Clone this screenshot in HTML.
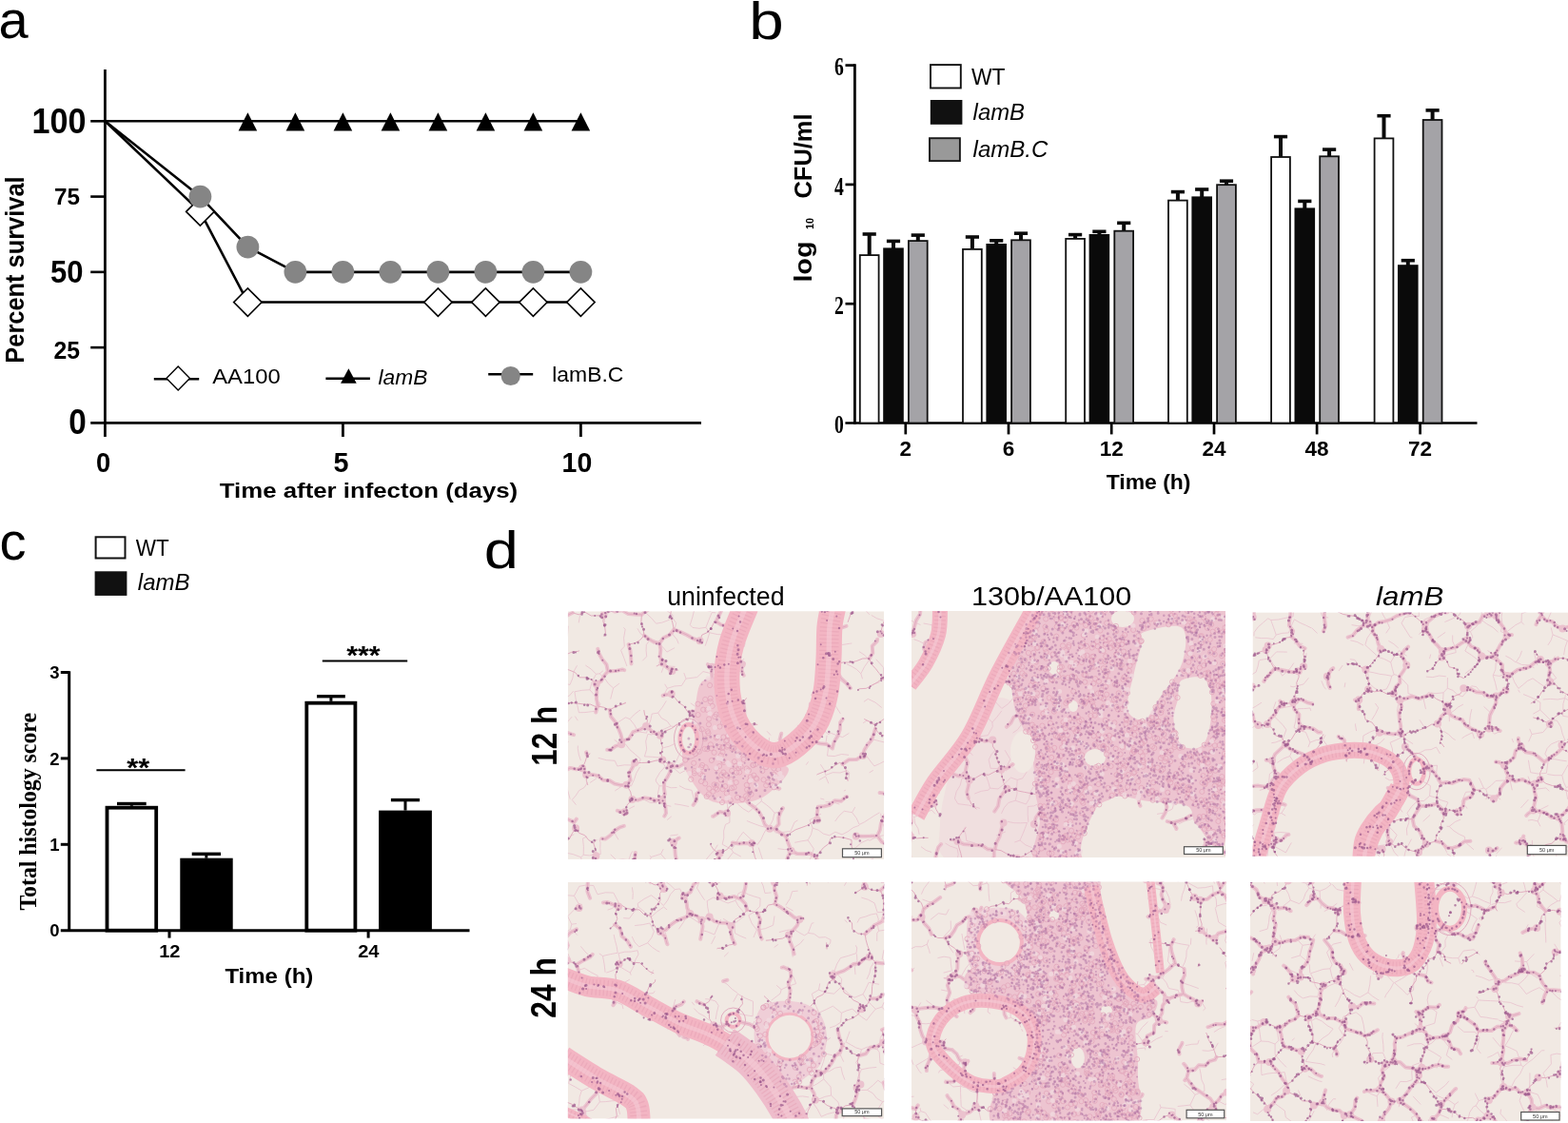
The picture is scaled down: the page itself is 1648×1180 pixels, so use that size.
<!DOCTYPE html>
<html><head><meta charset="utf-8"><title>Figure</title>
<style>html,body{margin:0;padding:0;background:#fff;}svg{display:block;}</style></head>
<body><svg width="1648" height="1180" viewBox="0 0 1648 1180">
<defs><filter id="soft" x="0" y="0" width="1" height="1"><feGaussianBlur stdDeviation="0.45"/></filter></defs>
<rect width="1648" height="1180" fill="#fff"/>
<text x="-1.5" y="40" font-family="'Liberation Sans', Arial, sans-serif" font-size="56" font-weight="normal" font-style="normal" text-anchor="start" fill="#000" >a</text>
<line x1="110.4" y1="73" x2="110.4" y2="459" stroke="#000" stroke-width="2.8" stroke-linecap="butt"/>
<line x1="95.2" y1="444.4" x2="737" y2="444.4" stroke="#000" stroke-width="2.6" stroke-linecap="butt"/>
<line x1="95.2" y1="206.575" x2="110.4" y2="206.575" stroke="#000" stroke-width="2.6" stroke-linecap="butt"/>
<line x1="95.2" y1="285.85" x2="110.4" y2="285.85" stroke="#000" stroke-width="2.6" stroke-linecap="butt"/>
<line x1="95.2" y1="365.125" x2="110.4" y2="365.125" stroke="#000" stroke-width="2.6" stroke-linecap="butt"/>
<line x1="95.2" y1="127.30000000000001" x2="110.4" y2="127.30000000000001" stroke="#000" stroke-width="2.6" stroke-linecap="butt"/>
<line x1="360.4" y1="444.4" x2="360.4" y2="459" stroke="#000" stroke-width="2.8" stroke-linecap="butt"/>
<line x1="610.4" y1="444.4" x2="610.4" y2="459" stroke="#000" stroke-width="2.8" stroke-linecap="butt"/>
<text x="90.5" y="140.3" font-family="'Liberation Sans', Arial, sans-serif" font-size="36.5" font-weight="bold" font-style="normal" text-anchor="end" fill="#000" textLength="57" lengthAdjust="spacingAndGlyphs" >100</text>
<text x="84" y="214.8" font-family="'Liberation Sans', Arial, sans-serif" font-size="24" font-weight="bold" font-style="normal" text-anchor="end" fill="#000" textLength="27" lengthAdjust="spacingAndGlyphs" >75</text>
<text x="87.5" y="297.3" font-family="'Liberation Sans', Arial, sans-serif" font-size="34" font-weight="bold" font-style="normal" text-anchor="end" fill="#000" textLength="34.5" lengthAdjust="spacingAndGlyphs" >50</text>
<text x="84" y="377.4" font-family="'Liberation Sans', Arial, sans-serif" font-size="25" font-weight="bold" font-style="normal" text-anchor="end" fill="#000" textLength="27.5" lengthAdjust="spacingAndGlyphs" >25</text>
<text x="90.8" y="456.3" font-family="'Liberation Sans', Arial, sans-serif" font-size="37.5" font-weight="bold" font-style="normal" text-anchor="end" fill="#000" textLength="18.5" lengthAdjust="spacingAndGlyphs" >0</text>
<text x="108.6" y="496.2" font-family="'Liberation Sans', Arial, sans-serif" font-size="30" font-weight="bold" font-style="normal" text-anchor="middle" fill="#000" textLength="15.2" lengthAdjust="spacingAndGlyphs" >0</text>
<text x="358.6" y="496.2" font-family="'Liberation Sans', Arial, sans-serif" font-size="30" font-weight="bold" font-style="normal" text-anchor="middle" fill="#000" textLength="16" lengthAdjust="spacingAndGlyphs" >5</text>
<text x="606.4" y="496.2" font-family="'Liberation Sans', Arial, sans-serif" font-size="30" font-weight="bold" font-style="normal" text-anchor="middle" fill="#000" textLength="31.7" lengthAdjust="spacingAndGlyphs" >10</text>
<text x="230.8" y="523" font-family="'Liberation Sans', Arial, sans-serif" font-size="22.5" font-weight="bold" font-style="normal" text-anchor="start" fill="#000" textLength="313.4" lengthAdjust="spacingAndGlyphs" >Time after infecton (days)</text>
<text transform="translate(25.4,381.7) rotate(-90)" font-family="'Liberation Sans', Arial, sans-serif" font-size="28" font-weight="bold" textLength="196.3" lengthAdjust="spacingAndGlyphs">Percent survival</text>
<line x1="110.4" y1="127.30000000000001" x2="610.4" y2="127.30000000000001" stroke="#000" stroke-width="2.6" stroke-linecap="butt"/>
<polygon points="250.60,137.60 270.20,137.60 260.40,118.20" fill="#000"/>
<polygon points="300.60,137.60 320.20,137.60 310.40,118.20" fill="#000"/>
<polygon points="350.60,137.60 370.20,137.60 360.40,118.20" fill="#000"/>
<polygon points="400.60,137.60 420.20,137.60 410.40,118.20" fill="#000"/>
<polygon points="450.60,137.60 470.20,137.60 460.40,118.20" fill="#000"/>
<polygon points="500.60,137.60 520.20,137.60 510.40,118.20" fill="#000"/>
<polygon points="550.60,137.60 570.20,137.60 560.40,118.20" fill="#000"/>
<polygon points="600.60,137.60 620.20,137.60 610.40,118.20" fill="#000"/>
<polyline points="110.40,127.30 210.40,206.57 260.40,259.53 310.40,285.85 360.40,285.85 410.40,285.85 460.40,285.85 510.40,285.85 560.40,285.85 610.40,285.85" fill="none" stroke="#000" stroke-width="2.6" stroke-linejoin="round"/>
<polyline points="110.40,127.30 210.40,222.43 260.40,317.56 610.40,317.56" fill="none" stroke="#000" stroke-width="2.6" stroke-linejoin="round"/>
<polygon points="195.65,222.43 210.40,207.68 225.15,222.43 210.40,237.18" fill="#fff" stroke="#000" stroke-width="1.6"/>
<polygon points="245.65,317.56 260.40,302.81 275.15,317.56 260.40,332.31" fill="#fff" stroke="#000" stroke-width="1.6"/>
<polygon points="445.65,317.56 460.40,302.81 475.15,317.56 460.40,332.31" fill="#fff" stroke="#000" stroke-width="1.6"/>
<polygon points="495.65,317.56 510.40,302.81 525.15,317.56 510.40,332.31" fill="#fff" stroke="#000" stroke-width="1.6"/>
<polygon points="545.65,317.56 560.40,302.81 575.15,317.56 560.40,332.31" fill="#fff" stroke="#000" stroke-width="1.6"/>
<polygon points="595.65,317.56 610.40,302.81 625.15,317.56 610.40,332.31" fill="#fff" stroke="#000" stroke-width="1.6"/>
<circle cx="210.40" cy="206.57" r="11.9" fill="#858585"/>
<circle cx="260.40" cy="259.53" r="11.9" fill="#858585"/>
<circle cx="310.40" cy="285.85" r="11.9" fill="#858585"/>
<circle cx="360.40" cy="285.85" r="11.9" fill="#858585"/>
<circle cx="410.40" cy="285.85" r="11.9" fill="#858585"/>
<circle cx="460.40" cy="285.85" r="11.9" fill="#858585"/>
<circle cx="510.40" cy="285.85" r="11.9" fill="#858585"/>
<circle cx="560.40" cy="285.85" r="11.9" fill="#858585"/>
<circle cx="610.40" cy="285.85" r="11.9" fill="#858585"/>
<line x1="161.8" y1="398.2" x2="209.2" y2="398.2" stroke="#000" stroke-width="2.6" stroke-linecap="butt"/>
<polygon points="174.90,397.50 187.20,384.95 199.50,397.50 187.20,410.05" fill="#fff" stroke="#000" stroke-width="1.4"/>
<text x="223.2" y="402.8" font-family="'Liberation Sans', Arial, sans-serif" font-size="21.6" font-weight="normal" font-style="normal" text-anchor="start" fill="#000" textLength="71.5" lengthAdjust="spacingAndGlyphs" >AA100</text>
<line x1="342.4" y1="397.7" x2="388.9" y2="397.7" stroke="#000" stroke-width="2.6" stroke-linecap="butt"/>
<polygon points="358.05,402.80 374.75,402.80 366.40,387.30" fill="#000"/>
<text x="397.5" y="404.2" font-family="'Liberation Sans', Arial, sans-serif" font-size="22.4" font-weight="normal" font-style="italic" text-anchor="start" fill="#000" textLength="51.8" lengthAdjust="spacingAndGlyphs" >lamB</text>
<line x1="513.2" y1="393.3" x2="560.2" y2="393.3" stroke="#000" stroke-width="2.6" stroke-linecap="butt"/>
<circle cx="536.7" cy="395" r="10.1" fill="#858585"/>
<text x="580.2" y="401.3" font-family="'Liberation Sans', Arial, sans-serif" font-size="22" font-weight="normal" font-style="normal" text-anchor="start" fill="#000" textLength="75.2" lengthAdjust="spacingAndGlyphs" >lamB.C</text>
<text transform="translate(787.2,40.5) scale(1.17,1)" font-family="'Liberation Sans', Arial, sans-serif" font-size="56">b</text>
<line x1="898.4" y1="67.3" x2="898.4" y2="445.8" stroke="#000" stroke-width="2.8" stroke-linecap="butt"/>
<line x1="888.4" y1="444.5" x2="1552.5" y2="444.5" stroke="#000" stroke-width="2.7" stroke-linecap="butt"/>
<line x1="888.5" y1="68.60000000000002" x2="898.4" y2="68.60000000000002" stroke="#000" stroke-width="2.7" stroke-linecap="butt"/>
<line x1="888.5" y1="193.9" x2="898.4" y2="193.9" stroke="#000" stroke-width="2.7" stroke-linecap="butt"/>
<line x1="888.5" y1="319.2" x2="898.4" y2="319.2" stroke="#000" stroke-width="2.7" stroke-linecap="butt"/>
<text x="886.8" y="79" font-family="'Liberation Serif', 'Times New Roman', serif" font-size="28" font-weight="bold" font-style="normal" text-anchor="end" fill="#000" textLength="9.8" lengthAdjust="spacingAndGlyphs" >6</text>
<text x="886.8" y="204.6" font-family="'Liberation Serif', 'Times New Roman', serif" font-size="28" font-weight="bold" font-style="normal" text-anchor="end" fill="#000" textLength="9.8" lengthAdjust="spacingAndGlyphs" >4</text>
<text x="886.8" y="330" font-family="'Liberation Serif', 'Times New Roman', serif" font-size="28" font-weight="bold" font-style="normal" text-anchor="end" fill="#000" textLength="9.8" lengthAdjust="spacingAndGlyphs" >2</text>
<text x="886.8" y="454.7" font-family="'Liberation Serif', 'Times New Roman', serif" font-size="28" font-weight="bold" font-style="normal" text-anchor="end" fill="#000" textLength="9.8" lengthAdjust="spacingAndGlyphs" >0</text>
<line x1="951.8" y1="444.5" x2="951.8" y2="456.4" stroke="#000" stroke-width="2.7" stroke-linecap="butt"/>
<text x="951.8" y="478.8" font-family="'Liberation Sans', Arial, sans-serif" font-size="22.5" font-weight="bold" font-style="normal" text-anchor="middle" fill="#000" >2</text>
<line x1="1060.0" y1="444.5" x2="1060.0" y2="456.4" stroke="#000" stroke-width="2.7" stroke-linecap="butt"/>
<text x="1060.0" y="478.8" font-family="'Liberation Sans', Arial, sans-serif" font-size="22.5" font-weight="bold" font-style="normal" text-anchor="middle" fill="#000" >6</text>
<line x1="1168.2" y1="444.5" x2="1168.2" y2="456.4" stroke="#000" stroke-width="2.7" stroke-linecap="butt"/>
<text x="1168.2" y="478.8" font-family="'Liberation Sans', Arial, sans-serif" font-size="22.5" font-weight="bold" font-style="normal" text-anchor="middle" fill="#000" >12</text>
<line x1="1276.0" y1="444.5" x2="1276.0" y2="456.4" stroke="#000" stroke-width="2.7" stroke-linecap="butt"/>
<text x="1276.0" y="478.8" font-family="'Liberation Sans', Arial, sans-serif" font-size="22.5" font-weight="bold" font-style="normal" text-anchor="middle" fill="#000" >24</text>
<line x1="1384.1" y1="444.5" x2="1384.1" y2="456.4" stroke="#000" stroke-width="2.7" stroke-linecap="butt"/>
<text x="1384.1" y="478.8" font-family="'Liberation Sans', Arial, sans-serif" font-size="22.5" font-weight="bold" font-style="normal" text-anchor="middle" fill="#000" >48</text>
<line x1="1492.6" y1="444.5" x2="1492.6" y2="456.4" stroke="#000" stroke-width="2.7" stroke-linecap="butt"/>
<text x="1492.6" y="478.8" font-family="'Liberation Sans', Arial, sans-serif" font-size="22.5" font-weight="bold" font-style="normal" text-anchor="middle" fill="#000" >72</text>
<text x="1162.7" y="513.6" font-family="'Liberation Sans', Arial, sans-serif" font-size="22.5" font-weight="bold" font-style="normal" text-anchor="start" fill="#000" textLength="88.8" lengthAdjust="spacingAndGlyphs" >Time (h)</text>
<text transform="translate(853.4,296.6) rotate(-90)" font-family="'Liberation Sans', Arial, sans-serif" font-weight="bold" font-size="25"><tspan textLength="43" lengthAdjust="spacingAndGlyphs">log</tspan></text>
<text transform="translate(855.4,240.9) rotate(-90)" font-family="'Liberation Sans', Arial, sans-serif" font-weight="bold" font-size="11.5"><tspan textLength="12" lengthAdjust="spacingAndGlyphs">10</tspan></text>
<text transform="translate(853.4,208.5) rotate(-90)" font-family="'Liberation Sans', Arial, sans-serif" font-weight="bold" font-size="25"><tspan textLength="89" lengthAdjust="spacingAndGlyphs">CFU/ml</tspan></text>
<line x1="913.6999999999998" y1="268.7" x2="913.6999999999998" y2="245.4" stroke="#0a0a0a" stroke-width="4.0" stroke-linecap="butt"/>
<line x1="906.5999999999998" y1="246.0" x2="920.7999999999998" y2="246.0" stroke="#0a0a0a" stroke-width="3.6" stroke-linecap="butt"/>
<rect x="903.80" y="268.10" width="19.8" height="176.40" fill="#fff" stroke="#111" stroke-width="1.8"/>
<line x1="938.9999999999999" y1="261.9" x2="938.9999999999999" y2="252.8" stroke="#0a0a0a" stroke-width="4.0" stroke-linecap="butt"/>
<line x1="931.8999999999999" y1="253.4" x2="946.0999999999999" y2="253.4" stroke="#0a0a0a" stroke-width="3.6" stroke-linecap="butt"/>
<rect x="928.20" y="260.40" width="21.6" height="184.10" fill="#0a0a0a"/>
<line x1="964.8" y1="253.7" x2="964.8" y2="246.5" stroke="#0a0a0a" stroke-width="4.0" stroke-linecap="butt"/>
<line x1="957.6999999999999" y1="247.1" x2="971.9" y2="247.1" stroke="#0a0a0a" stroke-width="3.6" stroke-linecap="butt"/>
<rect x="954.90" y="253.10" width="19.8" height="191.40" fill="#a4a3a7" stroke="#111" stroke-width="1.8"/>
<line x1="1021.9" y1="262.5" x2="1021.9" y2="248.4" stroke="#0a0a0a" stroke-width="4.0" stroke-linecap="butt"/>
<line x1="1014.8" y1="249.0" x2="1029.0" y2="249.0" stroke="#0a0a0a" stroke-width="3.6" stroke-linecap="butt"/>
<rect x="1012.00" y="261.90" width="19.8" height="182.60" fill="#fff" stroke="#111" stroke-width="1.8"/>
<line x1="1047.2" y1="257.5" x2="1047.2" y2="252.2" stroke="#0a0a0a" stroke-width="4.0" stroke-linecap="butt"/>
<line x1="1040.1000000000001" y1="252.79999999999998" x2="1054.3" y2="252.79999999999998" stroke="#0a0a0a" stroke-width="3.6" stroke-linecap="butt"/>
<rect x="1036.40" y="256.00" width="21.6" height="188.50" fill="#0a0a0a"/>
<line x1="1073.0" y1="252.9" x2="1073.0" y2="244.6" stroke="#0a0a0a" stroke-width="4.0" stroke-linecap="butt"/>
<line x1="1065.9" y1="245.2" x2="1080.1" y2="245.2" stroke="#0a0a0a" stroke-width="3.6" stroke-linecap="butt"/>
<rect x="1063.10" y="252.30" width="19.8" height="192.20" fill="#a4a3a7" stroke="#111" stroke-width="1.8"/>
<line x1="1130.1000000000001" y1="251.5" x2="1130.1000000000001" y2="246.0" stroke="#0a0a0a" stroke-width="4.0" stroke-linecap="butt"/>
<line x1="1123.0000000000002" y1="246.6" x2="1137.2" y2="246.6" stroke="#0a0a0a" stroke-width="3.6" stroke-linecap="butt"/>
<rect x="1120.20" y="250.90" width="19.8" height="193.60" fill="#fff" stroke="#111" stroke-width="1.8"/>
<line x1="1155.4" y1="247.5" x2="1155.4" y2="242.7" stroke="#0a0a0a" stroke-width="4.0" stroke-linecap="butt"/>
<line x1="1148.3000000000002" y1="243.29999999999998" x2="1162.5" y2="243.29999999999998" stroke="#0a0a0a" stroke-width="3.6" stroke-linecap="butt"/>
<rect x="1144.60" y="246.00" width="21.6" height="198.50" fill="#0a0a0a"/>
<line x1="1181.2" y1="243.3" x2="1181.2" y2="233.7" stroke="#0a0a0a" stroke-width="4.0" stroke-linecap="butt"/>
<line x1="1174.1000000000001" y1="234.29999999999998" x2="1188.3" y2="234.29999999999998" stroke="#0a0a0a" stroke-width="3.6" stroke-linecap="butt"/>
<rect x="1171.30" y="242.70" width="19.8" height="201.80" fill="#a4a3a7" stroke="#111" stroke-width="1.8"/>
<line x1="1237.9" y1="211.2" x2="1237.9" y2="201.0" stroke="#0a0a0a" stroke-width="4.0" stroke-linecap="butt"/>
<line x1="1230.8000000000002" y1="201.6" x2="1245.0" y2="201.6" stroke="#0a0a0a" stroke-width="3.6" stroke-linecap="butt"/>
<rect x="1228.00" y="210.60" width="19.8" height="233.90" fill="#fff" stroke="#111" stroke-width="1.8"/>
<line x1="1263.2" y1="207.9" x2="1263.2" y2="198.4" stroke="#0a0a0a" stroke-width="4.0" stroke-linecap="butt"/>
<line x1="1256.1000000000001" y1="199.0" x2="1270.3" y2="199.0" stroke="#0a0a0a" stroke-width="3.6" stroke-linecap="butt"/>
<rect x="1252.40" y="206.40" width="21.6" height="238.10" fill="#0a0a0a"/>
<line x1="1289.0" y1="194.8" x2="1289.0" y2="189.6" stroke="#0a0a0a" stroke-width="4.0" stroke-linecap="butt"/>
<line x1="1281.9" y1="190.2" x2="1296.1" y2="190.2" stroke="#0a0a0a" stroke-width="3.6" stroke-linecap="butt"/>
<rect x="1279.10" y="194.20" width="19.8" height="250.30" fill="#a4a3a7" stroke="#111" stroke-width="1.8"/>
<line x1="1346.0" y1="165.6" x2="1346.0" y2="143.0" stroke="#0a0a0a" stroke-width="4.0" stroke-linecap="butt"/>
<line x1="1338.9" y1="143.6" x2="1353.1" y2="143.6" stroke="#0a0a0a" stroke-width="3.6" stroke-linecap="butt"/>
<rect x="1336.10" y="165.00" width="19.8" height="279.50" fill="#fff" stroke="#111" stroke-width="1.8"/>
<line x1="1371.3" y1="219.9" x2="1371.3" y2="210.8" stroke="#0a0a0a" stroke-width="4.0" stroke-linecap="butt"/>
<line x1="1364.2" y1="211.4" x2="1378.3999999999999" y2="211.4" stroke="#0a0a0a" stroke-width="3.6" stroke-linecap="butt"/>
<rect x="1360.50" y="218.40" width="21.6" height="226.10" fill="#0a0a0a"/>
<line x1="1397.1" y1="164.9" x2="1397.1" y2="156.5" stroke="#0a0a0a" stroke-width="4.0" stroke-linecap="butt"/>
<line x1="1390.0" y1="157.1" x2="1404.1999999999998" y2="157.1" stroke="#0a0a0a" stroke-width="3.6" stroke-linecap="butt"/>
<rect x="1387.20" y="164.30" width="19.8" height="280.20" fill="#a4a3a7" stroke="#111" stroke-width="1.8"/>
<line x1="1454.5" y1="146.0" x2="1454.5" y2="121.1" stroke="#0a0a0a" stroke-width="4.0" stroke-linecap="butt"/>
<line x1="1447.4" y1="121.69999999999999" x2="1461.6" y2="121.69999999999999" stroke="#0a0a0a" stroke-width="3.6" stroke-linecap="butt"/>
<rect x="1444.60" y="145.40" width="19.8" height="299.10" fill="#fff" stroke="#111" stroke-width="1.8"/>
<line x1="1479.8" y1="279.7" x2="1479.8" y2="273.1" stroke="#0a0a0a" stroke-width="4.0" stroke-linecap="butt"/>
<line x1="1472.7" y1="273.70000000000005" x2="1486.8999999999999" y2="273.70000000000005" stroke="#0a0a0a" stroke-width="3.6" stroke-linecap="butt"/>
<rect x="1469.00" y="278.20" width="21.6" height="166.30" fill="#0a0a0a"/>
<line x1="1505.6" y1="126.6" x2="1505.6" y2="115.3" stroke="#0a0a0a" stroke-width="4.0" stroke-linecap="butt"/>
<line x1="1498.5" y1="115.89999999999999" x2="1512.6999999999998" y2="115.89999999999999" stroke="#0a0a0a" stroke-width="3.6" stroke-linecap="butt"/>
<rect x="1495.70" y="126.00" width="19.8" height="318.50" fill="#a4a3a7" stroke="#111" stroke-width="1.8"/>
<rect x="978" y="68.1" width="31.8" height="24.4" fill="#fff" stroke="#111" stroke-width="1.9"/>
<rect x="977.8" y="105" width="33.6" height="25.8" fill="#111"/>
<rect x="977" y="145.2" width="31.9" height="23.9" fill="#999" stroke="#1a1a1a" stroke-width="1.9"/>
<text x="1021" y="88.6" font-family="'Liberation Sans', Arial, sans-serif" font-size="24" font-weight="normal" font-style="normal" text-anchor="start" fill="#000" textLength="35.6" lengthAdjust="spacingAndGlyphs" >WT</text>
<text x="1022.6" y="125.7" font-family="'Liberation Sans', Arial, sans-serif" font-size="23.5" font-weight="normal" font-style="italic" text-anchor="start" fill="#000" textLength="54.4" lengthAdjust="spacingAndGlyphs" >lamB</text>
<text x="1022.6" y="164.9" font-family="'Liberation Sans', Arial, sans-serif" font-size="23.5" font-weight="normal" font-style="italic" text-anchor="start" fill="#000" textLength="78.8" lengthAdjust="spacingAndGlyphs" >lamB.C</text>
<text x="-0.5" y="588.1" font-family="'Liberation Sans', Arial, sans-serif" font-size="56" font-weight="normal" font-style="normal" text-anchor="start" fill="#000" >c</text>
<line x1="72.7" y1="705.3" x2="72.7" y2="979" stroke="#000" stroke-width="3.0" stroke-linecap="butt"/>
<line x1="63.8" y1="977.7" x2="493.5" y2="977.7" stroke="#000" stroke-width="2.9" stroke-linecap="butt"/>
<line x1="63.8" y1="706.5" x2="72.7" y2="706.5" stroke="#000" stroke-width="3.0" stroke-linecap="butt"/>
<line x1="63.8" y1="796.9" x2="72.7" y2="796.9" stroke="#000" stroke-width="3.0" stroke-linecap="butt"/>
<line x1="63.8" y1="887.3000000000001" x2="72.7" y2="887.3000000000001" stroke="#000" stroke-width="3.0" stroke-linecap="butt"/>
<line x1="178.0" y1="977.7" x2="178.0" y2="985.6" stroke="#000" stroke-width="3.0" stroke-linecap="butt"/>
<line x1="387.1" y1="977.7" x2="387.1" y2="985.6" stroke="#000" stroke-width="3.0" stroke-linecap="butt"/>
<text x="62.5" y="713.3" font-family="'Liberation Sans', Arial, sans-serif" font-size="18.5" font-weight="bold" font-style="normal" text-anchor="end" fill="#000" >3</text>
<text x="62.5" y="803.6" font-family="'Liberation Sans', Arial, sans-serif" font-size="18.5" font-weight="bold" font-style="normal" text-anchor="end" fill="#000" >2</text>
<text x="62.5" y="894" font-family="'Liberation Sans', Arial, sans-serif" font-size="18.5" font-weight="bold" font-style="normal" text-anchor="end" fill="#000" >1</text>
<text x="62.5" y="984.3" font-family="'Liberation Sans', Arial, sans-serif" font-size="18.5" font-weight="bold" font-style="normal" text-anchor="end" fill="#000" >0</text>
<text x="178.3" y="1005.5" font-family="'Liberation Sans', Arial, sans-serif" font-size="18.5" font-weight="bold" font-style="normal" text-anchor="middle" fill="#000" textLength="22.3" lengthAdjust="spacingAndGlyphs" >12</text>
<text x="387.3" y="1005.5" font-family="'Liberation Sans', Arial, sans-serif" font-size="18.5" font-weight="bold" font-style="normal" text-anchor="middle" fill="#000" textLength="22.3" lengthAdjust="spacingAndGlyphs" >24</text>
<text x="236.4" y="1033.1" font-family="'Liberation Sans', Arial, sans-serif" font-size="22.8" font-weight="bold" font-style="normal" text-anchor="start" fill="#000" textLength="92.9" lengthAdjust="spacingAndGlyphs" >Time (h)</text>
<text transform="translate(38.3,956.6) rotate(-90)" font-family="'Liberation Serif', 'Times New Roman', serif" font-weight="bold" font-size="25" textLength="207.6" lengthAdjust="spacingAndGlyphs">Total histology score</text>
<line x1="138.35" y1="846.8" x2="138.35" y2="844.5" stroke="#000" stroke-width="3.0" stroke-linecap="butt"/>
<line x1="123" y1="844.5" x2="153.7" y2="844.5" stroke="#000" stroke-width="3.4" stroke-linecap="butt"/>
<rect x="112.50" y="848.70" width="51.70" height="129.00" fill="#fff" stroke="#000" stroke-width="3.8"/>
<line x1="216.85" y1="901.7" x2="216.85" y2="897.3" stroke="#000" stroke-width="3.0" stroke-linecap="butt"/>
<line x1="201.7" y1="897.3" x2="232" y2="897.3" stroke="#000" stroke-width="3.4" stroke-linecap="butt"/>
<rect x="189.3" y="901.7" width="55.40" height="76.00" fill="#000"/>
<line x1="347.9" y1="736.8" x2="347.9" y2="731.7" stroke="#000" stroke-width="3.0" stroke-linecap="butt"/>
<line x1="333" y1="731.7" x2="362.8" y2="731.7" stroke="#000" stroke-width="3.4" stroke-linecap="butt"/>
<rect x="322.30" y="738.70" width="51.10" height="239.00" fill="#fff" stroke="#000" stroke-width="3.8"/>
<line x1="426.0" y1="851.6" x2="426.0" y2="840.6" stroke="#000" stroke-width="3.0" stroke-linecap="butt"/>
<line x1="410.9" y1="840.6" x2="441.1" y2="840.6" stroke="#000" stroke-width="3.4" stroke-linecap="butt"/>
<rect x="398.1" y="851.6" width="55.80" height="126.10" fill="#000"/>
<line x1="101.4" y1="809.2" x2="194.6" y2="809.2" stroke="#000" stroke-width="2.0" stroke-linecap="butt"/>
<text x="145.3" y="815.5" font-family="'Liberation Sans', Arial, sans-serif" font-size="27" font-weight="bold" font-style="normal" text-anchor="middle" fill="#000" textLength="24" lengthAdjust="spacingAndGlyphs" >**</text>
<line x1="338.8" y1="694.4" x2="428.2" y2="694.4" stroke="#000" stroke-width="2.0" stroke-linecap="butt"/>
<text x="381.9" y="697.5" font-family="'Liberation Sans', Arial, sans-serif" font-size="27" font-weight="bold" font-style="normal" text-anchor="middle" fill="#000" textLength="35.5" lengthAdjust="spacingAndGlyphs" >***</text>
<rect x="100.6" y="564.3" width="30.9" height="22.2" fill="#fff" stroke="#111" stroke-width="2"/>
<rect x="99.6" y="600.3" width="33.8" height="25.6" fill="#111"/>
<text x="142.7" y="583.7" font-family="'Liberation Sans', Arial, sans-serif" font-size="23.6" font-weight="normal" font-style="normal" text-anchor="start" fill="#000" textLength="35" lengthAdjust="spacingAndGlyphs" >WT</text>
<text x="144.8" y="620.1" font-family="'Liberation Sans', Arial, sans-serif" font-size="23.6" font-weight="normal" font-style="italic" text-anchor="start" fill="#000" textLength="54.7" lengthAdjust="spacingAndGlyphs" >lamB</text>
<text transform="translate(508.8,597) scale(1.16,1)" font-family="'Liberation Sans', Arial, sans-serif" font-size="56">d</text>
<text x="701.2" y="635.5" font-family="'Liberation Sans', Arial, sans-serif" font-size="27.5" font-weight="normal" font-style="normal" text-anchor="start" fill="#000" textLength="123.3" lengthAdjust="spacingAndGlyphs" >uninfected</text>
<text x="1021" y="635.7" font-family="'Liberation Sans', Arial, sans-serif" font-size="27.5" font-weight="normal" font-style="normal" text-anchor="start" fill="#000" textLength="168.3" lengthAdjust="spacingAndGlyphs" >130b/AA100</text>
<text x="1446.1" y="635.7" font-family="'Liberation Sans', Arial, sans-serif" font-size="27.5" font-weight="normal" font-style="italic" text-anchor="start" fill="#000" textLength="71.1" lengthAdjust="spacingAndGlyphs" >lamB</text>
<text transform="translate(584.5,804.7) rotate(-90) scale(0.86,1)" font-family="'Liberation Sans', Arial, sans-serif" font-weight="bold" font-size="36.5">12 h</text>
<text transform="translate(584.2,1069.7) rotate(-90) scale(0.87,1)" font-family="'Liberation Sans', Arial, sans-serif" font-weight="bold" font-size="36.5">24 h</text>
<g transform="translate(596.9,642.3)" clip-path="url(#hc0)"><g filter="url(#soft)">
<clipPath id="hc0"><rect width="332.2" height="260.6"/></clipPath>
<rect width="332.2" height="260.6" fill="#f1e9e3"/>
<path d="M140 75C145 68.7 157 67.8 162 72C167 76.2 166.5 90.3 170 100C173.5 109.7 176.3 120.7 183 130C189.7 139.3 201.8 150 210 156C218.2 162 231.2 160.7 232 166C232.8 171.3 221.7 182.3 215 188C208.3 193.7 202.5 198 192 200C181.5 202 162.3 203.7 152 200C141.7 196.3 135.3 186.3 130 178C124.7 169.7 119.7 161.3 120 150C120.3 138.7 128.7 122.5 132 110C135.3 97.5 135 81.3 140 75Z" fill="#eec0cc" opacity="0.85"/>
<path d="M195 -5C207.7 -12.5 251 -15.8 262 -5C273 5.8 262.3 42.5 261 60C259.7 77.5 258.2 89.3 254 100C249.8 110.7 242.3 119.3 236 124C229.7 128.7 222.5 129.3 216 128C209.5 126.7 202 123.7 197 116C192 108.3 187.8 94.7 186 82C184.2 69.3 184.5 54.5 186 40C187.5 25.5 182.3 2.5 195 -5Z" fill="#f1e9e3"/>
<path d="M334.2 262.8L336.2 259.3M317 3.5L312.8 -1L311.2 -4M336.2 3.9L335.4 7.9M318.9 4.1L324.9 7.6L331.5 9.6M272.1 -4L265.8 0.1M185.2 49.7L183.9 51.1L180.3 58M181.2 62.4L180.3 58M219.6 186.4L222.1 188.8M63.9 261.3L57.4 260.6L50.9 261.4M63.9 261.3L66.3 254.6L68.1 252M50.9 261.4L44.8 255.5M15.2 -0.1L12.4 5.7L11.3 12.1M31 -4L34.4 -0.7L38.5 4.5M38.5 4.5L38.4 14.5M11.9 -4L15.2 -0.1M328.8 212.4L329.7 219.7L332.4 226.7L332.5 234.1M336.2 233L332.5 234.1M213.2 130.3L209.2 126M334.6 138.2L327.4 136.4L320.3 134.5M322.1 117.8L314.1 114.9M311 95.1L315.4 92.1M315.4 92.1L323.1 95.8L329.8 101.2M336.2 101.9L334.3 100.2M295.4 78.5L295.4 82.1M295.4 78.5L286.3 72.9M286.3 72.9L277 75.4M176.9 98.6L176.9 91.5L179.2 84.8M179.2 84.8L173.9 81.3L168.3 78.5L164.9 76.8M181.2 62.4L175.6 67.6L169.4 72.1L164.1 74.9M333 157.3L336.2 159.7M313.7 138.6L320.3 134.5M313.7 138.6L310.2 147.7M333 157.3L327.6 160.2L322 162.6M310.2 147.7L314.3 152.6L318 157.7L322 162.6M212.2 149.5L217.3 154L222.5 158.4M222.5 158.4L222.5 161M211.6 132.8L210.9 141.2L212.2 149.5M200.4 248.3L202.4 254.4L204.4 260.5L205.4 264.6M-3.4 253.6L5.4 255.3L13.8 258.5M13.8 258.5L14.6 264.6M50.9 261.4L49.7 264.6M63.9 261.3L64.7 264.6M85.3 264.6L85.5 263.9L87.5 258.2M85.9 256.7L87.5 258.2M120.4 262.2L113.5 264.6M104.9 264.6L102.2 260.3L97.7 255M97.7 255L100.3 249.8M121.4 264.6L120.4 262.2M87.5 258.2L97.7 255M130.1 188L123.2 186.6L117 183.3M117.6 170.3L123.5 167.2L123.8 167.1M133.4 203.2L132.3 196.6L130.1 188M38.5 4.5L44.1 0.9L49.4 -3.1L51 -4M60.3 19L58.5 17.1M89.9 -4L89.2 -3.4L82.3 2.1M144.3 36.4L146.7 29.6L148.9 22.5M131 17.1L138 18L145 17M148.9 22.5L145 17M73.6 126.5L82.7 127.9M60.1 139L64.8 145.2L70.6 150.2L76.4 155.3M80.5 152.6L82.8 144.9L81.8 136.7L84 129.1M73.1 18.1L76.2 23.4L81.3 27L84.7 32.1M84.7 32.1L82.4 35.2M60.3 19L58.7 27.9L59.4 36.9M100.6 58.1L98.3 64.5M82.8 47.5L78.4 52M57 97.8L60.5 95.5M76.2 103.8L74.7 104.6L69.6 108.6L65.1 113.3M65.1 113.3L60.6 111.5M31.2 104.9L34 97.1M48 119L53.8 116L60.6 111.5M54.2 75.9L53.7 76.1L47.7 80.7M44.8 92.2L47.7 80.7M103.4 94.2L99.4 100.7L94.7 106.8M94.7 106.8L88.3 107.8M73.6 126.5L70 119.5L65.1 113.3M82.7 127.9L84.2 121.1L86.9 114.6L88.3 107.8M101.8 76.5L104.5 81M104.5 81L101.4 86.9M49.3 157L40.4 156.4L31.8 154M48.8 134.9L54.3 139.6M60.1 139L54.3 139.6M10.5 141.2L10.4 144.4L11.5 150.7L13.5 156.9M0.7 137.1L-3.1 139.5M11.5 106.4L10 99.1L8.2 91.8L7 84.5M-4 91.4L-3.8 91.3L1.7 88.5L5.7 83.9M31.2 104.9L24.7 105.4L18.1 106.3L11.5 106.4M10.4 114.9L7.4 110.3M-3.9 121.5L-0.2 115.9L4.3 110.8M34 97.1L29.9 92.5L27 87.1L23 82.5M23 82.5L14.9 83L7 84.5M2.1 77.2L-4 75.7M270.8 173.4L274 181M270.8 173.4L264.6 176.9L263.9 177.4M265.4 196.7L269.4 197.8M185.7 133.5L185 124.1M177.8 121.1L182.2 121.1M199.3 119L197.5 119.4L191.1 121.2L185 124.1M193.5 139.2L186.6 134.6M185.6 103.5L182.8 112.1L182.2 121.1M314.1 114.9L310.3 117.4M280.2 97.7L286.5 107.7M260.8 89.7L267.8 89.4L274.6 90.8M279.1 97.3L272.7 101.6L266.8 106.6L261.3 112.2M260.8 89.7L258.2 84.8M250.3 161.4L252.7 158.1M222.5 158.4L228.7 153.6L233.3 147.2M271 172.1L268.9 166.1L265.5 160.9M271 172.1L278.3 169.4L286.2 169.7L293.5 167.3M272.6 151.8L280.2 152.3L287.6 150.2L295.1 151M320.9 167.1L316.7 169.6M293.5 167.3L295.8 169.8M295.5 128L294.8 128.5L288.7 132.3M288.7 132.3L282.6 130.4L276.6 128.1M172.1 250.3L162.3 244.9M172.1 250.3L173.6 253.3M173.6 253.3L169.4 258.8L165.1 264.2L164.8 264.6M157.4 245.4L154.2 250.9L149.7 255.5L145.7 260.3M145.7 260.3L150.4 264.1L151.8 264.6M182 257.9L173.6 253.3M127.2 205.1L126.2 205L119.1 203.5L112 202.4M94.8 200.5L101.4 203.4L108.4 205M94.8 200.5L94.5 191.9L96.1 183.5M114.6 185.2L108.3 185.5L102.3 183.5L96.1 183.5M165.6 224L163.7 230.8L163.9 238L162.3 244.9M165.6 224L170 222M170 222L170 214.5L167.7 207.2L167.7 202.2M184.2 232L189.1 236.6L194 241.1L199.2 245.3M199.2 245.3L203.1 239.6L205.9 233.4L209.4 227.4M209.4 227.4L202.1 225.6L195 223L188 220.2M172.1 250.3L176.1 244.2L179.8 237.9L184.2 232M211.6 226.6L209.4 227.4M211.6 226.6L218.8 232.8M76.4 155.3L74.6 160.1M49.3 157L51.9 162.7M74.6 160.1L67.1 161.7L59.4 161.5L51.9 162.7M93.3 201.4L86.6 201.1L80.4 198.2L73.8 197.9M70.1 204.6L64.4 207.5M59.4 36.9L55.7 40.9M82.4 35.2L82.2 41.4L82.8 47.5M55.7 40.9L59 49.3L62 57.7M163 43.8L164.6 48.9M164.6 48.9L161.2 54.6L157.9 60.5L155.9 67M155.9 67L149.1 65L142.1 63.3M180.3 58L175 55.1L170.4 51L164.6 48.9M158 70.1L155.9 67M135.8 69.3L124.1 70.8M124.1 70.8L119.5 78.1M142.1 63.3L135.8 69.3M134 100.1L128.9 96.5M104.5 81L111.9 78.7L119.5 78.1M92.7 12.9L87.8 7.2L82.3 2.1M128.4 14.3L130.8 6.6L132.8 -1.4M132.8 -1.4L130.9 -4M113.8 12.3L110 7.1M110 7.1L110 3.8M150.2 0.1L141.6 -1.7L132.8 -1.4M131 17.1L128.4 14.3M151.3 1.3L148.1 9.1L145 17M150.2 0.1L149.2 -4M100 -4L104.9 -0L110 3.8M92.7 12.9L98.8 11.9L104.5 9.8L110 7.1M110.2 24.4L112.3 18.4L113.8 12.3M148.9 22.5L157.2 24.3L165.6 24.6M167.6 36.1L165.6 24.6M84 129.1L87.8 129.7M94.7 106.8L98.3 112.2L104.2 115.4L108.1 120.7M108.1 120.7L101.3 123.7L94.7 126.9L87.8 129.7M13.8 258.5L16.3 255.9M34.4 255.2L28.3 255.6L22.4 256.6L16.3 255.9M15.6 238.7L20.1 236.7M15.6 238.7L16.5 247.3L16.3 255.9M34.4 255.2L33.9 249.1L34.1 242.9L33.1 239.5M53.1 240L50 234.8L48.6 228.8M46.3 230L48.6 228.8M6.7 219L0.1 219.3L-4 219.4M6.4 234.4L0.8 237.2L-4 239.5M2.3 197.4L0.5 190.8L-1.3 184.3L-4 178.6M4.4 198.1L8.4 193.5L11.7 188.3L17.3 185.1L20.5 179.9M30.4 175.3L23.2 180.2M4.4 198.1L8.5 203.4M6.7 219L8.6 216.8M9.6 57L6.1 63.4L4.9 70.5L2.1 77.2M0.3 15.4L-0.4 24L-3 32.2M254.7 260.4L249.3 263.2M334.2 262.8L328.9 264.5M331.9 235.4L324.2 237.1L317.2 240.9M296 264.6L297.1 261.2M297.1 261.2L305 264.6M321.2 259.7L314.4 263.1L310 264.6M221.8 211L217.1 211.9M211.6 226.6L215.3 219.6L217.1 211.9M218.8 232.8L226.3 232L233.9 231.4M233.9 231.4L238.2 221.6M238.2 221.6L241.6 219.6M254.7 260.4L258.4 249.6M235 249.9L227.8 250.3L220.6 249.4M258.4 249.6L252.2 240.5M238.4 243L245.3 241.6L252.2 240.5M179 -1.8L173.9 -4M182.9 -4L179 -1.8M186.2 18.4L184.7 18L177.7 13.7M185.2 37.6L186.3 33.2M151.3 1.3L155.3 1.5M334.3 100.2L336.2 96.6M318.9 77.5L327.7 74.4M331.7 59.1L323.8 50.4M336.2 69.3L331.8 69.3M331.7 59.1L331.8 69.3M261.1 114.5L264.3 120.1L268.9 124.4L273.1 129.1M241 119.7L244.6 122M276.6 128.1L273.1 129.1M272.6 151.8L273.5 144.7L271.2 137.6L272.2 130.5M233.1 142.6L240.2 138L246.5 132.5M266.9 12.6L268.9 15M277 75.4L273.6 72.1M261.9 52.7L263.6 52.8L271.9 51.8M273.6 72.1L273.7 65.4L273.6 58.7L272.4 52.1M268.6 28.5L265.6 29.4M271.9 51.8L272.8 44.9L272.8 38.1L271.9 31.2M271.9 31.2L283.6 30.3M115.7 234.4L115.1 234.8L108.3 235.6L107.5 236M108.8 215.6L104.3 219.3M190 211L183.9 207.3L178.6 202.7L177.8 201.8M190 211L196.6 205.2L203.4 199.5M203.3 196.3L203.4 199.5M217.1 211.9L213.2 207.1L208.4 203.2L203.4 199.5M66.6 183.5L69.6 176.9L71.9 170L75.6 163.7M92.5 176.6L92.5 178.7M96.1 183.5L92.5 178.7M49.4 188.7L58.8 182.4M66.6 183.5L58.8 182.4M18.5 56.8L24.5 60.8L29.6 66M36.9 62.6L33.2 65.5M33.2 65.5L29.6 66M23 82.5L25.4 73.9L29.6 66M47.7 80.7L42.5 76L38.4 70.2L33.2 65.5M101.7 57.4L109.4 58L112.6 58.1M104 42.8L110.5 39.3L112.2 38.4M124.1 70.8L121.9 64.7M89.9 29.9L95.3 33.4L99.9 37.8L104 42.8M110.2 24.4L114.5 29.6L116.3 34.1M127.6 123L121.9 121.3L115.7 117.8M108.1 120.7L110.9 121.1M115.7 117.8L110.9 121.1M254.1 219.2L257.2 227.8M254.1 219.2L260.2 216.3L266 212.9M257.2 227.8L263.3 229.9L268.5 233.8L274.8 235.5M281 231.9L274.8 235.5M252.2 240.5L255.6 234.5L257.2 227.8M298.7 211.4L301.8 205.8L301.9 205.8M298.7 211.4L290.3 210M290 188.8L292 187.9M270.7 200.4L278.3 200.6L285.5 202.8M280.7 220.8L285 214.9L290.3 210M306.3 224.1L303.2 217.3L298.7 211.4M306.3 224.1L311.8 221.4L317 218L322.2 214.6L327.6 211.5M295.8 169.8L294.6 177.9M288.1 234.6L294.2 231.5L299.7 227.4L306.2 225M295.3 251.7L302.4 248.5L308.2 243.3L315.3 240.1M281 231.9L288.1 234.6M317.2 240.9L315.3 240.1M309.6 71L307.9 65.5M307.9 65.5L311.8 58.1L316.6 51.3M119.9 145.1L116.7 151.3L113.8 157.7L109.7 163.4M112.2 139.2L106.5 141.9L100.4 143.4M96.1 153.7L102.2 163.1M117.6 170.3L109.7 163.4M80.5 152.6L88.3 153L96.1 153.7M92.5 176.6L96.7 169.4L102.2 163.1M288.3 35.2L296.6 33.9L298.4 33.7M272.4 52.1L279.2 52.1L285.9 51.2M283.6 30.3L288.3 35.2M307.9 65.5L303.5 61.1L298.4 58L292.8 55.4M316.6 51.3L311.9 46.1L306.2 42.4" fill="none" stroke="#e8c2ce" stroke-width="0.8"/>
<path d="M336.2 208.9L335.6 210.5L332 216.5L329.1 222.7L328 229.7L325.3 236M336.2 245.1L329.9 242.4L325.3 236M-4 218.2L0.3 218.7L6.5 221.8M-4 6.6L-1.9 4.9L4.9 1.5M270.6 -1L264.3 -1.7M288.5 160.6L295.1 156L303.4 155.7L310.1 151.7M327.7 190.7L333.5 191.4M333.5 191.4L336.2 186.8M323.1 123.6L321.2 129.5L319.1 135.4L315 140.3L311.6 145.6L310.1 151.7M302.8 236.3L310.3 236.4L317.8 236.3L325.3 236M336.2 26.4L335.5 25.5L328.9 23.8M59.8 211L53.1 210L52 209.5M9 218.3L6.5 221.8M58.9 225.6L54.4 227.1L49.1 230.7L44.4 235.5L39.2 239.3L35.5 238.9M23 264.6L26.1 262.6L29.5 257M70.3 259.4L70.9 253.7M278 144.1L272 139.7L264.9 138.9L258.1 137.2M258.1 137.2L253.2 142.7L245.7 144.6L239.6 148.4L234.4 153.5M116.8 238.3L115.8 238.6L111 242.7M111 242.7L112.4 249.3L112.9 256.2L114.5 262.8M151.3 264.6L151.9 263.5L158.1 260.5M158.1 260.5L159.5 254.4M161.4 264.6L158.1 260.5M335.9 71.7L330.9 70.4M325.2 29.4L324.8 31.5L319.8 36.6L320.4 43.9L316.8 49.5M286.7 17.5L292.6 15.5M278 144.1L279.7 137.2L283.6 131.1L285.9 124.4L286.2 116.9L288.8 113.4M226 206.9L223.5 211L221.4 216.8L221.7 223.7L217.4 228.6M263 205.5L261.8 212.3L262 219.3M217.4 228.6L223 232.7L228.9 236.3M293.2 194.8L292.2 194.9L287.1 199.5L280.4 199L275.3 203.4L269.3 205L263 205.5M263 264.6L263.1 264.2L260.7 258.2M229.2 264.6L231.2 258.1L234.6 251.6M234.6 251.6L240.8 254.8L247.6 254.9L254.7 254.4L260.7 258.2M234.6 251.6L231.7 244L228.9 236.3M193.1 244L186.4 243.6L179.7 244.1L173 243.1M212 228.5L206.8 223.9L204.4 217.1L201.1 211L196.2 206.2L190.3 202.1L188.7 200.6M152.2 215.5L152.7 215.5L159.7 210.7L167.2 212.2M217.5 185.8L222.2 186.2L222.3 186.3M101.4 215.3L103.1 212.1L102.5 205.8L100.8 199.6M19.2 171.6L15.1 165M-3.3 167.5L2.6 164.6L9 166.1L15.1 165M43.1 -2.9L49.6 0.3L57 -1L63.4 2.8L70.4 3.2L77.5 3.5M77.5 3.5L84.2 -2L86.6 -4M282.8 55.4L279.1 49L274.6 43.2M282.8 55.4L283.5 63.9M283.5 63.9L278.6 68.4L273.2 72.4L268.8 77.5L265.9 83.9L258.6 86L257.6 87.9M274.6 43.2L265.8 43.3L263.4 43.1M297 80.9L296.8 80.6L292.2 75.1L286.9 70.3L283.5 63.9M254.8 101.4L255 97.2M234.4 153.5L225.4 148.1M224.3 128.5L222.7 134.8L226.1 141.2L225.4 148.1M99 197.6L92.7 198.7L86.4 197L80.1 196L73.8 198.4L67.5 197.8M19.2 171.6L25.7 171.6L31.8 173L37.1 177.4L43.5 177.7L49 181.2L55.1 182.6L61.6 182.4M99 197.6L101.9 192.1L101 185.6L101.3 179.5L104.7 174.1L107.5 168.5L107.8 162.4M61.6 182.4L65.8 177.4L64.2 170.2L67.5 164.8L70.3 159.2M186.8 118.9L185.5 111.2L185.4 103.3L184.5 95.5M184.9 54.9L182.8 55.6M184.8 67.4L182.7 62.6L182.8 55.6M108.8 86.7L101.3 88L99.8 88.6M97.1 130.4L88.9 126.8L82.2 120.8M80.1 25.4L85 29.1L90.2 32.2L96.3 33.7M63.7 34.8L65.6 41.4L66.2 48.1L66.6 54.8L66.6 55.3M99.6 54.3L96.7 47.7L97.5 40.5L96.3 33.7M111.4 19.1L107.1 24.7L100.4 27.9L96.3 33.7M107.8 162.4L116 163.4L121.3 160.4M168.5 94.6L170.3 94.7L177.4 95.2L184.5 95.5M208.4 153.6L204.4 151.7M131.7 203.5L135.1 198.7L135.1 191.9L138 189.5M180.7 54.2L173.3 55L165.7 54.3L158.7 57.4L151.4 58.4M177.6 21.7L173.1 17L167 15.5L160.7 14.1L155.6 10.6M147 55.9L151.4 58.4M151.4 69.5L151.1 65L151.4 58.4M182.8 55.6L180.7 54.2M162.4 -4L161.2 -0.6L158.5 5.1L155.6 10.6M111.4 19.1L118.4 21.8L125.1 24.9L131.6 28.7L138.7 31M109.5 62.6L104.1 59L99.6 54.3M31.4 39.6L32.3 43.7L35.8 50.1L40.5 55.9L42 63.2M59.3 61.8L57.2 61.2L49.6 62.8L42 63.2M82.2 120.8L75.8 124.4L68.6 126.8L64.3 133.7L57.3 136.5M43.8 103.6L45.2 110.7L49.9 116.5L53 122.9L55.6 129.5L57.3 136.5M56.3 139.9L50.2 141.6L44.9 145.7L41.3 145.5M-4 125.9L-2.5 126.9L3.5 129.1L6.2 129.8M20.2 151.5L19.2 148.1M29.8 76.5L30.4 84.3L30 92.1L31.6 99.8M42 63.2L38 67.7L35.1 73.2L29.8 76.5M29.4 106.2L30.2 100.7" fill="none" stroke="#ebc2ce" stroke-width="4" stroke-linejoin="round" stroke-linecap="round"/>
<path d="M323.1 123.6L327.6 129.3L335 131.3L336.2 133.4M323.1 123.6L322.5 119.7M322.5 119.7L328 116.1L333.5 112.4L336.2 109.8M-4 242L1.4 239.5L4.4 233.5L8.2 227.9M4.9 1.5L5.1 -4M270.6 -1L271.3 -4M288.5 160.6L292.3 166.8L292.4 174.2L294.3 178.4M336.2 199.7L335.4 197.9L333.5 191.4M335.5 -4L333.5 -0.9L334.5 5.8L331.8 11.6L329.9 17.6L328.9 23.8M8.2 227.9L11.8 233.1L17.8 235.4L21.7 240.3L26.9 243.6M30.2 240L26.9 243.6M26.9 243.6L28.9 250.2L29.5 257M52.3 264.6L52.4 264.5L58.8 263.9L64.8 262.3L70.3 259.4M72.3 264.6L70.3 259.4M285.6 159.1L279.9 162.4L274.6 166.5L268.4 168.9L262.3 171.3L261.5 171.8M149.5 245L153.5 250.9L159.5 254.4M114.5 262.8L121.9 263.8L124.5 264.6M106.5 240.1L111 242.7M113 264.6L114.5 262.8M4.9 1.5L11.3 3.5L18.1 1L24.4 4.7L31 4.6L37.6 4.3M37.6 4.3L43.1 -2.9M302.6 -4L301.4 -1.3L297 3.5L294.9 9.4L294.2 11.5M330.9 70.4L327.2 65.3L323.4 60.3L319 55.6L316.8 49.5M322.5 119.7L317.1 116.1L311.3 113.2L311.3 113.2M330.9 70.4L325.4 74.5L319.6 77.9L313.5 81L306.1 81.5L305.1 82.4M285.6 159.1L288.5 160.6M250 108.2L249.9 112.9L254.4 118.3L253.9 125.1L254.8 131.4L258.1 137.2M252.2 104L254.8 101.4M262 219.3L256.4 221.9L251.1 225.2L245.2 227.4L239.3 229.5L234.1 232.8L228.9 236.3M260.7 258.2L264.5 253.2L268.6 248.3L273.9 244.4L276.4 238.3M300.1 264.6L300.2 260.3L300.2 253.6L298.2 247L298.1 240.3M298.1 240.3L291 238.2L283.8 237.1L276.4 238.3M174.5 202L169.4 205.7L167.2 212.2M199.2 264.6L199.2 264.6L196.4 258L194.9 251L193.1 244M159.5 254.4L167.5 250.2L173 243.1M217.4 228.6L212 228.5M20.9 182.7L19.5 178.2L19.2 171.6M108.9 -3.1L102.8 -4M99.5 -4L96.3 -4L96.3 -4M316.8 49.5L309.8 49.7L303.3 52.3L296.6 53.8L289.5 53.6L282.8 55.4M208.4 153.6L216.3 149L225.4 148.1M59.8 211L62.2 203.6L67.5 197.8M100.8 199.6L99 197.6M67.5 197.8L65.8 189.7L61.6 182.4M70.3 159.2L77.7 159.2L85 158.9L92.1 156.9L99.4 156.1M99.4 156.1L107.8 162.4M199.3 119.1L194 118.6L186.8 118.9M184.5 95.5L187.7 91.1M131 107.3L125.2 104.7L121.8 99.4L116.6 96.2L112.8 91.3L108.8 86.7M131 107.6L126.4 112.9L120.3 116.1L114.3 119.4L108.7 123.2L102.3 125.9L97.1 130.4M82.2 120.8L83.6 114.6L80.7 108.6L79.9 103.8M80.1 25.4L75.7 30.4L70.2 33.5L63.7 34.8M92.9 57.6L93.3 57.6L99.6 54.3M77.5 3.5L77 10.9L79.1 18.1L80.1 25.4M111.4 19.1L109.9 11.8L107.6 4.6L108.9 -3.1M37.6 4.3L37 10.6L38.8 16.6L39.5 22.7M97.1 130.4L97.8 136.8L99.5 143.1L98.1 149.7L99.4 156.1M131 107.3L133 105.5M186.8 118.9L181.1 124.6L180.6 126.4M180.7 54.2L180.3 47.7L178.5 41.3L178.2 34.8L178.3 28.2L177.6 21.7M138.7 31L140.9 24.8L147.4 21.9L151.1 16.7L153.9 11M109.5 62.6L116.2 61.7M-4 30.5L-2.1 33.4L-3.3 39.7L-2.4 45.7M39.5 22.7L37.8 26.5M12 41.4L10.9 42L4 42.9L-2.4 45.7M-2.4 45.7L-4 48.6M61.1 96.2L57.4 97.7L50.4 100.1L43.8 103.6M15.1 165L18 158.4L20.2 151.5M23.4 149.5L20.2 151.5M56.3 139.9L57.3 136.5M29.8 76.5L25 72L19.1 69.6L12.1 69.5L7.6 64.3L1.7 61.9L-4 59.9M-4 98.4L-3.9 98.4L3.2 96L10 96.8L16.8 97.7L23.7 97.8L30.2 100.7M43.8 103.6L37.9 101L31.6 99.8M336.2 208.9L335.6 210.5L332 216.5L329.1 222.7L328 229.7L325.3 236M336.2 245.1L329.9 242.4L325.3 236M-4 218.2L0.3 218.7L6.5 221.8M-4 6.6L-1.9 4.9L4.9 1.5M270.6 -1L264.3 -1.7M288.5 160.6L295.1 156L303.4 155.7L310.1 151.7M327.7 190.7L333.5 191.4M333.5 191.4L336.2 186.8M323.1 123.6L321.2 129.5L319.1 135.4L315 140.3L311.6 145.6L310.1 151.7M302.8 236.3L310.3 236.4L317.8 236.3L325.3 236M336.2 26.4L335.5 25.5L328.9 23.8M59.8 211L53.1 210L52 209.5M9 218.3L6.5 221.8M58.9 225.6L54.4 227.1L49.1 230.7L44.4 235.5L39.2 239.3L35.5 238.9M23 264.6L26.1 262.6L29.5 257M70.3 259.4L70.9 253.7M278 144.1L272 139.7L264.9 138.9L258.1 137.2M258.1 137.2L253.2 142.7L245.7 144.6L239.6 148.4L234.4 153.5M116.8 238.3L115.8 238.6L111 242.7M111 242.7L112.4 249.3L112.9 256.2L114.5 262.8M151.3 264.6L151.9 263.5L158.1 260.5M158.1 260.5L159.5 254.4M161.4 264.6L158.1 260.5M335.9 71.7L330.9 70.4M325.2 29.4L324.8 31.5L319.8 36.6L320.4 43.9L316.8 49.5M286.7 17.5L292.6 15.5M278 144.1L279.7 137.2L283.6 131.1L285.9 124.4L286.2 116.9L288.8 113.4M226 206.9L223.5 211L221.4 216.8L221.7 223.7L217.4 228.6M263 205.5L261.8 212.3L262 219.3M217.4 228.6L223 232.7L228.9 236.3M293.2 194.8L292.2 194.9L287.1 199.5L280.4 199L275.3 203.4L269.3 205L263 205.5M263 264.6L263.1 264.2L260.7 258.2M229.2 264.6L231.2 258.1L234.6 251.6M234.6 251.6L240.8 254.8L247.6 254.9L254.7 254.4L260.7 258.2M234.6 251.6L231.7 244L228.9 236.3M193.1 244L186.4 243.6L179.7 244.1L173 243.1M212 228.5L206.8 223.9L204.4 217.1L201.1 211L196.2 206.2L190.3 202.1L188.7 200.6M152.2 215.5L152.7 215.5L159.7 210.7L167.2 212.2M217.5 185.8L222.2 186.2L222.3 186.3M101.4 215.3L103.1 212.1L102.5 205.8L100.8 199.6M19.2 171.6L15.1 165M-3.3 167.5L2.6 164.6L9 166.1L15.1 165M43.1 -2.9L49.6 0.3L57 -1L63.4 2.8L70.4 3.2L77.5 3.5M77.5 3.5L84.2 -2L86.6 -4M282.8 55.4L279.1 49L274.6 43.2M282.8 55.4L283.5 63.9M283.5 63.9L278.6 68.4L273.2 72.4L268.8 77.5L265.9 83.9L258.6 86L257.6 87.9M274.6 43.2L265.8 43.3L263.4 43.1M297 80.9L296.8 80.6L292.2 75.1L286.9 70.3L283.5 63.9M254.8 101.4L255 97.2M234.4 153.5L225.4 148.1M224.3 128.5L222.7 134.8L226.1 141.2L225.4 148.1M99 197.6L92.7 198.7L86.4 197L80.1 196L73.8 198.4L67.5 197.8M19.2 171.6L25.7 171.6L31.8 173L37.1 177.4L43.5 177.7L49 181.2L55.1 182.6L61.6 182.4M99 197.6L101.9 192.1L101 185.6L101.3 179.5L104.7 174.1L107.5 168.5L107.8 162.4M61.6 182.4L65.8 177.4L64.2 170.2L67.5 164.8L70.3 159.2M186.8 118.9L185.5 111.2L185.4 103.3L184.5 95.5M184.9 54.9L182.8 55.6M184.8 67.4L182.7 62.6L182.8 55.6M108.8 86.7L101.3 88L99.8 88.6M97.1 130.4L88.9 126.8L82.2 120.8M80.1 25.4L85 29.1L90.2 32.2L96.3 33.7M63.7 34.8L65.6 41.4L66.2 48.1L66.6 54.8L66.6 55.3M99.6 54.3L96.7 47.7L97.5 40.5L96.3 33.7M111.4 19.1L107.1 24.7L100.4 27.9L96.3 33.7M107.8 162.4L116 163.4L121.3 160.4M168.5 94.6L170.3 94.7L177.4 95.2L184.5 95.5M208.4 153.6L204.4 151.7M131.7 203.5L135.1 198.7L135.1 191.9L138 189.5M180.7 54.2L173.3 55L165.7 54.3L158.7 57.4L151.4 58.4M177.6 21.7L173.1 17L167 15.5L160.7 14.1L155.6 10.6M147 55.9L151.4 58.4M151.4 69.5L151.1 65L151.4 58.4M182.8 55.6L180.7 54.2M162.4 -4L161.2 -0.6L158.5 5.1L155.6 10.6M111.4 19.1L118.4 21.8L125.1 24.9L131.6 28.7L138.7 31M109.5 62.6L104.1 59L99.6 54.3M31.4 39.6L32.3 43.7L35.8 50.1L40.5 55.9L42 63.2M59.3 61.8L57.2 61.2L49.6 62.8L42 63.2M82.2 120.8L75.8 124.4L68.6 126.8L64.3 133.7L57.3 136.5M43.8 103.6L45.2 110.7L49.9 116.5L53 122.9L55.6 129.5L57.3 136.5M56.3 139.9L50.2 141.6L44.9 145.7L41.3 145.5M-4 125.9L-2.5 126.9L3.5 129.1L6.2 129.8M20.2 151.5L19.2 148.1M29.8 76.5L30.4 84.3L30 92.1L31.6 99.8M42 63.2L38 67.7L35.1 73.2L29.8 76.5M29.4 106.2L30.2 100.7" fill="none" stroke="#e2adc0" stroke-width="1" stroke-linejoin="round"/>
<path d="M270.6 -1h0M302.8 236.3h0M8.2 227.9h0M59.8 211h0M37.6 4.3h0M310.1 151.7h0M328.9 23.8h0M29.5 257h0M234.6 251.6h0M111 242.7h0M159.5 254.4h0M19.2 171.6h0M43.1 -2.9h0M262 219.3h0M193.1 244h0M212 228.5h0M167.2 212.2h0M15.1 165h0M131 107.3h0M109.5 62.6h0M108.8 86.7h0M274.6 43.2h0M208.4 153.6h0M225.4 148.1h0M99 197.6h0M67.5 197.8h0M61.6 182.4h0M70.3 159.2h0M131 107.6h0M97.1 130.4h0M99.4 156.1h0M107.8 162.4h0M182.8 55.6h0M82.2 120.8h0M99.6 54.3h0M180.7 54.2h0M138.7 31h0M151.4 58.4h0M56.3 139.9h0M29.8 76.5h0" stroke="#ebc2ce" stroke-width="8" stroke-linecap="round"/>
<path d="M153.5 133.1a2.6 2.6 0 1 0 5.2 0a2.6 2.6 0 1 0-5.2 0M120.8 156.3a2.6 2.6 0 1 0 5.2 0a2.6 2.6 0 1 0-5.2 0M141.7 181.1a2.6 2.6 0 1 0 5.2 0a2.6 2.6 0 1 0-5.2 0M199.5 159.4a2.6 2.6 0 1 0 5.2 0a2.6 2.6 0 1 0-5.2 0M153.3 182.6a2.6 2.6 0 1 0 5.2 0a2.6 2.6 0 1 0-5.2 0M187.5 167.1a2.6 2.6 0 1 0 5.2 0a2.6 2.6 0 1 0-5.2 0M165.5 131a2.6 2.6 0 1 0 5.2 0a2.6 2.6 0 1 0-5.2 0M153.4 165.1a2.6 2.6 0 1 0 5.2 0a2.6 2.6 0 1 0-5.2 0M129.7 159.5a2.6 2.6 0 1 0 5.2 0a2.6 2.6 0 1 0-5.2 0M162.7 183.9a2.6 2.6 0 1 0 5.2 0a2.6 2.6 0 1 0-5.2 0M188.3 189.7a2.6 2.6 0 1 0 5.2 0a2.6 2.6 0 1 0-5.2 0M185.2 165.2a2.6 2.6 0 1 0 5.2 0a2.6 2.6 0 1 0-5.2 0M161.8 99.3a2.6 2.6 0 1 0 5.2 0a2.6 2.6 0 1 0-5.2 0M168.9 176.8a2.6 2.6 0 1 0 5.2 0a2.6 2.6 0 1 0-5.2 0M156.8 142.6a2.6 2.6 0 1 0 5.2 0a2.6 2.6 0 1 0-5.2 0M160.5 116.9a2.6 2.6 0 1 0 5.2 0a2.6 2.6 0 1 0-5.2 0M192.9 172.4a2.6 2.6 0 1 0 5.2 0a2.6 2.6 0 1 0-5.2 0M185.3 182.6a2.6 2.6 0 1 0 5.2 0a2.6 2.6 0 1 0-5.2 0M139.7 103.4a2.6 2.6 0 1 0 5.2 0a2.6 2.6 0 1 0-5.2 0M160 148a2.6 2.6 0 1 0 5.2 0a2.6 2.6 0 1 0-5.2 0M186.3 151.5a2.6 2.6 0 1 0 5.2 0a2.6 2.6 0 1 0-5.2 0M161.9 77.2a2.6 2.6 0 1 0 5.2 0a2.6 2.6 0 1 0-5.2 0M212.5 182.7a2.6 2.6 0 1 0 5.2 0a2.6 2.6 0 1 0-5.2 0M169.6 185.8a2.6 2.6 0 1 0 5.2 0a2.6 2.6 0 1 0-5.2 0M176.8 164.8a2.6 2.6 0 1 0 5.2 0a2.6 2.6 0 1 0-5.2 0M154.5 131.9a2.6 2.6 0 1 0 5.2 0a2.6 2.6 0 1 0-5.2 0M147.1 91.5a2.6 2.6 0 1 0 5.2 0a2.6 2.6 0 1 0-5.2 0M207.7 179.5a2.6 2.6 0 1 0 5.2 0a2.6 2.6 0 1 0-5.2 0M144.2 126.1a2.6 2.6 0 1 0 5.2 0a2.6 2.6 0 1 0-5.2 0M171.2 144.2a2.6 2.6 0 1 0 5.2 0a2.6 2.6 0 1 0-5.2 0M203.1 177a2.6 2.6 0 1 0 5.2 0a2.6 2.6 0 1 0-5.2 0M130.3 170.1a2.6 2.6 0 1 0 5.2 0a2.6 2.6 0 1 0-5.2 0M168.2 198.5a2.6 2.6 0 1 0 5.2 0a2.6 2.6 0 1 0-5.2 0M134.1 108.8a2.6 2.6 0 1 0 5.2 0a2.6 2.6 0 1 0-5.2 0M151.1 148.4a2.6 2.6 0 1 0 5.2 0a2.6 2.6 0 1 0-5.2 0M143.2 194.6a2.6 2.6 0 1 0 5.2 0a2.6 2.6 0 1 0-5.2 0M154.2 187.2a2.6 2.6 0 1 0 5.2 0a2.6 2.6 0 1 0-5.2 0M147.4 140a2.6 2.6 0 1 0 5.2 0a2.6 2.6 0 1 0-5.2 0M150 189.3a2.6 2.6 0 1 0 5.2 0a2.6 2.6 0 1 0-5.2 0M213.8 162.1a2.6 2.6 0 1 0 5.2 0a2.6 2.6 0 1 0-5.2 0M161.3 158.7a2.6 2.6 0 1 0 5.2 0a2.6 2.6 0 1 0-5.2 0M152.6 185.7a2.6 2.6 0 1 0 5.2 0a2.6 2.6 0 1 0-5.2 0M119.9 141.3a2.6 2.6 0 1 0 5.2 0a2.6 2.6 0 1 0-5.2 0M136.6 170.9a2.6 2.6 0 1 0 5.2 0a2.6 2.6 0 1 0-5.2 0M153.4 108.3a2.6 2.6 0 1 0 5.2 0a2.6 2.6 0 1 0-5.2 0M159.7 143.6a2.6 2.6 0 1 0 5.2 0a2.6 2.6 0 1 0-5.2 0M158.3 151.4a2.6 2.6 0 1 0 5.2 0a2.6 2.6 0 1 0-5.2 0M160.9 132.2a2.6 2.6 0 1 0 5.2 0a2.6 2.6 0 1 0-5.2 0M158.8 171.9a2.6 2.6 0 1 0 5.2 0a2.6 2.6 0 1 0-5.2 0M194.4 160.8a2.6 2.6 0 1 0 5.2 0a2.6 2.6 0 1 0-5.2 0M142.2 164a2.6 2.6 0 1 0 5.2 0a2.6 2.6 0 1 0-5.2 0M159.5 200.7a2.6 2.6 0 1 0 5.2 0a2.6 2.6 0 1 0-5.2 0M205.6 163.8a2.6 2.6 0 1 0 5.2 0a2.6 2.6 0 1 0-5.2 0M147.3 95a2.6 2.6 0 1 0 5.2 0a2.6 2.6 0 1 0-5.2 0M205.7 182.9a2.6 2.6 0 1 0 5.2 0a2.6 2.6 0 1 0-5.2 0M195.5 154.4a2.6 2.6 0 1 0 5.2 0a2.6 2.6 0 1 0-5.2 0M154.2 79.5a2.6 2.6 0 1 0 5.2 0a2.6 2.6 0 1 0-5.2 0M189.4 174a2.6 2.6 0 1 0 5.2 0a2.6 2.6 0 1 0-5.2 0M161 105.2a2.6 2.6 0 1 0 5.2 0a2.6 2.6 0 1 0-5.2 0M172.4 157.9a2.6 2.6 0 1 0 5.2 0a2.6 2.6 0 1 0-5.2 0M129.1 147.9a2.6 2.6 0 1 0 5.2 0a2.6 2.6 0 1 0-5.2 0M122.4 136.9a2.6 2.6 0 1 0 5.2 0a2.6 2.6 0 1 0-5.2 0M191.9 161.5a2.6 2.6 0 1 0 5.2 0a2.6 2.6 0 1 0-5.2 0M157 108.4a2.6 2.6 0 1 0 5.2 0a2.6 2.6 0 1 0-5.2 0M158.9 82.6a2.6 2.6 0 1 0 5.2 0a2.6 2.6 0 1 0-5.2 0M159.6 82.5a2.6 2.6 0 1 0 5.2 0a2.6 2.6 0 1 0-5.2 0M137.5 178.7a2.6 2.6 0 1 0 5.2 0a2.6 2.6 0 1 0-5.2 0M160.3 142.5a2.6 2.6 0 1 0 5.2 0a2.6 2.6 0 1 0-5.2 0M194.8 154.9a2.6 2.6 0 1 0 5.2 0a2.6 2.6 0 1 0-5.2 0M203.4 159.5a2.6 2.6 0 1 0 5.2 0a2.6 2.6 0 1 0-5.2 0M146.6 77.8a2.6 2.6 0 1 0 5.2 0a2.6 2.6 0 1 0-5.2 0M173.9 162.6a2.6 2.6 0 1 0 5.2 0a2.6 2.6 0 1 0-5.2 0M169.7 167.5a2.6 2.6 0 1 0 5.2 0a2.6 2.6 0 1 0-5.2 0M192.2 161.8a2.6 2.6 0 1 0 5.2 0a2.6 2.6 0 1 0-5.2 0M149.2 99.6a2.6 2.6 0 1 0 5.2 0a2.6 2.6 0 1 0-5.2 0M164.3 191.3a2.6 2.6 0 1 0 5.2 0a2.6 2.6 0 1 0-5.2 0M134 97.4a2.6 2.6 0 1 0 5.2 0a2.6 2.6 0 1 0-5.2 0M145.3 192.2a2.6 2.6 0 1 0 5.2 0a2.6 2.6 0 1 0-5.2 0M175.5 195.6a2.6 2.6 0 1 0 5.2 0a2.6 2.6 0 1 0-5.2 0M138.2 124a2.6 2.6 0 1 0 5.2 0a2.6 2.6 0 1 0-5.2 0M141.7 92.6a2.6 2.6 0 1 0 5.2 0a2.6 2.6 0 1 0-5.2 0M186.3 196.4a2.6 2.6 0 1 0 5.2 0a2.6 2.6 0 1 0-5.2 0M160 186.9a2.6 2.6 0 1 0 5.2 0a2.6 2.6 0 1 0-5.2 0M126.8 176.5a2.6 2.6 0 1 0 5.2 0a2.6 2.6 0 1 0-5.2 0M137.6 164a2.6 2.6 0 1 0 5.2 0a2.6 2.6 0 1 0-5.2 0M131.5 149.8a2.6 2.6 0 1 0 5.2 0a2.6 2.6 0 1 0-5.2 0M213.9 185a2.6 2.6 0 1 0 5.2 0a2.6 2.6 0 1 0-5.2 0M189.1 145.2a2.6 2.6 0 1 0 5.2 0a2.6 2.6 0 1 0-5.2 0M177.7 169.2a2.6 2.6 0 1 0 5.2 0a2.6 2.6 0 1 0-5.2 0M143.8 144.9a2.6 2.6 0 1 0 5.2 0a2.6 2.6 0 1 0-5.2 0M180.6 197.8a2.6 2.6 0 1 0 5.2 0a2.6 2.6 0 1 0-5.2 0M148.4 156.6a2.6 2.6 0 1 0 5.2 0a2.6 2.6 0 1 0-5.2 0M174.6 169.4a2.6 2.6 0 1 0 5.2 0a2.6 2.6 0 1 0-5.2 0M185.6 187.5a2.6 2.6 0 1 0 5.2 0a2.6 2.6 0 1 0-5.2 0M156.9 121.2a2.6 2.6 0 1 0 5.2 0a2.6 2.6 0 1 0-5.2 0M143.7 103.6a2.6 2.6 0 1 0 5.2 0a2.6 2.6 0 1 0-5.2 0M130.4 167.8a2.6 2.6 0 1 0 5.2 0a2.6 2.6 0 1 0-5.2 0M130.6 134.7a2.6 2.6 0 1 0 5.2 0a2.6 2.6 0 1 0-5.2 0M213.8 171.5a2.6 2.6 0 1 0 5.2 0a2.6 2.6 0 1 0-5.2 0M164.7 173.1a2.6 2.6 0 1 0 5.2 0a2.6 2.6 0 1 0-5.2 0M141.6 134a2.6 2.6 0 1 0 5.2 0a2.6 2.6 0 1 0-5.2 0M169.9 144.7a2.6 2.6 0 1 0 5.2 0a2.6 2.6 0 1 0-5.2 0M139 172.5a2.6 2.6 0 1 0 5.2 0a2.6 2.6 0 1 0-5.2 0M151.2 182.1a2.6 2.6 0 1 0 5.2 0a2.6 2.6 0 1 0-5.2 0M144.9 128a2.6 2.6 0 1 0 5.2 0a2.6 2.6 0 1 0-5.2 0M163.6 171.9a2.6 2.6 0 1 0 5.2 0a2.6 2.6 0 1 0-5.2 0M195.2 175.4a2.6 2.6 0 1 0 5.2 0a2.6 2.6 0 1 0-5.2 0M172 185.1a2.6 2.6 0 1 0 5.2 0a2.6 2.6 0 1 0-5.2 0M135.3 147.5a2.6 2.6 0 1 0 5.2 0a2.6 2.6 0 1 0-5.2 0M184.6 194.1a2.6 2.6 0 1 0 5.2 0a2.6 2.6 0 1 0-5.2 0M163.5 136.3a2.6 2.6 0 1 0 5.2 0a2.6 2.6 0 1 0-5.2 0M218.5 166a2.6 2.6 0 1 0 5.2 0a2.6 2.6 0 1 0-5.2 0M160.3 157a2.6 2.6 0 1 0 5.2 0a2.6 2.6 0 1 0-5.2 0M193.6 152.9a2.6 2.6 0 1 0 5.2 0a2.6 2.6 0 1 0-5.2 0M148 144a2.6 2.6 0 1 0 5.2 0a2.6 2.6 0 1 0-5.2 0M145.4 119a2.6 2.6 0 1 0 5.2 0a2.6 2.6 0 1 0-5.2 0M171.9 143.9a2.6 2.6 0 1 0 5.2 0a2.6 2.6 0 1 0-5.2 0M165.6 140.8a2.6 2.6 0 1 0 5.2 0a2.6 2.6 0 1 0-5.2 0M168.2 103.9a2.6 2.6 0 1 0 5.2 0a2.6 2.6 0 1 0-5.2 0M141.2 144.6a2.6 2.6 0 1 0 5.2 0a2.6 2.6 0 1 0-5.2 0M165.3 118.8a2.6 2.6 0 1 0 5.2 0a2.6 2.6 0 1 0-5.2 0M214 165.1a2.6 2.6 0 1 0 5.2 0a2.6 2.6 0 1 0-5.2 0M163.3 101.2a2.6 2.6 0 1 0 5.2 0a2.6 2.6 0 1 0-5.2 0M145.8 186.3a2.6 2.6 0 1 0 5.2 0a2.6 2.6 0 1 0-5.2 0M138.6 161.7a2.6 2.6 0 1 0 5.2 0a2.6 2.6 0 1 0-5.2 0M177.9 150.3a2.6 2.6 0 1 0 5.2 0a2.6 2.6 0 1 0-5.2 0M165.6 104.9a2.6 2.6 0 1 0 5.2 0a2.6 2.6 0 1 0-5.2 0M190 192.3a2.6 2.6 0 1 0 5.2 0a2.6 2.6 0 1 0-5.2 0M201.8 167.8a2.6 2.6 0 1 0 5.2 0a2.6 2.6 0 1 0-5.2 0M188.3 178.5a2.6 2.6 0 1 0 5.2 0a2.6 2.6 0 1 0-5.2 0M179.1 163.3a2.6 2.6 0 1 0 5.2 0a2.6 2.6 0 1 0-5.2 0M182.1 155.6a2.6 2.6 0 1 0 5.2 0a2.6 2.6 0 1 0-5.2 0M201.2 156.2a2.6 2.6 0 1 0 5.2 0a2.6 2.6 0 1 0-5.2 0M132.5 133a2.6 2.6 0 1 0 5.2 0a2.6 2.6 0 1 0-5.2 0M151.7 110.7a2.6 2.6 0 1 0 5.2 0a2.6 2.6 0 1 0-5.2 0M160.9 169.2a2.6 2.6 0 1 0 5.2 0a2.6 2.6 0 1 0-5.2 0M145.6 113.1a2.6 2.6 0 1 0 5.2 0a2.6 2.6 0 1 0-5.2 0M188.9 151.7a2.6 2.6 0 1 0 5.2 0a2.6 2.6 0 1 0-5.2 0M174.2 179.8a2.6 2.6 0 1 0 5.2 0a2.6 2.6 0 1 0-5.2 0M168 122.8a2.6 2.6 0 1 0 5.2 0a2.6 2.6 0 1 0-5.2 0M195.9 176.2a2.6 2.6 0 1 0 5.2 0a2.6 2.6 0 1 0-5.2 0M156.6 162.7a2.6 2.6 0 1 0 5.2 0a2.6 2.6 0 1 0-5.2 0M158.3 177.1a2.6 2.6 0 1 0 5.2 0a2.6 2.6 0 1 0-5.2 0M164.4 142.3a2.6 2.6 0 1 0 5.2 0a2.6 2.6 0 1 0-5.2 0M164.6 135.7a2.6 2.6 0 1 0 5.2 0a2.6 2.6 0 1 0-5.2 0" fill="none" stroke="#e3a8bc" stroke-width="0.8"/>
<path d="M142.8 174.2h0M223 170.2h0M216.8 184.1h0M148.2 101.9h0M157.8 154.2h0M168.9 195.4h0M217.9 173.7h0M157.8 131.6h0M167.8 159.1h0M188.5 168.5h0M222.3 175.5h0M180.5 160.4h0M127.6 170.3h0M167.2 88.3h0M178.8 152h0M192.2 177.8h0M225 174.3h0M170.3 179.8h0M129.7 139.4h0M147.2 70.4h0M169.2 129.6h0M161.5 155.2h0M166.9 196.5h0M133.7 116.7h0M149.1 107.4h0M158.7 197.4h0M137.1 167h0M154.5 122.1h0M169.4 161.1h0M155.7 164.5h0M197.9 183h0M165.3 109.1h0" stroke="#f1dbe0" stroke-width="5" stroke-linecap="round" opacity="0.8"/>
<path d="M187 -5C184.5 1.5 175.3 21.8 172 34C168.7 46.2 167.2 56.7 167 68C166.8 79.3 168.3 92 171 102C173.7 112 177.3 120.3 183 128C188.7 135.7 198.2 144.3 205 148C211.8 151.7 217 152.3 224 150C231 147.7 240.7 140 247 134C253.3 128 258 122.2 262 114C266 105.8 269 95.5 271 85C273 74.5 273.3 62.3 274 51C274.7 39.7 274.2 26.3 275 17C275.8 7.7 278.3 -1.3 279 -5" fill="none" stroke="#f3b5c3" stroke-width="27" stroke-linejoin="round"/>
<path d="M187 -5C184.5 1.5 175.3 21.8 172 34C168.7 46.2 167.2 56.7 167 68C166.8 79.3 168.3 92 171 102C173.7 112 177.3 120.3 183 128C188.7 135.7 198.2 144.3 205 148C211.8 151.7 217 152.3 224 150C231 147.7 240.7 140 247 134C253.3 128 258 122.2 262 114C266 105.8 269 95.5 271 85C273 74.5 273.3 62.3 274 51C274.7 39.7 274.2 26.3 275 17C275.8 7.7 278.3 -1.3 279 -5" fill="none" stroke="#e6a0b4" stroke-width="20.2" stroke-dasharray="1.2 2.8" opacity="0.5"/>
<path d="M187 -5C184.5 1.5 175.3 21.8 172 34C168.7 46.2 167.2 56.7 167 68C166.8 79.3 168.3 92 171 102C173.7 112 177.3 120.3 183 128C188.7 135.7 198.2 144.3 205 148C211.8 151.7 217 152.3 224 150C231 147.7 240.7 140 247 134C253.3 128 258 122.2 262 114C266 105.8 269 95.5 271 85C273 74.5 273.3 62.3 274 51C274.7 39.7 274.2 26.3 275 17C275.8 7.7 278.3 -1.3 279 -5" fill="none" stroke="#f5ccd5" stroke-width="5.4" opacity="0.6"/>
<ellipse cx="126.8" cy="133.9" rx="9" ry="15" fill="#f1e9e3" stroke="#f3b5c3" stroke-width="4.5"/>
<ellipse cx="126.8" cy="133.9" rx="15.2" ry="21.2" fill="none" stroke="#e2adc0" stroke-width="1"/>
<path d="M323.7 123.2h0M324.7 118h0M330.9 215.7h0M332.4 244.2h0M307.5 154h0M334.7 188.6h0M314.1 140.5h0M303 236.4h0M324.1 235.7h0M329.9 23.2h0M328.6 21.1h0M8.8 230h0M46.2 232.6h0M36.5 239.3h0M28.7 249.4h0M29.1 250.7h0M64.4 261.7h0M270.5 168.3h0M280.8 160.3h0M239.7 148.4h0M150.3 244.5h0M113.5 248.7h0M17.1 0.6h0M28.3 4.8h0M322.9 31.3h0M318.5 46.5h0M305 82.7h0M317.8 79h0M316.9 80.6h0M329.3 73h0M286.2 119.2h0M284.6 129h0M289.1 112.6h0M254.9 126.1h0M222.1 213.6h0M253.1 225h0M233.4 234.4h0M278.2 200.6h0M266.1 206h0M260.4 261h0M300 260h0M300.3 263h0M297.1 245h0M277.7 238.1h0M289.5 237.9h0M233.9 249.5h0M230 240.8h0M191 243.2h0M180.4 244.1h0M198.3 208.1h0M201 211.7h0M173.5 202.7h0M194.3 253h0M194.5 246h0M220.4 185.3h0M102 205.9h0M100.9 202.1h0M19.4 173.9h0M12.6 165.9h0M69.8 2.1h0M45.2 -0.7h0M279.8 66.6h0M296.6 53h0M298.5 53.2h0M316.3 50h0M291 54.4h0M283.4 66.2h0M232.8 154.2h0M225.3 145.8h0M225.2 143.5h0M224.7 147.2h0M224.6 148.3h0M65.5 200h0M99.7 199.3h0M95.5 198.5h0M71.2 198.2h0M32.6 172.2h0M33.3 174.8h0M35.3 176.2h0M26.3 172.5h0M101.3 191.4h0M96.9 155.6h0M101.8 158h0M185.5 96.9h0M184.4 96.1h0M183 63.1h0M101.2 88.3h0M117.1 119.4h0M117 117.7h0M124.4 113.3h0M87.1 126.9h0M82.3 112.9h0M93 34.1h0M70.3 33.8h0M64.7 34.9h0M66.9 52.9h0M95.7 47.4h0M77.9 16.3h0M111.1 21h0M99.1 147.7h0M98.9 138.4h0M98.5 139h0M132.1 105h0M181 123.5h0M172.7 94.5h0M182.8 95.3h0M204.7 151.5h0M154.7 58.6h0M168.9 55.4h0M157.9 57.2h0M179.4 48.5h0M181.4 48.2h0M173.4 18.2h0M147.2 21.3h0M154.3 11.1h0M150.6 63.2h0M8.1 43.2h0M32.7 44.7h0M36.4 51.4h0M53.3 62.1h0M67.8 130.2h0M73.6 125.1h0M46.9 143.3h0M3.1 129.2h0M30.4 82.4h0M24.8 71.6h0M34.7 72.5h0M266.9 0.4h0M235.3 251.8h0M165.9 214.4h0M13.3 166.2h0M128.4 106.9h0M110.1 60.7h0M273.5 44.1h0M225.4 148h0M63.8 184.4h0M127.7 107.8h0M101.1 158.1h0M183.3 59.3h0M148.6 57.9h0M151.3 61.1h0M29.5 72.7h0M168 95h0M227.9 136.1h0M179.7 5.1h0M239.2 136.3h0M280.9 42.4h0M267.3 132h0M253.1 108.2h0M186.7 132.2h0M272.2 9.8h0M262.6 55.9h0M282.4 5.2h0M265.8 35h0M265.8 82.2h0M271.6 91.1h0M156.5 47.7h0" stroke="#9e5a8e" stroke-width="2.0" stroke-linecap="round" opacity="0.72"/>
<path d="M196.9 159h0M211.8 181.8h0M148.4 166.1h0M173.9 144.8h0M180.9 194.7h0M184.2 175.7h0M127.7 143h0M133.7 127.5h0M173.7 163.2h0M198.5 188.2h0M185.8 159.4h0M172.7 147.8h0M156.5 88.8h0M162 182.5h0M203.2 168.7h0M158.8 144.7h0M186.1 173.3h0M189.6 198.2h0M161.4 135.3h0M175.5 136.9h0M197.8 183.3h0M140.7 76.9h0M170.8 143.8h0M180.2 136.9h0M160.2 195.5h0M162.5 172h0" stroke="#a8689e" stroke-width="2.0" stroke-linecap="round" opacity="0.45"/>
<path d="M330.2 130.9h0M328.1 116.7h0M334.4 112.4h0M330.5 220.6h0M332.9 216.5h0M0.5 238.7h0M4.7 220.8h0M-1.2 219.2h0M266.9 -0.6h0M307.2 152.9h0M288.9 159.7h0M318.1 134.5h0M333.3 193.3h0M305.6 236.2h0M331.9 25.2h0M330.9 15h0M330 14.2h0M10.4 230.8h0M25.3 242.4h0M58.8 210.1h0M49.4 229.4h0M48.2 232.2h0M27.8 240.6h0M26.7 261.7h0M70.5 260h0M277.4 163.9h0M274.5 141.8h0M274 141.4h0M257.1 137.8h0M251 143.2h0M253.7 141.6h0M157.4 254h0M113.3 260.5h0M154.3 261h0M155.1 261.8h0M14.7 3.2h0M34 5.3h0M299 0.3h0M299.3 1.6h0M334.6 70.7h0M331.5 69.7h0M329.2 67h0M329.4 70.7h0M319 46h0M283.9 126.1h0M280.5 136.8h0M221.9 212.3h0M224.5 207.4h0M261.8 206.6h0M261.8 213.7h0M290.1 196.9h0M274.8 202.5h0M280.4 236.8h0M233.3 255.2h0M252.9 253.7h0M259 257.4h0M259.3 255.8h0M184.9 243.2h0M190.9 201.5h0M201 211.1h0M162.8 253.4h0M163.2 252.3h0M213.4 228h0M157.5 212.3h0M101.2 204.5h0M20.4 174.7h0M6.8 165.4h0M11.2 166.4h0M72 2.6h0M283.7 55.1h0M268.3 80.9h0M261.6 84.2h0M282.3 63.2h0M258.1 85.5h0M299.5 54h0M296.3 80.8h0M61.4 205.9h0M78.6 196h0M86.8 196.6h0M41.8 177.3h0M100.2 179.9h0M102.2 177.4h0M63.5 169.4h0M64 173.4h0M64.9 169.3h0M64.1 180.4h0M188.4 118.7h0M186.9 118.4h0M184.5 93.9h0M183.2 66.4h0M109.8 90.2h0M117.2 95.4h0M123.3 100.8h0M125.7 113.9h0M99.5 128.5h0M90.5 126.5h0M83.1 111h0M81.2 26.3h0M73.7 32.9h0M66.4 46.7h0M99 51.4h0M106.8 6.4h0M109.2 7.4h0M99.9 28.6h0M39.4 14.2h0M38.6 15.1h0M97.2 149h0M183.8 96.6h0M137.3 190.8h0M134 199.4h0M164.4 56.1h0M178.4 36h0M178.1 20.6h0M163 15h0M155.3 11.7h0M150.3 18.5h0M159.1 6.6h0M118.2 22.2h0M130.6 28.3h0M136.3 30.8h0M104.3 58.3h0M113.8 60.9h0M-2 34.1h0M32.7 42.3h0M50.2 62.6h0M62.2 134.6h0M55.4 97.2h0M51.9 122h0M51.6 117.6h0M45 108h0M15.6 162.4h0M20.7 152.6h0M43.6 145.6h0M20.5 151.6h0M56.3 137.5h0M20 149.1h0M31.1 80.7h0M19.9 69.7h0M11 67.6h0M21.3 70.8h0M3.8 96.2h0M17.3 98.4h0M0.8 96.8h0M35.7 71.7h0M38.7 68.4h0M39.7 103h0M44.6 104.3h0M29.5 102.6h0M270 0.6h0M306.9 241.1h0M59 214h0M61.7 209.3h0M39.4 1.8h0M35.6 3.1h0M312 152h0M29.1 259.6h0M231.4 250.2h0M109.4 246h0M163 251h0M258.3 222.5h0M196.2 243.7h0M210.2 228.4h0M16.2 162.8h0M14 165.1h0M17.4 165.6h0M130.7 109.3h0M130.8 104.6h0M109.1 60.5h0M108.6 63.9h0M109 85.1h0M109.1 84.8h0M110.4 89.8h0M274.2 46.3h0M203.8 157.8h0M205.9 150.5h0M208.8 151.5h0M226.1 149.6h0M227.7 145.2h0M101.8 195.2h0M101.6 202.1h0M96.3 201.5h0M67.7 197.5h0M60.5 183.8h0M63.9 180.6h0M71.5 155.8h0M69.7 156.9h0M132.2 110.8h0M96.6 155.6h0M111.6 157.6h0M80.8 124h0M140.9 32.9h0M139.2 30.3h0M138.7 31.9h0M148.2 58.9h0M54.5 135.3h0M191.2 149.6h0M246.9 132.3h0M262.6 124.2h0M285.2 52.9h0M217.7 155.5h0M285.1 17.6h0M243.9 135.4h0M194.8 127.1h0M200.8 145.8h0M160 59.1h0M240.6 133h0M181.1 11.3h0M260.1 91.6h0M275.3 97.3h0M189.8 155.8h0M283.1 84.3h0M171.9 82.4h0M268.4 48.9h0M178.9 93.3h0M168.8 86.8h0M274.4 126.6h0M118.9 141h0M133.9 124.6h0M131.3 146.9h0M118.2 129.7h0M130.9 120.6h0M119.4 125.5h0M135.8 134.4h0M132.9 144.9h0M118 130.5h0M121.5 146h0M121.9 146.5h0M134.2 142.5h0M118.1 137.5h0M131.5 146.7h0M121.3 145.8h0M122.5 147.1h0M128.4 148.7h0M123.3 120.1h0" stroke="#9e5a8e" stroke-width="2.5" stroke-linecap="round" opacity="0.72"/>
<path d="M144.3 72.6h0M131.2 117.2h0M130.2 163.9h0M212.9 184.5h0M192.4 189.9h0M126.6 142.7h0M164.2 140.8h0M183.5 141.9h0M215.2 176.2h0M176.2 148.1h0M185 149.7h0M202.5 164h0M142.5 133.8h0M216.5 177.1h0M190.1 190.4h0M140.9 96.5h0M213.3 169.9h0M126.6 155.3h0M190.7 185.8h0M153.5 154.9h0M171.3 141.1h0M155.1 182.2h0M152.6 194.1h0M212.1 181h0M196.7 181.4h0M154.2 130.7h0M201.9 194.4h0M186.8 151.2h0M180.8 149.6h0M143.9 173.7h0M174.6 174.1h0M168.9 172.8h0M162 184h0M191.5 192.2h0M138.3 155.9h0M163 178.9h0M164.1 156.2h0M166.3 151h0M153.3 142.5h0M156.6 113.9h0M211.8 175.1h0M215.6 160.2h0" stroke="#a8689e" stroke-width="2.5" stroke-linecap="round" opacity="0.45"/>
<path d="M328.5 128.3h0M329.5 219.9h0M333.9 244h0M7.2 227.2h0M7.7 230.3h0M292.4 175.3h0M293.3 170.8h0M291.6 164.1h0M332.8 191.9h0M321.4 129.5h0M310.3 149.6h0M54.9 211.1h0M68.8 260.7h0M70.7 256h0M281.7 159.8h0M261.2 137.1h0M112 241.4h0M111.9 248.2h0M159.2 259.5h0M105.8 240.7h0M15 0.9h0M42.3 0.1h0M298 2.1h0M319.3 54.4h0M323.4 119.2h0M318.6 117h0M251.3 114.9h0M253.9 133h0M255.7 131.2h0M262.3 220h0M259.1 220.3h0M230.9 235.2h0M219.5 229h0M224.6 234.6h0M293.1 195.2h0M265.3 253.4h0M275.6 243.5h0M262 256.6h0M231.3 259.2h0M250.5 255h0M205.6 217.3h0M168.3 209.4h0M193 245h0M172.2 245.9h0M164.9 212.4h0M17.6 169.5h0M46.8 -1.3h0M51.8 -0h0M81.1 1.2h0M278.8 50.3h0M273.6 44.2h0M269.1 79.3h0M274.6 44.3h0M294 76.1h0M228.6 150h0M213.4 150.1h0M67 198.3h0M90.7 198.9h0M41.8 178.2h0M63 183.5h0M67.1 196.8h0M108.1 167.6h0M108.3 168.1h0M85 158.2h0M96.8 157.4h0M98.1 155.5h0M196 118.2h0M185.5 104.4h0M127.2 105.5h0M102.2 126.8h0M93.2 129.1h0M84.2 29.2h0M65 39.3h0M98.6 55.4h0M96.2 34.1h0M77.5 13.1h0M79.7 18.9h0M107.6 5.1h0M106.6 24.6h0M38.4 14.4h0M108.3 163.3h0M114.8 162.5h0M135 197.3h0M178.2 45h0M179.1 40.4h0M150.3 18.3h0M150.3 58.4h0M158.1 4.8h0M114.3 20.1h0M108.7 62.2h0M39.1 24.8h0M6 43.1h0M31.6 43.2h0M44.7 62.6h0M63.9 134.5h0M50.3 99.8h0M50.5 118.5h0M49.5 118.9h0M45.2 145.7h0M29.6 87.6h0M20.2 71h0M20.8 98.8h0M8.4 95.6h0M272.6 -0.9h0M301.8 234.2h0M6.7 225.3h0M60.6 212.6h0M62.1 211.9h0M35.8 6.5h0M39.8 5.4h0M311.2 152.8h0M312.7 150h0M325.4 21.4h0M26.4 252.2h0M26.4 258.9h0M107.1 239.4h0M156.2 254.9h0M22.1 169.3h0M264.3 219.7h0M195.1 243.4h0M107.6 65.5h0M109.4 84.5h0M271.5 44.4h0M275.2 46.2h0M222.7 146.4h0M95.6 194.1h0M65.5 198.5h0M69.4 157.6h0M128.2 109.4h0M98.6 130.7h0M98.5 125.8h0M103.9 164.8h0M106.1 158.8h0M109.8 162.5h0M86.3 120.8h0M99.3 50.6h0M103.1 52.3h0M178.5 54.5h0M181.8 53h0M147.8 58.2h0M28.2 76.7h0" stroke="#9e5a8e" stroke-width="3.0" stroke-linecap="round" opacity="0.72"/>
<path d="M156.5 140.3h0M207.1 188.2h0M157.1 174.9h0M223.7 179.3h0M177.7 138.3h0M139 117.8h0M156 169.6h0M167.4 96.8h0M170.7 201.4h0M143.6 176.1h0M176.8 190.7h0M147.5 142.1h0M178.3 122.4h0M147.5 143.9h0M173.4 170.1h0M144.7 167.1h0M123.4 165.1h0M200.2 153.9h0M218.6 182.5h0M165.5 120.9h0M149.9 131.9h0M214.7 171.7h0M210.6 174.3h0M128.9 140h0M127 133.8h0M197.7 188.1h0M168.5 188.4h0M154.2 196.8h0M144.9 133.6h0" stroke="#a8689e" stroke-width="3.0" stroke-linecap="round" opacity="0.45"/>
</g>
<rect x="288.6" y="249.5" width="40.9" height="8.9" fill="#fff" stroke="#555" stroke-width="1.2"/>
<text x="309.1" y="256.2" font-family="Liberation Sans, Arial, sans-serif" font-size="5.5" text-anchor="middle" fill="#333">50 μm</text>
</g>
<g transform="translate(958,642.1)" clip-path="url(#hc1)"><g filter="url(#soft)">
<clipPath id="hc1"><rect width="330" height="259"/></clipPath>
<rect width="330" height="259" fill="#f1e9e3"/>
<path d="M55 125C61.7 112.5 71.7 100 80 95C88.3 90 97.5 89.2 105 95C112.5 100.8 120 116.7 125 130C130 143.3 133.3 160 135 175C136.7 190 135.8 205.5 135 220C134.2 234.5 145.8 255 130 262C114.2 269 56.7 268.2 40 262C23.3 255.8 30 240.3 30 225C30 209.7 35.8 186.7 40 170C44.2 153.3 48.3 137.5 55 125Z" fill="#efd2da" opacity="0.45"/>
<path d="M110 -5C147.7 -15.8 294.2 -45 331 -5C367.8 35 336.2 196.7 331 235C325.8 273.3 306.8 230 300 225C293.2 220 298.3 209.2 290 205C281.7 200.8 262.5 201.7 250 200C237.5 198.3 223.3 193.3 215 195C206.7 196.7 203.3 203.3 200 210C196.7 216.7 197.5 225.8 195 235C192.5 244.2 195.8 260 185 265C174.2 270 138.3 272.5 130 265C121.7 257.5 135 232.5 135 220C135 207.5 131.2 200 130 190C128.8 180 129.7 170 128 160C126.3 150 123.3 140 120 130C116.7 120 110.5 111.7 108 100C105.5 88.3 104.7 77.5 105 60C105.3 42.5 72.3 5.8 110 -5Z" fill="#ecc2cf" opacity="0.95"/>
<path d="M244.7 22C251.7 19.4 277.7 12.1 284.3 17.6C290.9 23.1 288.4 42.5 284.3 55C280.2 67.5 266.6 82.6 260 92.5C253.4 102.4 250.2 112.7 244.7 114.5C239.2 116.3 228.8 111.6 227 103.5C225.2 95.4 231.1 77.8 233.7 66C236.3 54.2 240.7 40.3 242.5 33C244.3 25.7 237.7 24.6 244.7 22Z" fill="#f1e9e3"/>
<path d="M284 72.7C289.1 69.4 305.5 66.5 310.7 72.7C315.9 78.9 315.8 98.6 315 110C314.2 121.4 311.2 135.8 306 141C300.8 146.2 289.1 145.4 284 141C278.9 136.6 276.2 122.6 275.5 114.5C274.8 106.4 278.6 99.5 280 92.5C281.4 85.5 278.9 76 284 72.7Z" fill="#f1e9e3"/>
<path d="M191.8 211C197 199.8 206.5 198.3 216 198C225.5 197.7 238 203.2 249 209C260 214.8 274.7 223.7 282 233C289.3 242.3 309.2 259.7 293 265C276.8 270.3 201.9 274 185 265C168.1 256 186.6 222.2 191.8 211Z" fill="#f1e9e3"/>
<path d="M104 148a13 22 0 1 0 26 0a13 22 0 1 0 -26 0Z" fill="#f1e9e3"/>
<path d="M182 154a11 9 0 1 0 22 0a11 9 0 1 0 -22 0Z" fill="#f1e9e3"/>
<path d="M144 60a6 7 0 1 0 12 0a6 7 0 1 0 -12 0Z" fill="#f1e9e3"/>
<path d="M165 100a5 6 0 1 0 10 0a5 6 0 1 0 -10 0Z" fill="#f1e9e3"/>
<path d="M210 8a12 9 0 1 0 24 0a12 9 0 1 0 -24 0Z" fill="#f1e9e3"/>
<path d="M-5 80C-2.2 56.7 6.2 70 12 60C17.8 50 25.3 30.8 30 20C34.7 9.2 24.2 -0.8 40 -5C55.8 -9.2 116.7 -15.8 125 -5C133.3 5.8 100.8 38.3 90 60C79.2 81.7 70.8 105.8 60 125C49.2 144.2 35.8 162.5 25 175C14.2 187.5 0 215.8 -5 200C-10 184.2 -7.8 103.3 -5 80Z" fill="#f1e9e3"/>
<path d="M94.9 102.4L101.9 97.3L106.5 91.8M-0.4 215L2.8 216.4M2.8 216.4L3.6 222.9L6.9 228.5L8.2 234.8M22.8 259.6L18.2 263M21.1 253.4L15.1 251.3L10 247.5M-0.4 263L-0.4 262.7L-0.3 256.7M26.8 263L22.8 259.6M-4 256.6L-0.3 256.7M35.5 243.9L40.4 246.9L48.1 249.5M48.1 249.5L49.2 255.6L48 261.7M94.9 102.4L90.1 97.4L85.6 92.3M85.6 92.3L87.5 85.6L89.1 78.8L91.6 72.3M101.9 74.2L91.6 72.3M-4 68.8L-3 68.2L0.4 62.8L5.2 58.8M-4 28.9L-0.3 30.6M-4 40.4L-3.1 39L-0.3 30.6M70.9 102.9L69.8 106.6M85.6 92.3L78.6 93.4L74.8 94M94.8 104.8L90.1 111L84.9 116.9M84.9 116.9L80.4 112.6L74.3 110.9L69.8 106.6M104 258.9L111.5 258.7L119 258L126.5 259.3M56 263L57.4 262.7L64.3 262.9L71.2 262.5M133.4 229.8L132.6 225.6M122.2 205.4L122.2 213.6L122.8 221.7M122.2 205.4L128.7 204.8L132.6 202.8M84.9 116.9L85.3 121.5M85.3 121.5L80.3 130.6M59 126.7L62.8 128.9L66.7 133.6M66.7 133.6L73.3 131.4L80.3 130.6M98.1 146.1L103.8 155.8M103.8 155.8L101 161.5L99.9 167.8M83.1 165.2L91.7 165.5L99.9 167.8M83.1 165.2L81.2 156.3M88.7 145.6L84.1 150.4L81.2 156.3M88.5 63L89.2 70.4M113 114.6L115.3 119.5M115.3 119.5L111.6 124.5L106.5 128M21.5 179.4L27.4 179.8M31.9 166.7L33.9 172.3M10.4 194.8L11.4 195.2L16.6 198.2L21.2 202.2M27.4 179.8L28.4 185.7L29.3 191.7M2.8 216.4L9 214.3L15 211.3L21.3 209.2M21.3 209.2L24.9 213.2M71.2 245.7L64.6 243.2L57.8 241.3M104 258.9L101.9 255.6M298.9 263L303.9 260.8M334 258.9L331.6 255.3M334 248.1L333.9 248.3L331.6 255.3M296.1 217.9L293.5 218.9L287.1 220.7L281.1 223.7M275.9 201.9L274.1 208M279.5 227.8L277.2 227.8M274.1 208L266.4 211.8L258 213.3M28.2 -4L30.3 -3.4M45.6 148.1L48.3 150M33.9 172.3L45.4 171.5M48.3 150L55.3 150L62.2 149M62.2 149L64.3 151.7M45.4 196.9L47.2 189.6L51.2 183.1L53 175.8M53 175.8L55.5 175.7M116.7 175.8L111.2 177.3M111.2 177.3L110.7 184.6L111 191.9L109.2 199.1M128.1 184.7L124.7 190.4L123.8 197.2L120.3 202.9M120.3 202.9L109.2 199.1M121.2 168.7L121 169.2L116.7 175.8M104.4 175L111.2 177.3M104.4 175L98 181.3L91 186.9M109.2 199.1L101.8 201.4M78.4 173.1L80.7 179.5L82.5 186M91 186.9L82.5 186M101.1 221.2L107.9 222.6L114.7 222.7L121.5 222.4M121.5 222.4L119.2 228.6L116.7 234.8L114 240.9M114 240.9L108.3 242.9M89.2 236L91 234.9L98.9 231.9M94.5 212.7L97.4 206.6L101.8 201.4M126.8 248.6L119.8 245.7L114 240.9M21 14.5L24.5 22.6L26.4 28.5M21 14.5L12.6 12.9M2.3 29.6L8.1 31.6L13.5 34.5L18.5 38.1M29.5 9L21 14.5M-4 7L1.5 11L9.5 14.5M45.4 196.9L48.8 202.5M57.8 241.3L57 234.8L55 228.6M57.2 226.6L55 228.6M71.9 207.3L67.9 206.1L60.8 204.2M80.8 188.1L73.4 189.2L66.3 191.9M82.5 186L80.8 188.1M48.8 202.5L60.7 204.1" fill="none" stroke="#e8c2ce" stroke-width="0.8"/>
<path d="M86.7 251L86.8 257.5L84.8 263M86.7 251L80.1 250.2L74.3 246.3L67.6 246L61 245.5L54.4 244.8L48.4 241.9M239 198L239.1 201.5L240.4 204.7M266.9 201.3L268.5 205.9L266.7 212L263.5 217.4M-2.1 24.6L1.2 24M1.2 24L2.9 16.8L4.9 9.8L9 3.3L9.7 -4M-2.1 24.6L-4 28.3M-3.1 67.2L-0.3 66.4M14.6 33L13.1 39.8L17 46.2L15.3 53L15.4 53.6M106.6 161.1L106.4 161L101 164.9L94.8 165.1M134.4 211.7L130.7 217.1L128.9 223.9M87.2 210.5L91 204.9L92.2 197.7L95.8 191.9L100.4 186.6M60.8 177.7L59.8 184L58.2 190.2L59.9 196.6M96.6 222.5L94.4 229.5L92.7 236.7L89.4 243.3L87.7 250.4M268.7 221L274.6 222.3M278.4 229L278.5 228.2L274.6 222.3M274.6 222.3L281 220.6L287.1 218.6L292.8 215.1L295.5 214.3M28.7 -4L30.1 -3.6L33.1 -1.5M14.6 33L21.2 30L25.6 30.5M-1 236.7L-2 243.6L-3.9 250.2L-4 250.9M31.1 244.9L28.2 248.2L26.1 254.7L24.8 261.6L23.9 263M2.9 203L2.7 208.9L-1.2 214.8L0 221.6L-2.7 227.7L-2.7 234.3M23.2 201.4L16.4 201.5L9.7 202.9L3.7 202.5M-1 236.7L-2.7 234.3M60.8 177.7L56.2 172.4M56.2 172.4L49.2 173.3L42.4 170.7L35.7 168.8L29.3 169.9M85.3 135.5L77.3 136.8L69.6 134.2M69.6 134.2L64.8 141L57.5 145M56.2 172.4L57.2 165.6L58.9 158.8L55.3 151.8L57.5 145M298 253.7L299.4 252.7L306 249.1L311 243.3M331.7 263L332.8 260.4L331.9 253.7M100 121.7L104.5 117.4L107.5 111.6L111.1 109.7M103 74.4L104.2 67L104.9 65.6" fill="none" stroke="#ebc2ce" stroke-width="4" stroke-linejoin="round" stroke-linecap="round"/>
<path d="M48.4 241.9L49.8 248.1L51.7 254.2L53.1 260.4L53.4 263M-2.1 24.6L-4 24M130.3 192.4L124.4 191.3L118.4 190.2L112.4 189L106.7 186.3L100.4 186.6M100.4 186.6L96.8 180.4L95.1 173.6L94.2 166.6M68.2 208.2L63.2 203.1L59.9 196.6M57.3 227.4L54.8 230.5L50.9 235.7L48.1 241.6M23.7 201.8L25.8 208.3L29.4 214.3L29.6 215M48.1 241.6L40.2 240.8M60.8 177.7L67.4 175.3L73.6 171.6L81.2 172.1L87.5 168.7L94.2 166.6M128.9 223.9L131 230L132.7 232.4M-1 236.7L5.6 238.8L12.7 238.2L17.6 238.3M23.2 201.4L24.6 195.2L24.7 188.7L25 182.3L28.9 176.5L28.7 170.7M85.3 135.5L85.4 142L88.8 147.4L89.2 153.8L91.2 159.7L94.8 165.1M311 243.3L314.3 244.1M324.4 250.4L324.7 250.7L331.9 253.7M310.7 239.4L311 243.3M334 252.9L331.9 253.7M111.2 259.9L118.3 257.1L124.6 252.9L128 250.4M111.2 259.9L111.8 263M87.7 250.4L94.1 251.6L99.6 254.7L105.6 257L111.2 259.9M78.9 84.4L83.8 83.6L89.7 79.2L96 75.9L103 74.4M69.6 134.2L64.6 130.1L63.1 123.7L61.9 121.5M57.5 145L50.9 145.8L48.1 144.3M86.7 251L86.8 257.5L84.8 263M86.7 251L80.1 250.2L74.3 246.3L67.6 246L61 245.5L54.4 244.8L48.4 241.9M239 198L239.1 201.5L240.4 204.7M266.9 201.3L268.5 205.9L266.7 212L263.5 217.4M-2.1 24.6L1.2 24M1.2 24L2.9 16.8L4.9 9.8L9 3.3L9.7 -4M-2.1 24.6L-4 28.3M-3.1 67.2L-0.3 66.4M14.6 33L13.1 39.8L17 46.2L15.3 53L15.4 53.6M106.6 161.1L106.4 161L101 164.9L94.8 165.1M134.4 211.7L130.7 217.1L128.9 223.9M87.2 210.5L91 204.9L92.2 197.7L95.8 191.9L100.4 186.6M60.8 177.7L59.8 184L58.2 190.2L59.9 196.6M96.6 222.5L94.4 229.5L92.7 236.7L89.4 243.3L87.7 250.4M268.7 221L274.6 222.3M278.4 229L278.5 228.2L274.6 222.3M274.6 222.3L281 220.6L287.1 218.6L292.8 215.1L295.5 214.3M28.7 -4L30.1 -3.6L33.1 -1.5M14.6 33L21.2 30L25.6 30.5M-1 236.7L-2 243.6L-3.9 250.2L-4 250.9M31.1 244.9L28.2 248.2L26.1 254.7L24.8 261.6L23.9 263M2.9 203L2.7 208.9L-1.2 214.8L0 221.6L-2.7 227.7L-2.7 234.3M23.2 201.4L16.4 201.5L9.7 202.9L3.7 202.5M-1 236.7L-2.7 234.3M60.8 177.7L56.2 172.4M56.2 172.4L49.2 173.3L42.4 170.7L35.7 168.8L29.3 169.9M85.3 135.5L77.3 136.8L69.6 134.2M69.6 134.2L64.8 141L57.5 145M56.2 172.4L57.2 165.6L58.9 158.8L55.3 151.8L57.5 145M298 253.7L299.4 252.7L306 249.1L311 243.3M331.7 263L332.8 260.4L331.9 253.7M100 121.7L104.5 117.4L107.5 111.6L111.1 109.7M103 74.4L104.2 67L104.9 65.6" fill="none" stroke="#e2adc0" stroke-width="1" stroke-linejoin="round"/>
<path d="M311 243.3h0M331.9 253.7h0M1.2 24h0M85.3 135.5h0M48.4 241.9h0M111.2 259.9h0M60.8 177.7h0M96.6 222.5h0M128.9 223.9h0M100.4 186.6h0M94.2 166.6h0M23.7 201.8h0M69.6 134.2h0M103 74.4h0M-1 236.7h0M-2.7 234.3h0M56.2 172.4h0" stroke="#ebc2ce" stroke-width="8" stroke-linecap="round"/>
<path d="M334.1 24.6a2.6 2.6 0 1 0 5.2 0a2.6 2.6 0 1 0-5.2 0M181.3 36.7a2.6 2.6 0 1 0 5.2 0a2.6 2.6 0 1 0-5.2 0M265.3 113.2a2.6 2.6 0 1 0 5.2 0a2.6 2.6 0 1 0-5.2 0M140.9 145a2.6 2.6 0 1 0 5.2 0a2.6 2.6 0 1 0-5.2 0M179.5 -15.4a2.6 2.6 0 1 0 5.2 0a2.6 2.6 0 1 0-5.2 0M229.4 139.5a2.6 2.6 0 1 0 5.2 0a2.6 2.6 0 1 0-5.2 0M134.6 131.2a2.6 2.6 0 1 0 5.2 0a2.6 2.6 0 1 0-5.2 0M161.7 70a2.6 2.6 0 1 0 5.2 0a2.6 2.6 0 1 0-5.2 0M144.3 71.7a2.6 2.6 0 1 0 5.2 0a2.6 2.6 0 1 0-5.2 0M124.3 119.5a2.6 2.6 0 1 0 5.2 0a2.6 2.6 0 1 0-5.2 0M259.4 154.5a2.6 2.6 0 1 0 5.2 0a2.6 2.6 0 1 0-5.2 0M245.8 14.5a2.6 2.6 0 1 0 5.2 0a2.6 2.6 0 1 0-5.2 0M159.3 237.3a2.6 2.6 0 1 0 5.2 0a2.6 2.6 0 1 0-5.2 0M295.5 202.8a2.6 2.6 0 1 0 5.2 0a2.6 2.6 0 1 0-5.2 0M209.4 134.1a2.6 2.6 0 1 0 5.2 0a2.6 2.6 0 1 0-5.2 0M173.3 123.1a2.6 2.6 0 1 0 5.2 0a2.6 2.6 0 1 0-5.2 0M169.7 198.2a2.6 2.6 0 1 0 5.2 0a2.6 2.6 0 1 0-5.2 0M148.4 164.9a2.6 2.6 0 1 0 5.2 0a2.6 2.6 0 1 0-5.2 0M328.1 205.9a2.6 2.6 0 1 0 5.2 0a2.6 2.6 0 1 0-5.2 0M175.2 -9.3a2.6 2.6 0 1 0 5.2 0a2.6 2.6 0 1 0-5.2 0M212.3 15.8a2.6 2.6 0 1 0 5.2 0a2.6 2.6 0 1 0-5.2 0M226.2 124.8a2.6 2.6 0 1 0 5.2 0a2.6 2.6 0 1 0-5.2 0M329.8 66.1a2.6 2.6 0 1 0 5.2 0a2.6 2.6 0 1 0-5.2 0M163.5 3.1a2.6 2.6 0 1 0 5.2 0a2.6 2.6 0 1 0-5.2 0M161.2 130.5a2.6 2.6 0 1 0 5.2 0a2.6 2.6 0 1 0-5.2 0M289.1 64.9a2.6 2.6 0 1 0 5.2 0a2.6 2.6 0 1 0-5.2 0M239.9 10a2.6 2.6 0 1 0 5.2 0a2.6 2.6 0 1 0-5.2 0M310.1 65.9a2.6 2.6 0 1 0 5.2 0a2.6 2.6 0 1 0-5.2 0M136.1 171.2a2.6 2.6 0 1 0 5.2 0a2.6 2.6 0 1 0-5.2 0M168.8 112.9a2.6 2.6 0 1 0 5.2 0a2.6 2.6 0 1 0-5.2 0M231.6 123.3a2.6 2.6 0 1 0 5.2 0a2.6 2.6 0 1 0-5.2 0M289.7 151.8a2.6 2.6 0 1 0 5.2 0a2.6 2.6 0 1 0-5.2 0M172.2 111.5a2.6 2.6 0 1 0 5.2 0a2.6 2.6 0 1 0-5.2 0M144.7 -6a2.6 2.6 0 1 0 5.2 0a2.6 2.6 0 1 0-5.2 0M219.3 27.8a2.6 2.6 0 1 0 5.2 0a2.6 2.6 0 1 0-5.2 0M254.9 194.1a2.6 2.6 0 1 0 5.2 0a2.6 2.6 0 1 0-5.2 0M142.2 254.4a2.6 2.6 0 1 0 5.2 0a2.6 2.6 0 1 0-5.2 0M181.3 91.5a2.6 2.6 0 1 0 5.2 0a2.6 2.6 0 1 0-5.2 0M197.2 83.1a2.6 2.6 0 1 0 5.2 0a2.6 2.6 0 1 0-5.2 0M317.5 68.9a2.6 2.6 0 1 0 5.2 0a2.6 2.6 0 1 0-5.2 0M193.8 171.5a2.6 2.6 0 1 0 5.2 0a2.6 2.6 0 1 0-5.2 0M192.6 31.9a2.6 2.6 0 1 0 5.2 0a2.6 2.6 0 1 0-5.2 0M224.2 -20.2a2.6 2.6 0 1 0 5.2 0a2.6 2.6 0 1 0-5.2 0M235.8 -17.6a2.6 2.6 0 1 0 5.2 0a2.6 2.6 0 1 0-5.2 0M289.4 44.2a2.6 2.6 0 1 0 5.2 0a2.6 2.6 0 1 0-5.2 0M246.7 -17.8a2.6 2.6 0 1 0 5.2 0a2.6 2.6 0 1 0-5.2 0M124.5 108.7a2.6 2.6 0 1 0 5.2 0a2.6 2.6 0 1 0-5.2 0M307.7 225.9a2.6 2.6 0 1 0 5.2 0a2.6 2.6 0 1 0-5.2 0M113.6 58.4a2.6 2.6 0 1 0 5.2 0a2.6 2.6 0 1 0-5.2 0M324.9 108.3a2.6 2.6 0 1 0 5.2 0a2.6 2.6 0 1 0-5.2 0M135.8 33.5a2.6 2.6 0 1 0 5.2 0a2.6 2.6 0 1 0-5.2 0M149 131a2.6 2.6 0 1 0 5.2 0a2.6 2.6 0 1 0-5.2 0M238.8 138.5a2.6 2.6 0 1 0 5.2 0a2.6 2.6 0 1 0-5.2 0M153.5 59a2.6 2.6 0 1 0 5.2 0a2.6 2.6 0 1 0-5.2 0M143.3 117.7a2.6 2.6 0 1 0 5.2 0a2.6 2.6 0 1 0-5.2 0M156.5 238.7a2.6 2.6 0 1 0 5.2 0a2.6 2.6 0 1 0-5.2 0M164.4 180.8a2.6 2.6 0 1 0 5.2 0a2.6 2.6 0 1 0-5.2 0M136.5 214.3a2.6 2.6 0 1 0 5.2 0a2.6 2.6 0 1 0-5.2 0M165.2 240.2a2.6 2.6 0 1 0 5.2 0a2.6 2.6 0 1 0-5.2 0M147.5 143.7a2.6 2.6 0 1 0 5.2 0a2.6 2.6 0 1 0-5.2 0M114.4 84.8a2.6 2.6 0 1 0 5.2 0a2.6 2.6 0 1 0-5.2 0M320.7 180.6a2.6 2.6 0 1 0 5.2 0a2.6 2.6 0 1 0-5.2 0M167 211.5a2.6 2.6 0 1 0 5.2 0a2.6 2.6 0 1 0-5.2 0M221.5 25.1a2.6 2.6 0 1 0 5.2 0a2.6 2.6 0 1 0-5.2 0M158.9 9.2a2.6 2.6 0 1 0 5.2 0a2.6 2.6 0 1 0-5.2 0M257.1 122.4a2.6 2.6 0 1 0 5.2 0a2.6 2.6 0 1 0-5.2 0M317.9 191.7a2.6 2.6 0 1 0 5.2 0a2.6 2.6 0 1 0-5.2 0M184.3 119.6a2.6 2.6 0 1 0 5.2 0a2.6 2.6 0 1 0-5.2 0M312 237a2.6 2.6 0 1 0 5.2 0a2.6 2.6 0 1 0-5.2 0M237.8 -11.2a2.6 2.6 0 1 0 5.2 0a2.6 2.6 0 1 0-5.2 0M178.3 25.5a2.6 2.6 0 1 0 5.2 0a2.6 2.6 0 1 0-5.2 0M170.5 259.6a2.6 2.6 0 1 0 5.2 0a2.6 2.6 0 1 0-5.2 0M177.4 33.6a2.6 2.6 0 1 0 5.2 0a2.6 2.6 0 1 0-5.2 0M303.9 173.1a2.6 2.6 0 1 0 5.2 0a2.6 2.6 0 1 0-5.2 0M270.5 -1.4a2.6 2.6 0 1 0 5.2 0a2.6 2.6 0 1 0-5.2 0M144.9 -2a2.6 2.6 0 1 0 5.2 0a2.6 2.6 0 1 0-5.2 0M229.4 149.5a2.6 2.6 0 1 0 5.2 0a2.6 2.6 0 1 0-5.2 0M176.2 95.1a2.6 2.6 0 1 0 5.2 0a2.6 2.6 0 1 0-5.2 0M107.7 80.4a2.6 2.6 0 1 0 5.2 0a2.6 2.6 0 1 0-5.2 0M218.2 56.8a2.6 2.6 0 1 0 5.2 0a2.6 2.6 0 1 0-5.2 0M109.3 84.4a2.6 2.6 0 1 0 5.2 0a2.6 2.6 0 1 0-5.2 0M249.9 120a2.6 2.6 0 1 0 5.2 0a2.6 2.6 0 1 0-5.2 0M188.9 47.6a2.6 2.6 0 1 0 5.2 0a2.6 2.6 0 1 0-5.2 0M324 124.5a2.6 2.6 0 1 0 5.2 0a2.6 2.6 0 1 0-5.2 0M304.3 6.7a2.6 2.6 0 1 0 5.2 0a2.6 2.6 0 1 0-5.2 0M213.1 45.2a2.6 2.6 0 1 0 5.2 0a2.6 2.6 0 1 0-5.2 0M220.6 165.1a2.6 2.6 0 1 0 5.2 0a2.6 2.6 0 1 0-5.2 0M264.5 199.2a2.6 2.6 0 1 0 5.2 0a2.6 2.6 0 1 0-5.2 0M148 97a2.6 2.6 0 1 0 5.2 0a2.6 2.6 0 1 0-5.2 0M330.6 77.6a2.6 2.6 0 1 0 5.2 0a2.6 2.6 0 1 0-5.2 0M310.8 139.8a2.6 2.6 0 1 0 5.2 0a2.6 2.6 0 1 0-5.2 0M314.4 134.5a2.6 2.6 0 1 0 5.2 0a2.6 2.6 0 1 0-5.2 0M290.1 8.1a2.6 2.6 0 1 0 5.2 0a2.6 2.6 0 1 0-5.2 0M315.7 194.3a2.6 2.6 0 1 0 5.2 0a2.6 2.6 0 1 0-5.2 0M330.7 67a2.6 2.6 0 1 0 5.2 0a2.6 2.6 0 1 0-5.2 0M248.6 118a2.6 2.6 0 1 0 5.2 0a2.6 2.6 0 1 0-5.2 0M187.7 95.6a2.6 2.6 0 1 0 5.2 0a2.6 2.6 0 1 0-5.2 0M283.5 160.4a2.6 2.6 0 1 0 5.2 0a2.6 2.6 0 1 0-5.2 0M212.9 172.1a2.6 2.6 0 1 0 5.2 0a2.6 2.6 0 1 0-5.2 0M140.9 60.3a2.6 2.6 0 1 0 5.2 0a2.6 2.6 0 1 0-5.2 0M314.6 231.9a2.6 2.6 0 1 0 5.2 0a2.6 2.6 0 1 0-5.2 0M264.4 147.8a2.6 2.6 0 1 0 5.2 0a2.6 2.6 0 1 0-5.2 0M326.3 89.4a2.6 2.6 0 1 0 5.2 0a2.6 2.6 0 1 0-5.2 0M199.6 145.3a2.6 2.6 0 1 0 5.2 0a2.6 2.6 0 1 0-5.2 0M144.5 153.9a2.6 2.6 0 1 0 5.2 0a2.6 2.6 0 1 0-5.2 0M248.4 162.9a2.6 2.6 0 1 0 5.2 0a2.6 2.6 0 1 0-5.2 0M164.1 -11.5a2.6 2.6 0 1 0 5.2 0a2.6 2.6 0 1 0-5.2 0M300.8 26.5a2.6 2.6 0 1 0 5.2 0a2.6 2.6 0 1 0-5.2 0M208 193.8a2.6 2.6 0 1 0 5.2 0a2.6 2.6 0 1 0-5.2 0M319.8 220.9a2.6 2.6 0 1 0 5.2 0a2.6 2.6 0 1 0-5.2 0M184.6 185.5a2.6 2.6 0 1 0 5.2 0a2.6 2.6 0 1 0-5.2 0M291.2 153.2a2.6 2.6 0 1 0 5.2 0a2.6 2.6 0 1 0-5.2 0M345.6 80.2a2.6 2.6 0 1 0 5.2 0a2.6 2.6 0 1 0-5.2 0M223.4 114.7a2.6 2.6 0 1 0 5.2 0a2.6 2.6 0 1 0-5.2 0M336.4 65.2a2.6 2.6 0 1 0 5.2 0a2.6 2.6 0 1 0-5.2 0M270.1 146.7a2.6 2.6 0 1 0 5.2 0a2.6 2.6 0 1 0-5.2 0M304.3 215.8a2.6 2.6 0 1 0 5.2 0a2.6 2.6 0 1 0-5.2 0M313.3 85.1a2.6 2.6 0 1 0 5.2 0a2.6 2.6 0 1 0-5.2 0M309.9 228.4a2.6 2.6 0 1 0 5.2 0a2.6 2.6 0 1 0-5.2 0M165.4 230.7a2.6 2.6 0 1 0 5.2 0a2.6 2.6 0 1 0-5.2 0M199 41.8a2.6 2.6 0 1 0 5.2 0a2.6 2.6 0 1 0-5.2 0M108.8 76.8a2.6 2.6 0 1 0 5.2 0a2.6 2.6 0 1 0-5.2 0M243.5 147.5a2.6 2.6 0 1 0 5.2 0a2.6 2.6 0 1 0-5.2 0M239.1 31.4a2.6 2.6 0 1 0 5.2 0a2.6 2.6 0 1 0-5.2 0M201.2 114.8a2.6 2.6 0 1 0 5.2 0a2.6 2.6 0 1 0-5.2 0M330.2 65.4a2.6 2.6 0 1 0 5.2 0a2.6 2.6 0 1 0-5.2 0M127.8 134.4a2.6 2.6 0 1 0 5.2 0a2.6 2.6 0 1 0-5.2 0M269.6 83.4a2.6 2.6 0 1 0 5.2 0a2.6 2.6 0 1 0-5.2 0M337.6 98a2.6 2.6 0 1 0 5.2 0a2.6 2.6 0 1 0-5.2 0M198.5 142.6a2.6 2.6 0 1 0 5.2 0a2.6 2.6 0 1 0-5.2 0M219.4 160.3a2.6 2.6 0 1 0 5.2 0a2.6 2.6 0 1 0-5.2 0M313.7 -6.2a2.6 2.6 0 1 0 5.2 0a2.6 2.6 0 1 0-5.2 0M191.4 164a2.6 2.6 0 1 0 5.2 0a2.6 2.6 0 1 0-5.2 0M219.8 139.8a2.6 2.6 0 1 0 5.2 0a2.6 2.6 0 1 0-5.2 0M269.4 158a2.6 2.6 0 1 0 5.2 0a2.6 2.6 0 1 0-5.2 0M318.5 127.2a2.6 2.6 0 1 0 5.2 0a2.6 2.6 0 1 0-5.2 0M135.8 107.7a2.6 2.6 0 1 0 5.2 0a2.6 2.6 0 1 0-5.2 0M179.5 95.3a2.6 2.6 0 1 0 5.2 0a2.6 2.6 0 1 0-5.2 0M307.3 10.5a2.6 2.6 0 1 0 5.2 0a2.6 2.6 0 1 0-5.2 0M222.8 118.6a2.6 2.6 0 1 0 5.2 0a2.6 2.6 0 1 0-5.2 0M325.8 103.5a2.6 2.6 0 1 0 5.2 0a2.6 2.6 0 1 0-5.2 0M231 147.5a2.6 2.6 0 1 0 5.2 0a2.6 2.6 0 1 0-5.2 0M316.3 141.2a2.6 2.6 0 1 0 5.2 0a2.6 2.6 0 1 0-5.2 0M155.3 19.5a2.6 2.6 0 1 0 5.2 0a2.6 2.6 0 1 0-5.2 0M144.9 -5.7a2.6 2.6 0 1 0 5.2 0a2.6 2.6 0 1 0-5.2 0M201.8 30.7a2.6 2.6 0 1 0 5.2 0a2.6 2.6 0 1 0-5.2 0M154.5 7.4a2.6 2.6 0 1 0 5.2 0a2.6 2.6 0 1 0-5.2 0M247.4 115a2.6 2.6 0 1 0 5.2 0a2.6 2.6 0 1 0-5.2 0M190 14.7a2.6 2.6 0 1 0 5.2 0a2.6 2.6 0 1 0-5.2 0M144.4 163.7a2.6 2.6 0 1 0 5.2 0a2.6 2.6 0 1 0-5.2 0M166.1 68.5a2.6 2.6 0 1 0 5.2 0a2.6 2.6 0 1 0-5.2 0M318.8 19.7a2.6 2.6 0 1 0 5.2 0a2.6 2.6 0 1 0-5.2 0M306.5 65.5a2.6 2.6 0 1 0 5.2 0a2.6 2.6 0 1 0-5.2 0M209.4 133.1a2.6 2.6 0 1 0 5.2 0a2.6 2.6 0 1 0-5.2 0M138.8 104.6a2.6 2.6 0 1 0 5.2 0a2.6 2.6 0 1 0-5.2 0M155.2 58.7a2.6 2.6 0 1 0 5.2 0a2.6 2.6 0 1 0-5.2 0M316.5 -12.8a2.6 2.6 0 1 0 5.2 0a2.6 2.6 0 1 0-5.2 0M254.5 111.9a2.6 2.6 0 1 0 5.2 0a2.6 2.6 0 1 0-5.2 0M117.6 126.5a2.6 2.6 0 1 0 5.2 0a2.6 2.6 0 1 0-5.2 0M275.6 171a2.6 2.6 0 1 0 5.2 0a2.6 2.6 0 1 0-5.2 0M137.6 218.4a2.6 2.6 0 1 0 5.2 0a2.6 2.6 0 1 0-5.2 0M226.9 57.5a2.6 2.6 0 1 0 5.2 0a2.6 2.6 0 1 0-5.2 0M214.9 52.7a2.6 2.6 0 1 0 5.2 0a2.6 2.6 0 1 0-5.2 0M176.2 114.3a2.6 2.6 0 1 0 5.2 0a2.6 2.6 0 1 0-5.2 0M326 78.9a2.6 2.6 0 1 0 5.2 0a2.6 2.6 0 1 0-5.2 0M296.9 148.5a2.6 2.6 0 1 0 5.2 0a2.6 2.6 0 1 0-5.2 0M264.1 86a2.6 2.6 0 1 0 5.2 0a2.6 2.6 0 1 0-5.2 0M147.3 105.5a2.6 2.6 0 1 0 5.2 0a2.6 2.6 0 1 0-5.2 0M287.3 187.8a2.6 2.6 0 1 0 5.2 0a2.6 2.6 0 1 0-5.2 0M196.4 41.5a2.6 2.6 0 1 0 5.2 0a2.6 2.6 0 1 0-5.2 0M203.6 63.7a2.6 2.6 0 1 0 5.2 0a2.6 2.6 0 1 0-5.2 0M216.8 185.2a2.6 2.6 0 1 0 5.2 0a2.6 2.6 0 1 0-5.2 0M186.3 94.8a2.6 2.6 0 1 0 5.2 0a2.6 2.6 0 1 0-5.2 0M129.8 133.9a2.6 2.6 0 1 0 5.2 0a2.6 2.6 0 1 0-5.2 0M319.8 6.5a2.6 2.6 0 1 0 5.2 0a2.6 2.6 0 1 0-5.2 0M282.2 143a2.6 2.6 0 1 0 5.2 0a2.6 2.6 0 1 0-5.2 0M339.8 92.9a2.6 2.6 0 1 0 5.2 0a2.6 2.6 0 1 0-5.2 0M246.9 191.7a2.6 2.6 0 1 0 5.2 0a2.6 2.6 0 1 0-5.2 0M213.3 77.4a2.6 2.6 0 1 0 5.2 0a2.6 2.6 0 1 0-5.2 0M188.8 76.2a2.6 2.6 0 1 0 5.2 0a2.6 2.6 0 1 0-5.2 0M274.3 201a2.6 2.6 0 1 0 5.2 0a2.6 2.6 0 1 0-5.2 0M115.6 104.5a2.6 2.6 0 1 0 5.2 0a2.6 2.6 0 1 0-5.2 0M225.3 156.5a2.6 2.6 0 1 0 5.2 0a2.6 2.6 0 1 0-5.2 0M326.5 114.8a2.6 2.6 0 1 0 5.2 0a2.6 2.6 0 1 0-5.2 0M101.9 42.1a2.6 2.6 0 1 0 5.2 0a2.6 2.6 0 1 0-5.2 0M236.7 -24.5a2.6 2.6 0 1 0 5.2 0a2.6 2.6 0 1 0-5.2 0M259.6 106.7a2.6 2.6 0 1 0 5.2 0a2.6 2.6 0 1 0-5.2 0M185.5 92.9a2.6 2.6 0 1 0 5.2 0a2.6 2.6 0 1 0-5.2 0M152.9 62.7a2.6 2.6 0 1 0 5.2 0a2.6 2.6 0 1 0-5.2 0M187.4 85.5a2.6 2.6 0 1 0 5.2 0a2.6 2.6 0 1 0-5.2 0M193.9 162.6a2.6 2.6 0 1 0 5.2 0a2.6 2.6 0 1 0-5.2 0M156.7 242.1a2.6 2.6 0 1 0 5.2 0a2.6 2.6 0 1 0-5.2 0M321.8 182.3a2.6 2.6 0 1 0 5.2 0a2.6 2.6 0 1 0-5.2 0M164.8 17.8a2.6 2.6 0 1 0 5.2 0a2.6 2.6 0 1 0-5.2 0M250 189.9a2.6 2.6 0 1 0 5.2 0a2.6 2.6 0 1 0-5.2 0M275.3 133.1a2.6 2.6 0 1 0 5.2 0a2.6 2.6 0 1 0-5.2 0M218.9 127.9a2.6 2.6 0 1 0 5.2 0a2.6 2.6 0 1 0-5.2 0M279.1 190a2.6 2.6 0 1 0 5.2 0a2.6 2.6 0 1 0-5.2 0M316.5 105.8a2.6 2.6 0 1 0 5.2 0a2.6 2.6 0 1 0-5.2 0M201.6 67.9a2.6 2.6 0 1 0 5.2 0a2.6 2.6 0 1 0-5.2 0M212.9 100.8a2.6 2.6 0 1 0 5.2 0a2.6 2.6 0 1 0-5.2 0M340.1 119.7a2.6 2.6 0 1 0 5.2 0a2.6 2.6 0 1 0-5.2 0M150.7 260.8a2.6 2.6 0 1 0 5.2 0a2.6 2.6 0 1 0-5.2 0M160.6 171.5a2.6 2.6 0 1 0 5.2 0a2.6 2.6 0 1 0-5.2 0M274.3 140.6a2.6 2.6 0 1 0 5.2 0a2.6 2.6 0 1 0-5.2 0M320.6 215.4a2.6 2.6 0 1 0 5.2 0a2.6 2.6 0 1 0-5.2 0M267.9 148.6a2.6 2.6 0 1 0 5.2 0a2.6 2.6 0 1 0-5.2 0M180.1 67a2.6 2.6 0 1 0 5.2 0a2.6 2.6 0 1 0-5.2 0M308.2 17.7a2.6 2.6 0 1 0 5.2 0a2.6 2.6 0 1 0-5.2 0M315.7 114.4a2.6 2.6 0 1 0 5.2 0a2.6 2.6 0 1 0-5.2 0M267.6 14.1a2.6 2.6 0 1 0 5.2 0a2.6 2.6 0 1 0-5.2 0M136.1 32.1a2.6 2.6 0 1 0 5.2 0a2.6 2.6 0 1 0-5.2 0M156 18.6a2.6 2.6 0 1 0 5.2 0a2.6 2.6 0 1 0-5.2 0M232.2 189.8a2.6 2.6 0 1 0 5.2 0a2.6 2.6 0 1 0-5.2 0M201.3 64.5a2.6 2.6 0 1 0 5.2 0a2.6 2.6 0 1 0-5.2 0M324.7 233a2.6 2.6 0 1 0 5.2 0a2.6 2.6 0 1 0-5.2 0M134.1 181.9a2.6 2.6 0 1 0 5.2 0a2.6 2.6 0 1 0-5.2 0M187.1 38.5a2.6 2.6 0 1 0 5.2 0a2.6 2.6 0 1 0-5.2 0M324.9 179.2a2.6 2.6 0 1 0 5.2 0a2.6 2.6 0 1 0-5.2 0M164.2 221.1a2.6 2.6 0 1 0 5.2 0a2.6 2.6 0 1 0-5.2 0M196.4 52.6a2.6 2.6 0 1 0 5.2 0a2.6 2.6 0 1 0-5.2 0M303 180.3a2.6 2.6 0 1 0 5.2 0a2.6 2.6 0 1 0-5.2 0M179 183.2a2.6 2.6 0 1 0 5.2 0a2.6 2.6 0 1 0-5.2 0M204.1 185.8a2.6 2.6 0 1 0 5.2 0a2.6 2.6 0 1 0-5.2 0M199.1 141.7a2.6 2.6 0 1 0 5.2 0a2.6 2.6 0 1 0-5.2 0M309.4 71.6a2.6 2.6 0 1 0 5.2 0a2.6 2.6 0 1 0-5.2 0M302.1 198.6a2.6 2.6 0 1 0 5.2 0a2.6 2.6 0 1 0-5.2 0M287.8 191.3a2.6 2.6 0 1 0 5.2 0a2.6 2.6 0 1 0-5.2 0M193.1 37.2a2.6 2.6 0 1 0 5.2 0a2.6 2.6 0 1 0-5.2 0M322.4 93.5a2.6 2.6 0 1 0 5.2 0a2.6 2.6 0 1 0-5.2 0M313.2 165.5a2.6 2.6 0 1 0 5.2 0a2.6 2.6 0 1 0-5.2 0M214.4 103.4a2.6 2.6 0 1 0 5.2 0a2.6 2.6 0 1 0-5.2 0M143.6 145.6a2.6 2.6 0 1 0 5.2 0a2.6 2.6 0 1 0-5.2 0M175.4 188.7a2.6 2.6 0 1 0 5.2 0a2.6 2.6 0 1 0-5.2 0M103.4 78.2a2.6 2.6 0 1 0 5.2 0a2.6 2.6 0 1 0-5.2 0M250.5 112.1a2.6 2.6 0 1 0 5.2 0a2.6 2.6 0 1 0-5.2 0M212.7 181.1a2.6 2.6 0 1 0 5.2 0a2.6 2.6 0 1 0-5.2 0M322 64a2.6 2.6 0 1 0 5.2 0a2.6 2.6 0 1 0-5.2 0M150.1 16.4a2.6 2.6 0 1 0 5.2 0a2.6 2.6 0 1 0-5.2 0M293 20.2a2.6 2.6 0 1 0 5.2 0a2.6 2.6 0 1 0-5.2 0M233.7 -2.4a2.6 2.6 0 1 0 5.2 0a2.6 2.6 0 1 0-5.2 0M306.2 180.5a2.6 2.6 0 1 0 5.2 0a2.6 2.6 0 1 0-5.2 0M340.4 51a2.6 2.6 0 1 0 5.2 0a2.6 2.6 0 1 0-5.2 0M165.6 -1.7a2.6 2.6 0 1 0 5.2 0a2.6 2.6 0 1 0-5.2 0M331.6 70.2a2.6 2.6 0 1 0 5.2 0a2.6 2.6 0 1 0-5.2 0M198.9 100.6a2.6 2.6 0 1 0 5.2 0a2.6 2.6 0 1 0-5.2 0M132.2 170.6a2.6 2.6 0 1 0 5.2 0a2.6 2.6 0 1 0-5.2 0M341.1 145.5a2.6 2.6 0 1 0 5.2 0a2.6 2.6 0 1 0-5.2 0M163.6 113.3a2.6 2.6 0 1 0 5.2 0a2.6 2.6 0 1 0-5.2 0M221.8 -6.5a2.6 2.6 0 1 0 5.2 0a2.6 2.6 0 1 0-5.2 0M289.9 -16.5a2.6 2.6 0 1 0 5.2 0a2.6 2.6 0 1 0-5.2 0M160 223.5a2.6 2.6 0 1 0 5.2 0a2.6 2.6 0 1 0-5.2 0M201 165.3a2.6 2.6 0 1 0 5.2 0a2.6 2.6 0 1 0-5.2 0M194 129.8a2.6 2.6 0 1 0 5.2 0a2.6 2.6 0 1 0-5.2 0M180.5 14.8a2.6 2.6 0 1 0 5.2 0a2.6 2.6 0 1 0-5.2 0M293.3 196.6a2.6 2.6 0 1 0 5.2 0a2.6 2.6 0 1 0-5.2 0M136 177.9a2.6 2.6 0 1 0 5.2 0a2.6 2.6 0 1 0-5.2 0M125.5 136a2.6 2.6 0 1 0 5.2 0a2.6 2.6 0 1 0-5.2 0M126.5 70.5a2.6 2.6 0 1 0 5.2 0a2.6 2.6 0 1 0-5.2 0M318 3.3a2.6 2.6 0 1 0 5.2 0a2.6 2.6 0 1 0-5.2 0M309.1 218.5a2.6 2.6 0 1 0 5.2 0a2.6 2.6 0 1 0-5.2 0M301.2 67.8a2.6 2.6 0 1 0 5.2 0a2.6 2.6 0 1 0-5.2 0M305.3 228.8a2.6 2.6 0 1 0 5.2 0a2.6 2.6 0 1 0-5.2 0M240.2 152.3a2.6 2.6 0 1 0 5.2 0a2.6 2.6 0 1 0-5.2 0M112.1 49.5a2.6 2.6 0 1 0 5.2 0a2.6 2.6 0 1 0-5.2 0M208.4 54.3a2.6 2.6 0 1 0 5.2 0a2.6 2.6 0 1 0-5.2 0M276.4 182.4a2.6 2.6 0 1 0 5.2 0a2.6 2.6 0 1 0-5.2 0M127.9 20.6a2.6 2.6 0 1 0 5.2 0a2.6 2.6 0 1 0-5.2 0M108.9 86a2.6 2.6 0 1 0 5.2 0a2.6 2.6 0 1 0-5.2 0M315.5 40.1a2.6 2.6 0 1 0 5.2 0a2.6 2.6 0 1 0-5.2 0M259.8 167.8a2.6 2.6 0 1 0 5.2 0a2.6 2.6 0 1 0-5.2 0M336.4 16.1a2.6 2.6 0 1 0 5.2 0a2.6 2.6 0 1 0-5.2 0M305.1 -1.3a2.6 2.6 0 1 0 5.2 0a2.6 2.6 0 1 0-5.2 0M288.9 191.6a2.6 2.6 0 1 0 5.2 0a2.6 2.6 0 1 0-5.2 0M222.9 96.2a2.6 2.6 0 1 0 5.2 0a2.6 2.6 0 1 0-5.2 0M139.8 139.6a2.6 2.6 0 1 0 5.2 0a2.6 2.6 0 1 0-5.2 0M175.8 11.3a2.6 2.6 0 1 0 5.2 0a2.6 2.6 0 1 0-5.2 0M200.6 53.3a2.6 2.6 0 1 0 5.2 0a2.6 2.6 0 1 0-5.2 0M343.5 86.2a2.6 2.6 0 1 0 5.2 0a2.6 2.6 0 1 0-5.2 0M127.5 142.6a2.6 2.6 0 1 0 5.2 0a2.6 2.6 0 1 0-5.2 0M213.6 -8a2.6 2.6 0 1 0 5.2 0a2.6 2.6 0 1 0-5.2 0M264.4 154.7a2.6 2.6 0 1 0 5.2 0a2.6 2.6 0 1 0-5.2 0M122.5 92.7a2.6 2.6 0 1 0 5.2 0a2.6 2.6 0 1 0-5.2 0M156.8 165.1a2.6 2.6 0 1 0 5.2 0a2.6 2.6 0 1 0-5.2 0M129.9 126.9a2.6 2.6 0 1 0 5.2 0a2.6 2.6 0 1 0-5.2 0M247.8 130.9a2.6 2.6 0 1 0 5.2 0a2.6 2.6 0 1 0-5.2 0M333.8 27.3a2.6 2.6 0 1 0 5.2 0a2.6 2.6 0 1 0-5.2 0M230.2 53.4a2.6 2.6 0 1 0 5.2 0a2.6 2.6 0 1 0-5.2 0M113.7 35.5a2.6 2.6 0 1 0 5.2 0a2.6 2.6 0 1 0-5.2 0M196.2 86a2.6 2.6 0 1 0 5.2 0a2.6 2.6 0 1 0-5.2 0M263.6 158.1a2.6 2.6 0 1 0 5.2 0a2.6 2.6 0 1 0-5.2 0M222.1 162.4a2.6 2.6 0 1 0 5.2 0a2.6 2.6 0 1 0-5.2 0M311.5 43.4a2.6 2.6 0 1 0 5.2 0a2.6 2.6 0 1 0-5.2 0M161.3 94.8a2.6 2.6 0 1 0 5.2 0a2.6 2.6 0 1 0-5.2 0M243.7 -11.8a2.6 2.6 0 1 0 5.2 0a2.6 2.6 0 1 0-5.2 0M104.9 65.7a2.6 2.6 0 1 0 5.2 0a2.6 2.6 0 1 0-5.2 0M323.7 189.7a2.6 2.6 0 1 0 5.2 0a2.6 2.6 0 1 0-5.2 0M188.6 35.2a2.6 2.6 0 1 0 5.2 0a2.6 2.6 0 1 0-5.2 0M136.8 205.3a2.6 2.6 0 1 0 5.2 0a2.6 2.6 0 1 0-5.2 0M326.8 75.5a2.6 2.6 0 1 0 5.2 0a2.6 2.6 0 1 0-5.2 0M309 203.7a2.6 2.6 0 1 0 5.2 0a2.6 2.6 0 1 0-5.2 0M324 124.2a2.6 2.6 0 1 0 5.2 0a2.6 2.6 0 1 0-5.2 0M332 164.5a2.6 2.6 0 1 0 5.2 0a2.6 2.6 0 1 0-5.2 0M280.8 165.2a2.6 2.6 0 1 0 5.2 0a2.6 2.6 0 1 0-5.2 0M162.5 37.8a2.6 2.6 0 1 0 5.2 0a2.6 2.6 0 1 0-5.2 0M213.3 189.8a2.6 2.6 0 1 0 5.2 0a2.6 2.6 0 1 0-5.2 0M180.7 185.6a2.6 2.6 0 1 0 5.2 0a2.6 2.6 0 1 0-5.2 0M190.1 109.6a2.6 2.6 0 1 0 5.2 0a2.6 2.6 0 1 0-5.2 0M231.8 129.8a2.6 2.6 0 1 0 5.2 0a2.6 2.6 0 1 0-5.2 0M188.4 100a2.6 2.6 0 1 0 5.2 0a2.6 2.6 0 1 0-5.2 0M196.5 90.7a2.6 2.6 0 1 0 5.2 0a2.6 2.6 0 1 0-5.2 0M326.6 125.4a2.6 2.6 0 1 0 5.2 0a2.6 2.6 0 1 0-5.2 0M132.8 204.8a2.6 2.6 0 1 0 5.2 0a2.6 2.6 0 1 0-5.2 0M303.6 201.3a2.6 2.6 0 1 0 5.2 0a2.6 2.6 0 1 0-5.2 0M238.2 124.9a2.6 2.6 0 1 0 5.2 0a2.6 2.6 0 1 0-5.2 0M277.2 184.2a2.6 2.6 0 1 0 5.2 0a2.6 2.6 0 1 0-5.2 0M230.5 19.8a2.6 2.6 0 1 0 5.2 0a2.6 2.6 0 1 0-5.2 0M190 140.2a2.6 2.6 0 1 0 5.2 0a2.6 2.6 0 1 0-5.2 0M131.2 261a2.6 2.6 0 1 0 5.2 0a2.6 2.6 0 1 0-5.2 0M190.5 71.1a2.6 2.6 0 1 0 5.2 0a2.6 2.6 0 1 0-5.2 0M287.3 18.6a2.6 2.6 0 1 0 5.2 0a2.6 2.6 0 1 0-5.2 0M306.6 198.8a2.6 2.6 0 1 0 5.2 0a2.6 2.6 0 1 0-5.2 0M107.5 93.6a2.6 2.6 0 1 0 5.2 0a2.6 2.6 0 1 0-5.2 0M142.2 91.1a2.6 2.6 0 1 0 5.2 0a2.6 2.6 0 1 0-5.2 0M219.4 -7.7a2.6 2.6 0 1 0 5.2 0a2.6 2.6 0 1 0-5.2 0M261.5 166.4a2.6 2.6 0 1 0 5.2 0a2.6 2.6 0 1 0-5.2 0M276.7 -7.1a2.6 2.6 0 1 0 5.2 0a2.6 2.6 0 1 0-5.2 0M133.2 151.3a2.6 2.6 0 1 0 5.2 0a2.6 2.6 0 1 0-5.2 0M241.4 17.9a2.6 2.6 0 1 0 5.2 0a2.6 2.6 0 1 0-5.2 0M216.6 161.9a2.6 2.6 0 1 0 5.2 0a2.6 2.6 0 1 0-5.2 0M193.4 86.4a2.6 2.6 0 1 0 5.2 0a2.6 2.6 0 1 0-5.2 0M256 164.5a2.6 2.6 0 1 0 5.2 0a2.6 2.6 0 1 0-5.2 0M206.3 -13.9a2.6 2.6 0 1 0 5.2 0a2.6 2.6 0 1 0-5.2 0M142.2 226a2.6 2.6 0 1 0 5.2 0a2.6 2.6 0 1 0-5.2 0M283.1 -8.6a2.6 2.6 0 1 0 5.2 0a2.6 2.6 0 1 0-5.2 0M190.9 11.7a2.6 2.6 0 1 0 5.2 0a2.6 2.6 0 1 0-5.2 0M130.4 153a2.6 2.6 0 1 0 5.2 0a2.6 2.6 0 1 0-5.2 0M308.2 52.2a2.6 2.6 0 1 0 5.2 0a2.6 2.6 0 1 0-5.2 0M167.9 123.8a2.6 2.6 0 1 0 5.2 0a2.6 2.6 0 1 0-5.2 0M327.8 45a2.6 2.6 0 1 0 5.2 0a2.6 2.6 0 1 0-5.2 0M239 185.8a2.6 2.6 0 1 0 5.2 0a2.6 2.6 0 1 0-5.2 0M137.5 185.3a2.6 2.6 0 1 0 5.2 0a2.6 2.6 0 1 0-5.2 0M137.9 47.8a2.6 2.6 0 1 0 5.2 0a2.6 2.6 0 1 0-5.2 0M178.1 228.9a2.6 2.6 0 1 0 5.2 0a2.6 2.6 0 1 0-5.2 0M138.7 163.4a2.6 2.6 0 1 0 5.2 0a2.6 2.6 0 1 0-5.2 0M171.3 124.9a2.6 2.6 0 1 0 5.2 0a2.6 2.6 0 1 0-5.2 0M253.2 133.5a2.6 2.6 0 1 0 5.2 0a2.6 2.6 0 1 0-5.2 0M312.6 147.9a2.6 2.6 0 1 0 5.2 0a2.6 2.6 0 1 0-5.2 0M133.5 240a2.6 2.6 0 1 0 5.2 0a2.6 2.6 0 1 0-5.2 0M157.6 238a2.6 2.6 0 1 0 5.2 0a2.6 2.6 0 1 0-5.2 0M270.4 10.9a2.6 2.6 0 1 0 5.2 0a2.6 2.6 0 1 0-5.2 0M333.3 158.5a2.6 2.6 0 1 0 5.2 0a2.6 2.6 0 1 0-5.2 0M145.8 3.2a2.6 2.6 0 1 0 5.2 0a2.6 2.6 0 1 0-5.2 0M139 20.2a2.6 2.6 0 1 0 5.2 0a2.6 2.6 0 1 0-5.2 0M300.3 59.5a2.6 2.6 0 1 0 5.2 0a2.6 2.6 0 1 0-5.2 0M138.6 8.3a2.6 2.6 0 1 0 5.2 0a2.6 2.6 0 1 0-5.2 0M177.2 181.1a2.6 2.6 0 1 0 5.2 0a2.6 2.6 0 1 0-5.2 0M112.1 93.2a2.6 2.6 0 1 0 5.2 0a2.6 2.6 0 1 0-5.2 0M178.8 263.2a2.6 2.6 0 1 0 5.2 0a2.6 2.6 0 1 0-5.2 0M313.2 -6.1a2.6 2.6 0 1 0 5.2 0a2.6 2.6 0 1 0-5.2 0M293.7 19.5a2.6 2.6 0 1 0 5.2 0a2.6 2.6 0 1 0-5.2 0M287.4 -0.2a2.6 2.6 0 1 0 5.2 0a2.6 2.6 0 1 0-5.2 0M146.2 93.1a2.6 2.6 0 1 0 5.2 0a2.6 2.6 0 1 0-5.2 0M283 183.3a2.6 2.6 0 1 0 5.2 0a2.6 2.6 0 1 0-5.2 0M202.6 12.7a2.6 2.6 0 1 0 5.2 0a2.6 2.6 0 1 0-5.2 0M277 90.9a2.6 2.6 0 1 0 5.2 0a2.6 2.6 0 1 0-5.2 0M185.5 127.9a2.6 2.6 0 1 0 5.2 0a2.6 2.6 0 1 0-5.2 0M205 121.5a2.6 2.6 0 1 0 5.2 0a2.6 2.6 0 1 0-5.2 0M151.7 68.5a2.6 2.6 0 1 0 5.2 0a2.6 2.6 0 1 0-5.2 0M211.3 77.3a2.6 2.6 0 1 0 5.2 0a2.6 2.6 0 1 0-5.2 0M308 -13a2.6 2.6 0 1 0 5.2 0a2.6 2.6 0 1 0-5.2 0M331.8 195a2.6 2.6 0 1 0 5.2 0a2.6 2.6 0 1 0-5.2 0M254.5 12.4a2.6 2.6 0 1 0 5.2 0a2.6 2.6 0 1 0-5.2 0M138.1 60.8a2.6 2.6 0 1 0 5.2 0a2.6 2.6 0 1 0-5.2 0M309.6 177.3a2.6 2.6 0 1 0 5.2 0a2.6 2.6 0 1 0-5.2 0M230.9 170.1a2.6 2.6 0 1 0 5.2 0a2.6 2.6 0 1 0-5.2 0M279.2 174.3a2.6 2.6 0 1 0 5.2 0a2.6 2.6 0 1 0-5.2 0M154.1 152.2a2.6 2.6 0 1 0 5.2 0a2.6 2.6 0 1 0-5.2 0M240 115.7a2.6 2.6 0 1 0 5.2 0a2.6 2.6 0 1 0-5.2 0M134.8 120.5a2.6 2.6 0 1 0 5.2 0a2.6 2.6 0 1 0-5.2 0M342.6 106.5a2.6 2.6 0 1 0 5.2 0a2.6 2.6 0 1 0-5.2 0M175.4 37.2a2.6 2.6 0 1 0 5.2 0a2.6 2.6 0 1 0-5.2 0M162.8 35.9a2.6 2.6 0 1 0 5.2 0a2.6 2.6 0 1 0-5.2 0M239.2 -4.7a2.6 2.6 0 1 0 5.2 0a2.6 2.6 0 1 0-5.2 0M140.1 144a2.6 2.6 0 1 0 5.2 0a2.6 2.6 0 1 0-5.2 0M271.2 136.5a2.6 2.6 0 1 0 5.2 0a2.6 2.6 0 1 0-5.2 0M151.9 -13.7a2.6 2.6 0 1 0 5.2 0a2.6 2.6 0 1 0-5.2 0M343.1 44.7a2.6 2.6 0 1 0 5.2 0a2.6 2.6 0 1 0-5.2 0M302.2 160.6a2.6 2.6 0 1 0 5.2 0a2.6 2.6 0 1 0-5.2 0M314.8 97.3a2.6 2.6 0 1 0 5.2 0a2.6 2.6 0 1 0-5.2 0M295.5 -13a2.6 2.6 0 1 0 5.2 0a2.6 2.6 0 1 0-5.2 0M133.8 129a2.6 2.6 0 1 0 5.2 0a2.6 2.6 0 1 0-5.2 0M169.2 69.6a2.6 2.6 0 1 0 5.2 0a2.6 2.6 0 1 0-5.2 0M151.9 155.6a2.6 2.6 0 1 0 5.2 0a2.6 2.6 0 1 0-5.2 0M231.8 169.2a2.6 2.6 0 1 0 5.2 0a2.6 2.6 0 1 0-5.2 0M189.7 58.5a2.6 2.6 0 1 0 5.2 0a2.6 2.6 0 1 0-5.2 0M181.9 46.6a2.6 2.6 0 1 0 5.2 0a2.6 2.6 0 1 0-5.2 0M161.5 240.4a2.6 2.6 0 1 0 5.2 0a2.6 2.6 0 1 0-5.2 0M180.3 183.5a2.6 2.6 0 1 0 5.2 0a2.6 2.6 0 1 0-5.2 0M321.4 185.8a2.6 2.6 0 1 0 5.2 0a2.6 2.6 0 1 0-5.2 0M302.3 26.2a2.6 2.6 0 1 0 5.2 0a2.6 2.6 0 1 0-5.2 0M126.2 27.9a2.6 2.6 0 1 0 5.2 0a2.6 2.6 0 1 0-5.2 0M295.9 153.6a2.6 2.6 0 1 0 5.2 0a2.6 2.6 0 1 0-5.2 0M159.5 119.5a2.6 2.6 0 1 0 5.2 0a2.6 2.6 0 1 0-5.2 0M313.3 79.6a2.6 2.6 0 1 0 5.2 0a2.6 2.6 0 1 0-5.2 0M117.3 99.5a2.6 2.6 0 1 0 5.2 0a2.6 2.6 0 1 0-5.2 0M340.3 125.3a2.6 2.6 0 1 0 5.2 0a2.6 2.6 0 1 0-5.2 0M292.7 61.1a2.6 2.6 0 1 0 5.2 0a2.6 2.6 0 1 0-5.2 0M168.3 208.2a2.6 2.6 0 1 0 5.2 0a2.6 2.6 0 1 0-5.2 0M300.2 216.3a2.6 2.6 0 1 0 5.2 0a2.6 2.6 0 1 0-5.2 0M132.9 60a2.6 2.6 0 1 0 5.2 0a2.6 2.6 0 1 0-5.2 0M304.9 149.8a2.6 2.6 0 1 0 5.2 0a2.6 2.6 0 1 0-5.2 0M194.7 203.3a2.6 2.6 0 1 0 5.2 0a2.6 2.6 0 1 0-5.2 0M106.1 48a2.6 2.6 0 1 0 5.2 0a2.6 2.6 0 1 0-5.2 0M242.4 136.8a2.6 2.6 0 1 0 5.2 0a2.6 2.6 0 1 0-5.2 0M214.2 -8.2a2.6 2.6 0 1 0 5.2 0a2.6 2.6 0 1 0-5.2 0M151.8 -6.8a2.6 2.6 0 1 0 5.2 0a2.6 2.6 0 1 0-5.2 0M334.3 120.7a2.6 2.6 0 1 0 5.2 0a2.6 2.6 0 1 0-5.2 0M196.8 2.9a2.6 2.6 0 1 0 5.2 0a2.6 2.6 0 1 0-5.2 0M256.9 115.7a2.6 2.6 0 1 0 5.2 0a2.6 2.6 0 1 0-5.2 0M176.3 53.8a2.6 2.6 0 1 0 5.2 0a2.6 2.6 0 1 0-5.2 0M127.9 76.9a2.6 2.6 0 1 0 5.2 0a2.6 2.6 0 1 0-5.2 0M235.7 179.1a2.6 2.6 0 1 0 5.2 0a2.6 2.6 0 1 0-5.2 0M144 169.1a2.6 2.6 0 1 0 5.2 0a2.6 2.6 0 1 0-5.2 0M169.3 190.4a2.6 2.6 0 1 0 5.2 0a2.6 2.6 0 1 0-5.2 0M138.9 49.7a2.6 2.6 0 1 0 5.2 0a2.6 2.6 0 1 0-5.2 0M151.2 132.2a2.6 2.6 0 1 0 5.2 0a2.6 2.6 0 1 0-5.2 0M343.4 72.2a2.6 2.6 0 1 0 5.2 0a2.6 2.6 0 1 0-5.2 0M315.5 73.5a2.6 2.6 0 1 0 5.2 0a2.6 2.6 0 1 0-5.2 0M123.6 34.5a2.6 2.6 0 1 0 5.2 0a2.6 2.6 0 1 0-5.2 0M316.3 195.2a2.6 2.6 0 1 0 5.2 0a2.6 2.6 0 1 0-5.2 0M136.7 181.7a2.6 2.6 0 1 0 5.2 0a2.6 2.6 0 1 0-5.2 0M327.5 82.3a2.6 2.6 0 1 0 5.2 0a2.6 2.6 0 1 0-5.2 0M154.3 6.9a2.6 2.6 0 1 0 5.2 0a2.6 2.6 0 1 0-5.2 0M149.8 9.1a2.6 2.6 0 1 0 5.2 0a2.6 2.6 0 1 0-5.2 0M125.7 43.7a2.6 2.6 0 1 0 5.2 0a2.6 2.6 0 1 0-5.2 0M296.1 -17.1a2.6 2.6 0 1 0 5.2 0a2.6 2.6 0 1 0-5.2 0M163.7 176.5a2.6 2.6 0 1 0 5.2 0a2.6 2.6 0 1 0-5.2 0M142.9 229a2.6 2.6 0 1 0 5.2 0a2.6 2.6 0 1 0-5.2 0M187.5 208.3a2.6 2.6 0 1 0 5.2 0a2.6 2.6 0 1 0-5.2 0M316.1 54.4a2.6 2.6 0 1 0 5.2 0a2.6 2.6 0 1 0-5.2 0M302.7 189.8a2.6 2.6 0 1 0 5.2 0a2.6 2.6 0 1 0-5.2 0M335.8 50.3a2.6 2.6 0 1 0 5.2 0a2.6 2.6 0 1 0-5.2 0M226.1 62.8a2.6 2.6 0 1 0 5.2 0a2.6 2.6 0 1 0-5.2 0M201.7 131.9a2.6 2.6 0 1 0 5.2 0a2.6 2.6 0 1 0-5.2 0M319.2 72.9a2.6 2.6 0 1 0 5.2 0a2.6 2.6 0 1 0-5.2 0M197.5 28.2a2.6 2.6 0 1 0 5.2 0a2.6 2.6 0 1 0-5.2 0M238 148.1a2.6 2.6 0 1 0 5.2 0a2.6 2.6 0 1 0-5.2 0M309.4 64.5a2.6 2.6 0 1 0 5.2 0a2.6 2.6 0 1 0-5.2 0M312.8 176.5a2.6 2.6 0 1 0 5.2 0a2.6 2.6 0 1 0-5.2 0M128.5 53.4a2.6 2.6 0 1 0 5.2 0a2.6 2.6 0 1 0-5.2 0M324.6 55.3a2.6 2.6 0 1 0 5.2 0a2.6 2.6 0 1 0-5.2 0M329.4 223.5a2.6 2.6 0 1 0 5.2 0a2.6 2.6 0 1 0-5.2 0M197 40.1a2.6 2.6 0 1 0 5.2 0a2.6 2.6 0 1 0-5.2 0M172.9 147.3a2.6 2.6 0 1 0 5.2 0a2.6 2.6 0 1 0-5.2 0M168.4 235.4a2.6 2.6 0 1 0 5.2 0a2.6 2.6 0 1 0-5.2 0M109.2 92.7a2.6 2.6 0 1 0 5.2 0a2.6 2.6 0 1 0-5.2 0M135.5 154.3a2.6 2.6 0 1 0 5.2 0a2.6 2.6 0 1 0-5.2 0M335.2 107.7a2.6 2.6 0 1 0 5.2 0a2.6 2.6 0 1 0-5.2 0M184.4 -10.6a2.6 2.6 0 1 0 5.2 0a2.6 2.6 0 1 0-5.2 0M327 17.3a2.6 2.6 0 1 0 5.2 0a2.6 2.6 0 1 0-5.2 0M266.5 175.3a2.6 2.6 0 1 0 5.2 0a2.6 2.6 0 1 0-5.2 0M144.8 254.6a2.6 2.6 0 1 0 5.2 0a2.6 2.6 0 1 0-5.2 0M218.9 191.8a2.6 2.6 0 1 0 5.2 0a2.6 2.6 0 1 0-5.2 0M227.7 127.9a2.6 2.6 0 1 0 5.2 0a2.6 2.6 0 1 0-5.2 0M240.7 157a2.6 2.6 0 1 0 5.2 0a2.6 2.6 0 1 0-5.2 0M319.5 246.7a2.6 2.6 0 1 0 5.2 0a2.6 2.6 0 1 0-5.2 0M212.4 157.6a2.6 2.6 0 1 0 5.2 0a2.6 2.6 0 1 0-5.2 0M219.2 143.4a2.6 2.6 0 1 0 5.2 0a2.6 2.6 0 1 0-5.2 0M175.3 172.6a2.6 2.6 0 1 0 5.2 0a2.6 2.6 0 1 0-5.2 0M255.1 119.1a2.6 2.6 0 1 0 5.2 0a2.6 2.6 0 1 0-5.2 0M174.5 160.7a2.6 2.6 0 1 0 5.2 0a2.6 2.6 0 1 0-5.2 0M219.9 71.8a2.6 2.6 0 1 0 5.2 0a2.6 2.6 0 1 0-5.2 0M328.7 151.5a2.6 2.6 0 1 0 5.2 0a2.6 2.6 0 1 0-5.2 0M152 165a2.6 2.6 0 1 0 5.2 0a2.6 2.6 0 1 0-5.2 0M176.7 196a2.6 2.6 0 1 0 5.2 0a2.6 2.6 0 1 0-5.2 0M253.9 101a2.6 2.6 0 1 0 5.2 0a2.6 2.6 0 1 0-5.2 0M250.5 188.8a2.6 2.6 0 1 0 5.2 0a2.6 2.6 0 1 0-5.2 0M142.2 197.8a2.6 2.6 0 1 0 5.2 0a2.6 2.6 0 1 0-5.2 0M288 15.3a2.6 2.6 0 1 0 5.2 0a2.6 2.6 0 1 0-5.2 0M124.3 49.6a2.6 2.6 0 1 0 5.2 0a2.6 2.6 0 1 0-5.2 0M320 78.8a2.6 2.6 0 1 0 5.2 0a2.6 2.6 0 1 0-5.2 0M129.1 38.7a2.6 2.6 0 1 0 5.2 0a2.6 2.6 0 1 0-5.2 0M139 43.1a2.6 2.6 0 1 0 5.2 0a2.6 2.6 0 1 0-5.2 0M206.3 -19.1a2.6 2.6 0 1 0 5.2 0a2.6 2.6 0 1 0-5.2 0M176.1 194.6a2.6 2.6 0 1 0 5.2 0a2.6 2.6 0 1 0-5.2 0M206.8 38.6a2.6 2.6 0 1 0 5.2 0a2.6 2.6 0 1 0-5.2 0M123 95.3a2.6 2.6 0 1 0 5.2 0a2.6 2.6 0 1 0-5.2 0M156.9 70.3a2.6 2.6 0 1 0 5.2 0a2.6 2.6 0 1 0-5.2 0M157.3 177.3a2.6 2.6 0 1 0 5.2 0a2.6 2.6 0 1 0-5.2 0M186.7 59.1a2.6 2.6 0 1 0 5.2 0a2.6 2.6 0 1 0-5.2 0M261.3 -4.8a2.6 2.6 0 1 0 5.2 0a2.6 2.6 0 1 0-5.2 0M294.7 11.5a2.6 2.6 0 1 0 5.2 0a2.6 2.6 0 1 0-5.2 0M176.5 151.2a2.6 2.6 0 1 0 5.2 0a2.6 2.6 0 1 0-5.2 0M186.3 -0.3a2.6 2.6 0 1 0 5.2 0a2.6 2.6 0 1 0-5.2 0M146.1 124.5a2.6 2.6 0 1 0 5.2 0a2.6 2.6 0 1 0-5.2 0M316.5 124a2.6 2.6 0 1 0 5.2 0a2.6 2.6 0 1 0-5.2 0M342.3 116.4a2.6 2.6 0 1 0 5.2 0a2.6 2.6 0 1 0-5.2 0M302.2 33.3a2.6 2.6 0 1 0 5.2 0a2.6 2.6 0 1 0-5.2 0M326.4 149.7a2.6 2.6 0 1 0 5.2 0a2.6 2.6 0 1 0-5.2 0M126.9 -1a2.6 2.6 0 1 0 5.2 0a2.6 2.6 0 1 0-5.2 0M249 158.5a2.6 2.6 0 1 0 5.2 0a2.6 2.6 0 1 0-5.2 0M262.7 199.2a2.6 2.6 0 1 0 5.2 0a2.6 2.6 0 1 0-5.2 0M131.7 -2.5a2.6 2.6 0 1 0 5.2 0a2.6 2.6 0 1 0-5.2 0M207.6 33.7a2.6 2.6 0 1 0 5.2 0a2.6 2.6 0 1 0-5.2 0M205 72.8a2.6 2.6 0 1 0 5.2 0a2.6 2.6 0 1 0-5.2 0M167 58.9a2.6 2.6 0 1 0 5.2 0a2.6 2.6 0 1 0-5.2 0M205.6 137.4a2.6 2.6 0 1 0 5.2 0a2.6 2.6 0 1 0-5.2 0M173.9 172.8a2.6 2.6 0 1 0 5.2 0a2.6 2.6 0 1 0-5.2 0M114 113.9a2.6 2.6 0 1 0 5.2 0a2.6 2.6 0 1 0-5.2 0M286.9 195.8a2.6 2.6 0 1 0 5.2 0a2.6 2.6 0 1 0-5.2 0M333.8 180a2.6 2.6 0 1 0 5.2 0a2.6 2.6 0 1 0-5.2 0M249.1 8.3a2.6 2.6 0 1 0 5.2 0a2.6 2.6 0 1 0-5.2 0M212.4 21.3a2.6 2.6 0 1 0 5.2 0a2.6 2.6 0 1 0-5.2 0M331 82.3a2.6 2.6 0 1 0 5.2 0a2.6 2.6 0 1 0-5.2 0M254.3 -2.5a2.6 2.6 0 1 0 5.2 0a2.6 2.6 0 1 0-5.2 0M170.5 54.8a2.6 2.6 0 1 0 5.2 0a2.6 2.6 0 1 0-5.2 0M179.7 74.5a2.6 2.6 0 1 0 5.2 0a2.6 2.6 0 1 0-5.2 0M331.7 169a2.6 2.6 0 1 0 5.2 0a2.6 2.6 0 1 0-5.2 0M221.7 194.3a2.6 2.6 0 1 0 5.2 0a2.6 2.6 0 1 0-5.2 0M286.7 -10.1a2.6 2.6 0 1 0 5.2 0a2.6 2.6 0 1 0-5.2 0M229.4 -22.8a2.6 2.6 0 1 0 5.2 0a2.6 2.6 0 1 0-5.2 0M194.5 135a2.6 2.6 0 1 0 5.2 0a2.6 2.6 0 1 0-5.2 0M293.1 10.8a2.6 2.6 0 1 0 5.2 0a2.6 2.6 0 1 0-5.2 0M225.3 172a2.6 2.6 0 1 0 5.2 0a2.6 2.6 0 1 0-5.2 0M224.6 184.7a2.6 2.6 0 1 0 5.2 0a2.6 2.6 0 1 0-5.2 0M138 16.6a2.6 2.6 0 1 0 5.2 0a2.6 2.6 0 1 0-5.2 0M128.8 92.6a2.6 2.6 0 1 0 5.2 0a2.6 2.6 0 1 0-5.2 0M255.7 133.9a2.6 2.6 0 1 0 5.2 0a2.6 2.6 0 1 0-5.2 0M129.3 86.4a2.6 2.6 0 1 0 5.2 0a2.6 2.6 0 1 0-5.2 0M181.7 -18.3a2.6 2.6 0 1 0 5.2 0a2.6 2.6 0 1 0-5.2 0M262 149.1a2.6 2.6 0 1 0 5.2 0a2.6 2.6 0 1 0-5.2 0M194.3 73.9a2.6 2.6 0 1 0 5.2 0a2.6 2.6 0 1 0-5.2 0M224.3 86a2.6 2.6 0 1 0 5.2 0a2.6 2.6 0 1 0-5.2 0M143.1 159.1a2.6 2.6 0 1 0 5.2 0a2.6 2.6 0 1 0-5.2 0M205.8 120a2.6 2.6 0 1 0 5.2 0a2.6 2.6 0 1 0-5.2 0M189.1 131.3a2.6 2.6 0 1 0 5.2 0a2.6 2.6 0 1 0-5.2 0M208.3 -17.9a2.6 2.6 0 1 0 5.2 0a2.6 2.6 0 1 0-5.2 0M195.6 143.1a2.6 2.6 0 1 0 5.2 0a2.6 2.6 0 1 0-5.2 0M159.2 123a2.6 2.6 0 1 0 5.2 0a2.6 2.6 0 1 0-5.2 0M245.4 -11.2a2.6 2.6 0 1 0 5.2 0a2.6 2.6 0 1 0-5.2 0M259.8 -20.7a2.6 2.6 0 1 0 5.2 0a2.6 2.6 0 1 0-5.2 0M179.3 228.2a2.6 2.6 0 1 0 5.2 0a2.6 2.6 0 1 0-5.2 0M153.3 133.2a2.6 2.6 0 1 0 5.2 0a2.6 2.6 0 1 0-5.2 0M134.1 249.4a2.6 2.6 0 1 0 5.2 0a2.6 2.6 0 1 0-5.2 0M194.5 -10.1a2.6 2.6 0 1 0 5.2 0a2.6 2.6 0 1 0-5.2 0M210 17.9a2.6 2.6 0 1 0 5.2 0a2.6 2.6 0 1 0-5.2 0M270.5 4.8a2.6 2.6 0 1 0 5.2 0a2.6 2.6 0 1 0-5.2 0M269.6 180.3a2.6 2.6 0 1 0 5.2 0a2.6 2.6 0 1 0-5.2 0M202.5 144.6a2.6 2.6 0 1 0 5.2 0a2.6 2.6 0 1 0-5.2 0M196.8 -11.6a2.6 2.6 0 1 0 5.2 0a2.6 2.6 0 1 0-5.2 0M250.9 116.5a2.6 2.6 0 1 0 5.2 0a2.6 2.6 0 1 0-5.2 0M154.8 130.9a2.6 2.6 0 1 0 5.2 0a2.6 2.6 0 1 0-5.2 0M301 147.9a2.6 2.6 0 1 0 5.2 0a2.6 2.6 0 1 0-5.2 0M324.1 199.2a2.6 2.6 0 1 0 5.2 0a2.6 2.6 0 1 0-5.2 0M158.1 255.3a2.6 2.6 0 1 0 5.2 0a2.6 2.6 0 1 0-5.2 0M154 203.6a2.6 2.6 0 1 0 5.2 0a2.6 2.6 0 1 0-5.2 0M170.8 17.4a2.6 2.6 0 1 0 5.2 0a2.6 2.6 0 1 0-5.2 0M195.8 20.4a2.6 2.6 0 1 0 5.2 0a2.6 2.6 0 1 0-5.2 0M316.1 183.7a2.6 2.6 0 1 0 5.2 0a2.6 2.6 0 1 0-5.2 0M220.5 42.5a2.6 2.6 0 1 0 5.2 0a2.6 2.6 0 1 0-5.2 0M331.7 201.1a2.6 2.6 0 1 0 5.2 0a2.6 2.6 0 1 0-5.2 0M223.2 47.5a2.6 2.6 0 1 0 5.2 0a2.6 2.6 0 1 0-5.2 0M113.8 65.3a2.6 2.6 0 1 0 5.2 0a2.6 2.6 0 1 0-5.2 0M147.6 226.3a2.6 2.6 0 1 0 5.2 0a2.6 2.6 0 1 0-5.2 0M324.2 22.3a2.6 2.6 0 1 0 5.2 0a2.6 2.6 0 1 0-5.2 0M325.2 88.6a2.6 2.6 0 1 0 5.2 0a2.6 2.6 0 1 0-5.2 0M171.1 185.2a2.6 2.6 0 1 0 5.2 0a2.6 2.6 0 1 0-5.2 0M232.6 117.9a2.6 2.6 0 1 0 5.2 0a2.6 2.6 0 1 0-5.2 0M304.7 158.5a2.6 2.6 0 1 0 5.2 0a2.6 2.6 0 1 0-5.2 0M212.5 45.7a2.6 2.6 0 1 0 5.2 0a2.6 2.6 0 1 0-5.2 0M148.6 201.6a2.6 2.6 0 1 0 5.2 0a2.6 2.6 0 1 0-5.2 0M219.4 173a2.6 2.6 0 1 0 5.2 0a2.6 2.6 0 1 0-5.2 0M279.5 -12.7a2.6 2.6 0 1 0 5.2 0a2.6 2.6 0 1 0-5.2 0M283.8 62.8a2.6 2.6 0 1 0 5.2 0a2.6 2.6 0 1 0-5.2 0M261 124.5a2.6 2.6 0 1 0 5.2 0a2.6 2.6 0 1 0-5.2 0M125.2 129.7a2.6 2.6 0 1 0 5.2 0a2.6 2.6 0 1 0-5.2 0M327.9 219a2.6 2.6 0 1 0 5.2 0a2.6 2.6 0 1 0-5.2 0M215.8 167.9a2.6 2.6 0 1 0 5.2 0a2.6 2.6 0 1 0-5.2 0M201.4 34.8a2.6 2.6 0 1 0 5.2 0a2.6 2.6 0 1 0-5.2 0M274.2 4.9a2.6 2.6 0 1 0 5.2 0a2.6 2.6 0 1 0-5.2 0M186.6 51.7a2.6 2.6 0 1 0 5.2 0a2.6 2.6 0 1 0-5.2 0M342 36.3a2.6 2.6 0 1 0 5.2 0a2.6 2.6 0 1 0-5.2 0M274.9 128.5a2.6 2.6 0 1 0 5.2 0a2.6 2.6 0 1 0-5.2 0M135.1 235.9a2.6 2.6 0 1 0 5.2 0a2.6 2.6 0 1 0-5.2 0M251.4 166.4a2.6 2.6 0 1 0 5.2 0a2.6 2.6 0 1 0-5.2 0M168.1 13.7a2.6 2.6 0 1 0 5.2 0a2.6 2.6 0 1 0-5.2 0M304.1 29.7a2.6 2.6 0 1 0 5.2 0a2.6 2.6 0 1 0-5.2 0M331.1 189.9a2.6 2.6 0 1 0 5.2 0a2.6 2.6 0 1 0-5.2 0M188.6 17.1a2.6 2.6 0 1 0 5.2 0a2.6 2.6 0 1 0-5.2 0M180.2 95.5a2.6 2.6 0 1 0 5.2 0a2.6 2.6 0 1 0-5.2 0M322.9 78.7a2.6 2.6 0 1 0 5.2 0a2.6 2.6 0 1 0-5.2 0M116.3 51.8a2.6 2.6 0 1 0 5.2 0a2.6 2.6 0 1 0-5.2 0M124.9 59.6a2.6 2.6 0 1 0 5.2 0a2.6 2.6 0 1 0-5.2 0M132.7 212.9a2.6 2.6 0 1 0 5.2 0a2.6 2.6 0 1 0-5.2 0M209.8 36.1a2.6 2.6 0 1 0 5.2 0a2.6 2.6 0 1 0-5.2 0M325.9 236a2.6 2.6 0 1 0 5.2 0a2.6 2.6 0 1 0-5.2 0M293.3 49.3a2.6 2.6 0 1 0 5.2 0a2.6 2.6 0 1 0-5.2 0M240.8 163.7a2.6 2.6 0 1 0 5.2 0a2.6 2.6 0 1 0-5.2 0M199.2 144.9a2.6 2.6 0 1 0 5.2 0a2.6 2.6 0 1 0-5.2 0M273.8 127.2a2.6 2.6 0 1 0 5.2 0a2.6 2.6 0 1 0-5.2 0M167.2 188.7a2.6 2.6 0 1 0 5.2 0a2.6 2.6 0 1 0-5.2 0M205.1 29.4a2.6 2.6 0 1 0 5.2 0a2.6 2.6 0 1 0-5.2 0M256.7 -24.7a2.6 2.6 0 1 0 5.2 0a2.6 2.6 0 1 0-5.2 0M186.8 52.9a2.6 2.6 0 1 0 5.2 0a2.6 2.6 0 1 0-5.2 0M342.5 52a2.6 2.6 0 1 0 5.2 0a2.6 2.6 0 1 0-5.2 0M287.7 8.3a2.6 2.6 0 1 0 5.2 0a2.6 2.6 0 1 0-5.2 0M292.5 38.7a2.6 2.6 0 1 0 5.2 0a2.6 2.6 0 1 0-5.2 0M306.2 205.4a2.6 2.6 0 1 0 5.2 0a2.6 2.6 0 1 0-5.2 0M177.8 201.6a2.6 2.6 0 1 0 5.2 0a2.6 2.6 0 1 0-5.2 0M201.6 79.5a2.6 2.6 0 1 0 5.2 0a2.6 2.6 0 1 0-5.2 0M140.5 177.7a2.6 2.6 0 1 0 5.2 0a2.6 2.6 0 1 0-5.2 0M201.6 47.3a2.6 2.6 0 1 0 5.2 0a2.6 2.6 0 1 0-5.2 0M212.1 144.6a2.6 2.6 0 1 0 5.2 0a2.6 2.6 0 1 0-5.2 0M279.3 143.7a2.6 2.6 0 1 0 5.2 0a2.6 2.6 0 1 0-5.2 0M292.2 14.8a2.6 2.6 0 1 0 5.2 0a2.6 2.6 0 1 0-5.2 0M232.9 123.4a2.6 2.6 0 1 0 5.2 0a2.6 2.6 0 1 0-5.2 0M130.2 38.4a2.6 2.6 0 1 0 5.2 0a2.6 2.6 0 1 0-5.2 0M134.3 214a2.6 2.6 0 1 0 5.2 0a2.6 2.6 0 1 0-5.2 0M323.9 80a2.6 2.6 0 1 0 5.2 0a2.6 2.6 0 1 0-5.2 0M218.5 102.9a2.6 2.6 0 1 0 5.2 0a2.6 2.6 0 1 0-5.2 0M159.6 236a2.6 2.6 0 1 0 5.2 0a2.6 2.6 0 1 0-5.2 0M120.5 90.7a2.6 2.6 0 1 0 5.2 0a2.6 2.6 0 1 0-5.2 0M116.5 67.5a2.6 2.6 0 1 0 5.2 0a2.6 2.6 0 1 0-5.2 0M158.2 254.8a2.6 2.6 0 1 0 5.2 0a2.6 2.6 0 1 0-5.2 0M313.5 242.7a2.6 2.6 0 1 0 5.2 0a2.6 2.6 0 1 0-5.2 0M212.3 91.8a2.6 2.6 0 1 0 5.2 0a2.6 2.6 0 1 0-5.2 0M289.1 188.2a2.6 2.6 0 1 0 5.2 0a2.6 2.6 0 1 0-5.2 0M327.9 181.6a2.6 2.6 0 1 0 5.2 0a2.6 2.6 0 1 0-5.2 0M124.8 92.4a2.6 2.6 0 1 0 5.2 0a2.6 2.6 0 1 0-5.2 0M173.8 115.6a2.6 2.6 0 1 0 5.2 0a2.6 2.6 0 1 0-5.2 0M161.1 189.9a2.6 2.6 0 1 0 5.2 0a2.6 2.6 0 1 0-5.2 0M275.5 185.7a2.6 2.6 0 1 0 5.2 0a2.6 2.6 0 1 0-5.2 0M305.2 140.6a2.6 2.6 0 1 0 5.2 0a2.6 2.6 0 1 0-5.2 0M266.7 190.7a2.6 2.6 0 1 0 5.2 0a2.6 2.6 0 1 0-5.2 0M214.2 35.8a2.6 2.6 0 1 0 5.2 0a2.6 2.6 0 1 0-5.2 0M328.5 113.8a2.6 2.6 0 1 0 5.2 0a2.6 2.6 0 1 0-5.2 0M155.5 143.3a2.6 2.6 0 1 0 5.2 0a2.6 2.6 0 1 0-5.2 0M251 198.6a2.6 2.6 0 1 0 5.2 0a2.6 2.6 0 1 0-5.2 0M246 187.3a2.6 2.6 0 1 0 5.2 0a2.6 2.6 0 1 0-5.2 0M319.7 248.3a2.6 2.6 0 1 0 5.2 0a2.6 2.6 0 1 0-5.2 0M138 39.7a2.6 2.6 0 1 0 5.2 0a2.6 2.6 0 1 0-5.2 0M210.4 92.9a2.6 2.6 0 1 0 5.2 0a2.6 2.6 0 1 0-5.2 0M236.8 -23.7a2.6 2.6 0 1 0 5.2 0a2.6 2.6 0 1 0-5.2 0M164.6 58.7a2.6 2.6 0 1 0 5.2 0a2.6 2.6 0 1 0-5.2 0M232.3 -23.5a2.6 2.6 0 1 0 5.2 0a2.6 2.6 0 1 0-5.2 0M207 162.9a2.6 2.6 0 1 0 5.2 0a2.6 2.6 0 1 0-5.2 0M231.2 1.3a2.6 2.6 0 1 0 5.2 0a2.6 2.6 0 1 0-5.2 0M261.5 96.3a2.6 2.6 0 1 0 5.2 0a2.6 2.6 0 1 0-5.2 0M251.6 180.1a2.6 2.6 0 1 0 5.2 0a2.6 2.6 0 1 0-5.2 0M151 267.8a2.6 2.6 0 1 0 5.2 0a2.6 2.6 0 1 0-5.2 0M149.7 26.6a2.6 2.6 0 1 0 5.2 0a2.6 2.6 0 1 0-5.2 0M125.3 92a2.6 2.6 0 1 0 5.2 0a2.6 2.6 0 1 0-5.2 0M309.3 69.7a2.6 2.6 0 1 0 5.2 0a2.6 2.6 0 1 0-5.2 0M333.7 190.5a2.6 2.6 0 1 0 5.2 0a2.6 2.6 0 1 0-5.2 0M319.1 204.8a2.6 2.6 0 1 0 5.2 0a2.6 2.6 0 1 0-5.2 0M306.3 155.5a2.6 2.6 0 1 0 5.2 0a2.6 2.6 0 1 0-5.2 0M223 113.1a2.6 2.6 0 1 0 5.2 0a2.6 2.6 0 1 0-5.2 0M258.8 99.9a2.6 2.6 0 1 0 5.2 0a2.6 2.6 0 1 0-5.2 0M307.1 -14.2a2.6 2.6 0 1 0 5.2 0a2.6 2.6 0 1 0-5.2 0M186 7.4a2.6 2.6 0 1 0 5.2 0a2.6 2.6 0 1 0-5.2 0M179.6 -6a2.6 2.6 0 1 0 5.2 0a2.6 2.6 0 1 0-5.2 0M229.5 -7.5a2.6 2.6 0 1 0 5.2 0a2.6 2.6 0 1 0-5.2 0M123.2 96.8a2.6 2.6 0 1 0 5.2 0a2.6 2.6 0 1 0-5.2 0M270.3 88.7a2.6 2.6 0 1 0 5.2 0a2.6 2.6 0 1 0-5.2 0M212.5 -11.6a2.6 2.6 0 1 0 5.2 0a2.6 2.6 0 1 0-5.2 0M202.5 87.6a2.6 2.6 0 1 0 5.2 0a2.6 2.6 0 1 0-5.2 0M169.9 243.5a2.6 2.6 0 1 0 5.2 0a2.6 2.6 0 1 0-5.2 0M122.2 30a2.6 2.6 0 1 0 5.2 0a2.6 2.6 0 1 0-5.2 0M239.9 139.2a2.6 2.6 0 1 0 5.2 0a2.6 2.6 0 1 0-5.2 0M166.8 187.5a2.6 2.6 0 1 0 5.2 0a2.6 2.6 0 1 0-5.2 0M223.1 32.8a2.6 2.6 0 1 0 5.2 0a2.6 2.6 0 1 0-5.2 0M262.6 129.5a2.6 2.6 0 1 0 5.2 0a2.6 2.6 0 1 0-5.2 0M173 158.6a2.6 2.6 0 1 0 5.2 0a2.6 2.6 0 1 0-5.2 0M187.2 54.5a2.6 2.6 0 1 0 5.2 0a2.6 2.6 0 1 0-5.2 0M208.5 -7.1a2.6 2.6 0 1 0 5.2 0a2.6 2.6 0 1 0-5.2 0M175.6 178.4a2.6 2.6 0 1 0 5.2 0a2.6 2.6 0 1 0-5.2 0M286.3 153.3a2.6 2.6 0 1 0 5.2 0a2.6 2.6 0 1 0-5.2 0M184.2 12a2.6 2.6 0 1 0 5.2 0a2.6 2.6 0 1 0-5.2 0M121.7 33.6a2.6 2.6 0 1 0 5.2 0a2.6 2.6 0 1 0-5.2 0M322.3 177.9a2.6 2.6 0 1 0 5.2 0a2.6 2.6 0 1 0-5.2 0M217 150.3a2.6 2.6 0 1 0 5.2 0a2.6 2.6 0 1 0-5.2 0M112.4 26.4a2.6 2.6 0 1 0 5.2 0a2.6 2.6 0 1 0-5.2 0M198.3 -12.6a2.6 2.6 0 1 0 5.2 0a2.6 2.6 0 1 0-5.2 0M199.1 60.2a2.6 2.6 0 1 0 5.2 0a2.6 2.6 0 1 0-5.2 0M170.5 135.5a2.6 2.6 0 1 0 5.2 0a2.6 2.6 0 1 0-5.2 0M322.8 162.3a2.6 2.6 0 1 0 5.2 0a2.6 2.6 0 1 0-5.2 0M185.6 87.9a2.6 2.6 0 1 0 5.2 0a2.6 2.6 0 1 0-5.2 0M161.1 204.6a2.6 2.6 0 1 0 5.2 0a2.6 2.6 0 1 0-5.2 0M318.9 -1.7a2.6 2.6 0 1 0 5.2 0a2.6 2.6 0 1 0-5.2 0M314.5 111a2.6 2.6 0 1 0 5.2 0a2.6 2.6 0 1 0-5.2 0M271 176a2.6 2.6 0 1 0 5.2 0a2.6 2.6 0 1 0-5.2 0M135.8 81.3a2.6 2.6 0 1 0 5.2 0a2.6 2.6 0 1 0-5.2 0M126.5 122a2.6 2.6 0 1 0 5.2 0a2.6 2.6 0 1 0-5.2 0M255.6 -3.2a2.6 2.6 0 1 0 5.2 0a2.6 2.6 0 1 0-5.2 0M262.1 135.4a2.6 2.6 0 1 0 5.2 0a2.6 2.6 0 1 0-5.2 0M179.3 97.4a2.6 2.6 0 1 0 5.2 0a2.6 2.6 0 1 0-5.2 0M156.3 133.9a2.6 2.6 0 1 0 5.2 0a2.6 2.6 0 1 0-5.2 0M216.4 57.5a2.6 2.6 0 1 0 5.2 0a2.6 2.6 0 1 0-5.2 0M261.5 152a2.6 2.6 0 1 0 5.2 0a2.6 2.6 0 1 0-5.2 0M312.5 14.1a2.6 2.6 0 1 0 5.2 0a2.6 2.6 0 1 0-5.2 0M333.1 74.6a2.6 2.6 0 1 0 5.2 0a2.6 2.6 0 1 0-5.2 0M341.6 58.6a2.6 2.6 0 1 0 5.2 0a2.6 2.6 0 1 0-5.2 0M236.8 -23.1a2.6 2.6 0 1 0 5.2 0a2.6 2.6 0 1 0-5.2 0M146.9 219.5a2.6 2.6 0 1 0 5.2 0a2.6 2.6 0 1 0-5.2 0M221.1 100.5a2.6 2.6 0 1 0 5.2 0a2.6 2.6 0 1 0-5.2 0M299.8 51a2.6 2.6 0 1 0 5.2 0a2.6 2.6 0 1 0-5.2 0M154.4 3.5a2.6 2.6 0 1 0 5.2 0a2.6 2.6 0 1 0-5.2 0M146 45.5a2.6 2.6 0 1 0 5.2 0a2.6 2.6 0 1 0-5.2 0M136.8 262.1a2.6 2.6 0 1 0 5.2 0a2.6 2.6 0 1 0-5.2 0M255 191a2.6 2.6 0 1 0 5.2 0a2.6 2.6 0 1 0-5.2 0M133.9 235.5a2.6 2.6 0 1 0 5.2 0a2.6 2.6 0 1 0-5.2 0M190 104.5a2.6 2.6 0 1 0 5.2 0a2.6 2.6 0 1 0-5.2 0M264.8 116.6a2.6 2.6 0 1 0 5.2 0a2.6 2.6 0 1 0-5.2 0M310.1 212.2a2.6 2.6 0 1 0 5.2 0a2.6 2.6 0 1 0-5.2 0M321.6 83.4a2.6 2.6 0 1 0 5.2 0a2.6 2.6 0 1 0-5.2 0M174 233.2a2.6 2.6 0 1 0 5.2 0a2.6 2.6 0 1 0-5.2 0M316.8 167.6a2.6 2.6 0 1 0 5.2 0a2.6 2.6 0 1 0-5.2 0M140.4 175.6a2.6 2.6 0 1 0 5.2 0a2.6 2.6 0 1 0-5.2 0M127.3 181.5a2.6 2.6 0 1 0 5.2 0a2.6 2.6 0 1 0-5.2 0M129.4 15.6a2.6 2.6 0 1 0 5.2 0a2.6 2.6 0 1 0-5.2 0M330 4.2a2.6 2.6 0 1 0 5.2 0a2.6 2.6 0 1 0-5.2 0M234.2 32.5a2.6 2.6 0 1 0 5.2 0a2.6 2.6 0 1 0-5.2 0M120.3 43.9a2.6 2.6 0 1 0 5.2 0a2.6 2.6 0 1 0-5.2 0M125 73.9a2.6 2.6 0 1 0 5.2 0a2.6 2.6 0 1 0-5.2 0M106.8 71a2.6 2.6 0 1 0 5.2 0a2.6 2.6 0 1 0-5.2 0M146.3 207.4a2.6 2.6 0 1 0 5.2 0a2.6 2.6 0 1 0-5.2 0M305.7 182.1a2.6 2.6 0 1 0 5.2 0a2.6 2.6 0 1 0-5.2 0M241 158.8a2.6 2.6 0 1 0 5.2 0a2.6 2.6 0 1 0-5.2 0M314 21.6a2.6 2.6 0 1 0 5.2 0a2.6 2.6 0 1 0-5.2 0M310.3 168.2a2.6 2.6 0 1 0 5.2 0a2.6 2.6 0 1 0-5.2 0M309 159.4a2.6 2.6 0 1 0 5.2 0a2.6 2.6 0 1 0-5.2 0M231.5 147.8a2.6 2.6 0 1 0 5.2 0a2.6 2.6 0 1 0-5.2 0M110.4 57a2.6 2.6 0 1 0 5.2 0a2.6 2.6 0 1 0-5.2 0M288.7 184.9a2.6 2.6 0 1 0 5.2 0a2.6 2.6 0 1 0-5.2 0M213.2 -4.4a2.6 2.6 0 1 0 5.2 0a2.6 2.6 0 1 0-5.2 0M239.3 -2.9a2.6 2.6 0 1 0 5.2 0a2.6 2.6 0 1 0-5.2 0M238.3 32a2.6 2.6 0 1 0 5.2 0a2.6 2.6 0 1 0-5.2 0M123 77.9a2.6 2.6 0 1 0 5.2 0a2.6 2.6 0 1 0-5.2 0M235.9 26.1a2.6 2.6 0 1 0 5.2 0a2.6 2.6 0 1 0-5.2 0M121.1 127.2a2.6 2.6 0 1 0 5.2 0a2.6 2.6 0 1 0-5.2 0M302.8 225a2.6 2.6 0 1 0 5.2 0a2.6 2.6 0 1 0-5.2 0M337 176.7a2.6 2.6 0 1 0 5.2 0a2.6 2.6 0 1 0-5.2 0M185.9 110a2.6 2.6 0 1 0 5.2 0a2.6 2.6 0 1 0-5.2 0M330.1 219a2.6 2.6 0 1 0 5.2 0a2.6 2.6 0 1 0-5.2 0M325.2 -4.3a2.6 2.6 0 1 0 5.2 0a2.6 2.6 0 1 0-5.2 0M158 138.7a2.6 2.6 0 1 0 5.2 0a2.6 2.6 0 1 0-5.2 0M322.3 123.7a2.6 2.6 0 1 0 5.2 0a2.6 2.6 0 1 0-5.2 0M321 140.9a2.6 2.6 0 1 0 5.2 0a2.6 2.6 0 1 0-5.2 0M173.6 129.5a2.6 2.6 0 1 0 5.2 0a2.6 2.6 0 1 0-5.2 0M190 191.7a2.6 2.6 0 1 0 5.2 0a2.6 2.6 0 1 0-5.2 0M331.4 130.1a2.6 2.6 0 1 0 5.2 0a2.6 2.6 0 1 0-5.2 0M152.2 100.4a2.6 2.6 0 1 0 5.2 0a2.6 2.6 0 1 0-5.2 0M158.2 175.2a2.6 2.6 0 1 0 5.2 0a2.6 2.6 0 1 0-5.2 0M237.6 116.8a2.6 2.6 0 1 0 5.2 0a2.6 2.6 0 1 0-5.2 0M340 31.7a2.6 2.6 0 1 0 5.2 0a2.6 2.6 0 1 0-5.2 0M215.1 86.3a2.6 2.6 0 1 0 5.2 0a2.6 2.6 0 1 0-5.2 0M304.6 57.1a2.6 2.6 0 1 0 5.2 0a2.6 2.6 0 1 0-5.2 0M212.7 37.8a2.6 2.6 0 1 0 5.2 0a2.6 2.6 0 1 0-5.2 0M159.8 96.7a2.6 2.6 0 1 0 5.2 0a2.6 2.6 0 1 0-5.2 0M149.3 219.1a2.6 2.6 0 1 0 5.2 0a2.6 2.6 0 1 0-5.2 0M112.6 105.2a2.6 2.6 0 1 0 5.2 0a2.6 2.6 0 1 0-5.2 0M176.2 212.2a2.6 2.6 0 1 0 5.2 0a2.6 2.6 0 1 0-5.2 0M329.7 225.4a2.6 2.6 0 1 0 5.2 0a2.6 2.6 0 1 0-5.2 0M202.4 150.4a2.6 2.6 0 1 0 5.2 0a2.6 2.6 0 1 0-5.2 0M178.6 47.3a2.6 2.6 0 1 0 5.2 0a2.6 2.6 0 1 0-5.2 0M176.7 199.8a2.6 2.6 0 1 0 5.2 0a2.6 2.6 0 1 0-5.2 0M156.9 116.7a2.6 2.6 0 1 0 5.2 0a2.6 2.6 0 1 0-5.2 0M313.2 203a2.6 2.6 0 1 0 5.2 0a2.6 2.6 0 1 0-5.2 0M183.3 5.2a2.6 2.6 0 1 0 5.2 0a2.6 2.6 0 1 0-5.2 0M252.7 143.9a2.6 2.6 0 1 0 5.2 0a2.6 2.6 0 1 0-5.2 0M200.3 -0.1a2.6 2.6 0 1 0 5.2 0a2.6 2.6 0 1 0-5.2 0M179.1 233.4a2.6 2.6 0 1 0 5.2 0a2.6 2.6 0 1 0-5.2 0M331.7 110.4a2.6 2.6 0 1 0 5.2 0a2.6 2.6 0 1 0-5.2 0M323.4 47.1a2.6 2.6 0 1 0 5.2 0a2.6 2.6 0 1 0-5.2 0M198 -7a2.6 2.6 0 1 0 5.2 0a2.6 2.6 0 1 0-5.2 0M177.5 266.5a2.6 2.6 0 1 0 5.2 0a2.6 2.6 0 1 0-5.2 0M172.1 148.6a2.6 2.6 0 1 0 5.2 0a2.6 2.6 0 1 0-5.2 0M264.5 117.6a2.6 2.6 0 1 0 5.2 0a2.6 2.6 0 1 0-5.2 0M169.9 126.8a2.6 2.6 0 1 0 5.2 0a2.6 2.6 0 1 0-5.2 0M187.4 201.5a2.6 2.6 0 1 0 5.2 0a2.6 2.6 0 1 0-5.2 0M311.3 75.5a2.6 2.6 0 1 0 5.2 0a2.6 2.6 0 1 0-5.2 0M342.2 120.7a2.6 2.6 0 1 0 5.2 0a2.6 2.6 0 1 0-5.2 0M183.5 -10a2.6 2.6 0 1 0 5.2 0a2.6 2.6 0 1 0-5.2 0M273.9 142.9a2.6 2.6 0 1 0 5.2 0a2.6 2.6 0 1 0-5.2 0M274.6 10.1a2.6 2.6 0 1 0 5.2 0a2.6 2.6 0 1 0-5.2 0M250.5 142.2a2.6 2.6 0 1 0 5.2 0a2.6 2.6 0 1 0-5.2 0M156.4 36.4a2.6 2.6 0 1 0 5.2 0a2.6 2.6 0 1 0-5.2 0M160.4 41.4a2.6 2.6 0 1 0 5.2 0a2.6 2.6 0 1 0-5.2 0M271.5 74.4a2.6 2.6 0 1 0 5.2 0a2.6 2.6 0 1 0-5.2 0M220.9 69.4a2.6 2.6 0 1 0 5.2 0a2.6 2.6 0 1 0-5.2 0M167.5 -4.1a2.6 2.6 0 1 0 5.2 0a2.6 2.6 0 1 0-5.2 0M199.4 92.3a2.6 2.6 0 1 0 5.2 0a2.6 2.6 0 1 0-5.2 0M316.1 45.4a2.6 2.6 0 1 0 5.2 0a2.6 2.6 0 1 0-5.2 0M225.9 72.4a2.6 2.6 0 1 0 5.2 0a2.6 2.6 0 1 0-5.2 0M326.2 77.2a2.6 2.6 0 1 0 5.2 0a2.6 2.6 0 1 0-5.2 0M171.8 73.5a2.6 2.6 0 1 0 5.2 0a2.6 2.6 0 1 0-5.2 0M114.3 83.9a2.6 2.6 0 1 0 5.2 0a2.6 2.6 0 1 0-5.2 0M207.2 97.4a2.6 2.6 0 1 0 5.2 0a2.6 2.6 0 1 0-5.2 0M273.1 128.4a2.6 2.6 0 1 0 5.2 0a2.6 2.6 0 1 0-5.2 0M311.9 78a2.6 2.6 0 1 0 5.2 0a2.6 2.6 0 1 0-5.2 0M288.7 53.6a2.6 2.6 0 1 0 5.2 0a2.6 2.6 0 1 0-5.2 0M328.1 41.1a2.6 2.6 0 1 0 5.2 0a2.6 2.6 0 1 0-5.2 0M215.3 31.7a2.6 2.6 0 1 0 5.2 0a2.6 2.6 0 1 0-5.2 0M127.4 72.6a2.6 2.6 0 1 0 5.2 0a2.6 2.6 0 1 0-5.2 0M292.8 -19.1a2.6 2.6 0 1 0 5.2 0a2.6 2.6 0 1 0-5.2 0M268 177.4a2.6 2.6 0 1 0 5.2 0a2.6 2.6 0 1 0-5.2 0M130.6 162.5a2.6 2.6 0 1 0 5.2 0a2.6 2.6 0 1 0-5.2 0M155.3 130.3a2.6 2.6 0 1 0 5.2 0a2.6 2.6 0 1 0-5.2 0M316.7 208.2a2.6 2.6 0 1 0 5.2 0a2.6 2.6 0 1 0-5.2 0M210.8 117.3a2.6 2.6 0 1 0 5.2 0a2.6 2.6 0 1 0-5.2 0M178.8 67a2.6 2.6 0 1 0 5.2 0a2.6 2.6 0 1 0-5.2 0M187.3 48a2.6 2.6 0 1 0 5.2 0a2.6 2.6 0 1 0-5.2 0M205.3 130.7a2.6 2.6 0 1 0 5.2 0a2.6 2.6 0 1 0-5.2 0M157.9 137.8a2.6 2.6 0 1 0 5.2 0a2.6 2.6 0 1 0-5.2 0M230.6 145.9a2.6 2.6 0 1 0 5.2 0a2.6 2.6 0 1 0-5.2 0M323.6 174a2.6 2.6 0 1 0 5.2 0a2.6 2.6 0 1 0-5.2 0M145.4 72.5a2.6 2.6 0 1 0 5.2 0a2.6 2.6 0 1 0-5.2 0M148.7 230.5a2.6 2.6 0 1 0 5.2 0a2.6 2.6 0 1 0-5.2 0M137 233.9a2.6 2.6 0 1 0 5.2 0a2.6 2.6 0 1 0-5.2 0M317.7 127.5a2.6 2.6 0 1 0 5.2 0a2.6 2.6 0 1 0-5.2 0M266.2 -3.2a2.6 2.6 0 1 0 5.2 0a2.6 2.6 0 1 0-5.2 0M332.8 101.6a2.6 2.6 0 1 0 5.2 0a2.6 2.6 0 1 0-5.2 0M165.4 205.1a2.6 2.6 0 1 0 5.2 0a2.6 2.6 0 1 0-5.2 0M130.3 169.5a2.6 2.6 0 1 0 5.2 0a2.6 2.6 0 1 0-5.2 0M308 155.6a2.6 2.6 0 1 0 5.2 0a2.6 2.6 0 1 0-5.2 0M113 112.4a2.6 2.6 0 1 0 5.2 0a2.6 2.6 0 1 0-5.2 0M311.1 29.8a2.6 2.6 0 1 0 5.2 0a2.6 2.6 0 1 0-5.2 0M328.3 21.2a2.6 2.6 0 1 0 5.2 0a2.6 2.6 0 1 0-5.2 0M218.5 34.9a2.6 2.6 0 1 0 5.2 0a2.6 2.6 0 1 0-5.2 0M238.9 -12.5a2.6 2.6 0 1 0 5.2 0a2.6 2.6 0 1 0-5.2 0M167.7 84.5a2.6 2.6 0 1 0 5.2 0a2.6 2.6 0 1 0-5.2 0M163.8 -1.5a2.6 2.6 0 1 0 5.2 0a2.6 2.6 0 1 0-5.2 0M188.5 -12a2.6 2.6 0 1 0 5.2 0a2.6 2.6 0 1 0-5.2 0M176.9 266.4a2.6 2.6 0 1 0 5.2 0a2.6 2.6 0 1 0-5.2 0M260 104a2.6 2.6 0 1 0 5.2 0a2.6 2.6 0 1 0-5.2 0M128.7 124.4a2.6 2.6 0 1 0 5.2 0a2.6 2.6 0 1 0-5.2 0M328 191.1a2.6 2.6 0 1 0 5.2 0a2.6 2.6 0 1 0-5.2 0M217.9 188.9a2.6 2.6 0 1 0 5.2 0a2.6 2.6 0 1 0-5.2 0M172.4 237.1a2.6 2.6 0 1 0 5.2 0a2.6 2.6 0 1 0-5.2 0M168.3 265.5a2.6 2.6 0 1 0 5.2 0a2.6 2.6 0 1 0-5.2 0M193.8 181.9a2.6 2.6 0 1 0 5.2 0a2.6 2.6 0 1 0-5.2 0M124.6 27.5a2.6 2.6 0 1 0 5.2 0a2.6 2.6 0 1 0-5.2 0M216.6 177.9a2.6 2.6 0 1 0 5.2 0a2.6 2.6 0 1 0-5.2 0M126.7 254.1a2.6 2.6 0 1 0 5.2 0a2.6 2.6 0 1 0-5.2 0M163.5 93.8a2.6 2.6 0 1 0 5.2 0a2.6 2.6 0 1 0-5.2 0M115.2 31.5a2.6 2.6 0 1 0 5.2 0a2.6 2.6 0 1 0-5.2 0M123.1 30.4a2.6 2.6 0 1 0 5.2 0a2.6 2.6 0 1 0-5.2 0M311.3 171a2.6 2.6 0 1 0 5.2 0a2.6 2.6 0 1 0-5.2 0M300 159.1a2.6 2.6 0 1 0 5.2 0a2.6 2.6 0 1 0-5.2 0M309.8 209.7a2.6 2.6 0 1 0 5.2 0a2.6 2.6 0 1 0-5.2 0M163.3 185.5a2.6 2.6 0 1 0 5.2 0a2.6 2.6 0 1 0-5.2 0M134.1 214.6a2.6 2.6 0 1 0 5.2 0a2.6 2.6 0 1 0-5.2 0M241.5 -15.6a2.6 2.6 0 1 0 5.2 0a2.6 2.6 0 1 0-5.2 0" fill="none" stroke="#e3a8bc" stroke-width="0.8"/>
<path d="M294.3 177.8h0M179.8 42.9h0M160.8 141.9h0M136.2 176.7h0M282.8 152.4h0M229.6 52.5h0M120.9 81.6h0M181.7 24.7h0M132.5 72.1h0M148.2 201.9h0M233 15.4h0M228 144h0M135.5 93.4h0M316.6 148.4h0M194.7 56.2h0M128 52.8h0M130 172.2h0M223.8 192.7h0M193 199.9h0M313.4 -7h0M308.3 48h0M238.7 194.6h0M223 81.5h0M154.5 261.5h0M189.7 84.6h0M140.8 100.4h0M174.2 131.4h0M184.5 142.9h0M171.2 56.9h0M197.7 15.5h0M200.4 146.5h0M315.4 137h0M169.8 266.3h0M293.6 33.8h0M135.9 185.6h0M161.9 224.2h0M128.2 71.1h0M263.1 148.7h0M302.1 41.8h0M231.6 176.2h0M152.6 160h0M198.2 -12h0M345.7 126.9h0M341.1 19.3h0M236.8 35.1h0M247.4 -14.5h0M231.6 137.6h0M137 101.7h0M323.7 162.9h0M303.2 146.5h0M334 8.3h0M177.3 137.8h0M255.6 -21.9h0M294.1 167.5h0M258.3 197.1h0M295.4 192.3h0M114.3 86.6h0M153.2 184h0M166.8 224.6h0M141.5 73.7h0M158.8 14.2h0M135 -8.6h0M224.9 104.3h0M153 176.8h0M172.7 244h0M328.7 201.9h0M249.5 160.6h0M194.3 191.7h0M121 14.1h0M177.7 44.5h0M341.5 47.7h0M326.9 6.7h0M199 110h0M212.2 120.8h0M275.4 201.6h0M226.6 130.5h0M264.8 -5.4h0M134.2 126h0M198 3.8h0M154.1 102.9h0M318.2 54.6h0M264.2 122.1h0M275.5 130h0M338.6 11.3h0M143.5 48.1h0M263.5 187.4h0M331.5 205.3h0M130.2 22.5h0M316.8 8.3h0M162 1.8h0M155.9 92.3h0M200 133.9h0M333.5 5.3h0M210.4 99.1h0M200.2 171.1h0M240.1 162.5h0M210.6 60.6h0M168.3 202.5h0M129.4 34.3h0M200.3 126.2h0M340.9 14.4h0M310.5 -16.4h0M158.2 -13.8h0M156.7 125.5h0M128.1 86.9h0M231.6 68.3h0M183.8 20.8h0M331.1 82h0M169.6 143.6h0M141.4 235.8h0M162.2 114.2h0M227.1 -1.2h0M335.1 71.1h0M244.7 120.2h0M182.8 164.5h0M305.7 162.1h0M221.3 168.6h0M330.2 62.1h0M239.4 191h0M155.3 247.2h0M241.4 189.5h0M209.1 118.7h0M212.9 187.2h0M158.5 46.1h0M187.5 79.9h0M281.5 66.4h0M162.7 49.4h0M293 44.6h0M248.6 184.6h0M304.5 29.5h0M229.1 -21.7h0M225.2 98.3h0M332.4 168.4h0M212.4 134.4h0M218.1 46.4h0M246.3 -3h0M318.6 187.3h0M173.9 254.2h0M112.1 68.9h0M177.4 252.5h0M199.3 105.4h0M159.1 43.5h0M201.8 -7.4h0M259.5 12.6h0M158.1 252.9h0M314.6 232.9h0M166.2 184.4h0M327.4 88.5h0M158.9 161.4h0M329 186.8h0M176.4 153.4h0M318.6 240.9h0M279.3 -23h0M329.9 36.6h0M207 74.7h0M172.9 267h0M123.6 112.3h0M206.6 96.3h0M154.9 99.9h0M237.9 196.9h0M200.5 41.2h0M195.2 27.1h0M152.4 67.5h0M246.3 172.4h0M321.1 94.9h0M290.8 62.4h0M164.3 104.3h0M274.6 106.5h0M184.4 189.9h0M328.3 82.8h0M155.6 84.4h0M142.1 106.7h0M167.9 54h0M210.7 154.8h0M227.3 82.4h0M236.3 -13.7h0M162.5 166.4h0M189.1 201.8h0M167.4 189.4h0M273.3 91.8h0M338.8 105.2h0M273.2 7.9h0M281.8 140.6h0M221 141.6h0M182.3 265.5h0M187.7 185.8h0M286.3 12h0M253.4 106.6h0M170.3 181.5h0" stroke="#f1dbe0" stroke-width="5" stroke-linecap="round" opacity="0.8"/>
<path d="M131 -5C124.5 6.8 103.7 43.2 92 66C80.3 88.8 72.2 113 61 132C49.8 151 34.3 166.2 25 180C15.7 193.8 8.3 209.2 5 215" fill="none" stroke="#f3b5c3" stroke-width="19" stroke-linejoin="round"/>
<path d="M131 -5C124.5 6.8 103.7 43.2 92 66C80.3 88.8 72.2 113 61 132C49.8 151 34.3 166.2 25 180C15.7 193.8 8.3 209.2 5 215" fill="none" stroke="#e6a0b4" stroke-width="14.2" stroke-dasharray="1.2 2.8" opacity="0.5"/>
<path d="M131 -5C124.5 6.8 103.7 43.2 92 66C80.3 88.8 72.2 113 61 132C49.8 151 34.3 166.2 25 180C15.7 193.8 8.3 209.2 5 215" fill="none" stroke="#f5ccd5" stroke-width="3.8" opacity="0.6"/>
<path d="M30 -3C29.7 1.7 30.5 15.3 28 25C25.5 34.7 20 46.2 15 55C10 63.8 0.8 74.2 -2 78" fill="none" stroke="#f3b5c3" stroke-width="16" stroke-linejoin="round"/>
<path d="M30 -3C29.7 1.7 30.5 15.3 28 25C25.5 34.7 20 46.2 15 55C10 63.8 0.8 74.2 -2 78" fill="none" stroke="#e6a0b4" stroke-width="12.0" stroke-dasharray="1.2 2.8" opacity="0.5"/>
<path d="M30 -3C29.7 1.7 30.5 15.3 28 25C25.5 34.7 20 46.2 15 55C10 63.8 0.8 74.2 -2 78" fill="none" stroke="#f5ccd5" stroke-width="3.2" opacity="0.6"/>
<path d="M86.3 259.8h0M70.5 245.9h0M49.5 242.8h0M238.9 201.8h0M267.7 208.9h0M8.5 4.1h0M8.7 -1.1h0M126.4 191.9h0M95.1 173.8h0M97 177.4h0M98.8 190.6h0M65.1 202.9h0M54.6 231.3h0M60.5 178.9h0M75.6 171.6h0M76.9 172.6h0M92.1 235.1h0M293.8 214.8h0M23 29.1h0M132.3 233.1h0M12.7 238.2h0M26.3 255.6h0M-0.1 222.8h0M3.4 206.5h0M-0.9 213.9h0M50.8 172.1h0M54.4 172.9h0M34 168h0M66.2 138.7h0M61.3 144.4h0M58.1 159.4h0M58.4 161.2h0M119.7 255.4h0M126 252.5h0M101.2 118.8h0M90.9 78.4h0M82.2 84.9h0M103.1 68.6h0M68.7 133.5h0M309.9 243.5h0M331.8 251.3h0M332.9 251.9h0M110.7 259h0M60.3 173.5h0M130.2 221.1h0M130 223.5h0M131.5 225.2h0M97.6 186.4h0M97.4 163.5h0M26.5 203.2h0M71.7 134.1h0M77.2 100.3h0M33.8 179.4h0M59.1 138.3h0M118 23.1h0M122.4 23.4h0M11.5 208.4h0M43.1 153.5h0M50 150.6h0M99.4 58.3h0M68 128.3h0M35 177.6h0M122.7 18.7h0M102.7 63h0M95.3 59.7h0M134.1 0.4h0M65.6 127.6h0M131.4 5.5h0M30.5 6.5h0M18.2 39.5h0M17.5 30.3h0" stroke="#9e5a8e" stroke-width="2.0" stroke-linecap="round" opacity="0.72"/>
<path d="M277.1 78.5h0M207.4 114.3h0M271.5 166.8h0M143.8 160.2h0M200.8 120.4h0M175.8 9.5h0M196.8 71.7h0M325.5 94h0M146.4 215.1h0M309.6 55.7h0M268.7 134.9h0M173.4 140.6h0M151 207.1h0M215.3 160.6h0M115.8 37.2h0M176.1 46.8h0M163.1 1h0M191.4 93h0M143.9 27.8h0M201.7 16.2h0M197.1 58.6h0M226.9 172.8h0M157.6 239.3h0M172.1 246.9h0M249.8 178.3h0M158.2 192h0M328.9 81.2h0M175.1 252.4h0M312.6 200.6h0M149.9 224.4h0M159.5 46.5h0M134.7 77.9h0M143.7 106.6h0M168.6 45.5h0M177.3 244h0M177.1 172.7h0M183.3 197.6h0M239.2 159.8h0M241.2 133.3h0M143.4 61.2h0M245.5 128.6h0M207.3 63.7h0M165.2 106.7h0M155.1 231.1h0M171.3 8.1h0M168.7 147h0M182.9 165.6h0M188.3 165.8h0M157.9 163.3h0M177.3 87h0M330.7 202.5h0M170.3 89h0M255 116.5h0M292.5 177.7h0M121.6 31h0M261.4 138.2h0M290.7 69.5h0M139.4 214.1h0M159.9 31.3h0M131.4 172h0M132.7 69.2h0M258.2 179.6h0M148.7 2.2h0M166.3 70.4h0M162.9 177.2h0M191.6 32.2h0M323.8 87.1h0M300.8 67.2h0M329.8 67.1h0M325.6 143.8h0M205.3 -1.3h0M189.1 166.2h0M205 58.2h0M229.5 49.1h0M238.3 142.3h0M314.5 203.2h0M230.1 155h0M269.7 83h0M308.9 8.4h0M133.7 75h0M131 181.9h0M188 121.2h0M329.6 120.6h0M211.5 157.9h0M223.3 30.1h0M191 196.1h0M325 33.7h0M152.1 40.5h0M132 134.2h0M316.9 212.4h0M177.5 261.9h0M186.8 94.9h0M309.4 57.4h0M330.1 84.9h0M198.6 33.2h0M170.9 35.8h0M193.6 92.9h0M258.7 97.2h0M179.1 207.5h0M141.8 163.6h0M187.8 120.4h0M175.2 53.7h0M143 112.7h0M136 233.3h0M188.3 16.2h0M173.7 230.6h0M119.6 51.9h0M182.8 36.7h0M149.7 232.3h0M257.1 117.8h0M331.9 191h0M133.1 112.8h0M188.2 113h0M178.9 152.1h0M147.4 190.7h0M312.2 169.3h0M185.4 89.8h0M174.9 49.4h0M224 121.9h0M247.2 184.2h0M279.4 77.8h0M209.1 90.3h0M145.4 252.4h0M187.9 57.6h0M171.6 234h0M195.8 16h0M297.5 189.2h0M294.3 17.8h0M218.7 132.8h0M184.1 116.7h0M228.4 -0.9h0M109.6 101h0M168.9 190h0M159.8 261.8h0M301.2 4h0M300.7 42.8h0M167.5 93.9h0M136.8 212.5h0M164.8 224.6h0M312.4 38.2h0M153.2 104h0M111.4 98.5h0M227.6 21.9h0M162.7 27.6h0M270.3 8.1h0M242.3 128.9h0M230.3 40.3h0M171 111.3h0M264.4 117.6h0M328.6 125.8h0M210.5 104.3h0M302.2 169.2h0M159.6 3.2h0M203.2 64.3h0M156 135.3h0M224.3 66.3h0M307.5 14.5h0M303.1 14.3h0M130.6 12.5h0M134 158.9h0M218.5 77.8h0M170.3 14.9h0M191 177.7h0M183.1 220.3h0M162.5 216.9h0M331.2 130.8h0M135.8 98.1h0M163.1 16.3h0M265.2 10.6h0M238.5 166.1h0M173.4 25h0M311.6 225.7h0M223.9 137.3h0M276.7 3.1h0M271.9 148.6h0M314.8 228.2h0M298.8 200h0M248.9 188h0M178.8 123.2h0M274.9 -0.7h0M133.6 170.5h0M312.6 52.8h0M315.8 243.9h0M189.6 58h0M239.5 137h0M266.4 163.4h0M141.8 76.2h0M209 49.1h0M229.2 142.4h0M288.8 9.3h0M137.2 170.4h0M311.7 224.3h0M168.2 257.5h0M214.3 146.9h0M183.6 52.8h0M220.1 46.5h0M324.7 68h0M202.8 145.7h0M150 67.7h0M306.5 205.1h0M191.6 127.9h0M158.5 110.5h0M110.5 69h0M154.7 6.2h0M169.8 61.5h0M180 210.8h0M251.4 175h0M324.5 177.6h0M311.1 68.6h0M265.2 10.9h0M315.5 186.9h0M204.9 29.1h0M109.1 34.6h0M310.8 173.1h0M187 11.8h0M118.2 88.6h0M204.8 130.7h0M134.3 252.6h0M136.6 164.7h0M229.3 123.6h0M194.4 1.6h0M172.1 172.2h0M161.8 63.2h0M210 171h0M327.1 55.4h0M245.2 128.4h0M173.2 44.4h0M181.7 155.9h0M296.7 148.7h0M137.4 219h0M320.8 145.7h0M303.2 17.1h0M200.8 63.9h0M263.7 125h0M255.7 169.4h0M325 187.5h0M150 249.1h0M149.6 6.1h0M143.9 192.4h0M288.9 189.5h0M132.7 66.9h0M134 245.8h0M200.6 88.8h0M163.7 14.2h0M275.3 75.5h0M169.8 158.8h0M274.4 82.9h0M291.5 163.1h0M152.3 96.7h0M167.3 117.2h0M311.5 155.7h0M201.9 33.3h0M324.2 37.2h0M139.4 67.7h0M144 119.3h0M327.3 110.4h0M149.7 96.7h0M320.2 240.1h0M181.6 141.8h0M135.2 152.7h0M213.4 73.8h0M281.7 0.7h0M318.5 193.5h0M214.4 43.7h0M285.4 68.1h0M264.6 184.9h0M108.4 93.9h0M208.7 184.8h0M280.6 192.2h0M111.6 61.1h0M192.9 104.4h0M140.6 214.1h0M184.6 181.9h0M280.8 172.4h0M145.8 174.4h0M161.1 228.7h0M179.5 74.8h0M251.4 -0.3h0M299.7 63.1h0M142.3 199.2h0M185.5 189.5h0M144.7 198.6h0M303.9 31.9h0M327.2 210.4h0M238.5 28.7h0M159.6 207.1h0M217.2 160.7h0M137.1 161.3h0M326 106.2h0M324.9 207.7h0M303.1 157.7h0M182 213.6h0M177.4 118.8h0M175.7 99.6h0M300.2 218.8h0M215.1 41.5h0M144.2 173.4h0M133.3 243.7h0M217.8 110.4h0M203.6 3.6h0M131.3 190.6h0M127.8 15.6h0M195 7.5h0M148.8 92.4h0M269.6 117.4h0M275.8 130.1h0M193.9 19.7h0M312.1 139.4h0M156.4 203.1h0M191 126.1h0M204.1 65h0M158.1 129.9h0M163 137.9h0M140.3 23.8h0M151.1 242.4h0M249.1 155.2h0M155.3 151.9h0M226 187.9h0M167.3 60.4h0M205.5 120.3h0M287 53.5h0M129.4 78.5h0M304.8 173.8h0M282.4 12.9h0M182.8 129.3h0M182.6 24.2h0M128.3 92.7h0M319 243h0M210.4 73h0M316.1 105.7h0M152.8 44.7h0M137.6 163.2h0M154.1 43.8h0M155 100.5h0M215.5 50.8h0M161.2 70.6h0M189 117.3h0M308.8 141.1h0M214.5 129.3h0M170.3 31.6h0M256 107.5h0M222.9 84.2h0M237.5 173h0M141.4 186.4h0M183 144.6h0M269.5 96.2h0M220.3 167.5h0M257.9 159.3h0M312.3 19.7h0M242.2 170h0M320.9 108.7h0M133.5 254.6h0M183.9 173.7h0M302.6 151.2h0M264.3 116h0M163.9 155.2h0M272.6 170.4h0M147.7 123.6h0M178.3 95.6h0M203.4 53.2h0M172.1 5.7h0M216.1 55h0M271.7 5.6h0M189.3 31.9h0M317.6 76.4h0M222 21.6h0M230.4 70h0M177.4 212.4h0M169.2 47.8h0M190.5 211.7h0M184.1 26.6h0M297.8 53h0M274.4 110.1h0M282.2 195.9h0M297.6 15.4h0M123.3 36.3h0M174.9 107.5h0M166.5 161.3h0M230.6 193.3h0M138.3 234.8h0M142.3 147.8h0M170.7 56.7h0M315.9 122.4h0M297.6 157.3h0M269.4 104.3h0M118.7 51.3h0M149.2 28.3h0M260.7 181.9h0M217.8 105.5h0M165.9 79.8h0M134.2 150h0M299.9 22.6h0M139.5 47.8h0M169 81.5h0M283.7 168.5h0M271 192.4h0M143.8 84.7h0M180.1 137.5h0M260.2 123.9h0M168.6 241.3h0M257.3 101.1h0M274.4 107.3h0M159.4 -0.5h0M160 228.7h0M130.9 135.7h0M326.4 23.4h0M150.7 93.2h0M155.2 239.1h0M323.8 149.1h0M234.8 153.7h0M175.7 188.5h0M259.1 13.4h0M116.3 76.5h0M171.3 197.9h0M323.9 33.7h0M332.1 83.1h0M134.4 43.6h0M182.1 29.7h0M150.9 224.9h0M326.2 191.7h0M238.3 167.2h0M128.7 44.9h0M134.9 13.1h0M271.2 102.7h0M189.4 99h0M172.3 246.5h0M237.5 21.1h0M191 122.9h0M177.1 130.4h0M312.6 218.8h0M311.5 18.4h0M188.5 129.4h0M123.3 56.8h0M215.5 -0.5h0M320.5 66.8h0M224.3 149h0M307.3 -1.8h0M203.4 93.5h0M258.7 181h0M308.9 224h0M309.8 10.3h0M272.6 133h0M283 159.6h0M144.9 51.6h0" stroke="#a8689e" stroke-width="2.0" stroke-linecap="round" opacity="0.45"/>
<path d="M73.6 246.7h0M84.7 251.6h0M74.7 245.3h0M53 261.7h0M267.9 202.1h0M-0.6 24.7h0M1.7 20.6h0M2.9 19h0M12.7 38h0M102.8 164h0M94.1 166h0M133.9 213.4h0M135.2 212h0M93.4 195.1h0M99.2 189.4h0M65.2 205.2h0M49 241.4h0M29.7 215.2h0M41.2 239.9h0M58.6 192.7h0M76.3 171h0M277.1 223.6h0M288.1 217.7h0M130.5 230.5h0M3.7 237.8h0M-2.9 226.2h0M24 201h0M18.7 201.3h0M26.8 180.4h0M91.8 158.6h0M88.4 150.3h0M90 154.4h0M309.8 246.5h0M111.6 260.1h0M101.9 256h0M104.4 257h0M99.7 74.1h0M87.4 81.3h0M64.3 123.3h0M52.5 145h0M315 244.4h0M331.3 255.7h0M0.8 23h0M2.8 23h0M1.2 22.6h0M47.3 238.1h0M49.7 237.8h0M44.5 239.9h0M110.7 259.9h0M94.9 221.2h0M66.3 136.6h0M71 137.4h0M103 74.7h0M-2.3 234.2h0M58 169.5h0M57.3 176h0M60 174h0M119.9 33.6h0M19.2 197.9h0M28.8 177.2h0M28.7 175.3h0M101 58.3h0M76.3 94.2h0M57.8 146.5h0M99.6 57.5h0M43.8 174.3h0M118.9 37.1h0M129.2 7.3h0M28.5 0.8h0M14.6 42.5h0M12.1 56.2h0" stroke="#9e5a8e" stroke-width="2.5" stroke-linecap="round" opacity="0.72"/>
<path d="M316.8 209.9h0M193.4 -1.9h0M253.5 156.5h0M248.6 163.1h0M196.1 54.4h0M198.5 83.9h0M135.7 245.9h0M152.7 47.8h0M111.5 36.3h0M197.7 200.9h0M154.7 150.9h0M244.3 185.9h0M321.2 237.7h0M234.1 113.6h0M291 1.8h0M170.6 151.1h0M327 109.1h0M185.5 217.1h0M237.6 158.2h0M228.2 142.2h0M258.5 14h0M205.9 160.6h0M112.9 58.7h0M296.8 168.4h0M236.4 45.9h0M189 116.8h0M270.8 173.9h0M113.8 103.2h0M117.1 90.9h0M151.6 209.7h0M173.9 13.1h0M197.9 28.7h0M214.1 16h0M167.9 28.7h0M146.7 23.6h0M203.3 119.5h0M270.1 85.5h0M248 123.6h0M163.6 168.6h0M196.6 62.9h0M217.4 110.4h0M183.2 80.2h0M161.4 168.1h0M246.6 172.3h0M148.6 165.2h0M195 19.1h0M220.7 54.1h0M225.7 96.4h0M282 176.8h0M227.9 160.3h0M171 71.5h0M316.6 166.8h0M133.8 110.4h0M124.9 47.8h0M125.1 93.3h0M326.9 44.3h0M219.7 40.5h0M147.2 215.1h0M200.8 5.9h0M136.7 58.1h0M176.6 185.3h0M329 74.7h0M317.3 190.1h0M307.1 165h0M248.2 141h0M319.3 247.4h0M310.1 198.1h0M284.2 190h0M305.3 225.2h0M314.9 14.6h0M270.7 158.5h0M114.6 28.4h0M312.6 38.5h0M178.5 186h0M137.3 232.9h0M150.2 81.1h0M285.7 188h0M328.1 67.5h0M210.2 141.6h0M146.1 8h0M328.6 159.5h0M127 109.1h0M326 123.7h0M285.3 155.8h0M131.3 186.8h0M163.7 204.9h0M330.4 223.6h0M264.5 100h0M125.3 10.8h0M229.1 16.3h0M171.2 111.7h0M253.4 116.6h0M320.6 104.3h0M154.9 14.9h0M150.6 101.6h0M299.2 25.8h0M106.2 81.5h0M276.7 81.7h0M246.6 173.6h0M238.4 41.1h0M132.7 80.2h0M293.8 153.6h0M212.5 57.5h0M142.2 166.8h0M144.2 228.3h0M287.4 6h0M171.6 256.6h0M324.5 231.7h0M195.8 104.3h0M273.7 102h0M153.2 30.2h0M239.9 131.9h0M327.8 145.1h0M157.3 165.9h0M321.6 131.8h0M229.9 141h0M304.6 13.5h0M277.1 185.6h0M175.9 84.4h0M142.1 49h0M123.5 54.3h0M283.6 143.3h0M298.3 193.3h0M253 155.3h0M120.5 33.6h0M237 45.1h0M213.9 131h0M122.9 113.9h0M131.5 185.9h0M236.6 132.6h0M212.4 24.3h0M329.3 230.4h0M221.5 79h0M316.7 3.1h0M299.7 199.7h0M302.8 47.4h0M322.3 18.9h0M314.2 76h0M212.5 19.8h0M161.9 163h0M209.3 0.8h0M183.5 192.1h0M199.1 168.5h0M183 3.3h0M281.3 165.9h0M320.3 234.4h0M211.7 152.9h0M171.7 198.6h0M183.1 119.5h0M220.9 172.6h0M239.7 137.5h0M299.1 151.3h0M329.1 5.8h0M252.2 151.1h0M305.1 150.2h0M186.9 129.4h0M192 204.5h0M134.5 7.5h0M162 77.4h0M200.9 175.7h0M139.6 76.5h0M230.3 180.8h0M316.4 104.7h0M321.3 67h0M277.1 186.2h0M108.6 81.3h0M137 1.6h0M159 235.9h0M294.7 48.7h0M313 37.6h0M204.4 50.5h0M236.1 139.7h0M183.7 178.1h0M319.3 121.6h0M188.2 144.4h0M295.7 64.2h0M322.5 105.1h0M218.5 60.3h0M230.4 134.1h0M137.5 -0.4h0M199.3 78.1h0M186.2 86.9h0M248.6 164.2h0M128.5 249.7h0M326.1 154.3h0M185.2 209h0M194.1 13.2h0M142.5 190.5h0M190.6 177.2h0M185.7 133.1h0M178.4 92.9h0M111.9 92.6h0M188 17.7h0M319 52.2h0M262.1 192.3h0M125.4 109.1h0M227 177.9h0M175 127.7h0M226.2 180.6h0M135.7 34.2h0M129.7 32h0M252 166.9h0M317.4 63.5h0M120.7 14.2h0M252.3 4h0M270.7 200.5h0M324 95.8h0M228.4 42.1h0M298.4 222.5h0M207.5 109.1h0M120.4 27.6h0M178.1 154.4h0M190.5 37h0M285.2 170.1h0M223.3 155.4h0M313.6 43.7h0M135.9 60.8h0M204.4 81.5h0M132.2 1.9h0M149.9 102.7h0M310.5 25.7h0M247 189.5h0M127 70.2h0M277.5 175.6h0M227.9 177.7h0M219.3 126.1h0M153.3 48.1h0M148.9 183.8h0M239.3 22.1h0M157.6 176h0M322.9 129.1h0M250.4 147.5h0M155.3 92.4h0M324.7 59.2h0M165.8 75.2h0M163 0.3h0M269.9 112.9h0M271.5 119.2h0M126.2 72.7h0M176.6 156.1h0M167.5 6.9h0M143.8 232.9h0M189.7 100.7h0M247.6 112.7h0M327 244.4h0M167.4 237.1h0M207.1 154.2h0M138.3 71.4h0M239.2 123.9h0M255.7 13.4h0M227.2 112.1h0M307 27.3h0M263 99.5h0M205.3 64.5h0M318.8 233.3h0M252.8 156.5h0M312.4 53.1h0M213.4 78.1h0M120.7 60.3h0M161.6 18h0M211.5 140.8h0M216.4 165.6h0M181.8 233h0M162.3 106.6h0M171 218.6h0M140.4 250h0M213.8 188.4h0M171.1 155.6h0M331.3 168.2h0M146.1 257.8h0M154.8 195.9h0M234.8 1.2h0M305.9 29.9h0M166.6 -1.1h0M333 189.5h0M282.3 143.7h0M325.5 46.7h0M163.5 117.8h0M132.2 121.4h0M264.4 176.7h0M273.4 137.8h0M224.9 45.5h0M328.4 203.4h0M165.7 28.5h0M135.2 239.7h0M175 -1.1h0M330.9 106.7h0M192.7 142.2h0M297.1 25.1h0M189.8 163.4h0M331 161.6h0M215.7 95.4h0M316.6 164.3h0M198.6 11.4h0M219 137.8h0M283.6 67.3h0M159.5 253.6h0M173.1 163.1h0M293.5 173.6h0M132.4 135.6h0M279.4 80.6h0M331.3 103.1h0M154.3 111.4h0M131.9 11.5h0M138.6 177.3h0M149.3 32.4h0M299.3 65h0M274.4 106.9h0M143.7 173.4h0M324.2 36.3h0M142.1 137h0M113.1 67.9h0M217.9 87h0M141.3 100h0M177.1 179h0M160.6 103.2h0M150.6 96.7h0M158.7 15.1h0M196.9 118.8h0M171.9 214.6h0M329.8 125.9h0M327.1 137.4h0M286.1 190.7h0M247.9 181.5h0M302.5 42.2h0M270 80.3h0M141.5 194.3h0M143.2 212.4h0M170.7 214.7h0M144.9 29.8h0M175 109h0M189.9 126.2h0M258.8 176.2h0M199.7 118.7h0M300.9 39.5h0M304.1 5.7h0M290.9 32.1h0M234.7 155.8h0M256.4 131.2h0M314.5 25.7h0M180.2 227.1h0M134.6 173.8h0M316.7 80h0M299.9 21.1h0M312.4 1.4h0M159.9 206.7h0M147.1 160.8h0M297.2 2.6h0M173.6 205.6h0M252.2 2.8h0M306.2 153.6h0M113.1 79.5h0M120.4 92.7h0M297.2 7h0M198.1 175.2h0M313.8 54.4h0M308.5 181.6h0M139 84.2h0M152.8 27.9h0M199.9 191.6h0M187.6 5.3h0M157 171.4h0M285.1 183h0M177.7 234.2h0M317 202.7h0M179.4 185.1h0M204.2 61.3h0M332.6 36.1h0M166.9 191.1h0M271 78.9h0M287.6 42.6h0M182 120.8h0M312.8 208.4h0M323.3 226.7h0M136.9 70.1h0M137.6 84h0M215.3 21.8h0M146.4 239.6h0M136.6 125.2h0M179 -1h0M322.3 245.1h0M309.9 165.1h0M164.3 233.4h0M115.4 77.9h0M285.4 176.5h0M222 127.3h0M176.5 50.7h0M139.4 140h0M174.5 77.5h0M245.9 127.5h0M195.6 188.6h0M300.8 19.7h0M246 133.3h0M126.7 97.6h0M261.6 105.9h0M326.9 152.9h0M176.9 136.9h0M326.4 77.9h0M222.5 100.3h0M196.1 127.1h0M291.4 160.4h0M156.4 94.5h0M212.4 56.9h0M139.3 170.3h0M258.7 95.5h0M265.9 115.8h0M330.3 190h0M326.2 165.4h0M267.1 86.1h0M185.4 180.3h0M122.7 95.8h0M119.4 50.4h0M203.2 65.6h0M144.3 129.8h0M190.9 122.3h0M222 136.4h0M315.7 10.2h0M315.8 1.7h0M281.2 186.2h0M233.7 49.6h0M252 166.3h0M226.6 86.4h0M324.6 232.7h0M321.7 177.5h0M298.7 186.8h0M316.5 211.5h0M168.3 71.2h0M259.8 137.4h0M166.5 21.1h0M222.4 81.5h0M313.6 125.3h0M131.2 92.9h0M119.2 40.7h0M229.4 46.8h0M175 79.1h0M168.1 1.3h0M227.9 64.6h0M115 110.6h0M321 127.8h0M180.5 52.6h0M253 158.7h0M169.5 92h0M102.3 44h0M155.4 231.9h0M202 103.9h0M277.5 76.5h0M181.6 198.2h0M302.9 48.7h0M327.5 64.2h0M327.7 89.4h0M307.9 204.7h0M305.7 5.7h0M138 226.9h0M265.3 4.6h0M272.4 200.1h0M165.9 172.4h0M166.6 -2.6h0M273 87.2h0M269.8 197.6h0M287.4 151.1h0M192.9 182.2h0M123 79.5h0M143.4 184.9h0M182.4 181.9h0M159.5 198.3h0M268.5 200.4h0M152.3 128.4h0M299.4 23.5h0M301.6 206.4h0M198.9 178.1h0M245.2 195.1h0M188.2 69.6h0M158.5 105.8h0M316.4 82.6h0M214.8 26.4h0M185.4 122.5h0M310.5 201.7h0M218.7 28.9h0M278.4 198h0M280 180.5h0M233.4 154.9h0M170.9 117.9h0M151.6 215.3h0M291.8 178.7h0M196.2 91.6h0M244.1 12.5h0M165.1 211.7h0M137.9 177.7h0M255.5 162.3h0M307.4 186.2h0M252 197.3h0M319.7 165.7h0M312.8 192.2h0M251.1 158.4h0M178.8 158.3h0M227.3 105h0M192.6 56.5h0M144.3 119.8h0M291.4 184.5h0M196.4 171.7h0M320.6 161.5h0M219.6 159.4h0M191.3 50.4h0M185.3 207.9h0M157.7 105.3h0M143 25h0M213.5 27.5h0M325.8 164.2h0M143 36.7h0M214.8 90.4h0M149.8 200.4h0M210.6 117.9h0M302.9 1.3h0M219.8 55.6h0M295.6 181.2h0M130 94h0M127.2 122.3h0M143.1 152.8h0M171.2 7.6h0M326.4 59.2h0M181.2 94.8h0M299 22.7h0M143.4 193h0M275.1 175.5h0M178.4 180h0M283.5 177.6h0M326.4 68h0M254.8 167.8h0M221.4 116.8h0M290.6 22h0M261.6 144.1h0M213.4 131.1h0M164 128.4h0M317.3 84.9h0M241.7 135.1h0M240.6 161.2h0M248.3 173h0M119.7 85.7h0M206.9 50.5h0M230.5 167.8h0M166.5 205.9h0M197.8 108.7h0M152.6 182h0M184.2 209.1h0M278.4 10.4h0M153.2 225.2h0M232.6 155.2h0M323.6 245.2h0M197.4 193.5h0M199.9 182.2h0M174.8 41.2h0M175.6 79.2h0M133.5 11.6h0M321 111.4h0M233.7 31.2h0M183.9 50.9h0M175.4 123.5h0M130.9 5.2h0M259.2 -0.3h0M162.8 258.7h0M121.1 30.8h0M166.6 45.9h0M323.9 80.7h0M149.6 147.8h0M260.4 9.7h0M309.6 215.1h0M133.6 177.3h0M236.7 158.2h0M301.8 33.7h0M183.4 23.4h0M176.1 152.8h0M310 67.4h0M152.6 86.6h0M135.7 218.4h0M131.8 -2.1h0M147.3 134.8h0M202.7 61.4h0M314.1 64.9h0M257.8 15.5h0M142.7 139.6h0M248.3 187.5h0M207 9.6h0M164.7 42.6h0M123.6 113h0M312.3 0.2h0M188.4 60.1h0M148.2 247.6h0M219.1 50.8h0M271.1 184.9h0M329.8 92.9h0M151.5 46.3h0M153.1 149.6h0M137.2 124.8h0M316.8 157.3h0M294.1 60.5h0M197.8 133.1h0M265.7 84.7h0M123.3 99h0M271.3 92.1h0M248.9 16.4h0M132 35.2h0M156.6 256.9h0M168.6 21.8h0M260.8 123.9h0M160.1 70.5h0M127.3 25.6h0M177.1 223.3h0M296.7 164.6h0M148.5 74.9h0M152.7 52.1h0M318.5 156.4h0M133 51.9h0M323.6 214.7h0M209.5 149.4h0M129.5 64.9h0M147.5 24.9h0M120.3 24.1h0M124.3 22.4h0M330.9 36.6h0M128 20.1h0M216.5 90.8h0M323.1 20.9h0M233.9 153.9h0M285 152.9h0M228 32h0M132.1 53h0M298.1 165h0M242.7 -0.9h0M324.3 231.6h0M321.6 178.7h0M332.7 193.8h0M201 160.8h0M319.4 195h0M261.6 160.2h0M316.3 189.9h0M177.6 88.5h0M323.5 26.8h0M207 39.4h0M147.4 139.3h0M155 7.3h0M177.3 163h0M279.8 140.6h0M192.9 46.5h0M156.9 189.6h0M321.1 204.3h0M303.1 16.7h0M250.1 4h0M313.1 211.3h0M170.4 -2.1h0M156.3 208.7h0M331.6 47.9h0M298.8 177.8h0M220.5 55.5h0M277.5 137.1h0M160.4 63.5h0M213.6 34.4h0M135.9 47.6h0M130.6 -1.8h0M147.6 8h0M264.7 128.7h0M219.3 36.6h0M143.8 206.7h0M317.7 147.1h0M196.3 107.1h0M256.6 179.9h0M330.2 230.2h0M183.5 69.4h0M141.4 -0.9h0M225.9 67.8h0M183.2 115.6h0M137.1 245.7h0M172 215.4h0M149.2 219.3h0M132.8 69.9h0M133 189.2h0M154 68.9h0M139.8 30.6h0M140.9 66h0M108.4 67.9h0M145 39.8h0M142.1 166.9h0M108.1 75.3h0M321.6 203.2h0M190.3 87.2h0M129.4 51.7h0M232.5 176.4h0M272.8 90.2h0M251.4 116.3h0M139.1 208.3h0M144.6 -2.2h0M137.9 93.5h0M318.2 185h0M324.1 3.7h0M226 -1.5h0M225.1 98.3h0M142.6 97.1h0M166.5 250.9h0M203.1 -0.5h0M162.5 147h0M272.6 96.6h0M262.8 179.1h0M222 136h0M253.1 192.4h0M288.6 20h0M226.3 73.3h0M312.7 225.8h0M290.9 0.1h0M116.2 102.4h0M262.6 95h0M148 128.8h0M290.2 148.7h0M205.6 54.1h0M320.9 91.6h0M193.2 202.2h0M224.5 76.6h0M165.7 199.5h0M324.5 166h0M131.7 61h0M249.1 158.9h0M198.5 51.8h0M244.5 193.8h0M147.9 197h0M332.7 205.7h0M200.4 121.5h0M145 129h0M289.2 28.1h0M156.6 40.2h0M155.4 99.9h0M215.8 75.8h0M185.9 141.3h0M329 109.4h0M279.7 13.4h0M117.1 118.4h0M125.3 21.1h0M170.4 243.3h0M313.1 139.1h0M326.6 103.2h0M222.9 70.9h0M125.7 62.3h0M301.9 12.6h0M149.1 118.9h0M232.5 46.8h0M294.8 12.8h0M255.4 190.2h0M261.5 123.9h0M191.8 141.3h0M157.8 199.1h0M318 175.9h0M196.3 78.6h0M140.9 150.5h0M276.6 172.3h0M314 34.4h0M265.6 138.7h0M196.4 198.3h0M202.1 136h0M331.5 211.9h0M176.2 251.5h0M138.9 165.6h0M294.2 153.7h0M232.6 187.7h0M292.9 21.7h0M166.9 159.2h0M268.6 145.6h0M180.8 207.2h0M175.1 250.1h0M263.5 163.5h0M278.9 198h0M235.4 187.8h0M306.4 179.8h0M330.7 190.4h0M324.5 137.5h0M311 167.8h0M166.9 202.4h0M283.5 185.6h0M242.7 17.2h0M189.4 192.3h0M129.8 7.4h0M176.4 38.7h0M163.4 240h0M183.5 228.5h0M284.4 141.7h0M321.5 33.6h0M185.8 58.7h0M120.4 67.7h0M198.5 102.3h0M185.6 200.4h0M218.9 119.6h0M215.9 74.5h0M205 116.2h0M148.8 68.3h0M312.2 128.3h0M217.6 149.2h0M123.5 123.2h0M137 209.2h0M166.1 28.4h0M273.6 -2h0M181.9 96.1h0M232 127.9h0M170.3 186.7h0M206 -1.4h0M270.5 120.5h0M270.6 4.3h0M155 232h0M268.2 12h0M248 114.6h0M118.6 105.2h0M155.3 241.8h0M189 76.9h0M112.4 73.6h0M152.4 117.3h0M285.2 200.6h0M169.4 47.6h0M111.4 110.2h0M186.1 -0.3h0M134.9 130.8h0M234.8 182.1h0M309.6 177.6h0M330.3 43.4h0M187.4 53.5h0M285.6 182.3h0M270.1 182.4h0M328.1 62.5h0M173.7 214.9h0M300.2 19.7h0M175.6 33.6h0M136.1 146.1h0M131.7 257.3h0M140.6 224.5h0M295.3 -0.5h0M279.4 134h0M187 52.6h0M183.7 107.3h0M268.8 176.3h0M323.2 9.5h0M322.9 59.2h0M210.5 2.7h0M296.3 11.9h0M148.5 179.2h0M198.5 42.8h0M214.2 36.6h0M260.6 10.1h0M156 169.7h0M330.6 43.5h0M279.1 67.9h0M128.1 130.5h0M219.6 57.3h0M138.6 237.3h0M196.6 199.5h0M281.4 62.7h0M317.6 83.2h0M173 223.5h0M255.1 115.8h0M192.3 176.3h0M136.4 36.9h0M317.2 179.4h0M183.8 226.8h0M264.7 138.7h0M143.3 82h0M330.2 236.3h0M198.4 17h0M138.6 154.6h0M186.3 105.8h0M147.4 48.4h0M255.8 18.7h0M150.8 157.9h0M146.8 112.6h0M134.8 208.3h0M319.7 8h0M162 143.6h0M116.3 43.1h0M149.1 102.5h0M155 18h0M256.2 123.5h0M126.2 34.7h0M142.6 47h0M172.9 196.9h0M283 143h0M219.5 61h0M161.2 12h0M288.2 176h0M169.3 225.5h0" stroke="#a8689e" stroke-width="2.5" stroke-linecap="round" opacity="0.45"/>
<path d="M63.5 246.3h0M15.1 44.8h0M126.2 191.6h0M109.6 187h0M108.2 187.4h0M30.2 213.5h0M65.3 176.7h0M90.2 168.2h0M95.1 230h0M88.1 244.2h0M273.1 222.3h0M289 217.9h0M-1.8 236.7h0M26.3 254.4h0M60.1 175.2h0M27.1 178.7h0M23.5 193.6h0M24.1 183.2h0M90 147.4h0M73.8 135.5h0M78.9 135.9h0M55.6 153.3h0M301.1 252.3h0M330 253.3h0M311.8 242.9h0M110.9 259h0M107.2 256.8h0M110 110h0M102.2 73.8h0M56.6 145h0M312.5 244.2h0M307.8 239.7h0M-2.4 26.7h0M87.2 137.1h0M49.3 243h0M113 259.1h0M102.7 188.3h0M98.6 184.3h0M94.3 163.1h0M25.7 199.2h0M21.2 205.2h0M67.9 137.5h0M-2.7 236h0M2.1 238.4h0" stroke="#9e5a8e" stroke-width="3.0" stroke-linecap="round" opacity="0.72"/>
<path d="M217.8 65.6h0M310.7 12.3h0M191.2 88.7h0M254.1 126.9h0M301.7 155.6h0M168.8 155.7h0M217.6 44.9h0M312.8 188.2h0M202.1 184.8h0M303.3 26.8h0M168.5 150.1h0M119.5 81.6h0M331.4 139.6h0M264.2 183.5h0M225.3 19.2h0M270.5 107.4h0M262.1 142.6h0M169.6 61.5h0M135.3 192.5h0M155.9 14.7h0M152.4 75h0M307.4 158.4h0M132.1 161.2h0M171.8 16h0M331.9 82.2h0M198.3 197.3h0M318.1 126.6h0M293.8 185.1h0M133.9 26.5h0M157.4 208.4h0M288.8 198h0M197.4 16h0M276.9 201.1h0M291.1 195h0M137.1 243.9h0M271.2 126h0M274.2 133.8h0M142.3 85.8h0M315.7 84.6h0M208.7 196h0M302.7 226.7h0M328.7 78.6h0M176.4 145.1h0M309.4 148.9h0M145 69h0M250.6 183.2h0M330.8 158.4h0M270.9 169.3h0M207.2 17.2h0M140.3 186.1h0M155 43.4h0M301.3 203.2h0M112.9 44.4h0M241.5 2.6h0M323.1 168.2h0M170.7 68.2h0M158.8 200.9h0M311.6 217.6h0M172.9 135h0M171.5 112.3h0M234.6 138.3h0M233.2 165.6h0M302.9 5.5h0M257.4 109.4h0M162.1 252.5h0M165.6 198.8h0M298.8 22.9h0M241.6 155.2h0M304.6 65.5h0M241.9 19.1h0M202.1 167h0M186.3 168.6h0M136.4 179.8h0M331.6 218.6h0M181.9 218.9h0M245.9 131h0M241.5 117.6h0M332.7 37.4h0M310 33h0M147.8 69.5h0M327.2 130.3h0M132.2 182.7h0M218.2 132.1h0M212.4 15.7h0M134.4 134.8h0M313.4 78.5h0M303.6 166.9h0M189.6 69.2h0M155.8 90.3h0M146.8 191h0M242.9 16.5h0M145 244.8h0M214.1 69.2h0M166.1 172.8h0M181.1 51.3h0M260.4 174.1h0M248.6 10.4h0M129.2 169.7h0M107.1 78.8h0M300.2 220.7h0M215.1 188.1h0M304.3 35.3h0M328.2 211.1h0M142 35.8h0M140.1 219.8h0M192.4 13.3h0M240.5 128.8h0M181.5 122.8h0M207.3 161.7h0M120.8 18.4h0M300 148.1h0M160 128.7h0M317.8 131.7h0M264.7 200.7h0M170.2 25.6h0M179.8 101.3h0M241.6 143h0M127.2 126.9h0M248.2 191h0M234.1 25.9h0M148.2 18.9h0M174.8 122.5h0M286 203.2h0M159.4 260.3h0M154.1 19.6h0M158.9 23h0M142.4 220.4h0M264.6 181.4h0M314.3 54.5h0M182 59.9h0M207.5 14.1h0M187.5 12.7h0M220.8 123.6h0M154.8 1.9h0M312.1 176.3h0M182.5 163.9h0M272.8 130.3h0M147.8 37.9h0M151.9 181.7h0M268.7 124.7h0M319.4 178.7h0M172.3 130.7h0M195.7 103h0M151.6 248.7h0M249.4 126.3h0M148.4 211.7h0M150.3 104.9h0M298.8 16h0M273 12.9h0M325.1 85.9h0M221.3 51.9h0M270.6 173.8h0M166.1 161h0M190.8 22.3h0M158.8 76.3h0M194.4 102.7h0M146.3 111.1h0M178.4 32.4h0M325.6 106.4h0M316.8 242.7h0M181.5 11.3h0M171.3 240.6h0M320.8 129.5h0M227.5 160.6h0M142.9 239h0M197.5 174.5h0M279.2 83.4h0M167.4 213.4h0M164.4 137.3h0M248.9 147.2h0M328.3 21.9h0M143.8 56.4h0M327.5 140.1h0M321.7 197.2h0M156.4 196.4h0M285.1 4.8h0M140.3 131.4h0M236.6 146.5h0M294.5 190.8h0M171.4 133.7h0M286.2 203.6h0M170 34h0M253.5 150h0M215.5 30.1h0M263.9 120.1h0M216 173.3h0M194 189.2h0M312.3 10.5h0M178.4 129.3h0M230.8 115.9h0M134.8 168.7h0M228 123.1h0M214.1 75h0M176.6 250.9h0M332.4 128.4h0M318.8 203h0M179.8 63.7h0M159.6 103.9h0M275.4 119h0M309.2 149.2h0M174.4 255.9h0M148.4 223.9h0M177.3 261.2h0M176.1 162.2h0M308 148.7h0M162 203.4h0M284.7 9.3h0M199.8 145.7h0M291.1 177.3h0M322.8 60.5h0M160.2 73.6h0M227.1 140.4h0M187 175.7h0M308.8 2.4h0M159.1 179.2h0M274.4 77.7h0M106 72.6h0M316 107.8h0M299.1 195.9h0M219.8 183.6h0M161.1 30.9h0M263 101.4h0M178.5 8.3h0M215.7 193.3h0M190.7 21.1h0M329.9 82.9h0M321.9 230.4h0M301.8 217.1h0M251.5 123.7h0M291.4 17h0M261.6 168.5h0M137.9 87.4h0M328 109.5h0M270 9h0M141.9 16.4h0M150.8 259.4h0M200.5 84.4h0M266.3 150h0M118.1 117.5h0M178.5 161h0M235.8 145.6h0M202 142.1h0M120.6 22.3h0M164.4 197.4h0M169.6 213.3h0M115 49.9h0M314.5 244.3h0M185.7 191.2h0M140.4 122.7h0M301.4 39.1h0M318.3 66.9h0M215.9 57.2h0M141.9 69.5h0M325.5 9.5h0M254.4 172.7h0M159.9 151.7h0M202.1 124.2h0M229.9 181.8h0M138.7 191.5h0M175 137.1h0M209.9 59.6h0M271.4 132.8h0M141.6 143.7h0M172.8 86.1h0M139.8 134.3h0M150.4 210.5h0M313.8 209.2h0M176.4 189.7h0M167.2 144.6h0M322.9 175.3h0M173.5 74.4h0M279.4 170.2h0M141.3 96.8h0M149 104h0M167.4 20.4h0M127.2 4.5h0M150.8 2.3h0M169.1 161.1h0M136.1 67.2h0M183.7 64.1h0M124.8 61.9h0M160.7 0.2h0M319.1 213.2h0M129.9 95.7h0M179.8 197.8h0M110.9 103h0M158 185.7h0M296.6 145h0M214.5 17.6h0M330.9 46.1h0M135.2 3.7h0M116.9 72.3h0M308 224.4h0M185.9 9.9h0M218.6 171.5h0M150.4 158.3h0M325.9 27h0M139.3 68.4h0M217 128.3h0M191.9 140.1h0M322.2 37.2h0M175.6 64.7h0M157.6 160.5h0M330 56.6h0M153.2 241h0M162.7 52.9h0M224.9 76.9h0M141.9 191.1h0M183 206.5h0M288 152.6h0M224.3 139h0M142.3 161.5h0M244.3 173.5h0M320.2 133.1h0M170.4 23h0M316.8 155.7h0M248.8 145.3h0M180.5 19.6h0M274 152.3h0M269.9 170.5h0M164.1 95.2h0M129.9 81.8h0M135.1 194.9h0M140.9 226.9h0M225.8 111.6h0M108.2 43.3h0M147.5 70.1h0M226.8 56h0M110.2 37.3h0M187 62.5h0M259.2 2.2h0M258.3 117.3h0M287.8 17.4h0M128 79.4h0M197.5 66.2h0M150.9 207.7h0M169.7 137.2h0M139 3.6h0M216.6 101.2h0M327 125.4h0M171.5 16.6h0M194.5 189.4h0M144.4 2.7h0M329.9 40.1h0M263.8 89.7h0M289.7 27.3h0M155.1 134.4h0M317.8 145.6h0M315 166.8h0M235.4 147.2h0M127.9 72.6h0M207.2 110h0M263.3 129.8h0M322 4h0M315.6 124.5h0M203.3 -1.3h0M303.2 219h0M294.9 29.4h0M221.1 175.4h0M326.5 155.1h0M233.8 46.3h0M143.5 188.7h0M203.5 17.9h0M128.4 134.7h0M254.7 120.5h0M143.4 202.7h0M255.8 104.3h0M133.9 148.2h0M160.7 237.3h0M179.9 160.1h0M216 79.2h0M328.8 129h0M316.7 155.2h0M320 61.7h0M131.5 24.5h0M323.6 177.8h0M189.1 21.6h0M128.1 8.9h0M273.8 8.1h0M161.8 6.6h0M166.6 110.4h0M274.1 135.5h0M138.4 58.8h0M140.5 244.3h0M290.6 172.9h0M174.4 194.5h0M129.7 128.9h0M307.8 156.4h0M198.8 38.3h0M254.7 166.4h0M187.9 170.7h0M130.1 78.1h0M155.7 257.8h0M170.2 242.7h0M282.6 141h0M195 136h0M154.8 15h0M159.6 239.8h0M247 135h0M270 174h0M314.2 79.5h0M282.8 200.5h0M317.4 235.1h0M285.8 176.4h0M284 199.9h0M319 27.3h0M138 183.9h0M313.4 -0.9h0M158.8 193h0M242.9 17.1h0M202 26h0M256.6 172.7h0M303.9 38.1h0M241.4 190.2h0M187.8 113.8h0M199.4 174.7h0M137.4 58.3h0M245.1 11.7h0M123.1 117.9h0M140.1 45h0M154.5 251.8h0M114.5 97.7h0M166.6 151.2h0M275.7 173.4h0M239.3 175.2h0M153.2 84.9h0M270.6 183.8h0M207.5 137.6h0M202.9 181h0M194.7 169.2h0M113.3 70.3h0M215.9 73h0M138.1 33.2h0M302.9 54.4h0M332.9 67.2h0M266.8 113.4h0M201 146.5h0M138.6 233.1h0M206 36.3h0M307.3 40.1h0M240.7 143h0M179.2 157.6h0M120.5 117.7h0M211.8 1.5h0M174.3 173.5h0M233.4 32.3h0M178.2 139.3h0M317.3 101h0M176.9 3.9h0M231.2 152.2h0M155.4 235.7h0M228.7 155.6h0M183.2 220.1h0M316.1 121.6h0M254.4 -2.7h0M152.2 12.2h0M151.6 88.5h0M195.7 8.3h0M209.8 123.3h0M329.7 40.4h0M318.2 102h0M229.9 154.1h0M206.3 23.6h0M248.8 141.8h0M224.5 108.4h0M116.5 116.4h0M158.5 210.9h0M321.4 175.4h0M216.9 171.3h0M228.2 31.6h0M246.6 126h0M320.8 125.4h0M258.2 200.5h0M323.3 68.8h0M315 12.7h0M154.6 96.4h0M186 69.7h0M186.5 128h0M136.7 59.7h0M226.3 96h0M280.9 77.8h0M150.9 67.1h0M148.3 203.5h0M106.7 59.3h0M153.1 216.1h0M295.8 203.7h0M230.2 118.6h0M163.2 119.5h0M147.6 234.1h0M216.2 178.1h0M154 122.1h0M134.4 207.5h0M271 162.3h0M154.5 153.2h0M298.2 35.2h0M223.1 46.8h0M254.1 148.8h0M228 73.9h0M172.7 146.6h0M129.3 45.8h0M257 138.6h0M179.6 94.4h0M143.3 67.2h0M156.4 165.5h0M286.7 62.5h0M149.4 85.3h0M209.8 14.8h0M127.4 95.1h0M200.7 119.6h0M242.6 14.7h0M320.4 102h0M190 212.5h0M137.4 89.4h0M323.8 229.5h0M172.9 211.6h0M139.6 24.2h0M162.3 188.5h0M313.8 13.4h0M236.2 51.6h0M329.9 128.8h0M237.5 146.7h0M137.6 112.6h0M200.9 77.4h0M229.4 136.6h0M206.6 47.2h0M205.3 100.4h0M332.7 66.4h0M181.2 88.4h0M123 85.5h0M234.8 159.6h0M183.1 216h0M264.5 181.5h0M111.7 62.9h0M240.8 37.1h0M308 15.5h0M137.9 129h0M294.2 0.1h0M287.6 51.6h0M296.1 56.6h0M200.9 99.9h0M150.5 127.7h0M186.6 13.6h0M131.6 183.2h0M225.7 34.6h0M138.8 154.3h0M151.6 -2.8h0M182.5 230.8h0M109.7 45.1h0M199.3 2.4h0M184.1 126.7h0M163.8 3.4h0M136.8 48.6h0M309.3 71.1h0M147.7 262h0M221.9 89.1h0M294.8 159.8h0M176.1 89.3h0M315.4 219.9h0M228.2 34h0M142.2 144.5h0M310.1 233.1h0M120.3 80.8h0M149.8 227h0M273 153h0M244.5 127.1h0M152.5 164.4h0M139.9 162.2h0M107.2 87.2h0M185.3 223.6h0M183.6 175.5h0M142.5 189.3h0M318.6 23.3h0M174.6 14.5h0M248.5 7.6h0M130.1 98.3h0M184.2 139.1h0M267.2 121h0M330.9 15h0M146.4 212h0M250.6 170.9h0M221 126.7h0M220.8 29.4h0M169.6 67.1h0M112.4 104.6h0M290.5 27.5h0M311.7 237.6h0M256.9 103h0M211.1 181h0M136.5 193.7h0M132.6 126.6h0M200.8 194.9h0M313.3 196.3h0M198.5 137h0M169.6 245.4h0M129.6 247.2h0M173.5 218.7h0M318 44.6h0M147.9 164h0M156 172.6h0M293.3 147.8h0M322.6 194.1h0M139.9 111.1h0M165.3 148.2h0M181.9 35.1h0M323.9 30.9h0M124.3 27.1h0M277 157.2h0M193 199.1h0M322.9 22.1h0M182.9 116.4h0M150.5 183.9h0M155.8 236.5h0M312.6 0.3h0M175.1 188.5h0M183.9 8.6h0M166.7 123.6h0M152.4 93.2h0M173.2 63.1h0M275.8 186.8h0M165 135.2h0M245 122.4h0M220.5 168.5h0M177 3h0M181.2 183h0M126.2 86.3h0M128.6 20.9h0M189.2 178.2h0M146 227.4h0M256.9 193.1h0M201.9 69.3h0M220.3 -1.7h0M329.2 217.4h0M235.1 33.9h0M146.1 39.6h0M155 240.3h0M286.8 163.4h0M312.3 149.7h0M151.2 36h0M193 117.3h0M158.2 167.6h0M140.8 177.3h0M166.8 72.6h0M292 179.3h0M268.8 92.1h0M154.6 51.1h0M222 27.8h0M181.3 97.2h0M227.7 193.6h0M191 102.1h0M216.6 153.5h0M117.9 112.4h0M321.7 117.8h0M156.7 93.4h0M290.7 29.7h0M304.7 200.7h0M228.6 44.7h0M116 53.6h0M294.3 175.4h0M214.1 125.5h0M173.6 73.3h0M252.4 122.6h0M149.1 228.7h0M137.3 58.2h0M177.3 75.9h0M158.1 121.4h0M156.3 53.8h0M136.6 36.9h0M211.6 99.2h0M230.8 163.6h0M139 111.2h0M284.5 154.7h0M170.7 15.7h0M221.7 81h0M136.5 206.2h0M181.9 1.8h0M240.4 15.1h0M250.5 -0.2h0M323.8 247.4h0M291 67.6h0M284.9 161.6h0M164.3 88.6h0M320.6 248.5h0M295.8 41.3h0M156.4 205.4h0M166.9 158.9h0M280.7 7.5h0M311.3 1h0M144.8 4.8h0M194 176h0M321 120.1h0M322.1 124.8h0M255.8 107.9h0M145.6 54.6h0M294.8 23h0M205.4 188.9h0M155 52h0M264.6 173.9h0M181 215.4h0M259.1 192h0M315.3 72.8h0M204.2 73.7h0M275.3 123.8h0M321.1 90.8h0M141.4 82h0M165.7 6.1h0M150.2 250.1h0M135.1 -1.6h0M168.2 150.4h0M188.6 129h0M153.3 159.7h0M119.4 109.6h0M245.8 130.5h0M193.4 2.8h0M145.7 217.1h0M326.9 245.5h0M177.5 74.2h0M160.1 151.2h0M211.3 52.4h0M219.4 93.5h0M150.7 43.3h0M134.1 245.7h0M274.9 85.2h0M319.6 72.7h0M222.7 130.7h0M184.2 143.2h0M145.3 244.7h0M231 177.1h0M221 61.1h0M136 184.4h0M274.5 132.5h0M319 178.8h0M270.6 139.7h0M320.6 242.9h0M261.8 13.2h0M297.5 149.7h0M211.1 87.8h0M313.6 237.7h0M317.5 -1.7h0M295.1 49.2h0M206.5 160.1h0M303.7 226.6h0M134.1 191h0M165.4 49.1h0M332.1 102.1h0M212.1 152.2h0M182.7 121.1h0M126.6 58.4h0M312.2 154.7h0M163.3 144.7h0M162.9 139.6h0M213.8 48h0M308.9 47.5h0" stroke="#a8689e" stroke-width="3.0" stroke-linecap="round" opacity="0.45"/>
</g>
<rect x="286.5" y="247.6" width="40.8" height="7.8" fill="#fff" stroke="#555" stroke-width="1.2"/>
<text x="306.9" y="253.2" font-family="Liberation Sans, Arial, sans-serif" font-size="5.5" text-anchor="middle" fill="#333">50 μm</text>
</g>
<g transform="translate(1316.5,643.4)" clip-path="url(#hc2)"><g filter="url(#soft)">
<clipPath id="hc2"><rect width="331.5" height="256.4"/></clipPath>
<rect width="331.5" height="256.4" fill="#f1e9e3"/>
<path d="M39 172C43.3 165.5 51.5 163.5 60 161C68.5 158.5 80 157.2 90 157C100 156.8 111.7 157 120 160C128.3 163 136.7 168.7 140 175C143.3 181.3 142.7 191.5 140 198C137.3 204.5 129 207 124 214C119 221 114 232 110 240C106 248 108.3 258.3 100 262C91.7 265.7 70 265.7 60 262C50 258.3 44.3 250.3 40 240C35.7 229.7 34.2 211.3 34 200C33.8 188.7 34.7 178.5 39 172Z" fill="#f1e9e3"/>
<path d="M-0.6 260.4L-0.6 260.4L-4 257.2M335.5 214.3L332 217.3L327.5 221.3M327.5 221.3L328.4 223.5M197.4 260L189.1 258.2L180.6 258.6M228.5 260.4L231.4 257.8M211.9 260.4L210.1 257.7L204.2 253.5M223.6 241.6L232.5 249.4M195.9 236.8L200.2 244.5L204.3 252.4M332.4 9.6L335.5 14.9M313.7 16.1L315.5 23.5M335.5 27.2L330.9 29.9M330.9 29.9L323.3 26.6L315.5 23.5M179.1 219.7L186.6 212.9M-4 171.1L-0.4 167.5L5.6 163.1M5.6 163.1L4.3 157M12.8 260.4L14.8 259.5M149 200.9L139.5 200.6M148.4 176L144.1 176.4M260.8 196.6L259.3 195.8L253.4 193.2L247 191.6M247 191.6L245.3 196.8M334.8 143.7L330.6 135.6M335.5 93.8L333.8 93.4L328.2 90.2M328.9 86.9L328.2 90.2M311.4 55.5L314.4 62.8L319.2 69.2M311.4 55.5L317.9 45.9M335.5 58.5L334.1 49.7M294.5 69.4L300.3 73.7L306.2 77.7M306.2 77.7L312.6 73.2L319.2 69.2M295.9 41.7L296 42.6L297.5 49.2L299.4 55.6M330.9 29.9L328.4 37.1L327.1 44.7M310.4 34.5L313.7 29.3L315.5 23.5M224 188.9L230.5 188.4L236.6 186.5L242.9 184.7M237.9 174.1L239.2 176.5L242.9 184.7M247 191.6L245.3 185.9M225.5 206.2L224 203.9L219.7 199.1M219.7 199.1L224 188.9M245.3 185.9L242.9 184.7M206.7 225L212.9 220.1L218.7 217.7M206.7 225L211.4 229.5L216.8 233L222.8 235.7M204 224.8L206.7 225M199.8 215.6L201.9 207.4L205.4 199.6M223.6 241.6L222.8 235.7M1.6 21.1L1.4 25M213.2 134.1L210.4 132.6L206 128.2L200.8 125M220 132.5L223 130.3L231 126.4M228.3 120.1L231.3 124.5M214.8 174.3L211.1 177.7L204.8 180.2M-4 67.4L3.6 62.7M6.8 50.5L5.6 56.7L3.6 62.7M302.8 207L302.1 213.5L299.7 219.5M302.8 207L310.9 203M302.5 225L299.7 219.5M289.9 196.7L284.2 203L281.9 205.6M289.5 218.7L293.5 218L299.7 219.5M335.5 199.3L331.1 196.1M335.5 162.3L331.4 160.4M309.8 170.1L317.5 171.3L325.3 171.3M325.3 171.3L326.8 177.9L329.6 184.2M311.8 188L308.3 184.5M330.2 156.4L323.8 155.5L317.4 154.3L311 154.2M311 154.2L309.9 161.5L308.9 168.9M331.4 160.4L328.4 165.8L325.3 171.3M335.5 181.6L329.6 184.2M331.1 196.1L329.1 185M289.5 172.3L292.1 179.2L294.5 186.1M272.8 186.9L270.7 177.1M270.7 177.1L272.3 174.8M308.9 168.9L300.5 169.7L292.2 168.3M308.3 184.5L301.4 185.4L294.5 186.1M245.3 185.9L250.8 181.9L255.6 177M255.6 177L263.2 176.7L270.7 177.1M335.5 244.1L334.3 244.7L328.7 247.6M328.7 247.6L333.2 253.9L335.5 258M236.7 260.4L231.4 257.8M144.1 176.4L139.3 173.8M236.1 54.9L229.6 59.5L223.3 64.5M235.1 78.2L230.1 77.4M296 58.4L289.9 55.4L283 55.1L276.9 52.3M283 40.4L281 46.1L276.9 52.3M315.3 -3.9L312.1 3.6L308.6 11M295.6 -4L294.6 -1.4M285.2 13L282.6 10.1M294.6 -1.4L288.5 -0.7L282.8 1.2M282.8 1.2L282.6 10.1M233 132.6L231 126.4M194 160.8L193.1 169.1L194.3 177.4M194.3 177.4L204.8 180.2M311 154.2L307.3 148.7M289.9 155.3L290.9 161.8L292.2 168.3M7.3 -4L13.6 -0.7M1.6 21.1L5.7 15.5L11 10.9L16.2 6.4M16.2 6.4L19.2 8.1M19.2 8.1L27.1 7.6L34.9 5.9L42.6 4.4M42.6 4.4L43.2 -0.3M72 -4L70.9 -2.2M66.8 -4L70.9 -2.2M112.5 -4L110.3 -3.4M236.6 49.9L230.1 45L223.3 40.6M236.6 49.9L236.1 54.9M250.3 105.7L243 99M252.6 66.2L255 73.9L256.8 81.9M235.1 78.2L239.7 83.8L244.1 89.6M245.9 119.3L254.1 127.8M254.1 127.8L260.5 125M228.3 120.1L228.2 113.9L228.9 107.8L230.3 101.7M116.5 147.3L108.1 146.8M117.3 147.8L117.4 154.5L116.8 159M108.1 146.8L102.9 151.7L97.3 156.1M108.1 146.8L102.3 141L96.8 134.8M84.6 144.4L84.5 150.3M138.7 132.6L134.4 137L128.9 139.9L124 143.6L119.6 147.9M144.7 136.8L146.9 143.4L147.4 150.3M147.4 150.3L140.2 152.9L133.5 156.9M119.6 147.9L126.1 153L133.5 156.9M157.3 130.9L151.1 134L144.7 136.8M116.5 147.3L115.8 138.4L116.4 129.6M117.3 147.8L119.6 147.9M116.4 129.6L123.2 125.9L130.3 122.9M148.4 176L151.7 170.1L154.7 164L158.8 158.5M158.8 158.5L152.5 155.3L147.4 150.3M132.4 166.6L132.4 163.3L133.5 156.9M193 141.6L187.6 144.2L181.4 144.6L176 147.5L170.3 149.4M194 160.8L186.8 161.2L179.7 163.3L172.4 163.1M172.4 163.1L166.7 157.5M197 148.6L193 141.6M157.3 130.9L163 134.6L168.6 138.3M175.5 112.9L181.8 122.6M186.9 182.2L186.1 192.9M186.9 182.2L180.4 178.5L174.6 173.7M186.1 192.9L180.1 198.1M173 198.4L180.1 198.1M205.1 199.4L198.7 197.6L192.6 194.7L186.1 192.9M172.4 163.1L174.6 173.7M156.1 185.6L164.6 186.5M-3.2 123.3L3 118.9M9.6 94.7L3.3 98.8L-3.3 102.3M24.4 93.9L24.4 94.1L22 100.8M3 118.9L9.8 119.8M22 100.8L23.2 102.5M23.2 102.5L22.6 109.1M14.8 259.5L16 252.8L16.6 246.1M34.9 252.5L27.2 248.2L19.3 244.2M16.6 246.1L19.3 244.2M2.2 212.7L-3.4 209.6L-4 209.4M-0.7 225.1L1 223.2M-0.7 225.1L-4 224.6M-3.1 236.7L-0.7 225.1M4.1 210.6L11.9 208.9L19.9 208.1M19.9 208.1L19.5 201.3L20.7 194.6L20.6 187.8M7.3 187L16.1 184.6M16.1 184.6L20.6 187.8M2.2 212.7L4.1 210.6M17.9 169.8L17.3 177.2L16.1 184.6M34.3 188.5L27.6 189.2L20.6 187.8M17.9 169.8L23.8 165.5M26.1 212L24.3 218.2L24.1 224.7L22.1 230.8M26.1 212L30.4 211.1M30.4 211.1L34.7 213.7M22.6 231.7L29.4 231.1L36.2 231.7L37.5 231.9M19.9 208.1L26.1 212M34.2 205.1L33.7 205.5L30.4 211.1M34.9 252.5L39.2 244.8L40.9 242M299.4 258L300.5 260.4M318.3 249.1L319.3 255.9L318.9 260.4M293.8 239.5L294.1 247.9L295.2 256.2M295.2 256.2L299.4 258M262 247.3L261.7 247.7L256.2 253.8M286.7 260.3L277.9 256.9M253.2 260.4L256.5 255.4M149 200.9L154 204.8L157.6 210.1M173 198.4L167.1 204.1L162.4 211M162.4 211L164.5 214.6M139.5 200.6L133.5 210.7M143.7 223.5L139.5 216.4L133.5 210.7M133.5 210.7L125.6 212.7M223.3 40.6L226.9 32.9L231.4 25.8M282.6 10.1L276.3 13.4L270.8 17.7L265.2 22M269.1 27.6L265.2 22M252.8 66L259.3 67L265.7 64.8L272.3 65.4M252.8 66L255.3 60L255.7 53.4L257.6 47.2M265.8 45.7L271.4 48.6L276.4 52.5M279.4 80L275.1 73.1L272.3 65.4M247 40.1L252.2 43.9L257.6 47.2M294.5 69.4L288.9 72.1L284.2 76.1L279.4 80M280.9 -0.7L280.8 -4M220.2 -4L220.1 -3.5L217.4 2.7M233.9 -4L234.4 -3.7L240.8 -0.2M228.9 20.3L235.3 14.7L240.5 8M228.9 20.3L224.9 18.8M240.8 -0.2L240.5 8M231.4 25.8L228.9 20.3M240.5 8L246.3 12.3L252.7 15.9L258 20.8M265.2 22L260.9 20.2M255.3 158.3L257.2 158.5L263.8 157.9L270.3 158.5M274.1 136.7L272.6 132.7M307.3 148.7L309.6 143L313.8 138.5M328.5 134.7L320.9 135.5L313.8 138.5M91.6 -4L90.2 0.3M70.9 -2.2L73.1 4M73.1 4L79.6 5.7M221.5 96.6L216.2 99.5L211.6 103.4L206.6 106.8M220.6 88.6L215 86.3L210.5 82L204.8 79.8M206.6 106.8L200.5 101.5M200.5 101.5L200.1 92.9L200.6 84.4M204.8 79.8L200.6 84.4M230.1 77.4L225.3 83L220.6 88.6M206.9 114.7L206.6 106.8M204.9 68.6L204.8 79.8M179.5 90.7L182 101.7M179.5 90.7L184.5 84.3M184.5 84.3L192.5 85.3L200.6 84.4M203.3 67.4L196.3 66.6L189.3 68.2L182.4 67.7M217.4 2.7L209.8 6.8L201.9 10.2M198.1 46L205.9 44.2L213.7 42.2M213.7 42.2L212.8 36.1L210.2 30.4L210.2 24.1M194.2 26.9L202.7 20.9M152.9 105.9L151.8 103.5M125.3 112.9L129.1 106.8L132.2 100.3M132.2 100.3L128.9 95.6M43 98.2L36.3 99.4L29.7 100.8L23.2 102.5M39.6 77.6L42.6 78.4M35.4 123.4L31.4 133.9M35.4 123.4L31.7 118.2L27.1 113.7L22.6 109.1M9.8 119.8L10.8 122.5M31.4 133.9L24.1 136.6L19.8 137.3M61.2 148L58.6 155.1L57.9 161.6M46.8 165.5L45.5 162.4L42.7 156.6L39.2 151.1M40.9 146.6L39.2 151.1M78.1 156.3L72.5 153.6L67.3 149.9L61.2 148M84.6 144.4L78.4 140L73.9 134M60.4 136.7L66.9 134.2L73.9 134M60.4 136.7L58.4 141.7M25.9 158L32.2 153.8L39.2 151.1M164.5 214.6L164.2 221.2L161.9 227.6L162.4 234.3M143.5 225.3L151.7 233.9M106.9 255.3L106.5 253M36.5 258L45 260.2L45.4 260.4M113.4 233.2L114.4 235.3L116.8 241.7M122.7 223.8L127.9 227.4L132.9 231.3M116.8 241.7L123.4 243.7L130.2 245.2M130.2 245.2L130.6 238.1L132.9 231.3M125.6 212.7L122.7 223.8M143.5 225.3L138.4 228.7L132.9 231.3M122.5 260.4L125.5 258.2L130 253.1M115.9 260.4L113.3 259.2L106.9 255.3M130 253.1L130.4 245.5M130.4 245.5L137.9 244.6L145.5 244.9M145.5 244.9L148.7 239.5L151.7 233.9M245.8 -3.5L254.2 -2.9L262.7 -2.5M240.8 -0.2L245.8 -3.5M260.9 20.2L262.5 12.7L261.5 5L262.7 -2.5M335.5 110.4L332.7 110L326.1 108.9M328.5 134.7L325.7 127.7L323.9 120.2L319.9 113.7M326.1 108.9L326.3 102.6L326.4 96.4L328.1 90.2M328.1 90.2L320.6 91.6L312.9 91L305.2 91.6M290.1 135.9L293.5 128.1M293.5 128.1L305.2 126.1M293.5 128.1L291.2 122.5M319.9 113.7L313.1 113.3M305.2 126.1L310.1 120.3L313.1 113.3M68.1 22L67.8 21.8L62.2 16.4M43.9 7.4L49.7 10.9L55.8 13.6L61.8 16.5M90.6 61.5L94.7 55.6M102.3 49.3L107.3 49.9M107.3 49.9L112.1 56.2L117.8 61.6M102.8 29.4L109.9 31.1L116.6 34.7M194.3 2.9L187 4.8L180.1 7.9M180.7 18.6L180.1 7.9M175 -4L174.7 -2.1L174.9 4.2M187.2 44.1L186 48.7M179.5 90.7L171.5 88L163.5 85.2M151.8 103.5L153.7 94.8M163.5 85.2L163.2 76.6M109.1 124.6L108 118.4L108.1 117M43.5 121.1L49.5 124.2L55.9 126M43.5 121.1L45.2 114.6L45.8 107.8L47.7 101.3M61.2 103.4L60.5 100.6M60.5 100.6L54.1 101.2L47.7 101.3M60.4 136.7L55.9 126M7.3 50.1L18.4 48.5M18.4 48.5L21.8 55.2L27.6 60.2L31.2 66.8M42.6 78.4L53.6 75.5M154 257.7L158.8 259.5M154 257.7L146.3 259.2L142.9 260.4M145.5 244.9L148.8 251.9L154 257.7M167 238.3L163.4 245.1L160.4 252L158.8 259.5M130 253.1L134.4 257.5L137.4 260.4M179.3 259.9L173.7 260.4M172.2 260.4L165.9 259.1L159.3 260.3M302.4 94.7L302.2 102.6M302.4 94.7L295.7 90.8L288.6 87.7L284.5 86.1M302.2 102.6L294.9 106.7M313.1 113.3L307.7 107.9L302.2 102.6M279.1 81.4L280.9 84.3M96.6 78.8L97.4 74M77.1 80.9L74.9 78.1L72.4 72M53.6 75.5L58.9 68.9M122.5 74.4L121.9 68.3L120.9 62.4M122.5 74.4L127.5 79.2L133.7 82.5M146.3 66.9L144.2 74L140.9 80.5M146.3 66.9L140 65.7L133.6 64.9L127.4 63.4L121.1 62.3M133.7 82.5L140.9 80.5M117.8 61.6L120.9 62.4M112.5 92.6L110.6 89.9M174.9 4.2L167.5 3.8L160.2 5.1M180.7 18.6L175.5 22.3L174.8 23.2M160.2 5.1L156.5 11.4M156.5 11.4L161.1 18.8L165.8 26.2M167.9 26.6L165.8 26.2M118.3 34.2L124.4 39.8L130.6 45.4M96.9 132.8L94.5 129.3M73.9 134L76.4 128.9M2.8 26.4L9.1 27.2L15.5 27.2L21.8 28.2M18.4 48.5L25.1 41.5M19.2 8.1L22 15.8L24.7 23.7M21.8 28.2L24.7 23.7M43.9 7.4L40.7 14.4L38 21.5M24.7 23.7L31.3 21.9L38 21.5M31.2 66.8L35.7 62.7L39.9 58.4L43.3 53.2M25.1 41.5L36.3 41.7M52.9 32.9L43.4 32.5M140.2 21.9L144.1 16.3M144.1 16.3L141.1 9.4L137.2 2.8L134.3 -4M121.9 16.9L121.9 10.6L123.1 4.4L125.3 -1.5M121.9 16.9L124.8 20.8M142.9 30L148.4 33.3L153.2 37.5M118.3 34.2L120.5 27L124.8 20.8M120.3 -4L125.3 -1.5M104.1 13.2L110.1 14.2L116.2 14.8L121.9 16.9M154 40.3L149 46L145.2 52.5M154 40.3L159.1 43.8L162.1 45.8M145.2 52.5L146.8 59L148.6 65.4M148.6 65.4L150.7 65.7M130.8 46.6L138.2 49L145.2 52.5M163.2 76.6L157.5 70.5L150.7 65.7M146.3 66.9L148.6 65.4M53.7 54.6L56.3 46.5L56.5 42.9" fill="none" stroke="#e8c2ce" stroke-width="0.8"/>
<path d="M37.7 174.3L31.8 172.9L25.4 171.4M25.4 171.4L20.8 176.5L18.5 183M34.1 202.3L31.9 201.4L24.4 201.6M24.4 201.6L24.2 194.8L20.2 189.3L18.5 183M25.4 171.4L22.3 163.9L20.6 155.9M-4 182.4L-0.2 182.6L6.1 182.2L12.3 183.2L18.5 183M20.6 155.9L14.2 155.3M-4 8L0.2 5.1M0.2 5.1L2.3 -3.7M-4 209.8L-2.9 209.8L4 207.9L10.9 207.6L17.9 209.7M17.9 209.7L18.1 215.8L22.3 221.1L20 227.8L21.1 233.8L24.4 239.3M13.7 245L20.8 244M24.4 201.6L17.9 209.7M37.9 233.5L35.5 234.1L30.7 239.3L24.4 239.3M324.7 143.3L324.9 139.7M312.8 73.1L311.4 66.7L312.5 60.1L311.2 53.6M311.2 53.6L320.8 48.3M303.1 -1.6L304.4 -4M303.1 -1.6L303.6 3.3M303.6 3.3L308.1 8.4L314.9 9.8L319.5 14.8L325.8 17M335.5 14L332.7 15L325.8 17M300.3 -4L303.1 -1.6M155.3 126.7L147.9 128.1L140.6 127L133.3 126.4M155.3 126.7L155.8 119.8L154.5 113L153.9 106.1L156.7 99.2L154.8 92.4M111.8 91.9L111.3 101.5M158.5 129.4L155.3 126.7M90.2 130.5L90.4 131L96.5 134.6L97.3 141.8L102.6 145.8M116.7 144.8L109.7 146.8L102.6 145.8M20.6 155.9L23.7 149L29.1 144L34.5 138.9M61.6 157.4L57.2 152.4L51.9 148.6L45.6 146.2L39.4 143.8L34.9 138.9M71.7 126.2L69.1 126.1L63.6 122.3L57.5 121L51.2 121.3M6 118.6L1.2 114L0.2 107.1L-4 103.3M324.7 143.3L319.1 148.6L312.7 152.8L306.6 157.4M279.4 132.4L279.2 134.5L282 141.4M282 141.4L287.1 146.9L295 148.3L301 152.5L306.6 157.4M260.1 124.5L255 121.6L248.5 122.1M282 141.4L276.5 145.2L274.8 152.4L270 156.8L264.6 160.7M264.6 160.7L259.2 157.7L255.5 157.2M204.8 103.5L208.8 108.4L214.3 111.2L220.4 113.1L223.9 118.7L229.1 121.9L234.8 124.3L239.5 128.3M204.8 103.5L198.5 109.4L194.5 117.1M269.8 174.3L266.7 167.7L264.6 160.7M269.8 174.3L276.2 177.5L283.8 175.6L290.1 179.2L296.9 180.2M136.1 248.9L130.1 247.4L124 248.2L118 247L111.9 248.3L107.7 247.4M227.8 176.4L221.7 175.7L215.8 177L210 179.5L203.9 178.7L197.9 179.5M186.1 163.4L190.7 168.3L194.5 173.7L197.9 179.5M160.4 141.2L164.9 145.5L169.4 149.7L173.3 154.5L178.8 157.6L182.3 162.9M154.8 92.4L161.3 90.6L167.7 88.3L175 90.9L181.4 88.4L187.9 86.5M148.3 85.3L150.1 79L154.8 74L154.8 66.9L158.7 61.5L161.8 55.7M248.5 122.1L248.7 115L249.5 108.1L252.7 101.7L255.9 95.3L255.8 88.1M266 82L255.8 88.1M255.8 88.1L248.5 88.6L242.3 84.5L235.2 83.9L228.9 80.4L221.8 79.9M243.6 -4L243.8 -2.3L248.7 2.1M262.3 -4L259.8 -0.9L255.7 3.7M255.7 3.7L248.7 2.1M248.7 2.1L242.1 3.4L238.6 10.1L232.3 11.8L226.5 14.4M199.4 40.9L206.1 38.5L213.1 36.7L219.1 32.6L225.3 29.1M199.4 40.9L199 47.1M240.7 46.1L237.1 39L229.5 35.6L225.3 29.1M134.6 38.5L132 32.7L130.6 26.6L126.6 21.3L126.5 14.7M126.5 14.7L132.1 10.6L138.9 9.5L145.4 7.5L151.2 4L157.6 1.8L163.7 -1M156.3 45L159.6 39.8L163.5 36.2M181.3 12.3L181.3 18.2M161.8 55.7L159.4 50.2L156.3 45M121.5 11.4L126.5 14.7M121.5 11.4L120.6 5.2L121.9 -0.9L121.4 -4M199.4 40.9L194.7 35.3L189.6 30.2L186 23.7L181.3 18.2M203.4 -1.8L197.5 1.2L191.4 3.9L186.4 8.1L181.3 12.3M121.5 11.4L119.4 11.7M52.5 -4L53.7 -3.8L59.8 -4M39.1 -4L40 1.2L39 7.5L38.3 13.7L42.6 19.6L41 25.9M16.2 35.1L14.1 39.7M295 208L301.8 209.4L308.5 210.8L314.2 215.6L321.4 215.4M295 208L296.3 201.1L297.9 194.3L296.1 187.1L296.9 180.2M335.5 201.3L334.4 202.2L330.9 207.5L326.6 211.9L321.4 215.4M215.5 209.9L220.7 204.6L222.4 196.7L230.1 193.2L232.7 186M227.8 176.4L232.7 186M201.7 209.3L193.6 201.3M284.8 235.2L283.6 240M283.6 240L277.9 242.3L276.7 242.1M257 247.8L254.7 249.9L248.4 250.2M269.8 174.3L265.1 179.2L260.9 184.4L259.2 191.6L253.5 195.8M295 208L289.3 211.8L287.8 213.5M228.9 240.4L222.6 240.8L216.7 245.5L210 247.8M210 247.8L203.6 247L199 242L192.9 240.5M174.5 252.1L173 258.3L172.7 260.4M168.1 217.1L172.1 210.4L176.2 203.7M176.2 203.7L172.8 196.4L165.2 192.5L161.3 185.6M134.7 210.4L137.5 204.2L139.2 199.5M142.2 184.6L148.3 183.8L154.7 186.6L161.3 185.6M143.8 241.4L142 234.3L142.1 227.2L143.5 220.1M174.5 252.1L182.2 243.4M182.2 243.4L178.7 236.8L175.6 230L169.7 224.7L168.1 217.1M193.6 201.3L185 203.1L176.2 203.7M125.8 211.8L128.1 211.1L134.7 210.4M267.1 24.6L263.6 29.8L260 35L257 40.5L254 46.1M267.1 24.6L272.5 23.6M302.4 49.7L296.7 52.7L291.6 56.9L285.4 59.1L278.8 60.2L273.5 64.1L267.5 66.5M267.5 66.5L262.6 62.4L262.5 55.1L257.8 50.9L254 46.1M255.7 3.7L259.6 10.6L264.4 17L267.1 24.6M240.7 46.1L247.4 47.2L254 46.1M303.6 3.3L299.7 8.7L298 12.8M74.7 -4L75.3 1.3L75.7 8L76.6 14.6L74.4 19.8M119.4 11.7L114.3 15.4L109.4 19.2L105.4 24.4L100.1 26.2M41 25.9L45.7 29.9L49.3 35.1L55.1 37.8M84.7 58.7L82.4 60.5L78.3 67.4M111.8 91.9L107.5 92M81.3 79.5L79.6 75.3L78.3 67.4M11.9 72.6L12.9 70.6L18 65L22.9 59.3M28.8 93.3L31.1 96.6M22.9 59.3L29.2 60.4L35.5 61.6L41.7 62.9L48.2 61.8M15.5 117.6L18.8 111.9L23.4 107.2L26.4 101.3L31.1 96.6M62.7 96.1L57.5 94.9L51.3 91.5L44.8 92.9M51.2 121.3L48.6 114.8L48.9 107.4L43.8 101.7L42.7 94.8M321.4 215.4L324.9 222.1L325.7 229.4L325.6 236.9M335.5 242.5L330 241.1L325.6 236.9M288.9 260.4L289 260.1L290.6 254.3L291.9 248.3M283.6 240L291.9 248.3M335.5 252.1L332.9 257.4L330.9 260.4" fill="none" stroke="#ebc2ce" stroke-width="4" stroke-linejoin="round" stroke-linecap="round"/>
<path d="M-4 163.2L-0.1 159.8L2 155.4M-4 232.2L-2.4 233L1.4 239.4L7.4 242.5L13.7 245M24.4 239.3L20.8 244M-2.6 260.4L-2.1 259.7L2.3 254L7.6 249.1L13.7 245M30.6 260.4L25.9 256.3L22.1 250.8L20.8 244M335.5 132.7L335.2 132.8L330.4 136.7L324.9 139.7M335.5 95.8L332.2 101.6L326.4 104.6L320.8 107.9L315.5 111.6L312.3 117.4M324.7 143.3L330.9 146.6L335.5 150.8M335.5 95.8L334.6 88.6M294.8 110.5L300.7 112L306.6 114.5L312.3 117.4M292.3 95.8L296.4 93.3L300.9 88.6L304.3 83L309.3 78.8L312.8 73.1M334.6 88.6L328.7 85.3L323 81.9L318.8 76.1L312.8 73.1M335.5 49.2L332.8 49.7L326.8 48.1L320.8 48.3M111.8 91.9L115.8 85.6L121.6 81M154.8 92.4L148.3 85.3M121.6 81L128.1 83.4L135.1 82.6L141.4 85.9L148.3 85.3M111.3 101.5L116.8 105.5L118.6 112.7L125.4 115.6L129.5 120.8L133.3 126.4M158.5 129.4L160.4 141.2M160.4 141.2L158 147.6L151 150.5L148.7 157L146 163.2L140.4 167.1L137.2 171M133.3 126.4L128.9 130.8L124.4 135.1L121.9 141.2L116.7 144.8M131.6 166.1L128.7 161L125.5 155L120.2 150.6L116.7 144.8M6 118.6L15.5 117.6M15.5 117.6L21 122.2L24 129.2L31.3 132.2L34.5 138.9M61.6 157.4L62.6 150.5L66.4 144.7L70.6 139.2L72.1 132.4L74.5 128M51.2 121.3L45.1 126.5L40.8 133.5L34.9 138.9M62.4 160.3L61.6 157.4M-4 87.8L-1.3 85L-0.6 78.2M-4 75.9L-0.6 78.2M248.5 122.1L239.5 128.3M239.5 128.3L238.5 134M194.5 117.1L197.9 122.8L198.8 129.1L197.2 136L201.4 141.6L201.4 141.6M306.6 157.4L304.9 163.3L302 169L302.4 175.5M296.9 180.2L302.4 175.5M302.4 175.5L308.3 179.9L315.1 182.2L322.5 182.7L328.4 187.1L335.5 188.7M136.3 260.4L138.4 254.8L136.1 248.9M158.5 129.4L164 126.1L170.4 125L176.5 123.3L182.4 121.1L188 117.8L194.5 117.1M186.1 163.4L182.3 162.9M204.8 103.5L204.6 98.2M204.6 98.2L199.3 93.9L193.1 91L187.9 86.5M269.4 84.1L266 82M204.6 98.2L208.6 93.4L212.1 88L218.5 85.5L221.8 79.9M184 61.6L189.1 59L193.4 52.4L199 47.1M199 47.1L204.2 50.8L206.7 57.4L213.9 59.1L215.8 66.3L221.8 69.3M204.8 -4L203.4 -1.8M203.4 -1.8L210.4 0.6L215.8 5.1L221.7 9L226.5 14.4M221.8 69.3L227.5 64.3L232.4 58.6L237.6 53.2L240.7 46.1M134.6 38.5L141.8 40.6L148.6 44.5L156.3 45M177.4 24.2L178.4 23.8L181.3 18.2M163.7 -1L169.6 3.3L175.1 8.3L181.3 12.3M118.9 60.1L123.8 55.4L128.4 50.5L132.3 45.1L134.6 38.5M118.9 60.1L119.3 67.1L122.1 73.8L121.6 81M163.3 -4L163.7 -1M226.5 14.4L225.2 21.7L225.3 29.1M85.7 -4L89 -1L94.9 2L101.6 3.2L108.4 4.2L114.1 7.5L119.4 11.7M102.6 145.8L98.3 150.4L98.9 157M16.2 35.1L22.7 33.6L28.9 31.4L34.3 26.9L41 25.9M-4 46.2L-0.1 46L6.7 41.9L14.1 39.7M215.5 209.9L220.4 213.1M232.7 186L240.2 188.1L246.1 193.7L253.5 195.8M201.7 209.3L208.7 208.2L215.5 209.9M197.9 179.5L195.2 186.5L193.4 193.7L193.6 201.3M246 247.3L248.4 250.2M201.7 209.3L201.2 216L198.1 221.8L198.3 228.6L192.8 233.8L192.9 240.5M136.1 248.9L143.8 241.4M143.8 241.4L149.3 245.5L156.7 243.9L161.9 248.6L168.1 250.8L174.5 252.1M168.1 217.1L162 217.6L155.6 217L149.6 219.2L143.5 220.1M134.7 210.4L139.8 214.5L143.5 220.1M182.2 243.4L192.9 240.5M182.3 162.9L177.4 166.8L174.7 172.7L170.4 177.2L166.4 182L161.3 185.6M302.4 49.7L298.8 43.8L296.6 41.6M311.2 53.6L302.4 49.7M266 82L268.2 74.4L267.5 66.5M118.9 60.1L113.1 57.1L107.3 54.2L100.2 54.4L98.4 53.2M55.1 37.8L53.5 44L54.8 50.5L53.6 56.8M48.2 61.8L48.6 68.1L46.2 74.1L47.4 80.6L44.6 86.5L44.8 92.9M31.1 96.6L42.7 94.8M42.7 94.8L44.8 92.9M-0.6 78.2L6.3 77.7M14.1 39.7L16.2 46.6L19.4 53.1L22.9 59.3M53.6 56.8L48.2 61.8M291.9 248.3L296.5 249.3M248.4 250.2L250.3 256.3L248.1 260.4M210 247.8L211.3 253.8L211.8 259.8L211.6 260.4M325.6 236.9L319.3 238.2L314.4 242.9L308.1 244.2L302.9 248.2L296.5 249.3M37.7 174.3L31.8 172.9L25.4 171.4M25.4 171.4L20.8 176.5L18.5 183M34.1 202.3L31.9 201.4L24.4 201.6M24.4 201.6L24.2 194.8L20.2 189.3L18.5 183M25.4 171.4L22.3 163.9L20.6 155.9M-4 182.4L-0.2 182.6L6.1 182.2L12.3 183.2L18.5 183M20.6 155.9L14.2 155.3M-4 8L0.2 5.1M0.2 5.1L2.3 -3.7M-4 209.8L-2.9 209.8L4 207.9L10.9 207.6L17.9 209.7M17.9 209.7L18.1 215.8L22.3 221.1L20 227.8L21.1 233.8L24.4 239.3M13.7 245L20.8 244M24.4 201.6L17.9 209.7M37.9 233.5L35.5 234.1L30.7 239.3L24.4 239.3M324.7 143.3L324.9 139.7M312.8 73.1L311.4 66.7L312.5 60.1L311.2 53.6M311.2 53.6L320.8 48.3M303.1 -1.6L304.4 -4M303.1 -1.6L303.6 3.3M303.6 3.3L308.1 8.4L314.9 9.8L319.5 14.8L325.8 17M335.5 14L332.7 15L325.8 17M300.3 -4L303.1 -1.6M155.3 126.7L147.9 128.1L140.6 127L133.3 126.4M155.3 126.7L155.8 119.8L154.5 113L153.9 106.1L156.7 99.2L154.8 92.4M111.8 91.9L111.3 101.5M158.5 129.4L155.3 126.7M90.2 130.5L90.4 131L96.5 134.6L97.3 141.8L102.6 145.8M116.7 144.8L109.7 146.8L102.6 145.8M20.6 155.9L23.7 149L29.1 144L34.5 138.9M61.6 157.4L57.2 152.4L51.9 148.6L45.6 146.2L39.4 143.8L34.9 138.9M71.7 126.2L69.1 126.1L63.6 122.3L57.5 121L51.2 121.3M6 118.6L1.2 114L0.2 107.1L-4 103.3M324.7 143.3L319.1 148.6L312.7 152.8L306.6 157.4M279.4 132.4L279.2 134.5L282 141.4M282 141.4L287.1 146.9L295 148.3L301 152.5L306.6 157.4M260.1 124.5L255 121.6L248.5 122.1M282 141.4L276.5 145.2L274.8 152.4L270 156.8L264.6 160.7M264.6 160.7L259.2 157.7L255.5 157.2M204.8 103.5L208.8 108.4L214.3 111.2L220.4 113.1L223.9 118.7L229.1 121.9L234.8 124.3L239.5 128.3M204.8 103.5L198.5 109.4L194.5 117.1M269.8 174.3L266.7 167.7L264.6 160.7M269.8 174.3L276.2 177.5L283.8 175.6L290.1 179.2L296.9 180.2M136.1 248.9L130.1 247.4L124 248.2L118 247L111.9 248.3L107.7 247.4M227.8 176.4L221.7 175.7L215.8 177L210 179.5L203.9 178.7L197.9 179.5M186.1 163.4L190.7 168.3L194.5 173.7L197.9 179.5M160.4 141.2L164.9 145.5L169.4 149.7L173.3 154.5L178.8 157.6L182.3 162.9M154.8 92.4L161.3 90.6L167.7 88.3L175 90.9L181.4 88.4L187.9 86.5M148.3 85.3L150.1 79L154.8 74L154.8 66.9L158.7 61.5L161.8 55.7M248.5 122.1L248.7 115L249.5 108.1L252.7 101.7L255.9 95.3L255.8 88.1M266 82L255.8 88.1M255.8 88.1L248.5 88.6L242.3 84.5L235.2 83.9L228.9 80.4L221.8 79.9M243.6 -4L243.8 -2.3L248.7 2.1M262.3 -4L259.8 -0.9L255.7 3.7M255.7 3.7L248.7 2.1M248.7 2.1L242.1 3.4L238.6 10.1L232.3 11.8L226.5 14.4M199.4 40.9L206.1 38.5L213.1 36.7L219.1 32.6L225.3 29.1M199.4 40.9L199 47.1M240.7 46.1L237.1 39L229.5 35.6L225.3 29.1M134.6 38.5L132 32.7L130.6 26.6L126.6 21.3L126.5 14.7M126.5 14.7L132.1 10.6L138.9 9.5L145.4 7.5L151.2 4L157.6 1.8L163.7 -1M156.3 45L159.6 39.8L163.5 36.2M181.3 12.3L181.3 18.2M161.8 55.7L159.4 50.2L156.3 45M121.5 11.4L126.5 14.7M121.5 11.4L120.6 5.2L121.9 -0.9L121.4 -4M199.4 40.9L194.7 35.3L189.6 30.2L186 23.7L181.3 18.2M203.4 -1.8L197.5 1.2L191.4 3.9L186.4 8.1L181.3 12.3M121.5 11.4L119.4 11.7M52.5 -4L53.7 -3.8L59.8 -4M39.1 -4L40 1.2L39 7.5L38.3 13.7L42.6 19.6L41 25.9M16.2 35.1L14.1 39.7M295 208L301.8 209.4L308.5 210.8L314.2 215.6L321.4 215.4M295 208L296.3 201.1L297.9 194.3L296.1 187.1L296.9 180.2M335.5 201.3L334.4 202.2L330.9 207.5L326.6 211.9L321.4 215.4M215.5 209.9L220.7 204.6L222.4 196.7L230.1 193.2L232.7 186M227.8 176.4L232.7 186M201.7 209.3L193.6 201.3M284.8 235.2L283.6 240M283.6 240L277.9 242.3L276.7 242.1M257 247.8L254.7 249.9L248.4 250.2M269.8 174.3L265.1 179.2L260.9 184.4L259.2 191.6L253.5 195.8M295 208L289.3 211.8L287.8 213.5M228.9 240.4L222.6 240.8L216.7 245.5L210 247.8M210 247.8L203.6 247L199 242L192.9 240.5M174.5 252.1L173 258.3L172.7 260.4M168.1 217.1L172.1 210.4L176.2 203.7M176.2 203.7L172.8 196.4L165.2 192.5L161.3 185.6M134.7 210.4L137.5 204.2L139.2 199.5M142.2 184.6L148.3 183.8L154.7 186.6L161.3 185.6M143.8 241.4L142 234.3L142.1 227.2L143.5 220.1M174.5 252.1L182.2 243.4M182.2 243.4L178.7 236.8L175.6 230L169.7 224.7L168.1 217.1M193.6 201.3L185 203.1L176.2 203.7M125.8 211.8L128.1 211.1L134.7 210.4M267.1 24.6L263.6 29.8L260 35L257 40.5L254 46.1M267.1 24.6L272.5 23.6M302.4 49.7L296.7 52.7L291.6 56.9L285.4 59.1L278.8 60.2L273.5 64.1L267.5 66.5M267.5 66.5L262.6 62.4L262.5 55.1L257.8 50.9L254 46.1M255.7 3.7L259.6 10.6L264.4 17L267.1 24.6M240.7 46.1L247.4 47.2L254 46.1M303.6 3.3L299.7 8.7L298 12.8M74.7 -4L75.3 1.3L75.7 8L76.6 14.6L74.4 19.8M119.4 11.7L114.3 15.4L109.4 19.2L105.4 24.4L100.1 26.2M41 25.9L45.7 29.9L49.3 35.1L55.1 37.8M84.7 58.7L82.4 60.5L78.3 67.4M111.8 91.9L107.5 92M81.3 79.5L79.6 75.3L78.3 67.4M11.9 72.6L12.9 70.6L18 65L22.9 59.3M28.8 93.3L31.1 96.6M22.9 59.3L29.2 60.4L35.5 61.6L41.7 62.9L48.2 61.8M15.5 117.6L18.8 111.9L23.4 107.2L26.4 101.3L31.1 96.6M62.7 96.1L57.5 94.9L51.3 91.5L44.8 92.9M51.2 121.3L48.6 114.8L48.9 107.4L43.8 101.7L42.7 94.8M321.4 215.4L324.9 222.1L325.7 229.4L325.6 236.9M335.5 242.5L330 241.1L325.6 236.9M288.9 260.4L289 260.1L290.6 254.3L291.9 248.3M283.6 240L291.9 248.3M335.5 252.1L332.9 257.4L330.9 260.4" fill="none" stroke="#e2adc0" stroke-width="1" stroke-linejoin="round"/>
<path d="M25.4 171.4h0M24.4 201.6h0M18.5 183h0M20.6 155.9h0M0.2 5.1h0M204.8 103.5h0M194.5 117.1h0M13.7 245h0M24.4 239.3h0M20.8 244h0M324.9 139.7h0M312.3 117.4h0M312.8 73.1h0M311.2 53.6h0M155.3 126.7h0M111.8 91.9h0M154.8 92.4h0M6 118.6h0M248.5 122.1h0M239.5 128.3h0M160.4 141.2h0M303.1 -1.6h0M325.8 17h0M118.9 60.1h0M121.6 81h0M148.3 85.3h0M161.8 55.7h0M121.5 11.4h0M133.3 126.4h0M102.6 145.8h0M61.6 157.4h0M15.5 117.6h0M51.2 121.3h0M34.5 138.9h0M34.9 138.9h0M-0.6 78.2h0M282 141.4h0M269.8 174.3h0M264.6 160.7h0M295 208h0M296.9 180.2h0M302.4 175.5h0M136.1 248.9h0M143.8 241.4h0M201.7 209.3h0M186.1 163.4h0M182.3 162.9h0M199.4 40.9h0M203.4 -1.8h0M199 47.1h0M204.6 98.2h0M266 82h0M255.8 88.1h0M221.8 79.9h0M255.7 3.7h0M248.7 2.1h0M240.7 46.1h0M226.5 14.4h0M225.3 29.1h0M134.6 38.5h0M163.7 -1h0M181.3 12.3h0M181.3 18.2h0M119.4 11.7h0M16.2 35.1h0M14.1 39.7h0M321.4 215.4h0M283.6 240h0M248.4 250.2h0M215.5 209.9h0M253.5 195.8h0M174.5 252.1h0M182.2 243.4h0M267.1 24.6h0M302.4 49.7h0M267.5 66.5h0M254 46.1h0M53.6 56.8h0M78.3 67.4h0M48.2 61.8h0M31.1 96.6h0M42.7 94.8h0M44.8 92.9h0M325.6 236.9h0M291.9 248.3h0" stroke="#ebc2ce" stroke-width="8" stroke-linecap="round"/>
<path d="M3 265C5 258.3 10.8 238.3 15 225C19.2 211.7 22.2 195.5 28 185C33.8 174.5 41.6 168 49.6 162C57.6 156 67 151.8 75.7 149C84.4 146.2 93.5 145.3 101.8 145C110.1 144.7 118.1 144.8 125.7 147C133.3 149.2 142.4 153.3 147.5 158C152.6 162.7 155.4 168.7 156.2 175C156.9 181.3 155.5 190.2 152 196C148.5 201.8 140.2 204.7 135 210C129.8 215.3 124.3 222.7 121 228C117.7 233.3 116.3 235.8 115 242C113.7 248.2 113.3 261.2 113 265" fill="none" stroke="#f3b5c3" stroke-width="17" stroke-linejoin="round"/>
<path d="M3 265C5 258.3 10.8 238.3 15 225C19.2 211.7 22.2 195.5 28 185C33.8 174.5 41.6 168 49.6 162C57.6 156 67 151.8 75.7 149C84.4 146.2 93.5 145.3 101.8 145C110.1 144.7 118.1 144.8 125.7 147C133.3 149.2 142.4 153.3 147.5 158C152.6 162.7 155.4 168.7 156.2 175C156.9 181.3 155.5 190.2 152 196C148.5 201.8 140.2 204.7 135 210C129.8 215.3 124.3 222.7 121 228C117.7 233.3 116.3 235.8 115 242C113.7 248.2 113.3 261.2 113 265" fill="none" stroke="#e6a0b4" stroke-width="12.8" stroke-dasharray="1.2 2.8" opacity="0.5"/>
<path d="M3 265C5 258.3 10.8 238.3 15 225C19.2 211.7 22.2 195.5 28 185C33.8 174.5 41.6 168 49.6 162C57.6 156 67 151.8 75.7 149C84.4 146.2 93.5 145.3 101.8 145C110.1 144.7 118.1 144.8 125.7 147C133.3 149.2 142.4 153.3 147.5 158C152.6 162.7 155.4 168.7 156.2 175C156.9 181.3 155.5 190.2 152 196C148.5 201.8 140.2 204.7 135 210C129.8 215.3 124.3 222.7 121 228C117.7 233.3 116.3 235.8 115 242C113.7 248.2 113.3 261.2 113 265" fill="none" stroke="#f5ccd5" stroke-width="3.4" opacity="0.6"/>
<path d="M155 185C152.8 188.8 146.7 200.8 142 208C137.3 215.2 130.8 221.3 127 228C123.2 234.7 120.7 241.8 119 248C117.3 254.2 117.3 262.2 117 265" fill="none" stroke="#f3b5c3" stroke-width="22" stroke-linejoin="round"/>
<path d="M155 185C152.8 188.8 146.7 200.8 142 208C137.3 215.2 130.8 221.3 127 228C123.2 234.7 120.7 241.8 119 248C117.3 254.2 117.3 262.2 117 265" fill="none" stroke="#e6a0b4" stroke-width="16.5" stroke-dasharray="1.2 2.8" opacity="0.5"/>
<path d="M155 185C152.8 188.8 146.7 200.8 142 208C137.3 215.2 130.8 221.3 127 228C123.2 234.7 120.7 241.8 119 248C117.3 254.2 117.3 262.2 117 265" fill="none" stroke="#f5ccd5" stroke-width="4.4" opacity="0.6"/>
<ellipse cx="172.4" cy="167.2" rx="8" ry="13" fill="#f1e9e3" stroke="#f3b5c3" stroke-width="4.5"/>
<ellipse cx="172.4" cy="167.2" rx="14.2" ry="19.2" fill="none" stroke="#e2adc0" stroke-width="1"/>
<path d="M18.8 179.9h0M23.2 197.7h0M22.3 191.4h0M22.9 194.5h0M0.3 156.4h0M20.8 159.1h0M1 183.1h0M18.6 182h0M-0.9 182.5h0M14.9 154.3h0M-0.9 6.5h0M-0.5 209.8h0M0.2 207.8h0M9.2 207.5h0M0.3 237.4h0M10.6 243.7h0M17.2 211.9h0M20.3 218.4h0M20.6 234.5h0M19.6 243.4h0M17.1 244.3h0M1.7 256.1h0M32.6 237.5h0M23.6 251.8h0M332.1 136.4h0M324.9 106.3h0M316.2 111.5h0M329.5 145.4h0M332.6 150.4h0M304.3 113.2h0M305.4 114.4h0M300 110.8h0M312.3 73.1h0M310.2 76.8h0M300.2 89h0M323.8 83.8h0M323 79.9h0M326 84.1h0M333.2 48.7h0M312.1 65.3h0M321.1 49.3h0M310.7 52.7h0M304.3 2.9h0M312.9 8.5h0M153.7 126.1h0M149.9 128.3h0M154.1 114.9h0M156.4 99.9h0M155.2 112.3h0M156.1 102.3h0M111.7 93h0M114.2 89h0M119.6 82.9h0M150.4 86.9h0M151.8 89.8h0M135.6 82.8h0M130.7 81.9h0M134.6 81.8h0M159.6 135.8h0M156.8 127.4h0M139.1 167.5h0M139 170.4h0M151.6 151.2h0M143 164.2h0M152.4 149.3h0M143.5 163.2h0M117.3 143h0M127 133.2h0M117.5 144.1h0M91.7 132.3h0M94.4 132.6h0M90.6 130.5h0M100.2 144.9h0M21.3 153.1h0M20.2 153.7h0M33.7 139.6h0M12.4 119h0M33.5 135.5h0M35.4 138.5h0M71.9 135.6h0M71.1 132.7h0M53.7 151.2h0M54.3 149.3h0M56 120.1h0M45.6 124.9h0M46.6 124.8h0M45.9 125.7h0M5.2 117.3h0M319.8 147h0M316.9 149.6h0M279 133.7h0M296.9 148.3h0M297.9 150.4h0M295.2 148h0M239.6 128.3h0M243.3 125.6h0M277.2 145.3h0M279.4 142.8h0M262.1 157.8h0M212.6 109.9h0M224 118h0M239.4 128.3h0M217.1 112.4h0M201 107.5h0M194.9 115.9h0M197.9 124.3h0M199.5 130.4h0M197.8 124.7h0M197.2 137.3h0M198.7 129.5h0M266.2 161.5h0M270.2 171.8h0M275.5 177.2h0M290.4 178.2h0M291.4 179.1h0M300.8 176h0M320.8 182.2h0M128.9 248.8h0M212.9 177.5h0M220.2 176.9h0M217.7 176.1h0M205.6 179.4h0M203.1 179.9h0M216.4 176h0M190.4 168h0M178.9 121.7h0M190.6 118.1h0M160.7 128.6h0M168.3 148.9h0M186.6 86.7h0M163 90.7h0M153.3 75.8h0M150.5 78.1h0M152.6 76.6h0M267 83.6h0M256 87.8h0M249.1 115.8h0M253.9 99.2h0M263.6 84.5h0M208.1 95.6h0M232.1 82.8h0M191.4 55.5h0M211.7 58.5h0M204.6 52h0M216.9 65.2h0M259.7 0.7h0M205.7 -1.2h0M218.4 7.6h0M232 12.6h0M230.5 12h0M246.8 2.7h0M200.4 41.1h0M208.7 37.7h0M200.9 41.1h0M210.3 36.8h0M203.1 39h0M231.2 60.2h0M235.5 55.2h0M229.3 62.9h0M223.4 67.8h0M227.8 30.6h0M130.5 24.2h0M131.3 28.6h0M154.7 2.4h0M147 7.3h0M136.1 11.1h0M179.5 20.1h0M177.6 9.6h0M171 4.4h0M179.3 12.5h0M126.3 53.1h0M122.5 75.1h0M121.9 75.3h0M158.7 48.4h0M155.9 46.9h0M121.6 2.6h0M162.8 -1.1h0M189.2 28.7h0M192.2 3.2h0M225.5 27h0M100.1 4.1h0M108.8 4.4h0M39.4 15.2h0M42.5 22.9h0M40.6 24.2h0M39.7 5.1h0M31.8 28.1h0M28.6 31.3h0M22.3 32.8h0M40.8 25.2h0M3 45.1h0M6.9 42.9h0M305.8 210.9h0M295.5 183.8h0M297.8 195.1h0M215 208.8h0M228.5 194.8h0M221.8 203.6h0M248.1 195h0M243.8 192.4h0M207 207.7h0M197.2 205.9h0M285 239.7h0M247.8 248.5h0M283.2 240.1h0M267.5 176.6h0M268.6 177.3h0M259.8 185.2h0M259.6 186.5h0M200.7 212.5h0M201.1 212.2h0M196 230.7h0M193.5 234.4h0M217.4 245.4h0M216.4 245.1h0M198.6 240.7h0M161.2 217.5h0M163.2 216.3h0M174.1 196.1h0M175.7 203.1h0M164.8 192.1h0M163.6 187.8h0M142.3 217.8h0M139.4 213.2h0M136.4 205.7h0M147.3 183.4h0M155.8 186.1h0M155.6 185.6h0M154.8 185.6h0M142.8 240.6h0M144.1 223.6h0M143.5 239.8h0M142.4 234h0M177.1 248.4h0M179.6 246.8h0M178.1 234.7h0M177.4 237.5h0M178.2 236.7h0M174.9 229.4h0M180.4 237.9h0M192.1 239.8h0M181.9 163.1h0M176.3 168.8h0M130.6 211.9h0M256.9 40h0M255.5 42.2h0M298.8 44.3h0M284.9 58.4h0M301.2 51.6h0M256 50.8h0M264.1 65.2h0M267.1 66.6h0M298.9 9.2h0M299.4 11.1h0M269.3 75.2h0M268 75.9h0M267.3 78.6h0M119.3 10.8h0M105.4 24.8h0M45.7 30.9h0M112.5 56.6h0M53.5 40.4h0M55.4 50.2h0M80 64h0M84 60.5h0M13 71.3h0M17.4 66h0M13.5 68.7h0M23.7 60.7h0M43.7 88.3h0M47 82.9h0M47.4 77.6h0M44.6 94.7h0M15.3 39.9h0M16.4 49.3h0M16.8 113.5h0M19.7 111.2h0M24.1 105.2h0M21.7 107.8h0M51 90.9h0M43.3 99.6h0M48.7 112.4h0M48.7 112.1h0M324.4 221.2h0M329.3 239.9h0M327.5 237.7h0M291.5 254.1h0M288.9 256.8h0M295.8 249.7h0M284.2 239.9h0M249.9 255.5h0M210.3 250h0M333.9 252.7h0M323.4 238h0M306.2 246.5h0M320.5 237.4h0M320.8 237.4h0M318.4 238.6h0M24.9 169.6h0M27.7 198.4h0M15.8 180.3h0M21.9 159.9h0M10.1 248.5h0M24.4 236.4h0M156.6 126.8h0M112.7 90.1h0M5.4 117.8h0M252.1 124.6h0M330.1 19.7h0M123.2 79.5h0M121.4 83.5h0M146.8 83.4h0M161.8 54.1h0M37 138.1h0M32 136.6h0M34.3 138.3h0M32.9 137.4h0M263.6 81.5h0M256.2 7.2h0M245.8 5.7h0M237.4 50.4h0M237.7 47.7h0M228.5 13.9h0M133.8 40h0M164.3 0.2h0M166.2 0.4h0M165.5 -2.4h0M183.1 20.6h0M123.5 9.8h0M286.5 240.8h0M182.9 243.7h0M183.6 241.7h0M265.1 24.2h0M305.4 52.5h0M300.3 50.1h0M263.2 63h0M250.6 42.5h0M55.3 59.5h0M50.7 57.4h0M41.9 93.9h0M44.7 91.2h0M323.4 233h0M292.4 245.2h0M24.1 210.4h0M126.7 225.9h0M71.7 153.5h0M121.4 230.6h0M144.9 149.9h0M1.9 241.3h0M22.9 205.9h0M11 232.6h0M161.6 173.6h0M47.1 158.2h0M7.6 255.2h0M24.2 216.1h0M130.5 215.3h0M135.5 153.5h0M141.2 149h0M123.1 225.4h0M19.6 179.1h0M155 177.6h0M10.8 228.7h0M155 197.1h0M2.3 245h0M112.4 246h0M149.1 200h0M142.5 187.9h0M113.5 242.7h0M130.7 224.1h0M158.6 185.4h0" stroke="#9e5a8e" stroke-width="2.0" stroke-linecap="round" opacity="0.72"/>
<path d="M33.3 173h0M35.9 173.1h0M31.3 172.8h0M29 200.9h0M25 195.4h0M23.4 168.8h0M12.5 184.4h0M15.3 181.9h0M0.5 4.8h0M2.4 -1.4h0M1.4 208.6h0M-1.1 209.6h0M-0.8 235.7h0M2.5 241.3h0M8 242.1h0M-2.6 233.6h0M22.2 222.1h0M20.2 230.4h0M24.1 239.2h0M20.7 207h0M23 203.1h0M6.5 251.8h0M10.9 246.1h0M6.6 249.1h0M22 246.5h0M23.3 251.7h0M332.4 133.9h0M327.7 139.1h0M333.2 101.7h0M322.2 106h0M327.7 103.3h0M315.3 111.6h0M333.1 98.4h0M333.4 147.8h0M325.5 141.7h0M311.8 76.2h0M305.9 82.5h0M296 94.3h0M321 79.7h0M316.9 75.1h0M332.1 86.5h0M313 74.6h0M331.3 50h0M326.3 48.3h0M312 58.2h0M311.4 66h0M318.1 49h0M303.6 1.2h0M317.4 14h0M306.8 7.4h0M309.4 9.2h0M320.6 15.8h0M317.2 10.6h0M141.7 127.2h0M143.6 126.7h0M156.5 102.4h0M156.1 96.8h0M155.8 122.9h0M111.1 91.4h0M121.6 82.1h0M144.2 85.2h0M142.4 85.3h0M130.5 122.4h0M130.4 124.3h0M120.9 114.6h0M117.7 107h0M160 137.3h0M157.9 147.5h0M118.2 143.3h0M123.1 136.7h0M129.6 163.5h0M131.1 163.4h0M129.8 163.2h0M120.7 149.1h0M97.1 139.9h0M93.4 132.7h0M104.7 145.6h0M113.8 145.8h0M111.4 146.3h0M35 139.4h0M21.1 156h0M9.9 118.5h0M16.8 117.3h0M22.1 123h0M23.1 127.6h0M16.1 118h0M72.2 136.3h0M42.3 143.9h0M47.1 147.9h0M36.4 139.6h0M55 150.3h0M63.5 123.3h0M53.7 120.2h0M60.1 120.9h0M50.1 122.3h0M2.5 114.6h0M314.5 151.1h0M311.3 155h0M313.4 153.5h0M279.9 140h0M282.3 142h0M286.7 145.5h0M251.9 122.6h0M256 121.2h0M240.9 126.9h0M239.6 131.1h0M238.8 131.1h0M271 155.4h0M273.9 153.1h0M271.2 156.2h0M267.2 158.8h0M256 157.3h0M226.4 119.2h0M230.6 123.3h0M231.6 123.6h0M222.6 116.8h0M238.1 125.4h0M202.7 106.4h0M198.7 125.6h0M198.6 133.3h0M305.9 160.1h0M303 173.6h0M303.5 175h0M265.4 164.3h0M279.9 176.1h0M274.1 175.1h0M298.9 177.4h0M317.8 183.3h0M319.9 183.5h0M321.1 183.1h0M136.6 250.2h0M137.6 251.6h0M120.6 247.7h0M114.7 246.9h0M123.9 247.2h0M211.1 178h0M188.8 167h0M193 172h0M185 163.9h0M165.6 125h0M171.1 125.9h0M168.9 125.1h0M167 126.5h0M173.1 124.2h0M173.3 124.3h0M169.8 151.6h0M183 162.9h0M174.5 156.1h0M163 144.2h0M185.2 163.5h0M171.8 89.5h0M187.3 87.9h0M183.6 88.3h0M178.2 89h0M159.1 90.3h0M151.6 78.7h0M149.8 81.6h0M150.3 80h0M154.2 67.4h0M204.5 98.7h0M188.6 88.2h0M189.7 87.5h0M189 89.4h0M199.7 93.9h0M247.4 119.9h0M254.2 100.7h0M248.7 119.9h0M255.4 97.1h0M255.7 91.9h0M260 87h0M210.4 88.6h0M211 91.4h0M205.5 97.2h0M206.8 96.7h0M205.7 97.9h0M246.8 87.3h0M250.4 87.9h0M253.5 87.2h0M243.2 84.1h0M228.6 81.6h0M183.7 61.8h0M192.6 52.9h0M196.8 49.1h0M216.8 64.7h0M215.9 67.7h0M215.3 60.4h0M215.4 64.5h0M259.2 -0.9h0M260 -2.4h0M249.1 1.3h0M203.6 -2.3h0M215.6 6.4h0M222.2 11h0M243.7 4.3h0M215 36.7h0M236.4 54.3h0M227 65.3h0M226.9 31.8h0M233.9 37.6h0M236.4 40.2h0M238.2 42.1h0M146.6 42.4h0M151.9 44.1h0M125.8 19.9h0M126.3 19.3h0M130.5 26.8h0M159.3 1.5h0M162.8 0.1h0M125.7 15.5h0M133.1 10.8h0M161 0.9h0M128.9 13.1h0M156.5 43.3h0M179.1 23.6h0M177.7 10.4h0M182.3 16.4h0M123.7 56.6h0M132.6 45.8h0M128.3 50.7h0M120.3 58.1h0M122.2 75h0M123.6 13.4h0M120.1 2.8h0M120.3 3.9h0M120.7 -0.5h0M185.9 23.4h0M181.6 19.5h0M189.5 29.4h0M184.1 21.2h0M196.4 1.7h0M188.2 4.5h0M182.6 10.9h0M225.9 21.5h0M101.7 4.1h0M115.6 8.6h0M111 6.4h0M101.6 148.2h0M97.7 150.1h0M38.8 5.4h0M31.5 29.5h0M34.1 27.9h0M2.3 43.4h0M5.3 43.3h0M14.6 39.2h0M306.3 210.6h0M317 216.4h0M301.5 208.4h0M308.7 212.2h0M296.3 185.3h0M294.3 205.2h0M296.2 188.7h0M333 206.6h0M325.1 212.9h0M326.3 212.9h0M219.2 212.5h0M228.8 194.8h0M230.6 189.6h0M218.6 207.8h0M218 205.7h0M231.9 185.9h0M238.9 187.9h0M245.9 192.2h0M242.7 191.2h0M229.4 179.3h0M202.7 208.9h0M211.1 208.3h0M193.7 188h0M198.2 182h0M194.1 200.3h0M193.8 194.6h0M196.9 182.6h0M280.4 241.7h0M255.7 248.1h0M259.9 189h0M198.8 226.3h0M198.1 227.7h0M199.9 219.6h0M217.6 244.2h0M206.3 247.9h0M205.4 247.9h0M199.7 243.1h0M141 244.6h0M149.8 246.3h0M144.9 243.2h0M171.1 250.6h0M161.2 246.3h0M164 249.5h0M174.2 257.7h0M161.4 216.9h0M160.7 218.5h0M169 215h0M174.6 201.8h0M174.2 198.5h0M142.6 217.2h0M136.9 204.2h0M136.4 204.5h0M151.8 184.4h0M141.4 230.9h0M141.7 228.8h0M178.4 246.2h0M171.7 228.2h0M179.9 238.1h0M174.2 227.9h0M188.2 202.8h0M182.7 202.7h0M186.2 243.1h0M170.8 176.8h0M163.2 184.5h0M176.4 166.2h0M132.2 211h0M262.7 31.1h0M262 33.9h0M254.7 42.9h0M263.1 30.1h0M268.9 23.4h0M302.1 49.3h0M297.3 52.4h0M287.4 59.2h0M298.9 51.9h0M291.9 57.1h0M281.1 60.5h0M268.1 67h0M260.7 54.2h0M258.7 9.4h0M258.2 8.2h0M264.5 17.2h0M258.6 9.2h0M256.1 5.4h0M252.7 46.4h0M246.9 47h0M301.7 8.3h0M303 49.4h0M268.1 77.5h0M75.3 13.3h0M74.6 5.5h0M74.8 -1.6h0M74.9 20.6h0M110.4 19.6h0M112.1 18.9h0M116.4 13.7h0M46.6 30.7h0M45.7 28.9h0M50.4 36.8h0M44.7 28.7h0M100.3 54.7h0M104.7 53.9h0M54.2 49.7h0M55.1 46.6h0M79.6 64.2h0M111.5 92h0M78 68.4h0M81.5 78.4h0M18.7 63.5h0M24 58.7h0M27.1 58.9h0M45.7 84.3h0M46.9 84.3h0M49.2 63.3h0M46.8 80h0M46 83.2h0M35.6 95.5h0M33.2 95.7h0M2 78.1h0M23.9 59.1h0M18.2 51.1h0M14.4 40.1h0M16.7 47.6h0M24.7 105.5h0M50.3 59.3h0M45.6 92.7h0M53.2 92h0M63.4 96.9h0M46.5 105h0M48.6 116.7h0M44.7 102.4h0M51.4 119.9h0M321.2 214.6h0M322.3 217.3h0M323.5 219.3h0M326.2 233.8h0M288.3 243h0M288 243.8h0M210.4 252.3h0M319.2 238.4h0M26.8 173h0M2 7.3h0M196 114.7h0M13 245.1h0M22.4 240h0M21.7 246.1h0M328.2 138.1h0M324.7 136h0M313.2 53.9h0M310.4 50.5h0M311.8 52h0M156 130h0M157.6 125.2h0M251.6 120.3h0M248.7 122.1h0M240.6 127.5h0M301.6 -0.5h0M118.7 62.3h0M120.8 80.7h0M125 83.4h0M146.3 85.3h0M163.7 57.9h0M102.3 143.1h0M59.7 154.3h0M60.7 157.5h0M59 155h0M54.2 122.4h0M49.2 125.4h0M282.9 138.2h0M267.5 157.3h0M297.8 209.4h0M300.4 176.9h0M133.3 252.9h0M143.8 244.3h0M199.3 207h0M188.2 161.5h0M182.7 164h0M180.5 159.7h0M183.4 162.2h0M201.4 43.4h0M202.5 0.6h0M207.7 100h0M208.8 98.8h0M203.3 96.7h0M266.9 83.9h0M267.1 79.8h0M268.4 80.5h0M252.6 88.4h0M225.6 81.8h0M252.3 0.1h0M256.5 8.4h0M250.9 3.1h0M228.5 26.8h0M221.2 28.2h0M221.8 28.6h0M137.3 40.3h0M182.6 15.4h0M182.6 18.1h0M122.8 14.2h0M14.2 42.6h0M318.2 212.2h0M280.7 239.8h0M247.6 250.6h0M172.8 255.2h0M174.4 250h0M181.5 245.2h0M301.1 52.2h0M305.5 52.3h0M263.4 68h0M255.1 44.3h0M257.5 45h0M54.1 57.7h0M79.3 70h0M78.8 66.4h0M80.3 65.1h0M46.5 60.1h0M46.4 62h0M45.5 59.7h0M327.1 235h0M328 238.5h0M328.9 238.1h0M289.5 251.7h0M294.6 249.1h0M14.4 248.6h0M128.2 213.6h0M56.1 159.5h0M21.8 201.5h0M1.5 250.1h0M151.1 197.7h0M55.4 159.5h0M130.5 142.3h0M47.4 161.4h0M132.9 210.4h0M24.5 221.4h0M131.6 226.7h0M7.6 254.4h0M119.9 225.9h0M117.8 244.2h0M113.5 233.4h0M123.4 225h0M111.3 143.5h0M62.6 156.4h0M145.7 201.2h0M24.4 206.9h0M23.3 200.5h0M14.2 221.7h0M135 225.3h0M140.7 200.4h0M137 213.1h0M143.2 188.6h0M131.2 231.4h0M112.5 243.5h0M169.2 179.1h0M166.8 157.8h0M180.3 169.4h0M175.3 155.1h0M165.8 159.9h0M176.6 178.2h0M167.8 177.8h0M180.4 167.2h0M164.4 167.1h0M168.7 178.7h0M166.5 158.4h0M164.4 166.6h0M170.9 154.4h0M164.6 169.8h0M165.1 162h0M180.2 164.3h0" stroke="#9e5a8e" stroke-width="2.5" stroke-linecap="round" opacity="0.72"/>
<path d="M23.2 173.3h0M20.4 180.2h0M26.6 200.7h0M25.4 195.7h0M1 156.7h0M23.3 166.3h0M21.5 158.3h0M14.9 183.1h0M0.6 -1.6h0M21.3 221.5h0M17.1 210.9h0M19.2 215.4h0M-0.8 256.3h0M24.9 238.4h0M30.2 239.7h0M29.5 240h0M22.1 247.3h0M20.8 246.8h0M313.8 115.8h0M321.3 106.5h0M299.7 111.7h0M312 117.1h0M300.1 88.9h0M307 79h0M312.6 63.4h0M310.8 54.6h0M328.1 17.4h0M301.4 -2.3h0M155.4 127.6h0M154.9 127.2h0M155 105.6h0M112.6 99h0M117.6 85.1h0M122.4 82.2h0M147.6 85.3h0M130.2 121.1h0M131.3 123.9h0M115.6 103.9h0M115.8 104.4h0M159.6 133.3h0M145.1 163.4h0M147.8 157.2h0M153 150.6h0M126.5 131.3h0M124.9 155.8h0M119.8 149.3h0M129.5 160.7h0M113.6 146.8h0M28 129.7h0M30.1 130.2h0M61.9 157.4h0M71.4 137h0M72.2 132h0M64.1 146.7h0M72.2 136.4h0M57.5 152.2h0M44.6 146h0M39.2 143.1h0M54.5 120.2h0M48.2 123.6h0M38 134.9h0M-1.9 85h0M0.2 81.5h0M-0.2 107.7h0M-1.2 104.1h0M-1.3 105.9h0M311.6 153.2h0M280.8 138.6h0M284.5 143.5h0M285 144h0M282.1 142.7h0M257.7 123h0M279.7 143.1h0M234.2 124.2h0M218.3 111.9h0M197.4 112.1h0M304.3 163.2h0M268.2 168.5h0M286.7 177.3h0M273.4 175.6h0M323 181.6h0M323.7 185h0M325.6 185.6h0M322.6 182.1h0M323.6 183.6h0M117.1 247.5h0M116.2 247.7h0M107.9 247.4h0M206.9 179.2h0M196.3 174.5h0M181.4 120.8h0M167.1 147.3h0M179.7 157.9h0M165 145.3h0M182.5 88.7h0M174.2 90h0M147.5 84.7h0M203.2 96.8h0M256.3 89.3h0M261.4 85.3h0M206.9 97.6h0M246.6 87.4h0M251.2 87.5h0M226.1 78.9h0M189.4 59h0M200.8 48h0M201.1 48h0M255.8 2.4h0M211.8 2.3h0M223.5 12.3h0M212.8 3.2h0M231.6 12.2h0M234.6 10.1h0M224.3 30.2h0M199 44.2h0M233.7 57h0M238.2 50.8h0M233.5 37.5h0M151.5 44h0M142.9 41.1h0M148.8 44.5h0M139.2 39.7h0M128.3 23.3h0M128.3 13.4h0M162.2 38.6h0M165.2 0.7h0M134.7 41.7h0M118.6 63h0M120.7 69.1h0M158.4 48.6h0M190.9 30.8h0M189.2 29.8h0M190.9 4.4h0M199.4 -0.6h0M198.2 2h0M225.7 23.7h0M226.2 15.4h0M107.6 3h0M110.1 6h0M114.9 8.5h0M112.4 7.1h0M98.4 150.8h0M37.9 8.6h0M41.2 18.9h0M41 21.1h0M32.9 28h0M1.5 45h0M309.7 212h0M314 214h0M297.1 194.8h0M296.1 197.4h0M330 208.1h0M231.7 190.5h0M233 186.9h0M229.1 180.5h0M212.6 209h0M197.2 206.8h0M194.8 203.9h0M193.8 198.5h0M252.5 250.6h0M260.1 190.8h0M267.8 177.8h0M293.8 208h0M295 208.1h0M197.4 226h0M200.8 211h0M218.4 244.3h0M218.3 243.5h0M143.6 243.5h0M153.4 243.5h0M156.8 242.9h0M173.8 252.4h0M148.8 219.8h0M155.8 218.2h0M170 213.4h0M172.9 206.1h0M174.2 204.2h0M162.9 189.5h0M182.3 204.2h0M185.2 202.6h0M177.6 168.2h0M171.2 176.1h0M164.7 183.1h0M266 28.7h0M270.2 24.2h0M296.9 41h0M300.5 51.3h0M273.1 64.6h0M262.5 61.2h0M261.4 60.5h0M260.9 54.4h0M258.5 10.4h0M246 48h0M308.3 51.4h0M75.9 15.8h0M76.1 -0.9h0M114 17h0M106.2 54.4h0M109.1 54.3h0M54.5 51.4h0M79 68h0M15.6 67.2h0M30 94.3h0M38.1 62.5h0M46.1 61.9h0M43.5 62.8h0M31.2 61.8h0M33.1 96.6h0M6.5 76.9h0M23.9 103.2h0M48.3 91.3h0M326.8 238.7h0M289.6 257.2h0M249.3 255.1h0M211.9 253.1h0M332 259.2h0M319.3 237.3h0M297.6 249.9h0M24.6 172.8h0M24.7 174.7h0M24.6 198h0M21.7 181.1h0M20.4 186.1h0M22.2 186.8h0M200.9 101.9h0M202 102.4h0M194.6 116.2h0M13.1 246.6h0M24.7 241.5h0M22.9 243.6h0M313.5 120.2h0M310 71h0M157.3 125.4h0M108.8 93.3h0M151.2 90.9h0M154.7 88.7h0M244.5 122.1h0M161.4 141.4h0M121.1 57.8h0M150.2 82.5h0M119.8 8.8h0M136.3 125.2h0M61.2 159h0M15.1 117.3h0M37 138.7h0M34.8 140h0M-2.7 79.2h0M273.3 172.1h0M267.3 163.3h0M265.6 157.9h0M295.9 207.4h0M294.2 181.1h0M299.2 181.8h0M303.7 175.6h0M131.8 252.2h0M203.1 212.9h0M202.8 206.5h0M203.1 211.7h0M179.5 164.5h0M202.6 38h0M201.3 41.1h0M199.1 45.2h0M199.5 45.4h0M256.1 3.2h0M238.4 49.9h0M227.3 14.7h0M226.2 15.7h0M228.7 29h0M178.9 19.9h0M182.2 17.3h0M120.9 14.8h0M116.7 11.4h0M17 33.7h0M17.3 36.8h0M319.8 212h0M281.3 243.4h0M286.3 241.2h0M215.2 212.7h0M215.1 212.4h0M253.1 198.6h0M270.6 67.4h0M267.1 71h0M250.7 47.4h0M53.7 56.1h0M30.8 96.3h0M28.5 98.9h0M33 97.3h0M42.5 92.6h0M43.6 93.3h0M42.1 94h0M294.9 247h0" stroke="#9e5a8e" stroke-width="3.0" stroke-linecap="round" opacity="0.72"/>
</g>
<rect x="288.8" y="245" width="40.7" height="9.3" fill="#fff" stroke="#555" stroke-width="1.2"/>
<text x="309.2" y="252.1" font-family="Liberation Sans, Arial, sans-serif" font-size="5.5" text-anchor="middle" fill="#333">50 μm</text>
</g>
<g transform="translate(596.8,927)" clip-path="url(#hc3)"><g filter="url(#soft)">
<clipPath id="hc3"><rect width="332.5" height="248.6"/></clipPath>
<rect width="332.5" height="248.6" fill="#f1e9e3"/>
<path d="M205 130C211.5 125 225.5 124.2 235 125C244.5 125.8 255.8 129.2 262 135C268.2 140.8 271.3 150.8 272 160C272.7 169.2 269.7 182.5 266 190C262.3 197.5 255.7 200.8 250 205C244.3 209.2 238 215 232 215C226 215 219.3 210 214 205C208.7 200 203 193.3 200 185C197 176.7 195.2 164.2 196 155C196.8 145.8 198.5 135 205 130Z" fill="#eecbd5" opacity="0.9"/>
<path d="M-5 122C2.5 110.5 25.8 123.5 40 127C54.2 130.5 66.7 137.2 80 143C93.3 148.8 107 155.8 120 162C133 168.2 146.7 173.2 158 180C169.3 186.8 179.3 194.3 188 203C196.7 211.7 205 221.7 210 232C215 242.3 239.3 259.5 218 265C196.7 270.5 105.7 269.5 82 265C58.3 260.5 79.7 245.5 76 238C72.3 230.5 67.7 225.8 60 220C52.3 214.2 40.8 207 30 203C19.2 199 0.8 209.5 -5 196C-10.8 182.5 -12.5 133.5 -5 122Z" fill="#f1e9e3"/>
<path d="M209.2 162.2a24 24 0 1 0 48 0a24 24 0 1 0 -48 0Z" fill="#f1e9e3" stroke="#f3b5c3" stroke-width="3"/>
<path d="M326.4 246.4L331.8 249.5L336.5 252.4M335 229.2L330.9 230.7M326.4 246.4L325.5 239M330.9 230.7L325.5 239M335 229.2L336.3 221.9L336.5 221M314.5 218.3L320.5 221.7L324.9 227.3L330.9 230.7M314.5 218.3L320.5 213.6L325.9 208.1M325.9 208.1L331.4 212.2L336.5 214.2M314.5 218.3L308.6 218.5M289.5 252.6L289.6 250.7L290.5 243.3M303.7 241.3L307.5 237.2M2.6 239.1L-0.3 237.2M13.5 111.7L11.9 118.1M13.5 111.7L21 110.4L28.6 111.4M9.5 94.4L2.8 94L-3.7 96.8L-4 96.7M17.6 90.4L11 92.4M17.6 90.4L24.4 94.6L31.5 98.3M31.5 98.3L29.2 104.6L28.6 111.4M39.3 94.8L38.3 86.1L36.7 77.5M53.2 74.7L54.8 81.4L54.1 88.3M36.7 77.5L44.5 75.7L52.4 74.2M40.5 95.1L47.7 92.6L54.1 88.3M53.2 74.7L59.8 73.2L66.6 73L73.3 71.7M73.3 71.7L74.2 75.8M74.2 75.8L70.8 82L69 88.9L65.5 95.1M54.1 88.3L59.8 91.8L65.5 95.1M336.5 193.5L334.1 192.4L328.2 190.1M327.4 178.7L328.2 190.1M292.2 167.8L297.5 170.8L302.8 173.9L308.7 175.7M292.2 167.8L296.3 156.6M314.9 173.1L308.7 175.7M286.9 147.1L281.4 150.8L275.2 153M325.3 175.8L327.4 178.7M325.3 175.8L314.9 173.1M324.5 194.4L316.5 195.2L308.6 196.8M308.6 196.8L302.8 189.6M302.8 189.6L306.7 183L308.7 175.7M308.6 196.8L305.1 204.7L303.1 213.1M336.5 87.1L330.4 80.4M330.4 80.4L332.2 71.1M303.7 75.4L304.1 82.6L301.6 89.6L302.2 96.9M322.1 83.5L318.5 89.3L317 95.9L314.2 102M213.9 124.2L223.2 117.1M224.4 112.8L223.2 117.1M224.4 112.8L219.4 108.3M-0.3 237.2L-1.9 229.9L-4 225.8M36.7 77.5L33 74.9M-4 54L-3.3 53.5L2.7 49.4M2.7 49.4L9.4 54.8L10.1 55.6M11 92.4L7.7 86.3L2.7 81.2L0 74.8M-4 76.1L-1.8 74.4M23.2 77.9L18.1 72.9L13.6 67.4M-0.1 35.8L6.1 29.5L11.2 22.3M-0.1 35.8L4 44.2M4 44.2L9.2 43.5M15.2 23.6L11.2 22.3M-4 33.5L-0.1 35.8M2.7 49.4L4 44.2M52.4 74.2L51.4 67.7L49.7 61.4L48.3 55M74.8 67.8L70.2 63L67.4 57M53.3 21.2L48 11.1M67.6 5.3L68.5 11.6L68.1 18M27 3.5L31.2 12.8M31.2 12.8L39.5 10.8L48 11.1M41.8 29.1L46.3 27.6L52.5 23.3M53.3 21.2L52.5 23.3M64.7 38.1L58.4 37.6M276.1 163.4L271.9 166.4M287.6 137.3L286.9 147.1M287.6 137.3L278.6 130.2M278.6 130.2L271.4 133.8L264.1 137.1M256.5 117.3L258.5 124L261 130.5L263.9 136.9M286.7 182L278.7 182L270.8 180.1M286.7 182L289.9 188.7M287.1 194L280.7 195.2L274.9 198.7L268.4 199.6M270.8 180.1L268.8 188.4L265.9 196.4M268.4 199.6L265.9 196.4M291.2 168.4L288.4 175L286.7 182M291.1 207.7L288.6 201L287.1 194M327.3 107.3L316.3 105.3M336.5 137.6L335.3 136.8L330.1 131.1M314 145.1L318.6 139.1L323.4 133.3M330.1 131.1L323.4 133.3M336.3 156L331.5 157.8M332.4 126L330.1 131.1M287.6 137.3L293.2 134.9L299.1 133.1M299.1 133.1L303.8 137.5L308.7 141.5L314 145.1M325.3 175.8L327.7 169.9L328.5 163.5L331.5 157.8M301.4 121.2L310.3 117.6M310.3 117.6L313.9 123.5L318.7 128.4L323.4 133.3M310.3 117.6L313.4 111.5L316.3 105.3M286 238.8L284.3 231.3M256.5 117.3L263.7 113.1M263.7 113.1L271.4 116.1L279.7 117.2M301.4 121.2L296.1 118.2L291.8 113.9L286.8 110.6M287.9 101.7L286.8 110.6M286.8 110.6L279.7 117.2M198 142.4L196.1 143.4M194.7 125.2L194.6 133L194.3 140.8M6.6 14.3L12 4.3M6.6 14.3L-3.1 13.6M27 3.5L19.4 3L12 4.3M11.2 22.3L6.6 14.3M0.8 211.4L3.1 202.7M80.2 -4L87.1 2.2M87.2 37L93.6 31.1L100.8 26M87.2 37L80.6 31.3L73.9 25.6M87.7 13.7L94.4 18.9L100.6 24.5M87.7 13.7L80.3 17.5L73.4 22.3M73.4 22.3L73.9 25.6M70.4 45.5L78.4 44.7L86.1 43M64.7 38.1L69.2 31.8L73.9 25.6M112.5 7.6L107.6 2.9L102.1 -1.2M112.5 7.6L107.8 12.8L104.8 19.1L100.6 24.5M74.8 67.8L83.8 63.8M86.1 43L90.6 51.8M83.8 63.8L88 58.3L90.6 51.8M241.9 252.6L243 249.2M230.8 238.3L224 242L219.2 244.2M243 249.2L249.8 252.6M286 238.8L279.7 241.8L272.8 243.5L266.4 246.3M205.4 223.9L205.5 220M209.1 218.6L205.5 220M255 215.5L262.3 211.7L269 206.9M269 206.9L276.3 215M276.3 215L276.8 224M276.8 224L270 225.4L263.6 228.1L257.4 231.3M233.4 224.3L240 225.4L246.8 224.9L253.4 225.9M268.4 199.6L269 206.9M242.4 247L247.9 242.3L252.7 236.9L257.2 231.3M284.3 231.3L276.8 224M266.4 246.3L262.4 238.5L257.4 231.3M224.4 112.8L231.9 109.2L239.8 106.6M231.3 88.5L233.9 94.6L237.5 100.3L239.8 106.6M216.9 68.4L221 65.4M236.4 78.6L235.4 72.9M248 59.8L244.1 64.5L238.9 67.8L235.4 72.9M263.7 113.1L264.9 106.4M280.3 93L277.8 92.6M280.3 93L287.9 101.7M336.5 49.4L334.1 50.1L326.8 51.2M324.9 61.9L325 53.5M326.8 51.2L325 53.5M314.4 0.7L309 -4M52.7 229.5L54.2 226.6M52.7 229.5L52.9 236.9L54.9 243.9M160.1 178.9L159 180.6M160.1 178.9L159.3 175.2M159.3 175.2L155.9 172.1M155.9 172.1L149.8 171.6L143.8 170.5M143.8 170.5L142.3 171.9M90 92.3L87.7 97.2M65.5 95.1L66.4 97.6M58.2 133.2L57.2 128.6M51.4 126.4L57.2 128.6M50.2 108.3L58 106.2L65 102.2M175.7 53.6L175 43.7M175.7 53.6L181.3 56.5L187.2 58.9L187.5 59.1M175 43.7L180.9 39.1L186.7 34.3M198.6 50.2L193.3 43.1L190 34.8M198.6 50.2L196 55.9L195.2 58M215.8 45.2L207.5 48.7L198.6 50.2M329.2 0.4L335.4 0.7L336.5 0.8M330.9 11.4L336.5 16.5M327 -2.1L329.2 0.4M215.8 45.2L217.2 35.5M190 34.8L196.6 30.8L202 25.1M27.4 210.9L23.2 206.1L21.4 202.1M27.4 210.9L33.6 209.8L39.3 207.2M54.2 226.6L51 220.8L47.7 215.1L46.2 210.8M14.5 219.1L21.3 216.2L27.1 211.5M14.5 219.1L12.4 225.5L11.9 232.2L10.6 238.7M27.1 211.5L29.9 217.7L32.5 224.1L33.5 230.9M33.5 230.9L27.2 239.3M27.2 239.3L20.5 240.6L13.7 240.5M0.8 211.4L7.8 215.1L14.5 219.1M2.6 239.1L10.6 238.7M52.7 229.5L46.3 229.8L39.9 230.6L33.5 230.9M36.4 250.1L36.1 252.6M36.4 250.1L45 248.1L53.5 245.6M112.5 7.6L117.8 6.9M100.8 26L104.3 29M126.7 26L123.1 19.9L120.7 13.3L117.8 6.9M126.7 26L124.5 31M83.8 63.8L88.6 68.3L93.9 71.9L96.6 73.2M185.1 183.7L189.8 188.3M199.7 216.1L200.5 209.5L200.7 202.8L202.6 196.2L202.6 190.8M185.1 200.2L185.4 199.7L188.3 194.3L189.8 188.3M194.1 150.3L196.3 145.7M176.9 165.8L177.2 158.4M252.6 53.4L256.4 43.2M252.6 53.4L248.7 55.9M248.7 55.9L243.1 52.9L237.8 49.4M222.1 52.6L229.8 50.5L237.8 49.4M229.2 25.8L236.9 30.1M306.8 37.7L312.7 36.2L318.5 34L324.5 32.9M308.5 16.1L315.7 18.3L322.3 21.9M322.3 21.9L325.4 31.7M326.8 51.2L325.6 45.1L326.5 38.8L324.5 32.9M304.2 42.5L306.8 37.7M290.6 3.7L294.7 -3.5L295 -4M335.5 31.2L325.4 31.7M143.8 170.5L141 163.1L139.7 155.3M128.9 154.5L139.7 155.3M104.8 154.6L109.6 151.3L116.7 149.4L123.2 146.3M100.2 148.9L101.8 142.1L103.9 135.4M123.2 146.3L124.3 139.3M80.4 142.5L75.1 137.3L71.1 131.1L65.9 125.8M80.4 142.5L83.8 136.2L88.7 130.8L91.4 124.1M89.9 116.6L81 117.4L72.1 117.8M65.9 125.8L72.1 117.8M91.4 114.3L89.9 116.6M183.9 9.7L189 -0.9M183.9 9.7L179.3 11.7M176.2 19.2L179.3 11.7M176.2 19.2L179 24.7L183 29.3L186.7 34.3M202 25.1L202.3 16.8M202.3 16.8L196 15L189.8 12.9L183.9 9.7M176.2 19.2L168.3 22M175 43.7L168.8 41.7L163.3 38.3M102.6 52.7L104.2 61.1L105.3 64.8M280.3 93L282.8 86L286.6 79.6M271.1 69.2L275.8 64M252.6 53.4L258.8 54.3L264.1 58.1L270.7 57.7L276.3 60.6M275.8 64L276.3 60.6M286.6 79.6L295 77.3L303.2 74.6M303.2 74.6L303.9 69M303.9 69L302.5 66.3M250.8 -4L253.2 -2.8M258.6 42.7L256.4 43.2M235.8 9.7L233.4 17.4L229 24.2M235.8 9.7L241.9 9.1M253.2 -2.8L254.7 2.2M236.2 -4L231.4 0.1M110.5 132.7L112.3 125.6L113 123.1M168.8 73.8L164.3 78.2M153 16L146.4 19.6M135.7 6.1L139.6 12.5L143.8 18.8M135.7 6.1L138.5 -1.6L139.7 -4M149.1 -4L152.1 -1.9L157.4 1.1M148.2 32.2L146.9 25.9L146.4 19.6M168.3 22L160.7 18.8L153 16M166.4 -2.6L157.4 1.1M202.1 -3.3L205.3 3.9L207.2 11.5M207.2 11.5L213.7 10.9M189 -0.9L195.4 -2.7L202.1 -3.3M124.5 31L125.6 34.7M125.6 34.7L121.4 42.2L116.5 49.3M148.2 32.2L143.5 37.8L138.5 43.2M125.6 34.7L132.1 38.8L138.5 43.2M291 39.5L293.8 42.6M132.6 132.6L137.3 137.5L143.4 140.6L148.4 145M130.3 125.8L133 129.3M150.8 64.9L151.7 63.1L155 56.6M139.8 50.2L147 52.1L154 55M160.9 39.1L157.4 47L154 55M177.2 158.4L172 154.1L167.9 148.8M159.8 147.8L167.9 148.8M194.3 140.8L186.4 139.6L178.6 137.8M167.9 148.8L173.4 143.4L178.6 137.8M173.9 125.7L178.6 117.3M178.5 116.6L172.5 112.3L167.3 107L163 104.8M155.4 125L158.4 129.7M155.4 144.1L156.6 136.8L158.4 129.7M194.7 125.2L186.4 121.8L178.6 117.3M144.4 122.7L148.2 122.9L155.4 125" fill="none" stroke="#e8c2ce" stroke-width="0.8"/>
<path d="M336.2 1.3L328.6 8.6M283.6 155L285.5 163.4L288.6 171.5M263.3 200.7L269.5 199.5M288.6 171.5L286.4 178.3L281 182.7L278 188.9L274 194.4L269.5 199.5M334.6 35.4L333.4 38.7M336.5 40.9L333.4 38.7M330.1 155L335.9 152.6L336.5 151.9M336.5 118.4L331.3 118.2L325.1 122.2L318.3 122.2M336.5 84.9L330.5 85.2L324.2 84.5M333.4 38.7L328 42.5L322 45.3L317.3 50.1L312.4 54.4M285.1 239.4L282.1 244.9L281.5 251.5L280 252.6M220.9 246.2L222.3 242.6L223.1 235.9L227.9 230.6L229.9 224.3L230.6 217.5M223 249.1L226.8 249.5L233.4 252.2L235.6 252.6M230.6 217.5L236.6 215.9L242.7 214.9L248.9 215.9L255 215.4M255 215.4L258.7 221.7L260 228.8M217.3 0.2L209.5 -3.5L209 -4M309.3 -4L311.3 -1.8L312.1 4.7M251.3 -3L258.5 -3L263.7 -4M230.6 217.5L228.8 214.6M263.3 200.7L257.5 207.1L255 215.4M336.5 200.3L335.2 196.9L335.4 190.5L336.3 184.1L333.2 178L334.6 171.5M305.8 182.3L313.1 180.3L317.8 173.7L325.4 172.4L331.6 168.4M317 78.5L311.2 80.6L306.6 85.2L300.2 86L295.3 89.9L290 93.1L284.2 95.1L278.4 97.4M276.7 95.8L278.4 97.4M279 101.7L278.4 97.4M217.3 0.2L217.1 7.7L219.5 15.1L217.7 22.7M246.8 38.4L243.5 39.1M243.5 39.1L237.7 36.8L233 32.9L227.9 29.4L223 25.7L217.7 22.7M9.2 49.4L8.2 49.9L2.1 53.3L-2.7 58.7M21.3 -4L20.9 2.2L20.6 9.8L23.3 16.7M182 17.9L184.8 12.1L186.5 5.8L187.3 -0.8L189.3 -4M182 17.9L174.9 15L167 16.9L159.8 14.6M171.8 189.2L175.7 184.9M198.4 179.6L194.4 182.1L187.8 181.5L182 183.9L175.7 184.9M122 125.4L119.4 128.3L112.3 131.2L108.8 138.4L101.8 141.4M101.8 141.4L95.5 143.4L89.1 142.1M143.2 128.7L137.2 126L135.7 125.2M331.8 210.4L333.6 216.4L336.5 221.4M312.1 249.5L319.7 251.1L324.7 252.6M299.6 233.6L302.2 228L303.9 222.1L303.7 215.8M139.4 59.8L140.5 53.8L141.7 46.8L140.7 39.8M148.9 36.6L153.8 40.8L159.8 42.5L166.3 42.8L171.7 46M175.6 64.8L172.7 58.8L171.5 52.6L171.7 46M182 17.9L186.6 22.7L188.4 29.2M101.8 141.4L106.4 146.1L109.7 152.1L114.3 156.7L117.7 160.9M121.5 162.7L125.7 163.9L126.2 164.9M153.1 150.3L161.6 152.1M175.7 184.9L172.4 178.6L168.7 172.4L169.1 164.4L162.7 159.4L161.6 152.1M25.9 75.8L23.1 78.8L16 82.4L9.3 86.4M17.6 109.3L16.9 103.1L11.4 98.6L11 92.3L9.3 86.4M-0.7 82.2L-3.5 74.5L0 66.4L-2.7 58.7M140.7 39.8L135.2 35.3L128.4 33.1M128.4 33.1L123.6 37L117.7 39.1L112.2 41.8L107.3 45.4L103 50.2L97 52M97 52L102.2 57.2L104.2 64.4L104.7 65.2M100.2 -4L100.2 -4L98.5 2.3M138.4 -2.3L132.2 2.5L129 10.3L122.2 14.4M128.4 33.1L125.5 27.2L124.7 20.5L122.2 14.4M49 251.3L50.9 252.6M7.4 252.6L7.9 251.9L11.1 246.7L15.5 242.3M15.5 242.3L19.7 247.8L25.4 251.1L30.4 252.6M15.5 242.3L14.8 239.5M50.6 114.3L47.8 119.9L49.5 126.8L47.6 129.2M59.9 219.9L60.2 223M32.7 204L30.3 207.5M33.5 216.9L30.3 207.5M14.8 239.5L19.6 234L24 228.1L29.2 222.8L33.5 216.9M176.6 145.7L184 147.5L191.3 149.2L196.3 152.4M161.6 152.1L168.6 147.9L176.6 145.7M163.3 104L167.6 102.8M49.3 44.5L55.2 49.1L56.8 56.8L62.5 61.5L66.1 67.8M37.2 21.5L41.7 21L47.4 23.4L53.2 25.5M-4 205.8L-0.9 201.3L-0.7 201.2M-0.7 82.2L-4 84.5M232.2 55.5L233.4 62.1L236.1 68.5L237.7 75L237.8 75.4M225 89.6L226.8 89.3L234.1 92.9M199.2 32.3L202.3 39.3L200.6 47.2L201.8 54.5L203.8 59.6M243.5 39.1L241 45.5L236.6 50.5L232.2 55.5M232.3 124.8L233 120.4L233.8 113.6L231.8 106.6L234.6 99.9L234.1 92.9" fill="none" stroke="#ebc2ce" stroke-width="4" stroke-linejoin="round" stroke-linecap="round"/>
<path d="M334.6 35.4L331.6 29L332.1 21.9L331.1 15.1L328.6 8.6M263.3 200.7L260.4 197.3M308.7 132.2L314.8 128.4L318.3 122.2M318.3 122.2L319.6 116L319.8 109.6L321.2 103.4L323.2 97.2L322.3 90.7L324.2 84.5M312.4 54.4L313.3 60.5L314.9 66.4L317.2 72.2L317 78.5M317 78.5L324.2 84.5M285.1 239.4L278.7 236.9L272.4 234.4L266.9 229.8L260 228.8M260 228.8L255.5 234.3L252.3 240.5L251 247.6L247.9 252.6M228.5 -4L224.7 -0.6L217.3 0.2M328.6 8.6L319.9 8.5L312.1 4.7M266.8 -4L272.8 -1.9M273.7 -4L272.8 -1.9M299 49.5L298.7 43L294 38.1L294 37.8M251.3 -3L251.5 3.5M272.8 -1.9L273.5 0.2M312.4 54.4L305 54L299 49.5M312.1 4.7L306.1 8.8L301 11.9M212.4 203.4L210.5 205.1L205 208.7L198.5 211L196.7 212.3M283.6 155L287.8 149.8L292.8 145.3L299.4 142.8L305 139.1L308.7 133.2M288.6 171.5L294.5 174.9L299.3 179.9L305.8 182.3M330.1 155L331.6 161.6L331.6 168.4M331.6 168.4L334.6 171.5M308.7 132.2L305.8 126.6L299.9 123.8L295.9 119.2L290.5 116L288 110L283.6 105.7L279 101.7M255.1 130.3L258.3 126.9L261.5 121.1L268 118.1L271.9 112.8L273.7 105.8L279 101.7M271.8 63.4L272.3 70.4M13.7 26.1L11.8 27.1M159.8 14.6L157.1 7L153 -0.1M153 -0.1L158.6 -3.4L158.7 -4M92 102.2L91.6 104.7L85.4 109.7L82.8 116.5L80.5 123.3M151.8 118.5L151.1 119.5L148.6 125.2L143.2 128.7M312.1 249.5L309.6 242.9L302.3 240.1L299.6 233.6M303.7 215.8L307.6 212.4M336.5 204.3L331.8 210.4M305.8 182.3L304.5 188.4L305.6 194.4L306.2 200.4L306.2 206.5L307.6 212.4M310 252.6L312.1 249.5M285.1 239.4L291.7 234.9L299.6 233.6M156.7 69.9L157.4 69.4L163.8 69.1L169.5 66L175.6 64.8M148.9 36.6L140.7 39.8M171.7 46L175.9 39L183.2 35.2L188.4 29.2M217.7 22.7L210.6 24.1L206.3 30.9L199.2 32.3M188.4 29.2L199.2 32.3M86.6 146L89.1 142.1M153.1 150.3L148.8 143.5L148.4 135L143.2 128.7M17.6 109.3L25 108.2L32.5 108.5L40 110.3L47.4 109M47.4 109L50.7 103.7L50 97.2L52.6 91.7L53.9 85.8M-0.7 82.2L9.3 86.4M50.6 114.3L56.1 117.8L63.1 116.1L68.1 121.2L73.9 123.5L80.5 123.3M53.9 85.8L62.9 79.4M62.9 79.4L68 84.2L75.7 84.7L80.8 89.5L86.1 94L90.5 95.8M101 7L98.5 2.3M153 -0.1L145.8 -1.9L138.4 -2.3M63.9 -3.8L70.9 -3L77.8 -1.8L84.7 -0.5L91.3 2.8L98.5 2.3M14.8 239.5L9.4 236.7L4.4 233.3L-1.4 231L-4 228.2M55.8 224.9L48.4 222.1L41.4 218.3L33.5 216.9M66.1 225L60.2 223M49 251.3L51.5 244.9L50.6 237.6L54.8 231.7L55.8 224.9M17.6 109.3L14.7 115L11.5 118.1M213.8 126.2L212.9 125.8L208.4 121.6L206.2 119.5M183.1 119.3L182.9 121L183.7 127.8L179.3 133.2L178.2 139.5L176.6 145.7M49.3 44.5L52 38.5L50.2 31.5L53.2 25.5M53.2 25.5L55.9 23.7M55.9 23.7L61.6 27.4L68.2 28.7L75.1 28.9L80.3 34.1L87.1 34.8M87.1 34.8L89.6 43.3L94.3 50.8M44.8 48.4L49.3 44.5M101 7L96.7 11.8L97.2 19L93.4 24L89.2 28.9L87.1 34.8M97 52L94.3 50.8M30.3 207.5L24.8 203.4L21.3 202.1M208.1 61.2L211.6 60.9L218.7 60L225.7 59.1L232.2 55.5M336.2 1.3L328.6 8.6M283.6 155L285.5 163.4L288.6 171.5M263.3 200.7L269.5 199.5M288.6 171.5L286.4 178.3L281 182.7L278 188.9L274 194.4L269.5 199.5M334.6 35.4L333.4 38.7M336.5 40.9L333.4 38.7M330.1 155L335.9 152.6L336.5 151.9M336.5 118.4L331.3 118.2L325.1 122.2L318.3 122.2M336.5 84.9L330.5 85.2L324.2 84.5M333.4 38.7L328 42.5L322 45.3L317.3 50.1L312.4 54.4M285.1 239.4L282.1 244.9L281.5 251.5L280 252.6M220.9 246.2L222.3 242.6L223.1 235.9L227.9 230.6L229.9 224.3L230.6 217.5M223 249.1L226.8 249.5L233.4 252.2L235.6 252.6M230.6 217.5L236.6 215.9L242.7 214.9L248.9 215.9L255 215.4M255 215.4L258.7 221.7L260 228.8M217.3 0.2L209.5 -3.5L209 -4M309.3 -4L311.3 -1.8L312.1 4.7M251.3 -3L258.5 -3L263.7 -4M230.6 217.5L228.8 214.6M263.3 200.7L257.5 207.1L255 215.4M336.5 200.3L335.2 196.9L335.4 190.5L336.3 184.1L333.2 178L334.6 171.5M305.8 182.3L313.1 180.3L317.8 173.7L325.4 172.4L331.6 168.4M317 78.5L311.2 80.6L306.6 85.2L300.2 86L295.3 89.9L290 93.1L284.2 95.1L278.4 97.4M276.7 95.8L278.4 97.4M279 101.7L278.4 97.4M217.3 0.2L217.1 7.7L219.5 15.1L217.7 22.7M246.8 38.4L243.5 39.1M243.5 39.1L237.7 36.8L233 32.9L227.9 29.4L223 25.7L217.7 22.7M9.2 49.4L8.2 49.9L2.1 53.3L-2.7 58.7M21.3 -4L20.9 2.2L20.6 9.8L23.3 16.7M182 17.9L184.8 12.1L186.5 5.8L187.3 -0.8L189.3 -4M182 17.9L174.9 15L167 16.9L159.8 14.6M171.8 189.2L175.7 184.9M198.4 179.6L194.4 182.1L187.8 181.5L182 183.9L175.7 184.9M122 125.4L119.4 128.3L112.3 131.2L108.8 138.4L101.8 141.4M101.8 141.4L95.5 143.4L89.1 142.1M143.2 128.7L137.2 126L135.7 125.2M331.8 210.4L333.6 216.4L336.5 221.4M312.1 249.5L319.7 251.1L324.7 252.6M299.6 233.6L302.2 228L303.9 222.1L303.7 215.8M139.4 59.8L140.5 53.8L141.7 46.8L140.7 39.8M148.9 36.6L153.8 40.8L159.8 42.5L166.3 42.8L171.7 46M175.6 64.8L172.7 58.8L171.5 52.6L171.7 46M182 17.9L186.6 22.7L188.4 29.2M101.8 141.4L106.4 146.1L109.7 152.1L114.3 156.7L117.7 160.9M121.5 162.7L125.7 163.9L126.2 164.9M153.1 150.3L161.6 152.1M175.7 184.9L172.4 178.6L168.7 172.4L169.1 164.4L162.7 159.4L161.6 152.1M25.9 75.8L23.1 78.8L16 82.4L9.3 86.4M17.6 109.3L16.9 103.1L11.4 98.6L11 92.3L9.3 86.4M-0.7 82.2L-3.5 74.5L0 66.4L-2.7 58.7M140.7 39.8L135.2 35.3L128.4 33.1M128.4 33.1L123.6 37L117.7 39.1L112.2 41.8L107.3 45.4L103 50.2L97 52M97 52L102.2 57.2L104.2 64.4L104.7 65.2M100.2 -4L100.2 -4L98.5 2.3M138.4 -2.3L132.2 2.5L129 10.3L122.2 14.4M128.4 33.1L125.5 27.2L124.7 20.5L122.2 14.4M49 251.3L50.9 252.6M7.4 252.6L7.9 251.9L11.1 246.7L15.5 242.3M15.5 242.3L19.7 247.8L25.4 251.1L30.4 252.6M15.5 242.3L14.8 239.5M50.6 114.3L47.8 119.9L49.5 126.8L47.6 129.2M59.9 219.9L60.2 223M32.7 204L30.3 207.5M33.5 216.9L30.3 207.5M14.8 239.5L19.6 234L24 228.1L29.2 222.8L33.5 216.9M176.6 145.7L184 147.5L191.3 149.2L196.3 152.4M161.6 152.1L168.6 147.9L176.6 145.7M163.3 104L167.6 102.8M49.3 44.5L55.2 49.1L56.8 56.8L62.5 61.5L66.1 67.8M37.2 21.5L41.7 21L47.4 23.4L53.2 25.5M-4 205.8L-0.9 201.3L-0.7 201.2M-0.7 82.2L-4 84.5M232.2 55.5L233.4 62.1L236.1 68.5L237.7 75L237.8 75.4M225 89.6L226.8 89.3L234.1 92.9M199.2 32.3L202.3 39.3L200.6 47.2L201.8 54.5L203.8 59.6M243.5 39.1L241 45.5L236.6 50.5L232.2 55.5M232.3 124.8L233 120.4L233.8 113.6L231.8 106.6L234.6 99.9L234.1 92.9" fill="none" stroke="#e2adc0" stroke-width="1" stroke-linejoin="round"/>
<path d="M334.6 35.4h0M263.3 200.7h0M-0.7 82.2h0M333.4 38.7h0M308.7 133.2h0M308.7 132.2h0M317 78.5h0M285.1 239.4h0M260 228.8h0M217.3 0.2h0M312.1 4.7h0M153.1 150.3h0M331.6 168.4h0M334.6 171.5h0M278.4 97.4h0M243.5 39.1h0M11.8 27.1h0M148.9 36.6h0M140.7 39.8h0M128.4 33.1h0M15.5 242.3h0M159.8 14.6h0M153 -0.1h0M80.5 123.3h0M101.8 141.4h0M89.1 142.1h0M303.7 215.8h0M307.6 212.4h0M171.7 46h0M17.6 109.3h0M53.9 85.8h0M97 52h0M122.2 14.4h0M101 7h0M98.5 2.3h0M14.8 239.5h0M55.8 224.9h0M33.5 216.9h0M30.3 207.5h0M176.6 145.7h0M53.2 25.5h0M232.2 55.5h0" stroke="#ebc2ce" stroke-width="8" stroke-linecap="round"/>
<path d="M258.1 149.2a2.6 2.6 0 1 0 5.2 0a2.6 2.6 0 1 0-5.2 0M264.6 166.4a2.6 2.6 0 1 0 5.2 0a2.6 2.6 0 1 0-5.2 0M219.9 204a2.6 2.6 0 1 0 5.2 0a2.6 2.6 0 1 0-5.2 0M207.7 181.1a2.6 2.6 0 1 0 5.2 0a2.6 2.6 0 1 0-5.2 0M241.2 137.1a2.6 2.6 0 1 0 5.2 0a2.6 2.6 0 1 0-5.2 0M214.8 205.5a2.6 2.6 0 1 0 5.2 0a2.6 2.6 0 1 0-5.2 0M255.3 171.2a2.6 2.6 0 1 0 5.2 0a2.6 2.6 0 1 0-5.2 0M204.1 193.3a2.6 2.6 0 1 0 5.2 0a2.6 2.6 0 1 0-5.2 0M218.8 196.3a2.6 2.6 0 1 0 5.2 0a2.6 2.6 0 1 0-5.2 0M256.6 147.2a2.6 2.6 0 1 0 5.2 0a2.6 2.6 0 1 0-5.2 0M253.6 200.6a2.6 2.6 0 1 0 5.2 0a2.6 2.6 0 1 0-5.2 0M262.8 152.6a2.6 2.6 0 1 0 5.2 0a2.6 2.6 0 1 0-5.2 0M252.8 187.2a2.6 2.6 0 1 0 5.2 0a2.6 2.6 0 1 0-5.2 0M198.4 145.4a2.6 2.6 0 1 0 5.2 0a2.6 2.6 0 1 0-5.2 0M221.9 206.4a2.6 2.6 0 1 0 5.2 0a2.6 2.6 0 1 0-5.2 0M243 183.5a2.6 2.6 0 1 0 5.2 0a2.6 2.6 0 1 0-5.2 0M228.6 125.6a2.6 2.6 0 1 0 5.2 0a2.6 2.6 0 1 0-5.2 0M202.8 131.6a2.6 2.6 0 1 0 5.2 0a2.6 2.6 0 1 0-5.2 0M220.6 138a2.6 2.6 0 1 0 5.2 0a2.6 2.6 0 1 0-5.2 0M245.2 183.9a2.6 2.6 0 1 0 5.2 0a2.6 2.6 0 1 0-5.2 0M253.6 188a2.6 2.6 0 1 0 5.2 0a2.6 2.6 0 1 0-5.2 0M196.3 154.2a2.6 2.6 0 1 0 5.2 0a2.6 2.6 0 1 0-5.2 0M236.5 194.7a2.6 2.6 0 1 0 5.2 0a2.6 2.6 0 1 0-5.2 0M251.5 196.9a2.6 2.6 0 1 0 5.2 0a2.6 2.6 0 1 0-5.2 0M217.4 205.9a2.6 2.6 0 1 0 5.2 0a2.6 2.6 0 1 0-5.2 0M203.1 131.5a2.6 2.6 0 1 0 5.2 0a2.6 2.6 0 1 0-5.2 0M217 205a2.6 2.6 0 1 0 5.2 0a2.6 2.6 0 1 0-5.2 0M260.3 167.6a2.6 2.6 0 1 0 5.2 0a2.6 2.6 0 1 0-5.2 0M208.3 194.4a2.6 2.6 0 1 0 5.2 0a2.6 2.6 0 1 0-5.2 0M214.8 137.3a2.6 2.6 0 1 0 5.2 0a2.6 2.6 0 1 0-5.2 0M197.5 172.5a2.6 2.6 0 1 0 5.2 0a2.6 2.6 0 1 0-5.2 0M241.8 187.6a2.6 2.6 0 1 0 5.2 0a2.6 2.6 0 1 0-5.2 0M237.3 212a2.6 2.6 0 1 0 5.2 0a2.6 2.6 0 1 0-5.2 0M220.6 188.2a2.6 2.6 0 1 0 5.2 0a2.6 2.6 0 1 0-5.2 0M266.5 180.6a2.6 2.6 0 1 0 5.2 0a2.6 2.6 0 1 0-5.2 0M240.6 209.7a2.6 2.6 0 1 0 5.2 0a2.6 2.6 0 1 0-5.2 0M206.2 149a2.6 2.6 0 1 0 5.2 0a2.6 2.6 0 1 0-5.2 0M266.4 166.5a2.6 2.6 0 1 0 5.2 0a2.6 2.6 0 1 0-5.2 0M218.4 195.5a2.6 2.6 0 1 0 5.2 0a2.6 2.6 0 1 0-5.2 0M243.1 189.2a2.6 2.6 0 1 0 5.2 0a2.6 2.6 0 1 0-5.2 0M258.7 145.9a2.6 2.6 0 1 0 5.2 0a2.6 2.6 0 1 0-5.2 0M262 162.9a2.6 2.6 0 1 0 5.2 0a2.6 2.6 0 1 0-5.2 0M199.5 161.4a2.6 2.6 0 1 0 5.2 0a2.6 2.6 0 1 0-5.2 0M256 160a2.6 2.6 0 1 0 5.2 0a2.6 2.6 0 1 0-5.2 0M218.2 207.7a2.6 2.6 0 1 0 5.2 0a2.6 2.6 0 1 0-5.2 0M205.9 129.9a2.6 2.6 0 1 0 5.2 0a2.6 2.6 0 1 0-5.2 0M263.5 160.7a2.6 2.6 0 1 0 5.2 0a2.6 2.6 0 1 0-5.2 0M215.8 202.9a2.6 2.6 0 1 0 5.2 0a2.6 2.6 0 1 0-5.2 0M245.1 189a2.6 2.6 0 1 0 5.2 0a2.6 2.6 0 1 0-5.2 0M255.5 192.4a2.6 2.6 0 1 0 5.2 0a2.6 2.6 0 1 0-5.2 0M200.8 180.3a2.6 2.6 0 1 0 5.2 0a2.6 2.6 0 1 0-5.2 0M204.9 159.9a2.6 2.6 0 1 0 5.2 0a2.6 2.6 0 1 0-5.2 0M236.1 209.7a2.6 2.6 0 1 0 5.2 0a2.6 2.6 0 1 0-5.2 0M259 152.3a2.6 2.6 0 1 0 5.2 0a2.6 2.6 0 1 0-5.2 0M256.1 137.2a2.6 2.6 0 1 0 5.2 0a2.6 2.6 0 1 0-5.2 0M220 191.3a2.6 2.6 0 1 0 5.2 0a2.6 2.6 0 1 0-5.2 0M218 207.5a2.6 2.6 0 1 0 5.2 0a2.6 2.6 0 1 0-5.2 0M259.7 157.1a2.6 2.6 0 1 0 5.2 0a2.6 2.6 0 1 0-5.2 0M261 165.3a2.6 2.6 0 1 0 5.2 0a2.6 2.6 0 1 0-5.2 0M195.2 152.2a2.6 2.6 0 1 0 5.2 0a2.6 2.6 0 1 0-5.2 0M214.2 132.1a2.6 2.6 0 1 0 5.2 0a2.6 2.6 0 1 0-5.2 0M232 214.2a2.6 2.6 0 1 0 5.2 0a2.6 2.6 0 1 0-5.2 0M257.9 169.6a2.6 2.6 0 1 0 5.2 0a2.6 2.6 0 1 0-5.2 0M240.4 204.4a2.6 2.6 0 1 0 5.2 0a2.6 2.6 0 1 0-5.2 0M199.4 177.7a2.6 2.6 0 1 0 5.2 0a2.6 2.6 0 1 0-5.2 0" fill="none" stroke="#e3a8bc" stroke-width="0.8"/>
<path d="M259.5 149.7h0M227.2 132.3h0M250.9 188h0M211.2 144.9h0M235.4 211.6h0M208.8 151.8h0M269.1 167.4h0M260.1 186h0M204.6 167.2h0M252.9 190.3h0M215.7 140.4h0M212 177h0M243.7 137.7h0M225.5 210.5h0" stroke="#f1dbe0" stroke-width="5" stroke-linecap="round" opacity="0.8"/>
<path d="M-5 100C-0.8 101.5 10.9 107 20.4 109.2C29.9 111.5 41.6 110 52.2 113.5C62.8 117 73.4 124.8 84 130.4C94.6 136.1 105.2 142.5 115.8 147.4C126.4 152.3 138.7 155.9 147.6 160C156.5 164.1 161.9 167 169 172C176.1 177 183.2 183.3 190 190C196.8 196.7 203.7 204 210 212C216.3 220 223 229.2 228 238C233 246.8 238 260.5 240 265" fill="none" stroke="#f3b5c3" stroke-width="22" stroke-linejoin="round"/>
<path d="M-5 100C-0.8 101.5 10.9 107 20.4 109.2C29.9 111.5 41.6 110 52.2 113.5C62.8 117 73.4 124.8 84 130.4C94.6 136.1 105.2 142.5 115.8 147.4C126.4 152.3 138.7 155.9 147.6 160C156.5 164.1 161.9 167 169 172C176.1 177 183.2 183.3 190 190C196.8 196.7 203.7 204 210 212C216.3 220 223 229.2 228 238C233 246.8 238 260.5 240 265" fill="none" stroke="#e6a0b4" stroke-width="16.5" stroke-dasharray="1.2 2.8" opacity="0.5"/>
<path d="M-5 100C-0.8 101.5 10.9 107 20.4 109.2C29.9 111.5 41.6 110 52.2 113.5C62.8 117 73.4 124.8 84 130.4C94.6 136.1 105.2 142.5 115.8 147.4C126.4 152.3 138.7 155.9 147.6 160C156.5 164.1 161.9 167 169 172C176.1 177 183.2 183.3 190 190C196.8 196.7 203.7 204 210 212C216.3 220 223 229.2 228 238C233 246.8 238 260.5 240 265" fill="none" stroke="#f5ccd5" stroke-width="4.4" opacity="0.6"/>
<path d="M165 168C169.5 171.3 184.2 180.7 192 188C199.8 195.3 205.7 203.3 212 212C218.3 220.7 225 231.2 230 240C235 248.8 240 260.8 242 265" fill="none" stroke="#eebccb" stroke-width="34" stroke-linejoin="round"/>
<path d="M165 168C169.5 171.3 184.2 180.7 192 188C199.8 195.3 205.7 203.3 212 212C218.3 220.7 225 231.2 230 240C235 248.8 240 260.8 242 265" fill="none" stroke="#e6a0b4" stroke-width="25.5" stroke-dasharray="1.2 2.8" opacity="0.5"/>
<path d="M165 168C169.5 171.3 184.2 180.7 192 188C199.8 195.3 205.7 203.3 212 212C218.3 220.7 225 231.2 230 240C235 248.8 240 260.8 242 265" fill="none" stroke="#f5ccd5" stroke-width="6.8" opacity="0.6"/>
<path d="M-5 184C1 187.8 19.7 200.1 31 206.7C42.3 213.3 55.7 218.8 62.8 223.7C69.9 228.6 71.4 229.5 73.4 236.4C75.4 243.3 74.7 260.2 75 265" fill="none" stroke="#f3b5c3" stroke-width="24" stroke-linejoin="round"/>
<path d="M-5 184C1 187.8 19.7 200.1 31 206.7C42.3 213.3 55.7 218.8 62.8 223.7C69.9 228.6 71.4 229.5 73.4 236.4C75.4 243.3 74.7 260.2 75 265" fill="none" stroke="#e6a0b4" stroke-width="18.0" stroke-dasharray="1.2 2.8" opacity="0.5"/>
<path d="M-5 184C1 187.8 19.7 200.1 31 206.7C42.3 213.3 55.7 218.8 62.8 223.7C69.9 228.6 71.4 229.5 73.4 236.4C75.4 243.3 74.7 260.2 75 265" fill="none" stroke="#f5ccd5" stroke-width="4.8" opacity="0.6"/>
<path d="M-5 240C-0.8 242 13.8 247.8 20 252C26.2 256.2 30 262.8 32 265" fill="none" stroke="#f3b5c3" stroke-width="10" stroke-linejoin="round"/>
<path d="M-5 240C-0.8 242 13.8 247.8 20 252C26.2 256.2 30 262.8 32 265" fill="none" stroke="#e6a0b4" stroke-width="7.5" stroke-dasharray="1.2 2.8" opacity="0.5"/>
<path d="M-5 240C-0.8 242 13.8 247.8 20 252C26.2 256.2 30 262.8 32 265" fill="none" stroke="#f5ccd5" stroke-width="2.0" opacity="0.6"/>
<ellipse cx="173.8" cy="145" rx="7" ry="7" fill="#f1e9e3" stroke="#f3b5c3" stroke-width="4"/>
<ellipse cx="173.8" cy="145" rx="13" ry="13" fill="none" stroke="#e2adc0" stroke-width="1"/>
<path d="M331.6 16.3h0M331.3 17h0M265.7 201h0M332.7 37.9h0M310 130.9h0M323.6 92.5h0M319.2 48.5h0M315.8 70.9h0M316.4 76.8h0M323.2 84.7h0M260 227.8h0M250.7 243.2h0M259.8 229.6h0M255.2 233.4h0M226.7 230.3h0M221.4 244.2h0M226 234.2h0M232.3 250.9h0M230.8 251.6h0M242.7 214.1h0M245.9 214.8h0M242.1 215.5h0M258.1 224.2h0M256.6 216.7h0M311.4 -1.1h0M296.3 40.8h0M308.5 54.4h0M255.6 210.4h0M335 187.3h0M298.5 179.8h0M303.8 182.1h0M331.5 160.5h0M331.6 159.4h0M320.6 173.3h0M296.1 120.3h0M285.1 106.6h0M297.9 120.5h0M285.7 106.4h0M308.1 130.5h0M270.8 114.6h0M308.7 82h0M280.3 96.6h0M278.2 98.6h0M218.2 20h0M231.5 33h0M219.5 23.9h0M227.4 28.2h0M7.4 51.9h0M20.8 6.6h0M20.1 7.1h0M21.1 8.3h0M164.6 16.8h0M172.5 15.7h0M121 126.1h0M113.8 130.6h0M100.2 140.6h0M151.6 120h0M150.5 121.3h0M333.9 212.9h0M301.3 236.4h0M298.9 235.2h0M321.4 250.8h0M303.6 220.7h0M302.1 225.1h0M299.5 231.7h0M305.4 193.3h0M140.2 43.5h0M162.3 68.7h0M147.2 38.1h0M167.3 43.5h0M156.5 41.3h0M160.1 42.3h0M171.1 54.8h0M186.4 24.8h0M183.8 33.4h0M191.5 30.2h0M116.3 157.7h0M168.2 171.7h0M170.9 177.5h0M161.8 158.3h0M169.6 166.1h0M174.6 181.1h0M144.3 129.2h0M11.6 94.6h0M14.8 100.4h0M31.6 109h0M38.5 110.2h0M53.4 86.5h0M51.4 94.2h0M-0.8 70.3h0M134 34.8h0M135.8 35.3h0M114.4 39.7h0M115.9 40.3h0M102.5 58.8h0M75 122.9h0M57.4 116.9h0M82.9 90.9h0M130.8 4.7h0M123.1 13.5h0M99.9 4.8h0M94.5 2.6h0M78 -2.2h0M50.5 223.8h0M43.3 218.9h0M53.7 223.6h0M52.1 235.9h0M55.9 231.3h0M49.3 250h0M14.6 239.9h0M179.5 136.7h0M176.1 142.9h0M176.4 145.7h0M195.7 150.9h0M172 147.2h0M65.5 66.3h0M50.1 33.1h0M53.6 24.8h0M83.4 35.5h0M89.5 45.5h0M44.8 48.4h0M43.3 22h0M86.8 33h0M92.7 26.7h0M29.7 205.9h0M215.9 61.4h0M232.2 91h0M200.9 37h0M200.1 47h0M241.6 42.2h0M236.9 51.4h0M234.1 99.6h0M233.9 117.3h0M233.7 121.3h0M219.9 2.9h0M331 173.4h0M247.3 38.1h0M139.9 41.4h0M130.5 35.1h0M158.1 11.3h0M149.6 -2.1h0M156.7 2h0M84.6 121.4h0M99.4 141.5h0M84.6 144.3h0M86.1 143.8h0M88.2 139.6h0M301.3 213.6h0M303.2 218.5h0M19.3 112h0M51.6 84.1h0M97.2 6.8h0M96.9 6.6h0M103.7 8.7h0M56.9 227.8h0M233.9 240.8h0M76.3 126.7h0M196.3 198.3h0M224.6 245.4h0M209.2 215.2h0M121.4 145.7h0M27.6 107.4h0M113.1 141.6h0M113 140.9h0M79.8 142.4h0M200.8 187.8h0M203.1 213.1h0M116.7 141h0M216.6 215.4h0M108.2 152.2h0M151.1 157.7h0M178.4 175.9h0M189.4 183.9h0M189.5 202.9h0M205.8 188.1h0M213.3 235.3h0M181 184.7h0M25.3 209.9h0M11.2 244.9h0" stroke="#9e5a8e" stroke-width="2.0" stroke-linecap="round" opacity="0.72"/>
<path d="M223.5 209.4h0M264.4 190.5h0M228 195h0M223.1 193.8h0M248 202.7h0M250.6 145.4h0M200.4 141.2h0M271.9 164.1h0M248.8 130.7h0M235.8 192.4h0M244.5 208.8h0M268 170.4h0M231 202.4h0M239.1 194.6h0" stroke="#a8689e" stroke-width="2.0" stroke-linecap="round" opacity="0.45"/>
<path d="M332.4 22.5h0M332.2 5.4h0M286.8 166.1h0M284.9 163.7h0M287.5 170h0M265.8 200h0M261.4 198.5h0M271.2 196.1h0M274.7 192.8h0M334.8 37.3h0M333.5 117.7h0M329.6 117.7h0M317.2 123.4h0M313.7 130.1h0M333.2 85.8h0M317.8 119.6h0M323.4 89.8h0M323.7 93.5h0M321.3 104.7h0M314 51.7h0M321.5 46.3h0M321.2 47.8h0M317.3 74.8h0M316 78.4h0M282.4 250.6h0M283.1 239.5h0M282.6 238.9h0M276.7 237.3h0M254.4 234.1h0M228.6 230.4h0M251 216.5h0M319.4 7.8h0M312.1 4.3h0M257.2 -2h0M273.3 -2.5h0M294.6 37.3h0M251 -0.2h0M300.8 51.6h0M302.4 10.9h0M311.6 5.1h0M202.2 209.8h0M256.4 208.5h0M333.7 176h0M334.1 176.9h0M289.6 148.1h0M299.5 141.9h0M283.8 155.8h0M287.9 150.3h0M292.6 144.6h0M332.5 160.4h0M326.7 172.5h0M322 172h0M315.7 176.3h0M307.2 128.6h0M289.3 111.7h0M259 124.6h0M259.1 127.2h0M275.1 105.5h0M272.5 111h0M270.2 115h0M312.5 79.8h0M305.7 86.5h0M309.4 81.6h0M217.5 3.6h0M219 16.5h0M217.2 8.8h0M245 38h0M241.3 39.7h0M9.1 50.4h0M20.8 6h0M184.6 14.7h0M181.5 16.2h0M187.3 1.7h0M157.7 11.7h0M159.4 13.1h0M155.2 -0.5h0M173.6 188.3h0M181 184.7h0M192.1 181h0M184.7 181.8h0M86.6 109.3h0M82.9 115.9h0M111.6 132.4h0M102.8 141.6h0M138.5 127.4h0M334 217.7h0M299.5 235.6h0M305.9 214h0M333.9 206.7h0M305.7 195.1h0M304.8 197.2h0M305.5 208.4h0M287.3 238.1h0M296.7 233h0M141 55h0M140.8 39.5h0M166.5 66.5h0M156.5 40.9h0M170.3 52.6h0M174.2 63.4h0M174.9 41.4h0M181 36h0M207.5 29.7h0M205.3 31h0M86 144.4h0M112.2 154h0M115.5 156.4h0M155.7 149.9h0M170.6 175.4h0M170.7 177h0M143.1 128.4h0M147.6 136.6h0M21.2 78.6h0M10.2 88.2h0M8.9 88.4h0M37.6 109.5h0M32.1 108h0M49.7 107.7h0M7.9 86.2h0M6.5 84.6h0M-2.9 72.2h0M-2.6 76.2h0M119 39.4h0M125.4 36.3h0M106.3 45.3h0M106.4 47.3h0M97.6 53.7h0M70.4 121.9h0M74.2 123.9h0M63.2 80h0M59.7 81.5h0M65.1 81.4h0M65 80.2h0M78 85.5h0M134.3 -0.6h0M82 -1.1h0M129.3 33.2h0M8.8 250.3h0M24.2 251.6h0M15.8 242.6h0M15.1 240.8h0M5.1 235.3h0M49 120.2h0M59.8 220.6h0M30.6 205.8h0M30.9 210.4h0M62.5 222.5h0M52.2 234.3h0M22.4 231.1h0M32.6 217.6h0M12.5 116.5h0M210.4 125.1h0M182.6 123h0M179.9 134h0M195.9 152.4h0M166.7 149.1h0M61.1 60.4h0M57.2 54.5h0M57 53.5h0M50.8 33.5h0M50.5 43h0M61.1 27.9h0M81.5 33.6h0M67.6 29.2h0M68.3 29.8h0M94.1 49.4h0M89 41.4h0M49.9 24h0M95.2 23.1h0M96.1 16.7h0M88.1 28.4h0M218.5 61.1h0M215.3 60.1h0M229.9 56.5h0M233 62.7h0M232.7 57.4h0M237.3 70.8h0M233.2 91.7h0M202.1 41.7h0M202 42.9h0M202.7 58h0M234.7 51.9h0M234.7 98.2h0M231.3 104.7h0M332.1 33.8h0M333.6 36.6h0M265.9 202.5h0M335.4 40.6h0M305.2 135.3h0M311.9 134.4h0M310.2 129.6h0M319.5 78.5h0M289.1 239.4h0M258.6 231.1h0M218.1 2.7h0M309.6 6.3h0M311.3 2.2h0M313.1 6.4h0M153.4 150h0M155.4 148.8h0M333 167.1h0M275.2 95.6h0M276.7 99.2h0M12.2 26.4h0M12.2 25.2h0M13.6 27.5h0M148.7 39.2h0M148.5 38.7h0M130.9 34h0M13.3 243.6h0M157.3 15.9h0M150.6 -2.4h0M152 3.9h0M103.6 138.6h0M173.2 47.6h0M55.6 84.4h0M99.7 49h0M120.6 12.7h0M104.4 7h0M99.5 3.4h0M57.3 225.1h0M31.3 209.4h0M31.3 209.4h0M174.7 146.4h0M49.7 25.3h0M49.9 22.6h0M234.8 54.1h0M50.9 108.4h0M124.1 143h0M157.5 154.7h0M70.3 124.7h0M66.5 124.2h0M72.7 135.6h0M143.2 144.4h0M193 177.8h0M75.6 122.5h0M106.4 150h0M213.1 233.1h0M176.5 176.5h0M102.6 138.3h0M-1.4 96.8h0M239.6 245.5h0M123.8 141.1h0M174.1 181.6h0M222.3 238.5h0M196.4 206.9h0M202.7 205.5h0M117.1 146.2h0M18.2 108.8h0M208.5 214.3h0M175.6 178.1h0M175 179.9h0M-2.1 114.9h0M193.5 166.9h0M186.2 192.1h0M180 170.7h0M223.1 224.8h0M243.2 242.7h0M181.9 177.7h0M233.4 250.3h0M202.9 172.5h0M14 204h0M34.3 211h0M2.9 207.6h0M12.2 247.9h0M169.4 150.4h0M168.1 149h0M174.1 138h0M180.7 146h0M169.5 139.5h0M170.8 138.7h0M177.3 151.1h0M167 146.8h0" stroke="#9e5a8e" stroke-width="2.5" stroke-linecap="round" opacity="0.72"/>
<path d="M203.8 187h0M207.8 171.3h0M268.5 158.4h0M214.8 189h0M246.8 134.5h0M229.7 214.6h0M231.8 132.7h0M204.3 166h0M242 205.9h0M257.7 134.3h0M237.4 135.4h0M199.5 159.9h0M238.6 190.2h0M223.6 197.4h0M205.6 170.3h0M229.7 206.4h0M263.9 182.9h0M232 125.8h0M226 187.7h0M261 160.7h0M220.2 126.8h0M232.7 206.5h0M260.6 162.9h0M204.5 181.9h0M217.1 181.2h0M221.2 130.7h0M222 188.8h0M262.1 167.5h0M263.3 141.6h0M255.6 174.2h0M238.1 211.4h0M245.4 127h0M235.4 212.1h0M266.7 174.5h0M198.5 148.4h0M198.5 141.9h0M202.2 165.5h0M236.7 192.9h0M254.4 175.8h0M270.6 163.1h0" stroke="#a8689e" stroke-width="2.5" stroke-linecap="round" opacity="0.45"/>
<path d="M331.9 28.9h0M331 14.1h0M333.6 2.8h0M286.2 176.8h0M277.6 187.6h0M280.5 181.7h0M280.1 182.9h0M325.1 123.2h0M328.7 120.4h0M322.8 98.6h0M283.7 242.5h0M268.8 230.2h0M224.2 234.2h0M230.8 223h0M219.8 -0h0M325.2 8.6h0M202.5 209.7h0M205.5 208.1h0M260.1 203.4h0M335.1 190.8h0M332.6 178.1h0M283.8 153.7h0M293.1 174.4h0M297.3 177.7h0M305.7 181.6h0M333 168.6h0M281.2 104.8h0M306.3 84.9h0M297.3 88.5h0M311.1 80.8h0M272.7 66.8h0M230.3 31.3h0M166.3 17.5h0M169.6 15.8h0M153 2.4h0M177.1 183.6h0M86.9 107.4h0M81.5 117.8h0M110.2 135.1h0M112.3 132.9h0M322.7 251.5h0M303 219.7h0M306 192h0M298.4 232.8h0M162.9 69.4h0M187.2 25.1h0M184.8 33.4h0M206.7 28.9h0M198.6 32.2h0M111.2 152.8h0M156.5 151.2h0M147 132.5h0M145.6 131.8h0M17.2 81.2h0M23.5 77.3h0M19.3 108.3h0M51.7 90.2h0M79.3 122.9h0M69.3 85.4h0M65.2 81h0M98.2 -0.3h0M129.3 7.8h0M149 -0.2h0M144.8 -2.6h0M123.8 20.1h0M123.7 20.6h0M14.4 244.1h0M25 250.3h0M6.9 234.1h0M6.7 235h0M50.2 116.1h0M48.1 126.3h0M54.2 224.4h0M33.4 217.2h0M32.4 216.5h0M29.8 220.7h0M15.7 112h0M178.2 135.4h0M54.8 47.9h0M69.2 28.2h0M41 22.1h0M90.8 28.2h0M95 51.5h0M26.5 205.6h0M232.9 111h0M266.8 201.1h0M-1.5 85.8h0M-0.6 85.1h0M306.8 132.3h0M311.4 131.7h0M319.6 79.8h0M284.1 236.9h0M287.3 237h0M282.5 241.7h0M331.9 168.5h0M333.4 165.9h0M279.6 99.8h0M278.3 100.3h0M8.3 27.8h0M128.1 33.2h0M157.4 17.4h0M81.3 127.1h0M103.1 142.8h0M104.3 138.6h0M91 137.6h0M303.6 217.8h0M306.1 218.2h0M304.3 215.2h0M15.9 111.9h0M50.6 86.1h0M51.9 85.3h0M94.6 49.2h0M98.1 47.7h0M121.2 11.4h0M120 17.1h0M125.8 13.5h0M13.6 239.2h0M11.4 239.1h0M52.6 222.5h0M36.8 221.1h0M52.9 28.8h0" stroke="#9e5a8e" stroke-width="3.0" stroke-linecap="round" opacity="0.72"/>
<path d="M253.4 135.2h0M207.1 172.5h0M264.3 138.4h0M243.4 185.7h0M244.2 199.9h0M239.3 192h0M258.5 180.3h0M243.7 134.2h0M259.3 154h0M200.3 173.1h0M233.5 130.5h0M269.2 179.8h0M208.1 183.5h0M241.1 196.6h0M228 130.3h0M229.3 192h0M216.6 133.6h0M256.2 187.4h0M252.8 142.8h0M242.4 136.5h0M218.7 127.9h0M215.4 141.5h0M251.6 186.8h0M245.1 191.7h0M227.8 212.2h0M269.2 153.5h0M201 166.7h0M268.1 170h0M233.4 186.8h0M258.1 146.8h0M266.4 148.6h0M206.6 168.8h0M213.4 132.1h0M226.5 205.7h0M269.6 152.7h0M225.5 204.4h0" stroke="#a8689e" stroke-width="3.0" stroke-linecap="round" opacity="0.45"/>
</g>
<rect x="288.4" y="237.9" width="41.4" height="7.7" fill="#fff" stroke="#555" stroke-width="1.2"/>
<text x="309.1" y="243.4" font-family="Liberation Sans, Arial, sans-serif" font-size="5.5" text-anchor="middle" fill="#333">50 μm</text>
</g>
<g transform="translate(957.9,926.5)" clip-path="url(#hc4)"><g filter="url(#soft)">
<clipPath id="hc4"><rect width="331.1" height="250.9"/></clipPath>
<rect width="331.1" height="250.9" fill="#f1e9e3"/>
<path d="M100 -5C112.8 -9.2 177.8 -10.8 195 -5C212.2 0.8 200 17.5 203 30C206 42.5 207.2 55.3 213 70C218.8 84.7 230.5 108.8 238 118C245.5 127.2 255.7 121 258 125C260.3 129 255.7 137.5 252 142C248.3 146.5 238.3 142.3 236 152C233.7 161.7 239.3 181.7 238 200C236.7 218.3 251.8 251.7 228 262C204.2 272.3 118 269.3 95 262C72 254.7 85 227.8 90 218C95 208.2 118.3 214.3 125 203C131.7 191.7 132.5 162.5 130 150C127.5 137.5 121.7 134.2 110 128C98.3 121.8 67.8 119 60 113C52.2 107 55 95 63 92C71 89 98 100.3 108 95C118 89.7 121.3 72.5 123 60C124.7 47.5 121.8 30.8 118 20C114.2 9.2 87.2 -0.8 100 -5Z" fill="#ecc2cf" opacity="0.95"/>
<path d="M62 35C65.7 30.5 72 28.8 80 28C88 27.2 102.5 26.3 110 30C117.5 33.7 123 40.8 125 50C127 59.2 125.3 76.7 122 85C118.7 93.3 112.8 97.2 105 100C97.2 102.8 82.5 104.5 75 102C67.5 99.5 62.8 92.8 60 85C57.2 77.2 57.7 63.3 58 55C58.3 46.7 58.3 39.5 62 35Z" fill="#eecbd5" opacity="0.9"/>
<path d="M70 63.6a23 23 0 1 0 46 0a23 23 0 1 0 -46 0Z" fill="#f1e9e3" stroke="#f3b5c3" stroke-width="4"/>
<path d="M35 150C38.7 145.3 50 139.7 59 138C68 136.3 79.8 138 88.8 140C97.8 142 108.3 144.9 113 150C117.7 155.1 117.3 163.7 117 170.4C116.7 177.1 114.6 184.7 111 190C107.4 195.3 102.1 201 95.2 202C88.3 203 76.6 199.3 69.6 196C62.6 192.7 58.4 187 53 182C47.6 177 40 171.3 37 166C34 160.7 31.3 154.7 35 150Z" fill="#f1e9e3"/>
<path d="M201 -5C207.2 -12.8 234 -12.8 242 -5C250 2.8 247.8 27 249 42C250.2 57 249.7 74.7 249 85C248.3 95.3 248.2 101.5 245 104C241.8 106.5 234.8 105 230 100C225.2 95 220.2 83.7 216 74C211.8 64.3 207.5 55.2 205 42C202.5 28.8 194.8 2.8 201 -5Z" fill="#f1e9e3"/>
<path d="M168 185a7 11 0 1 0 14 0a7 11 0 1 0 -14 0Z" fill="#f1e9e3"/>
<path d="M145 35a5 5 0 1 0 10 0a5 5 0 1 0 -10 0Z" fill="#f1e9e3"/>
<path d="M199 135a6 5 0 1 0 12 0a6 5 0 1 0 -12 0Z" fill="#f1e9e3"/>
<path d="M56.1 138.7L55.8 137.7L55.4 131.1L54 124.7M43.9 123.3L54 124.7M-4 139.8L-2.2 140L4.1 140.8M4.1 140.8L6 133.4L10 126.9M-1.3 70.8L-4 66.5M-4 37.3L1.5 36.5M2.1 192.2L-2.3 181.3M-4 248.2L-0.7 249.9M-2.2 254.9L-0.7 249.9M34.8 134.1L27.2 134.9M27.2 134.9L21.6 129.1L15.5 124.6M31.3 113.6L38 114.9M322 230.1L329.9 234.2M317 254.9L313.6 251.5L306.4 246.6M335.1 229.8L334.8 230.3L329.9 234.2M335.1 176.9L334.3 170.1M318 158L323.2 154.7L328.8 152.3L334 149M64.9 115.8L70.2 120.4L76.1 124.1L81.1 129M64.9 115.8L59.8 120.7L54 124.7M81.1 129L80.2 136.8M-4 227.3L-0.9 226L2.7 225.6M-0.7 249.9L5 246.1L9.8 241.1M9.2 237.6L9.8 241.1M22.8 148.4L15.3 149.3L7.6 148.8M33.3 153.9L28 154.8M33.7 95.7L34 95.6L42.5 93.3M0.6 92.6L3.3 90.6M42.5 93.3L41.5 86.5L41 79.8M27.6 80.1L34.2 78.7L41 79.8M-1.3 70.8L4.3 68.2L10.8 68.3L16.4 65.7M19.4 75.3L18.7 72.1L16.4 65.7M18.1 60.9L16.4 65.7M10.5 13.1L13.2 7.1L17.1 1.8L21.1 -3.5M322.4 169.3L318.1 176.6M309.1 133L306.6 135.3M300.9 170.5L302.3 166.3M300.9 170.5L294.4 170.8L288 172.1M318.1 176.6L312 177.8L305.7 177.3M332.7 96.2L329.8 85M329.8 85L334.8 79.8L335.1 79.5M246.2 250L254.9 250.1M254.9 250.1L260.1 254.4M262.1 237.2L269.7 237.9L277.3 238.8M262.1 237.2L258.5 243.7L254.9 250.1M277.3 238.8L277 245.1L276.3 251.4M279.2 254.9L276.3 251.4M80.2 136.8L83.1 138.9M90.8 123L97.6 125.8L103.6 129.9M103.6 129.9L104.1 136.3L104.3 142.6M104.3 142.6L101.9 143.6M269.8 157.2L266.4 157.1M257.1 -4L253.3 -1.7M60.6 86.6L57.3 90.7L52.9 98.4M44 215.5L38.8 211.1L34.9 208M4.8 193.1L8.4 199.1L10.5 201.4M18.6 184.9L25.3 187.7M37.8 174.9L31.8 181.5L25.3 187.7M4.8 193.1L11.7 189L18.6 184.9M28.7 200.9L29.5 198.6M69 254.9L73.3 251.4M53 254.9L53.7 253.4L55.5 246.6L57.7 239.9M57.7 239.9L64.2 240.4L70.7 239.5M70.7 239.5L71.9 245.4L73.3 251.4M0.6 174.2L6.5 171.4L12.5 168.9M0.6 174.2L-4 169M14.6 169.6L12.5 168.9M44.2 74.8L40.5 69.4L37.1 63.6L33.7 58M39.4 28.9L39.3 29.1L36.4 34.6M36.4 34.6L28.4 33.2M11.6 18.5L17.2 20.7L23.2 21.9M20 39.9L28.4 33.2M300.8 246.8L297.1 240.6L293 234.6M293 234.6L286.4 235.3L279.8 236M301.5 195.1L292.1 195.9M293 234.6L298.1 223.8M286.4 212.5L292.8 217.6L298.1 223.8M280.5 114.1L282.2 120L282.9 126.1M286.4 106.8L292.8 108.8L299.1 111.1L301.9 112.2M282.9 126.1L290.1 127.2L297.3 125.2L304.6 125.9M309.1 133L304.6 125.9M286.4 106.8L287.3 99.3L286.6 91.8M332.9 1.8L335.1 5.1M316.6 4.3L317.2 11.6L320.3 18.3L320.8 25.6M335.1 22.5L328.2 23.3L320.8 25.6M316.7 -4L316.7 -3.8L318.6 2M246 173.3L242.2 166.5L237.7 160.1M246 173.3L251.6 169L257.5 165.2L264 162.3M248.6 147.2L242.5 153.1L237.7 160.1M235.5 159.4L237.7 160.1M245.7 174.5L238.4 175.3L237 175.9M245.7 174.5L245.9 176.9M262.1 237.2L261.1 233.9M319.4 28L320.8 25.6M316.6 4.3L308.8 6.1L300.9 6.6M292.3 -4L290.9 1.2M290.9 1.2L300.9 6.6M272.6 65.1L274.8 63.5M268.3 45.5L261.7 42.7M254.2 59.2L251.3 60.4M248.8 38.6L251 38.5L259.8 38.6M261.7 42.7L259.8 38.6M56.7 -3.2L65 4.2M79.5 -4L79.1 1.5M65 4.2L72.2 3.7L79.1 1.5M56.1 71.6L54.5 63.1L53 54.5M33.7 58L41.5 49.6M41.3 41L41.5 49.6M51.6 214.8L44 215.5M51.6 214.8L54.6 207.5L56.5 199.8M29.5 198.6L36.6 196.4L43.9 194.7L50.7 191.5M43.7 175L50.3 184M50.3 184L53.7 182.7M37.8 174.9L43.7 175M50.7 191.5L50.3 184M14.7 242.7L19.5 250L23.4 254.9M33.8 234.1L39.3 238.9M57.7 239.9L52.3 236.3M9.8 241.1L14.7 242.7M51.6 214.9L51.7 222L52 229.1L52.3 236.3M51.6 214.9L57.5 216.4L62.7 220L68.6 221.5M71.8 238.1L69.1 230L68.6 221.5M302.9 196L304.2 202L305 208.1L307.7 213.8L308.1 220M335.1 206.3L332.3 207.1L325.9 208.1M298.1 223.8L308.1 220M270.5 112L268 106.2L264 101.2M270.5 112L280.5 114.1M284.6 90L286.6 91.8M284.6 90L278.4 88.2L272 86.9M264 101.2L267.7 93.8L272 86.9M272.6 65.1L270.6 71L270.3 77.3L269.4 83.5M251 61L251.8 68L255.2 74.3L255.9 81.3M274.8 63.5L283.3 65.4L292 66.8M284.6 90L287.4 84.5L289 78.6L289.2 72.3L292 66.8M272 86.9L269.4 83.5M293.5 66.1L294 59.2M298 29.9L300.6 37.8L302 46M299.3 48L302 46M112.4 146.9L115.1 153.1M115.7 154.6L116.9 157.3M112.4 146.9L104.3 142.6M80 211.1L86.9 210.5M86.5 201.5L86.8 203.5L86.9 210.5M85.2 228.5L85.4 227.1L88.3 219.8L89.7 212.2M95.7 212.4L89.7 212.2M89.7 212.2L86.9 210.5M127.4 197.3L120.6 202M120.6 202L113.3 199.2L106.9 195.1M119.8 207.7L120.6 202M283.6 20.1L284.5 14.1L286.7 8.1L288.2 1.9M277.3 -4L280.2 -0.1M247.8 103.6L244.7 108M244.7 108L238.6 108.7L232.5 109.5M264 101.2L255.8 101.7L247.8 103.6M254.5 123.5L252.5 119.1L248.1 113.9L244.7 108M310.2 66L309.9 63.4L310.4 56.2L310.6 49.1M329.7 61.9L332.2 51.7M322.9 42.5L330.5 47.2M335.1 70.1L333.5 68.5L329.7 61.9M319.4 28L321.2 35.2L322.9 42.5M335.1 52.2L332.2 51.7M335.1 43.8L330.5 47.2M121.4 175.5L129.1 173.9L131.1 173.8M261.9 30.1L257.8 25.3L253.2 21L248.2 17.3M272.3 24.4L270.8 16.7L267.6 9.5M267.6 9.5L261.4 8.1L255.3 6.7M63.6 31.1L63.5 33.4M79.1 1.5L81 2.7M81 2.7L81.2 11.7L82.1 20.6M104.5 11.6L104.3 21.2M104.5 11.6L108.3 9.3" fill="none" stroke="#e8c2ce" stroke-width="0.8"/>
<path d="M6.9 234.9L4.5 238.7M4.5 238.7L-2 237L-4 235M23.1 254.9L30.3 253.7L32.8 254.9M49.7 254.9L50 252.8L53.4 244.8M37.6 224.6L38.2 225.9L42 230.6L44.8 236.1L50.1 239.7L53.4 244.8M70.9 213.3L66.6 207.7L59.3 205.9L54.6 200.8M87 207.5L86.9 201.6M56.3 189.7L59.5 188.4M56.3 189.7L54.6 200.8M36.2 210.4L36.3 210.2L44.3 210L48 203.1L54.6 200.8M53.4 244.8L61.4 242.1L67.6 236.3M118.9 187.2L117.3 193.6L119.3 200.2L118 206.6L117.8 208.6M118.9 187.2L113.6 185.3M31.9 170.1L35.7 175.4L42.7 176.7L47.4 180.7L50.4 187L56.3 189.7M16 198.6L15.9 194.4L19.1 187.4L20.5 180L21.3 172.6M21.3 172.6L31.9 170.1M118.3 148.8L121.4 154.6L125.1 160L129 165.4L129.1 172.7L131.1 174.9M246.8 -2.2L245.1 -4M260.3 -0L267.2 -3L267.9 -4M40.5 101.7L38 109L40.3 116.6L37.5 123.9L38.8 131.5M38.8 131.5L31.9 133.4L24.8 132.2L17.8 132.2L10.8 132.9L3.9 134.5M47.7 141.6L47.4 141.5L42.1 137.6L38.8 131.5M15.2 168L11.5 161.8L9.3 155.1L8.7 147.8L5.4 141.5L3.9 134.5M-4 133.3L0.1 131.8M46.9 -4L43.6 2.1L36.6 4.6M12.9 28.8L10.7 37.1M10.7 37.1L5.2 40.2L-1.1 39.9L-4 40M-2 6.6L-4 6.4M30.3 16.5L29.4 17.1L24 21.2L18 24.4L12.9 28.8M21.1 55.1L18.3 48.8L13.4 43.6L10.7 37.1M35.6 59.2L41.4 56.5L44.9 51.5L47.8 45.8L53 42.6L57 38L60.9 36.7M0.4 92.9L-4 91.5M286.7 91.6L287.1 98.2L284.2 104.7L284.4 111.3L285.9 117.9M285.9 117.9L291.2 121.1L296.7 123.9L301.3 128.1M301.3 128.1L305.3 125.7M335.1 117.9L332.8 112.2M333.1 111.8L335.1 105.9M260.3 -0L264.4 5.9L262.7 13.6L264.9 20.1L268.6 26.1M248.7 36.7L254.6 33.8L260.6 30.8L267.1 29.6M325 6.2L329 0.6L334.7 -2.8L335.1 -3.1M324.1 10.5L329.3 14.2L332.4 20L335.1 21.7M320.6 -4L322.2 -0.2L325 6.2M303.3 19.3L311 18.2L317.1 13.3L324.1 10.5M318.6 59.8L322.7 54.3L329.5 52.5L335 48.7L335.1 48.7M318.6 59.8L310.6 56.7L304.6 50.7M99.6 142.9L97.8 139.4L97.3 132.9L96.3 126.6L96.4 123.4M275.8 60.7L272.6 67.3M272.6 67.3L273.5 73.6L275.4 79.5L277.1 85.6M259.8 144.6L254.6 139.5L253.9 139.4M259.8 144.6L263.4 138.1L264 130.4L267.9 124M267.9 124L265.4 117.6L259.9 113.3L255.4 108.3L252.6 102.1M246.4 102.3L252.6 102.1M285.9 117.9L279.7 119.5L273.8 121.6L267.9 124M277.1 85.6L271.7 90.8L265.8 95.3L259.8 99.6L252.6 102.1M335.1 146.1L333.6 146.4L327.2 150L319.7 149.6L313 152.3L311.6 152.7M320.6 184.3L319.1 186.9M55.4 102.6L51.6 99.9L45 98.5M45 98.5L48.4 91.3L48.6 83.4L50.3 75.8M61.7 137.6L65.3 134.7L66.2 128.1L69.1 122.5L73.8 118.2M40.5 101.7L45 98.5M72.9 29.1L73.6 27.2M72.5 8.1L72 3.4L74.6 -3.3M74.6 -3.3L80.9 -3L84.5 -4M118.2 20.7L113.4 17.9M242.8 223.3L242.3 224.9L240.7 226.4M287.4 208.6L289.3 206.4M289.3 206.4L293.1 211.9L297.5 216.9L303.2 220.5L308.6 224.4L314.2 228L317.9 233.7M285.3 254.9L279.6 249.7L273.4 244.9M304 250.6L307 244.6L311.4 240L317.2 236.7M317.2 236.7L317.9 233.7M331.9 221.2L326.3 224.3L322.7 229.7L317.9 233.7M319.1 186.9L313.3 188.7L308.7 193.2L302 192.8L297.6 197.8L291.4 198.5M291.4 198.5L289.3 206.4M305.3 254.9L304 250.6M284.6 169.3L284.5 170.1L281.1 176.2L281.6 181.1M268.1 147.9L267.7 147.6L260.3 146.3M260.3 146.3L255.3 151L255 158.6L247.9 162L246.2 168.7M291.4 198.5L288.1 193.4L286.3 191.3" fill="none" stroke="#ebc2ce" stroke-width="4" stroke-linejoin="round" stroke-linecap="round"/>
<path d="M3.3 249.4L4.7 247.3M4.7 247.3L10.4 250.9L17.3 251L22.9 254.9M4.5 238.7L4.7 247.3M70.9 213.3L79 210.3L87 207.5M67.6 236.3L69.1 228.7L69.8 221L70.9 213.3M93.3 214.6L91.6 213.2L87 207.5M36.5 165.1L36.4 165.2L31.9 170.1M107.7 146.2L109.8 146.4L118.3 148.8M118.9 187.2L126.4 182.8L130.7 179.8M246.8 -2.2L253.7 -2.2L260.3 -0M21.3 172.6L15.2 168M40.5 101.7L34.2 101.3L33.9 101.2M0.1 131.8L3.9 134.5M33.4 -4L34.7 -2L36.6 4.6M67.6 236.3L74.6 236.5L80.6 241.2L82 241.2M118.3 148.8L123.8 144.6L127.3 141.8M12.9 28.8L10.5 22.4L5.8 17.5L2.9 11.4L-2 6.6M1.2 -4L0.7 0.1L-2 6.6M36.6 4.6L35.7 9.1M21.1 55.1L27.8 59L35.6 59.2M335.1 111.5L333.1 111.8M318.8 62.2L321.7 66M324 69L326.6 72.4L329.9 77.9L335.1 79.9M302.3 85.4L301.2 89.4M332.8 112.2L330.1 112.2M269.6 32.6L267.1 29.6M298.2 52L298.6 51.9L304.6 50.7M304.6 50.7L305.2 44.4L303.3 38.2L303.7 31.9L304.2 25.5L303.3 19.3M268.6 26.1L267.1 29.6M297.2 16.3L303.3 19.3M289.2 -4L290.1 3L292.9 9.9L297.2 16.3M325 6.2L324.1 10.5M318.8 62.2L318.6 59.8M249.7 63.8L254.3 64.3L260.5 64.4L266.6 65.1L272.6 67.3M286.7 91.6L277.1 85.6M234.9 113.8L237.6 107.7L237.9 104.7M301.3 128.1L300.9 130.9M335.1 180.5L329 183.7L320.6 184.3M309.5 158.5L310.4 159.6L312.4 166L315.6 171.9L318.5 177.9L320.6 184.3M335.1 221.8L331.9 221.2M50.3 75.8L56.4 73.9L58 73.8M35.6 59.2L39.4 65.8L45.7 70L50.3 75.8M80 28L84 25.8L90.1 24.9L95.6 22.1L102.4 23.3L107.1 18.2L113.4 17.9M113.1 13.4L113.4 17.9M245.4 253.9L252.9 253L260 251.1L266.2 246.5L273.4 244.9M335.1 254.7L332.6 248.8L326 246.5L322.3 240.9L317.2 236.7M246.2 168.7L250.1 173.3L250.2 173.5M236.4 170.6L237.6 170.5L246.2 168.7M6.9 234.9L4.5 238.7M4.5 238.7L-2 237L-4 235M23.1 254.9L30.3 253.7L32.8 254.9M49.7 254.9L50 252.8L53.4 244.8M37.6 224.6L38.2 225.9L42 230.6L44.8 236.1L50.1 239.7L53.4 244.8M70.9 213.3L66.6 207.7L59.3 205.9L54.6 200.8M87 207.5L86.9 201.6M56.3 189.7L59.5 188.4M56.3 189.7L54.6 200.8M36.2 210.4L36.3 210.2L44.3 210L48 203.1L54.6 200.8M53.4 244.8L61.4 242.1L67.6 236.3M118.9 187.2L117.3 193.6L119.3 200.2L118 206.6L117.8 208.6M118.9 187.2L113.6 185.3M31.9 170.1L35.7 175.4L42.7 176.7L47.4 180.7L50.4 187L56.3 189.7M16 198.6L15.9 194.4L19.1 187.4L20.5 180L21.3 172.6M21.3 172.6L31.9 170.1M118.3 148.8L121.4 154.6L125.1 160L129 165.4L129.1 172.7L131.1 174.9M246.8 -2.2L245.1 -4M260.3 -0L267.2 -3L267.9 -4M40.5 101.7L38 109L40.3 116.6L37.5 123.9L38.8 131.5M38.8 131.5L31.9 133.4L24.8 132.2L17.8 132.2L10.8 132.9L3.9 134.5M47.7 141.6L47.4 141.5L42.1 137.6L38.8 131.5M15.2 168L11.5 161.8L9.3 155.1L8.7 147.8L5.4 141.5L3.9 134.5M-4 133.3L0.1 131.8M46.9 -4L43.6 2.1L36.6 4.6M12.9 28.8L10.7 37.1M10.7 37.1L5.2 40.2L-1.1 39.9L-4 40M-2 6.6L-4 6.4M30.3 16.5L29.4 17.1L24 21.2L18 24.4L12.9 28.8M21.1 55.1L18.3 48.8L13.4 43.6L10.7 37.1M35.6 59.2L41.4 56.5L44.9 51.5L47.8 45.8L53 42.6L57 38L60.9 36.7M0.4 92.9L-4 91.5M286.7 91.6L287.1 98.2L284.2 104.7L284.4 111.3L285.9 117.9M285.9 117.9L291.2 121.1L296.7 123.9L301.3 128.1M301.3 128.1L305.3 125.7M335.1 117.9L332.8 112.2M333.1 111.8L335.1 105.9M260.3 -0L264.4 5.9L262.7 13.6L264.9 20.1L268.6 26.1M248.7 36.7L254.6 33.8L260.6 30.8L267.1 29.6M325 6.2L329 0.6L334.7 -2.8L335.1 -3.1M324.1 10.5L329.3 14.2L332.4 20L335.1 21.7M320.6 -4L322.2 -0.2L325 6.2M303.3 19.3L311 18.2L317.1 13.3L324.1 10.5M318.6 59.8L322.7 54.3L329.5 52.5L335 48.7L335.1 48.7M318.6 59.8L310.6 56.7L304.6 50.7M99.6 142.9L97.8 139.4L97.3 132.9L96.3 126.6L96.4 123.4M275.8 60.7L272.6 67.3M272.6 67.3L273.5 73.6L275.4 79.5L277.1 85.6M259.8 144.6L254.6 139.5L253.9 139.4M259.8 144.6L263.4 138.1L264 130.4L267.9 124M267.9 124L265.4 117.6L259.9 113.3L255.4 108.3L252.6 102.1M246.4 102.3L252.6 102.1M285.9 117.9L279.7 119.5L273.8 121.6L267.9 124M277.1 85.6L271.7 90.8L265.8 95.3L259.8 99.6L252.6 102.1M335.1 146.1L333.6 146.4L327.2 150L319.7 149.6L313 152.3L311.6 152.7M320.6 184.3L319.1 186.9M55.4 102.6L51.6 99.9L45 98.5M45 98.5L48.4 91.3L48.6 83.4L50.3 75.8M61.7 137.6L65.3 134.7L66.2 128.1L69.1 122.5L73.8 118.2M40.5 101.7L45 98.5M72.9 29.1L73.6 27.2M72.5 8.1L72 3.4L74.6 -3.3M74.6 -3.3L80.9 -3L84.5 -4M118.2 20.7L113.4 17.9M242.8 223.3L242.3 224.9L240.7 226.4M287.4 208.6L289.3 206.4M289.3 206.4L293.1 211.9L297.5 216.9L303.2 220.5L308.6 224.4L314.2 228L317.9 233.7M285.3 254.9L279.6 249.7L273.4 244.9M304 250.6L307 244.6L311.4 240L317.2 236.7M317.2 236.7L317.9 233.7M331.9 221.2L326.3 224.3L322.7 229.7L317.9 233.7M319.1 186.9L313.3 188.7L308.7 193.2L302 192.8L297.6 197.8L291.4 198.5M291.4 198.5L289.3 206.4M305.3 254.9L304 250.6M284.6 169.3L284.5 170.1L281.1 176.2L281.6 181.1M268.1 147.9L267.7 147.6L260.3 146.3M260.3 146.3L255.3 151L255 158.6L247.9 162L246.2 168.7M291.4 198.5L288.1 193.4L286.3 191.3" fill="none" stroke="#e2adc0" stroke-width="1" stroke-linejoin="round"/>
<path d="M4.7 247.3h0M53.4 244.8h0M67.6 236.3h0M246.8 -2.2h0M31.9 170.1h0M70.9 213.3h0M56.3 189.7h0M54.6 200.8h0M260.3 -0h0M15.2 168h0M40.5 101.7h0M3.9 134.5h0M66.8 31h0M318.6 59.8h0M10.7 37.1h0M301.3 128.1h0M304.6 50.7h0M268.6 26.1h0M267.1 29.6h0M297.2 16.3h0M303.3 19.3h0M245.4 253.9h0M259.8 144.6h0M267.9 124h0M252.6 102.1h0M331.9 221.2h0M45 98.5h0M50.3 75.8h0M273.4 244.9h0M304 250.6h0M317.2 236.7h0M260.3 146.3h0M246.2 168.7h0" stroke="#ebc2ce" stroke-width="8" stroke-linecap="round"/>
<path d="M161.5 212.7a2.6 2.6 0 1 0 5.2 0a2.6 2.6 0 1 0-5.2 0M162.5 57.5a2.6 2.6 0 1 0 5.2 0a2.6 2.6 0 1 0-5.2 0M213.4 139.3a2.6 2.6 0 1 0 5.2 0a2.6 2.6 0 1 0-5.2 0M151.8 110.6a2.6 2.6 0 1 0 5.2 0a2.6 2.6 0 1 0-5.2 0M89.9 260.1a2.6 2.6 0 1 0 5.2 0a2.6 2.6 0 1 0-5.2 0M168.1 64a2.6 2.6 0 1 0 5.2 0a2.6 2.6 0 1 0-5.2 0M131.3 5.2a2.6 2.6 0 1 0 5.2 0a2.6 2.6 0 1 0-5.2 0M162 209.3a2.6 2.6 0 1 0 5.2 0a2.6 2.6 0 1 0-5.2 0M153 26.6a2.6 2.6 0 1 0 5.2 0a2.6 2.6 0 1 0-5.2 0M153.4 103.4a2.6 2.6 0 1 0 5.2 0a2.6 2.6 0 1 0-5.2 0M158.1 197.4a2.6 2.6 0 1 0 5.2 0a2.6 2.6 0 1 0-5.2 0M139.6 39.8a2.6 2.6 0 1 0 5.2 0a2.6 2.6 0 1 0-5.2 0M163.7 76.5a2.6 2.6 0 1 0 5.2 0a2.6 2.6 0 1 0-5.2 0M177 23.1a2.6 2.6 0 1 0 5.2 0a2.6 2.6 0 1 0-5.2 0M166.1 116.4a2.6 2.6 0 1 0 5.2 0a2.6 2.6 0 1 0-5.2 0M195.6 254.9a2.6 2.6 0 1 0 5.2 0a2.6 2.6 0 1 0-5.2 0M73.8 46.5a2.6 2.6 0 1 0 5.2 0a2.6 2.6 0 1 0-5.2 0M214.4 157.1a2.6 2.6 0 1 0 5.2 0a2.6 2.6 0 1 0-5.2 0M196.4 213.7a2.6 2.6 0 1 0 5.2 0a2.6 2.6 0 1 0-5.2 0M155.8 108.2a2.6 2.6 0 1 0 5.2 0a2.6 2.6 0 1 0-5.2 0M179 158.7a2.6 2.6 0 1 0 5.2 0a2.6 2.6 0 1 0-5.2 0M98.4 258.7a2.6 2.6 0 1 0 5.2 0a2.6 2.6 0 1 0-5.2 0M100.1 120.2a2.6 2.6 0 1 0 5.2 0a2.6 2.6 0 1 0-5.2 0M138.9 247.9a2.6 2.6 0 1 0 5.2 0a2.6 2.6 0 1 0-5.2 0M159.8 93.3a2.6 2.6 0 1 0 5.2 0a2.6 2.6 0 1 0-5.2 0M148.5 247a2.6 2.6 0 1 0 5.2 0a2.6 2.6 0 1 0-5.2 0M178.6 121.6a2.6 2.6 0 1 0 5.2 0a2.6 2.6 0 1 0-5.2 0M131.7 3.2a2.6 2.6 0 1 0 5.2 0a2.6 2.6 0 1 0-5.2 0M191.3 162.9a2.6 2.6 0 1 0 5.2 0a2.6 2.6 0 1 0-5.2 0M206.7 156a2.6 2.6 0 1 0 5.2 0a2.6 2.6 0 1 0-5.2 0M235.3 221.9a2.6 2.6 0 1 0 5.2 0a2.6 2.6 0 1 0-5.2 0M206.5 221.1a2.6 2.6 0 1 0 5.2 0a2.6 2.6 0 1 0-5.2 0M127.3 41.5a2.6 2.6 0 1 0 5.2 0a2.6 2.6 0 1 0-5.2 0M228.4 169.2a2.6 2.6 0 1 0 5.2 0a2.6 2.6 0 1 0-5.2 0M136.6 130.2a2.6 2.6 0 1 0 5.2 0a2.6 2.6 0 1 0-5.2 0M175.1 59.2a2.6 2.6 0 1 0 5.2 0a2.6 2.6 0 1 0-5.2 0M60.7 50.7a2.6 2.6 0 1 0 5.2 0a2.6 2.6 0 1 0-5.2 0M132.8 188.6a2.6 2.6 0 1 0 5.2 0a2.6 2.6 0 1 0-5.2 0M147.4 116.4a2.6 2.6 0 1 0 5.2 0a2.6 2.6 0 1 0-5.2 0M167.6 106.3a2.6 2.6 0 1 0 5.2 0a2.6 2.6 0 1 0-5.2 0M205.5 194.6a2.6 2.6 0 1 0 5.2 0a2.6 2.6 0 1 0-5.2 0M95.7 245.9a2.6 2.6 0 1 0 5.2 0a2.6 2.6 0 1 0-5.2 0M180.6 229.7a2.6 2.6 0 1 0 5.2 0a2.6 2.6 0 1 0-5.2 0M164.8 114.4a2.6 2.6 0 1 0 5.2 0a2.6 2.6 0 1 0-5.2 0M229.8 253.3a2.6 2.6 0 1 0 5.2 0a2.6 2.6 0 1 0-5.2 0M129.8 130.2a2.6 2.6 0 1 0 5.2 0a2.6 2.6 0 1 0-5.2 0M143.1 54a2.6 2.6 0 1 0 5.2 0a2.6 2.6 0 1 0-5.2 0M182.3 101.9a2.6 2.6 0 1 0 5.2 0a2.6 2.6 0 1 0-5.2 0M119.7 242.4a2.6 2.6 0 1 0 5.2 0a2.6 2.6 0 1 0-5.2 0M167.2 142.1a2.6 2.6 0 1 0 5.2 0a2.6 2.6 0 1 0-5.2 0M157.6 95.1a2.6 2.6 0 1 0 5.2 0a2.6 2.6 0 1 0-5.2 0M206 92.9a2.6 2.6 0 1 0 5.2 0a2.6 2.6 0 1 0-5.2 0M230.1 200.1a2.6 2.6 0 1 0 5.2 0a2.6 2.6 0 1 0-5.2 0M76.8 88.4a2.6 2.6 0 1 0 5.2 0a2.6 2.6 0 1 0-5.2 0M226.8 131.4a2.6 2.6 0 1 0 5.2 0a2.6 2.6 0 1 0-5.2 0M226.5 104.1a2.6 2.6 0 1 0 5.2 0a2.6 2.6 0 1 0-5.2 0M170.8 36a2.6 2.6 0 1 0 5.2 0a2.6 2.6 0 1 0-5.2 0M78.2 90.4a2.6 2.6 0 1 0 5.2 0a2.6 2.6 0 1 0-5.2 0M97.1 243.4a2.6 2.6 0 1 0 5.2 0a2.6 2.6 0 1 0-5.2 0M198 118.9a2.6 2.6 0 1 0 5.2 0a2.6 2.6 0 1 0-5.2 0M212.1 219.5a2.6 2.6 0 1 0 5.2 0a2.6 2.6 0 1 0-5.2 0M80.1 105.3a2.6 2.6 0 1 0 5.2 0a2.6 2.6 0 1 0-5.2 0M143.9 135.4a2.6 2.6 0 1 0 5.2 0a2.6 2.6 0 1 0-5.2 0M204.6 117.1a2.6 2.6 0 1 0 5.2 0a2.6 2.6 0 1 0-5.2 0M188.4 158.5a2.6 2.6 0 1 0 5.2 0a2.6 2.6 0 1 0-5.2 0M119.9 97.7a2.6 2.6 0 1 0 5.2 0a2.6 2.6 0 1 0-5.2 0M226.7 248.6a2.6 2.6 0 1 0 5.2 0a2.6 2.6 0 1 0-5.2 0M214.7 133.3a2.6 2.6 0 1 0 5.2 0a2.6 2.6 0 1 0-5.2 0M109.5 127.4a2.6 2.6 0 1 0 5.2 0a2.6 2.6 0 1 0-5.2 0M232.4 131.7a2.6 2.6 0 1 0 5.2 0a2.6 2.6 0 1 0-5.2 0M84.8 40.7a2.6 2.6 0 1 0 5.2 0a2.6 2.6 0 1 0-5.2 0M193 242.3a2.6 2.6 0 1 0 5.2 0a2.6 2.6 0 1 0-5.2 0M161.1 88.7a2.6 2.6 0 1 0 5.2 0a2.6 2.6 0 1 0-5.2 0M226.5 228a2.6 2.6 0 1 0 5.2 0a2.6 2.6 0 1 0-5.2 0M122.3 64.8a2.6 2.6 0 1 0 5.2 0a2.6 2.6 0 1 0-5.2 0M190.1 230.3a2.6 2.6 0 1 0 5.2 0a2.6 2.6 0 1 0-5.2 0M160.8 249.2a2.6 2.6 0 1 0 5.2 0a2.6 2.6 0 1 0-5.2 0M219.7 199.2a2.6 2.6 0 1 0 5.2 0a2.6 2.6 0 1 0-5.2 0M183.8 203.2a2.6 2.6 0 1 0 5.2 0a2.6 2.6 0 1 0-5.2 0M115.9 48.5a2.6 2.6 0 1 0 5.2 0a2.6 2.6 0 1 0-5.2 0M119.4 58.2a2.6 2.6 0 1 0 5.2 0a2.6 2.6 0 1 0-5.2 0M172.3 -4.5a2.6 2.6 0 1 0 5.2 0a2.6 2.6 0 1 0-5.2 0M168.5 60.5a2.6 2.6 0 1 0 5.2 0a2.6 2.6 0 1 0-5.2 0M131.8 150.7a2.6 2.6 0 1 0 5.2 0a2.6 2.6 0 1 0-5.2 0M136.6 20.7a2.6 2.6 0 1 0 5.2 0a2.6 2.6 0 1 0-5.2 0M126 99.7a2.6 2.6 0 1 0 5.2 0a2.6 2.6 0 1 0-5.2 0M132.5 131.8a2.6 2.6 0 1 0 5.2 0a2.6 2.6 0 1 0-5.2 0M163.3 213.4a2.6 2.6 0 1 0 5.2 0a2.6 2.6 0 1 0-5.2 0M152.2 260.9a2.6 2.6 0 1 0 5.2 0a2.6 2.6 0 1 0-5.2 0M200.9 235.4a2.6 2.6 0 1 0 5.2 0a2.6 2.6 0 1 0-5.2 0M181.6 201.1a2.6 2.6 0 1 0 5.2 0a2.6 2.6 0 1 0-5.2 0M197.1 240.1a2.6 2.6 0 1 0 5.2 0a2.6 2.6 0 1 0-5.2 0M148.5 128.6a2.6 2.6 0 1 0 5.2 0a2.6 2.6 0 1 0-5.2 0M127.4 45.6a2.6 2.6 0 1 0 5.2 0a2.6 2.6 0 1 0-5.2 0M171.5 128.6a2.6 2.6 0 1 0 5.2 0a2.6 2.6 0 1 0-5.2 0M138.7 82.6a2.6 2.6 0 1 0 5.2 0a2.6 2.6 0 1 0-5.2 0M119.7 221.7a2.6 2.6 0 1 0 5.2 0a2.6 2.6 0 1 0-5.2 0M150.5 29a2.6 2.6 0 1 0 5.2 0a2.6 2.6 0 1 0-5.2 0M163 26.8a2.6 2.6 0 1 0 5.2 0a2.6 2.6 0 1 0-5.2 0M210.8 210.4a2.6 2.6 0 1 0 5.2 0a2.6 2.6 0 1 0-5.2 0M203.8 213.9a2.6 2.6 0 1 0 5.2 0a2.6 2.6 0 1 0-5.2 0M140.9 197a2.6 2.6 0 1 0 5.2 0a2.6 2.6 0 1 0-5.2 0M231.3 258.1a2.6 2.6 0 1 0 5.2 0a2.6 2.6 0 1 0-5.2 0M187.1 137.6a2.6 2.6 0 1 0 5.2 0a2.6 2.6 0 1 0-5.2 0M149.2 254.8a2.6 2.6 0 1 0 5.2 0a2.6 2.6 0 1 0-5.2 0M208.5 204a2.6 2.6 0 1 0 5.2 0a2.6 2.6 0 1 0-5.2 0M158.6 8.8a2.6 2.6 0 1 0 5.2 0a2.6 2.6 0 1 0-5.2 0M218.1 198.9a2.6 2.6 0 1 0 5.2 0a2.6 2.6 0 1 0-5.2 0M147.7 235.7a2.6 2.6 0 1 0 5.2 0a2.6 2.6 0 1 0-5.2 0M176 230.7a2.6 2.6 0 1 0 5.2 0a2.6 2.6 0 1 0-5.2 0M206.5 78.8a2.6 2.6 0 1 0 5.2 0a2.6 2.6 0 1 0-5.2 0M130.6 226a2.6 2.6 0 1 0 5.2 0a2.6 2.6 0 1 0-5.2 0M83.4 100.9a2.6 2.6 0 1 0 5.2 0a2.6 2.6 0 1 0-5.2 0M79.2 114a2.6 2.6 0 1 0 5.2 0a2.6 2.6 0 1 0-5.2 0M157.7 53.8a2.6 2.6 0 1 0 5.2 0a2.6 2.6 0 1 0-5.2 0M133.9 41a2.6 2.6 0 1 0 5.2 0a2.6 2.6 0 1 0-5.2 0M146.9 19.1a2.6 2.6 0 1 0 5.2 0a2.6 2.6 0 1 0-5.2 0M131.2 65.4a2.6 2.6 0 1 0 5.2 0a2.6 2.6 0 1 0-5.2 0M168.3 244.2a2.6 2.6 0 1 0 5.2 0a2.6 2.6 0 1 0-5.2 0M97.6 245.6a2.6 2.6 0 1 0 5.2 0a2.6 2.6 0 1 0-5.2 0M221.4 246.2a2.6 2.6 0 1 0 5.2 0a2.6 2.6 0 1 0-5.2 0M115.9 251.9a2.6 2.6 0 1 0 5.2 0a2.6 2.6 0 1 0-5.2 0M192.8 156.2a2.6 2.6 0 1 0 5.2 0a2.6 2.6 0 1 0-5.2 0M151.3 65.1a2.6 2.6 0 1 0 5.2 0a2.6 2.6 0 1 0-5.2 0M149.1 119.3a2.6 2.6 0 1 0 5.2 0a2.6 2.6 0 1 0-5.2 0M182.7 13.7a2.6 2.6 0 1 0 5.2 0a2.6 2.6 0 1 0-5.2 0M130.7 118.1a2.6 2.6 0 1 0 5.2 0a2.6 2.6 0 1 0-5.2 0M168.5 77.1a2.6 2.6 0 1 0 5.2 0a2.6 2.6 0 1 0-5.2 0M176.3 29.9a2.6 2.6 0 1 0 5.2 0a2.6 2.6 0 1 0-5.2 0M125.1 77.6a2.6 2.6 0 1 0 5.2 0a2.6 2.6 0 1 0-5.2 0M153.8 250a2.6 2.6 0 1 0 5.2 0a2.6 2.6 0 1 0-5.2 0M137.1 148.4a2.6 2.6 0 1 0 5.2 0a2.6 2.6 0 1 0-5.2 0M216.4 241.5a2.6 2.6 0 1 0 5.2 0a2.6 2.6 0 1 0-5.2 0M121.1 37.8a2.6 2.6 0 1 0 5.2 0a2.6 2.6 0 1 0-5.2 0M160.9 98.1a2.6 2.6 0 1 0 5.2 0a2.6 2.6 0 1 0-5.2 0M200.7 115.2a2.6 2.6 0 1 0 5.2 0a2.6 2.6 0 1 0-5.2 0M186.5 128.4a2.6 2.6 0 1 0 5.2 0a2.6 2.6 0 1 0-5.2 0M128.4 11a2.6 2.6 0 1 0 5.2 0a2.6 2.6 0 1 0-5.2 0M125.8 -2.5a2.6 2.6 0 1 0 5.2 0a2.6 2.6 0 1 0-5.2 0M189.7 221.5a2.6 2.6 0 1 0 5.2 0a2.6 2.6 0 1 0-5.2 0M168.3 62.9a2.6 2.6 0 1 0 5.2 0a2.6 2.6 0 1 0-5.2 0M167.2 74.6a2.6 2.6 0 1 0 5.2 0a2.6 2.6 0 1 0-5.2 0M250.4 125a2.6 2.6 0 1 0 5.2 0a2.6 2.6 0 1 0-5.2 0M128.4 15.8a2.6 2.6 0 1 0 5.2 0a2.6 2.6 0 1 0-5.2 0M193.2 203.5a2.6 2.6 0 1 0 5.2 0a2.6 2.6 0 1 0-5.2 0M184.9 179a2.6 2.6 0 1 0 5.2 0a2.6 2.6 0 1 0-5.2 0M185.2 142.7a2.6 2.6 0 1 0 5.2 0a2.6 2.6 0 1 0-5.2 0M214.2 122.1a2.6 2.6 0 1 0 5.2 0a2.6 2.6 0 1 0-5.2 0M234.6 186.5a2.6 2.6 0 1 0 5.2 0a2.6 2.6 0 1 0-5.2 0M62.2 93.7a2.6 2.6 0 1 0 5.2 0a2.6 2.6 0 1 0-5.2 0M196.6 206.1a2.6 2.6 0 1 0 5.2 0a2.6 2.6 0 1 0-5.2 0M113.3 79.7a2.6 2.6 0 1 0 5.2 0a2.6 2.6 0 1 0-5.2 0M135 22.1a2.6 2.6 0 1 0 5.2 0a2.6 2.6 0 1 0-5.2 0M130.5 245a2.6 2.6 0 1 0 5.2 0a2.6 2.6 0 1 0-5.2 0M135.5 131.5a2.6 2.6 0 1 0 5.2 0a2.6 2.6 0 1 0-5.2 0M130.8 127.4a2.6 2.6 0 1 0 5.2 0a2.6 2.6 0 1 0-5.2 0M192.4 162.5a2.6 2.6 0 1 0 5.2 0a2.6 2.6 0 1 0-5.2 0M110.1 10.8a2.6 2.6 0 1 0 5.2 0a2.6 2.6 0 1 0-5.2 0M172.5 221.4a2.6 2.6 0 1 0 5.2 0a2.6 2.6 0 1 0-5.2 0M159.3 262.3a2.6 2.6 0 1 0 5.2 0a2.6 2.6 0 1 0-5.2 0M133.9 186.4a2.6 2.6 0 1 0 5.2 0a2.6 2.6 0 1 0-5.2 0M166.5 148.2a2.6 2.6 0 1 0 5.2 0a2.6 2.6 0 1 0-5.2 0M206.5 205.7a2.6 2.6 0 1 0 5.2 0a2.6 2.6 0 1 0-5.2 0M128.7 195.6a2.6 2.6 0 1 0 5.2 0a2.6 2.6 0 1 0-5.2 0M132.3 36.6a2.6 2.6 0 1 0 5.2 0a2.6 2.6 0 1 0-5.2 0M210.5 237.7a2.6 2.6 0 1 0 5.2 0a2.6 2.6 0 1 0-5.2 0M170.6 136.7a2.6 2.6 0 1 0 5.2 0a2.6 2.6 0 1 0-5.2 0M149.5 102.1a2.6 2.6 0 1 0 5.2 0a2.6 2.6 0 1 0-5.2 0M142.6 -8a2.6 2.6 0 1 0 5.2 0a2.6 2.6 0 1 0-5.2 0M63.5 103.2a2.6 2.6 0 1 0 5.2 0a2.6 2.6 0 1 0-5.2 0M181.4 19.2a2.6 2.6 0 1 0 5.2 0a2.6 2.6 0 1 0-5.2 0M133 144.8a2.6 2.6 0 1 0 5.2 0a2.6 2.6 0 1 0-5.2 0M113 57.9a2.6 2.6 0 1 0 5.2 0a2.6 2.6 0 1 0-5.2 0M157 200.9a2.6 2.6 0 1 0 5.2 0a2.6 2.6 0 1 0-5.2 0M193.7 246.3a2.6 2.6 0 1 0 5.2 0a2.6 2.6 0 1 0-5.2 0M197.8 213.3a2.6 2.6 0 1 0 5.2 0a2.6 2.6 0 1 0-5.2 0M131.9 29.8a2.6 2.6 0 1 0 5.2 0a2.6 2.6 0 1 0-5.2 0M112.9 235.1a2.6 2.6 0 1 0 5.2 0a2.6 2.6 0 1 0-5.2 0M205.5 140.2a2.6 2.6 0 1 0 5.2 0a2.6 2.6 0 1 0-5.2 0M162.2 176a2.6 2.6 0 1 0 5.2 0a2.6 2.6 0 1 0-5.2 0M167.8 169.9a2.6 2.6 0 1 0 5.2 0a2.6 2.6 0 1 0-5.2 0M218.1 95.3a2.6 2.6 0 1 0 5.2 0a2.6 2.6 0 1 0-5.2 0M100.8 243.7a2.6 2.6 0 1 0 5.2 0a2.6 2.6 0 1 0-5.2 0M206.4 224.3a2.6 2.6 0 1 0 5.2 0a2.6 2.6 0 1 0-5.2 0M108 38.7a2.6 2.6 0 1 0 5.2 0a2.6 2.6 0 1 0-5.2 0M191.7 44.4a2.6 2.6 0 1 0 5.2 0a2.6 2.6 0 1 0-5.2 0M132.4 54a2.6 2.6 0 1 0 5.2 0a2.6 2.6 0 1 0-5.2 0M214.8 243.4a2.6 2.6 0 1 0 5.2 0a2.6 2.6 0 1 0-5.2 0M109.3 262.3a2.6 2.6 0 1 0 5.2 0a2.6 2.6 0 1 0-5.2 0M164.4 72.8a2.6 2.6 0 1 0 5.2 0a2.6 2.6 0 1 0-5.2 0M165.6 -4.3a2.6 2.6 0 1 0 5.2 0a2.6 2.6 0 1 0-5.2 0M89.9 238.3a2.6 2.6 0 1 0 5.2 0a2.6 2.6 0 1 0-5.2 0M197.2 81.2a2.6 2.6 0 1 0 5.2 0a2.6 2.6 0 1 0-5.2 0M61 75.3a2.6 2.6 0 1 0 5.2 0a2.6 2.6 0 1 0-5.2 0M189 88.9a2.6 2.6 0 1 0 5.2 0a2.6 2.6 0 1 0-5.2 0M160 25.7a2.6 2.6 0 1 0 5.2 0a2.6 2.6 0 1 0-5.2 0M225 208a2.6 2.6 0 1 0 5.2 0a2.6 2.6 0 1 0-5.2 0M68.2 110.2a2.6 2.6 0 1 0 5.2 0a2.6 2.6 0 1 0-5.2 0M126.4 84.8a2.6 2.6 0 1 0 5.2 0a2.6 2.6 0 1 0-5.2 0M109.8 249.8a2.6 2.6 0 1 0 5.2 0a2.6 2.6 0 1 0-5.2 0M201.7 88.8a2.6 2.6 0 1 0 5.2 0a2.6 2.6 0 1 0-5.2 0M191.4 264.9a2.6 2.6 0 1 0 5.2 0a2.6 2.6 0 1 0-5.2 0M180.7 107.1a2.6 2.6 0 1 0 5.2 0a2.6 2.6 0 1 0-5.2 0M135.6 140.5a2.6 2.6 0 1 0 5.2 0a2.6 2.6 0 1 0-5.2 0M156.6 213.3a2.6 2.6 0 1 0 5.2 0a2.6 2.6 0 1 0-5.2 0M159.8 31.2a2.6 2.6 0 1 0 5.2 0a2.6 2.6 0 1 0-5.2 0M83.3 114.9a2.6 2.6 0 1 0 5.2 0a2.6 2.6 0 1 0-5.2 0M132.8 24.1a2.6 2.6 0 1 0 5.2 0a2.6 2.6 0 1 0-5.2 0M56.1 60a2.6 2.6 0 1 0 5.2 0a2.6 2.6 0 1 0-5.2 0M155.7 67.5a2.6 2.6 0 1 0 5.2 0a2.6 2.6 0 1 0-5.2 0M85.4 222.5a2.6 2.6 0 1 0 5.2 0a2.6 2.6 0 1 0-5.2 0M185.9 133.7a2.6 2.6 0 1 0 5.2 0a2.6 2.6 0 1 0-5.2 0M197.7 160.4a2.6 2.6 0 1 0 5.2 0a2.6 2.6 0 1 0-5.2 0M75.6 44a2.6 2.6 0 1 0 5.2 0a2.6 2.6 0 1 0-5.2 0M178.4 29.3a2.6 2.6 0 1 0 5.2 0a2.6 2.6 0 1 0-5.2 0M95.5 231.6a2.6 2.6 0 1 0 5.2 0a2.6 2.6 0 1 0-5.2 0M91.2 256.1a2.6 2.6 0 1 0 5.2 0a2.6 2.6 0 1 0-5.2 0M106 90.5a2.6 2.6 0 1 0 5.2 0a2.6 2.6 0 1 0-5.2 0M153.5 95.2a2.6 2.6 0 1 0 5.2 0a2.6 2.6 0 1 0-5.2 0M227.4 240.8a2.6 2.6 0 1 0 5.2 0a2.6 2.6 0 1 0-5.2 0M162.8 73a2.6 2.6 0 1 0 5.2 0a2.6 2.6 0 1 0-5.2 0M247.9 131.9a2.6 2.6 0 1 0 5.2 0a2.6 2.6 0 1 0-5.2 0M247.3 139.5a2.6 2.6 0 1 0 5.2 0a2.6 2.6 0 1 0-5.2 0M116.2 239.3a2.6 2.6 0 1 0 5.2 0a2.6 2.6 0 1 0-5.2 0M61.4 45.5a2.6 2.6 0 1 0 5.2 0a2.6 2.6 0 1 0-5.2 0M184.6 236.1a2.6 2.6 0 1 0 5.2 0a2.6 2.6 0 1 0-5.2 0M159.2 121.6a2.6 2.6 0 1 0 5.2 0a2.6 2.6 0 1 0-5.2 0M156.6 207.9a2.6 2.6 0 1 0 5.2 0a2.6 2.6 0 1 0-5.2 0M170.8 -1.7a2.6 2.6 0 1 0 5.2 0a2.6 2.6 0 1 0-5.2 0M149.9 89.3a2.6 2.6 0 1 0 5.2 0a2.6 2.6 0 1 0-5.2 0M166.3 114.9a2.6 2.6 0 1 0 5.2 0a2.6 2.6 0 1 0-5.2 0M135.4 69.1a2.6 2.6 0 1 0 5.2 0a2.6 2.6 0 1 0-5.2 0M123.9 77.1a2.6 2.6 0 1 0 5.2 0a2.6 2.6 0 1 0-5.2 0M217.1 90.6a2.6 2.6 0 1 0 5.2 0a2.6 2.6 0 1 0-5.2 0M169.2 252.6a2.6 2.6 0 1 0 5.2 0a2.6 2.6 0 1 0-5.2 0M120.8 18.2a2.6 2.6 0 1 0 5.2 0a2.6 2.6 0 1 0-5.2 0M216.1 166.9a2.6 2.6 0 1 0 5.2 0a2.6 2.6 0 1 0-5.2 0M221.5 163.4a2.6 2.6 0 1 0 5.2 0a2.6 2.6 0 1 0-5.2 0M133.2 80.2a2.6 2.6 0 1 0 5.2 0a2.6 2.6 0 1 0-5.2 0M227 210.4a2.6 2.6 0 1 0 5.2 0a2.6 2.6 0 1 0-5.2 0M124.3 93.3a2.6 2.6 0 1 0 5.2 0a2.6 2.6 0 1 0-5.2 0M116.6 101a2.6 2.6 0 1 0 5.2 0a2.6 2.6 0 1 0-5.2 0M181.6 70.9a2.6 2.6 0 1 0 5.2 0a2.6 2.6 0 1 0-5.2 0M143.2 48.1a2.6 2.6 0 1 0 5.2 0a2.6 2.6 0 1 0-5.2 0M163.1 20.5a2.6 2.6 0 1 0 5.2 0a2.6 2.6 0 1 0-5.2 0M123.8 134.7a2.6 2.6 0 1 0 5.2 0a2.6 2.6 0 1 0-5.2 0M138.7 106.1a2.6 2.6 0 1 0 5.2 0a2.6 2.6 0 1 0-5.2 0M143.9 13.6a2.6 2.6 0 1 0 5.2 0a2.6 2.6 0 1 0-5.2 0M120.5 125.5a2.6 2.6 0 1 0 5.2 0a2.6 2.6 0 1 0-5.2 0M93.8 114.6a2.6 2.6 0 1 0 5.2 0a2.6 2.6 0 1 0-5.2 0M150.9 125.5a2.6 2.6 0 1 0 5.2 0a2.6 2.6 0 1 0-5.2 0M186.6 98.3a2.6 2.6 0 1 0 5.2 0a2.6 2.6 0 1 0-5.2 0M132 238.7a2.6 2.6 0 1 0 5.2 0a2.6 2.6 0 1 0-5.2 0M131.4 241.6a2.6 2.6 0 1 0 5.2 0a2.6 2.6 0 1 0-5.2 0M126.7 102a2.6 2.6 0 1 0 5.2 0a2.6 2.6 0 1 0-5.2 0M126.7 136.7a2.6 2.6 0 1 0 5.2 0a2.6 2.6 0 1 0-5.2 0M161.5 237a2.6 2.6 0 1 0 5.2 0a2.6 2.6 0 1 0-5.2 0M68.3 117.1a2.6 2.6 0 1 0 5.2 0a2.6 2.6 0 1 0-5.2 0M226.7 219a2.6 2.6 0 1 0 5.2 0a2.6 2.6 0 1 0-5.2 0M138.4 121.2a2.6 2.6 0 1 0 5.2 0a2.6 2.6 0 1 0-5.2 0M190.4 226.3a2.6 2.6 0 1 0 5.2 0a2.6 2.6 0 1 0-5.2 0M133.4 80.1a2.6 2.6 0 1 0 5.2 0a2.6 2.6 0 1 0-5.2 0M130.6 179.6a2.6 2.6 0 1 0 5.2 0a2.6 2.6 0 1 0-5.2 0M98.8 108.9a2.6 2.6 0 1 0 5.2 0a2.6 2.6 0 1 0-5.2 0M180.5 255.4a2.6 2.6 0 1 0 5.2 0a2.6 2.6 0 1 0-5.2 0M132.2 14.9a2.6 2.6 0 1 0 5.2 0a2.6 2.6 0 1 0-5.2 0M154.1 192.4a2.6 2.6 0 1 0 5.2 0a2.6 2.6 0 1 0-5.2 0M132.5 109.7a2.6 2.6 0 1 0 5.2 0a2.6 2.6 0 1 0-5.2 0M115.8 20.2a2.6 2.6 0 1 0 5.2 0a2.6 2.6 0 1 0-5.2 0M204.1 175.7a2.6 2.6 0 1 0 5.2 0a2.6 2.6 0 1 0-5.2 0M140 63.1a2.6 2.6 0 1 0 5.2 0a2.6 2.6 0 1 0-5.2 0M161.6 264.1a2.6 2.6 0 1 0 5.2 0a2.6 2.6 0 1 0-5.2 0M201 252.3a2.6 2.6 0 1 0 5.2 0a2.6 2.6 0 1 0-5.2 0M198.9 37.6a2.6 2.6 0 1 0 5.2 0a2.6 2.6 0 1 0-5.2 0M165.3 122.2a2.6 2.6 0 1 0 5.2 0a2.6 2.6 0 1 0-5.2 0M193.7 89a2.6 2.6 0 1 0 5.2 0a2.6 2.6 0 1 0-5.2 0M137.3 143a2.6 2.6 0 1 0 5.2 0a2.6 2.6 0 1 0-5.2 0M172.3 99a2.6 2.6 0 1 0 5.2 0a2.6 2.6 0 1 0-5.2 0M228.7 245a2.6 2.6 0 1 0 5.2 0a2.6 2.6 0 1 0-5.2 0M108.1 92.8a2.6 2.6 0 1 0 5.2 0a2.6 2.6 0 1 0-5.2 0M173.6 132.2a2.6 2.6 0 1 0 5.2 0a2.6 2.6 0 1 0-5.2 0M135 181.8a2.6 2.6 0 1 0 5.2 0a2.6 2.6 0 1 0-5.2 0M135.7 35a2.6 2.6 0 1 0 5.2 0a2.6 2.6 0 1 0-5.2 0M125.3 202.7a2.6 2.6 0 1 0 5.2 0a2.6 2.6 0 1 0-5.2 0M134.8 257.3a2.6 2.6 0 1 0 5.2 0a2.6 2.6 0 1 0-5.2 0M172.3 59.1a2.6 2.6 0 1 0 5.2 0a2.6 2.6 0 1 0-5.2 0M220.8 245.5a2.6 2.6 0 1 0 5.2 0a2.6 2.6 0 1 0-5.2 0M94.4 221a2.6 2.6 0 1 0 5.2 0a2.6 2.6 0 1 0-5.2 0M93.9 89.5a2.6 2.6 0 1 0 5.2 0a2.6 2.6 0 1 0-5.2 0M128.4 215.4a2.6 2.6 0 1 0 5.2 0a2.6 2.6 0 1 0-5.2 0M142.5 250.9a2.6 2.6 0 1 0 5.2 0a2.6 2.6 0 1 0-5.2 0M185.7 140.7a2.6 2.6 0 1 0 5.2 0a2.6 2.6 0 1 0-5.2 0M160.7 131.8a2.6 2.6 0 1 0 5.2 0a2.6 2.6 0 1 0-5.2 0M152.9 49.6a2.6 2.6 0 1 0 5.2 0a2.6 2.6 0 1 0-5.2 0M165.9 253.7a2.6 2.6 0 1 0 5.2 0a2.6 2.6 0 1 0-5.2 0M231 219.9a2.6 2.6 0 1 0 5.2 0a2.6 2.6 0 1 0-5.2 0M188.6 212a2.6 2.6 0 1 0 5.2 0a2.6 2.6 0 1 0-5.2 0M200 57.1a2.6 2.6 0 1 0 5.2 0a2.6 2.6 0 1 0-5.2 0M251.1 130a2.6 2.6 0 1 0 5.2 0a2.6 2.6 0 1 0-5.2 0M180.7 3.6a2.6 2.6 0 1 0 5.2 0a2.6 2.6 0 1 0-5.2 0M247.3 132.9a2.6 2.6 0 1 0 5.2 0a2.6 2.6 0 1 0-5.2 0M74.9 91.4a2.6 2.6 0 1 0 5.2 0a2.6 2.6 0 1 0-5.2 0M106.3 256.7a2.6 2.6 0 1 0 5.2 0a2.6 2.6 0 1 0-5.2 0M121.2 27.9a2.6 2.6 0 1 0 5.2 0a2.6 2.6 0 1 0-5.2 0M176.4 100.6a2.6 2.6 0 1 0 5.2 0a2.6 2.6 0 1 0-5.2 0M203.1 128a2.6 2.6 0 1 0 5.2 0a2.6 2.6 0 1 0-5.2 0M200.6 194.3a2.6 2.6 0 1 0 5.2 0a2.6 2.6 0 1 0-5.2 0M197 201.9a2.6 2.6 0 1 0 5.2 0a2.6 2.6 0 1 0-5.2 0M137 53a2.6 2.6 0 1 0 5.2 0a2.6 2.6 0 1 0-5.2 0M111.4 43.1a2.6 2.6 0 1 0 5.2 0a2.6 2.6 0 1 0-5.2 0M164 253.1a2.6 2.6 0 1 0 5.2 0a2.6 2.6 0 1 0-5.2 0M187 167.5a2.6 2.6 0 1 0 5.2 0a2.6 2.6 0 1 0-5.2 0M208.5 251.6a2.6 2.6 0 1 0 5.2 0a2.6 2.6 0 1 0-5.2 0M165.9 262a2.6 2.6 0 1 0 5.2 0a2.6 2.6 0 1 0-5.2 0M136.6 242.8a2.6 2.6 0 1 0 5.2 0a2.6 2.6 0 1 0-5.2 0M205.8 127.8a2.6 2.6 0 1 0 5.2 0a2.6 2.6 0 1 0-5.2 0M146.1 -2.6a2.6 2.6 0 1 0 5.2 0a2.6 2.6 0 1 0-5.2 0M122.7 68.6a2.6 2.6 0 1 0 5.2 0a2.6 2.6 0 1 0-5.2 0M212.3 189.4a2.6 2.6 0 1 0 5.2 0a2.6 2.6 0 1 0-5.2 0M227.5 136.1a2.6 2.6 0 1 0 5.2 0a2.6 2.6 0 1 0-5.2 0M137.3 100.3a2.6 2.6 0 1 0 5.2 0a2.6 2.6 0 1 0-5.2 0M132.9 193.8a2.6 2.6 0 1 0 5.2 0a2.6 2.6 0 1 0-5.2 0M117.8 2.3a2.6 2.6 0 1 0 5.2 0a2.6 2.6 0 1 0-5.2 0M194.3 243.9a2.6 2.6 0 1 0 5.2 0a2.6 2.6 0 1 0-5.2 0M135.5 260.2a2.6 2.6 0 1 0 5.2 0a2.6 2.6 0 1 0-5.2 0M160.3 152.9a2.6 2.6 0 1 0 5.2 0a2.6 2.6 0 1 0-5.2 0M80.4 238.6a2.6 2.6 0 1 0 5.2 0a2.6 2.6 0 1 0-5.2 0M228.2 163.3a2.6 2.6 0 1 0 5.2 0a2.6 2.6 0 1 0-5.2 0M176.8 138.8a2.6 2.6 0 1 0 5.2 0a2.6 2.6 0 1 0-5.2 0M173 253.3a2.6 2.6 0 1 0 5.2 0a2.6 2.6 0 1 0-5.2 0M184.9 246.6a2.6 2.6 0 1 0 5.2 0a2.6 2.6 0 1 0-5.2 0M224.6 180.1a2.6 2.6 0 1 0 5.2 0a2.6 2.6 0 1 0-5.2 0M235.2 220.4a2.6 2.6 0 1 0 5.2 0a2.6 2.6 0 1 0-5.2 0M63.2 60.8a2.6 2.6 0 1 0 5.2 0a2.6 2.6 0 1 0-5.2 0M223.3 212.2a2.6 2.6 0 1 0 5.2 0a2.6 2.6 0 1 0-5.2 0M210.3 228.4a2.6 2.6 0 1 0 5.2 0a2.6 2.6 0 1 0-5.2 0M201.3 150.2a2.6 2.6 0 1 0 5.2 0a2.6 2.6 0 1 0-5.2 0M179 33.8a2.6 2.6 0 1 0 5.2 0a2.6 2.6 0 1 0-5.2 0M201.3 183a2.6 2.6 0 1 0 5.2 0a2.6 2.6 0 1 0-5.2 0M136.1 265a2.6 2.6 0 1 0 5.2 0a2.6 2.6 0 1 0-5.2 0M203.4 224.4a2.6 2.6 0 1 0 5.2 0a2.6 2.6 0 1 0-5.2 0M128.5 91.6a2.6 2.6 0 1 0 5.2 0a2.6 2.6 0 1 0-5.2 0M211.4 217a2.6 2.6 0 1 0 5.2 0a2.6 2.6 0 1 0-5.2 0M125.9 134.7a2.6 2.6 0 1 0 5.2 0a2.6 2.6 0 1 0-5.2 0M213.4 99.3a2.6 2.6 0 1 0 5.2 0a2.6 2.6 0 1 0-5.2 0M137.1 214a2.6 2.6 0 1 0 5.2 0a2.6 2.6 0 1 0-5.2 0M176 30.8a2.6 2.6 0 1 0 5.2 0a2.6 2.6 0 1 0-5.2 0M112.8 117.5a2.6 2.6 0 1 0 5.2 0a2.6 2.6 0 1 0-5.2 0M143.5 22.5a2.6 2.6 0 1 0 5.2 0a2.6 2.6 0 1 0-5.2 0M108.8 96.8a2.6 2.6 0 1 0 5.2 0a2.6 2.6 0 1 0-5.2 0M190.4 57.4a2.6 2.6 0 1 0 5.2 0a2.6 2.6 0 1 0-5.2 0M183.8 41.8a2.6 2.6 0 1 0 5.2 0a2.6 2.6 0 1 0-5.2 0M123.8 -6a2.6 2.6 0 1 0 5.2 0a2.6 2.6 0 1 0-5.2 0M128.9 48.8a2.6 2.6 0 1 0 5.2 0a2.6 2.6 0 1 0-5.2 0M137.3 -4.3a2.6 2.6 0 1 0 5.2 0a2.6 2.6 0 1 0-5.2 0M181.2 -1.9a2.6 2.6 0 1 0 5.2 0a2.6 2.6 0 1 0-5.2 0M146 127.2a2.6 2.6 0 1 0 5.2 0a2.6 2.6 0 1 0-5.2 0M150.2 219.6a2.6 2.6 0 1 0 5.2 0a2.6 2.6 0 1 0-5.2 0M185 145.2a2.6 2.6 0 1 0 5.2 0a2.6 2.6 0 1 0-5.2 0M108 1.1a2.6 2.6 0 1 0 5.2 0a2.6 2.6 0 1 0-5.2 0M195.9 188.8a2.6 2.6 0 1 0 5.2 0a2.6 2.6 0 1 0-5.2 0M152.7 182.6a2.6 2.6 0 1 0 5.2 0a2.6 2.6 0 1 0-5.2 0M183.1 201.8a2.6 2.6 0 1 0 5.2 0a2.6 2.6 0 1 0-5.2 0M183 234.9a2.6 2.6 0 1 0 5.2 0a2.6 2.6 0 1 0-5.2 0M152.5 27.6a2.6 2.6 0 1 0 5.2 0a2.6 2.6 0 1 0-5.2 0M149.3 95a2.6 2.6 0 1 0 5.2 0a2.6 2.6 0 1 0-5.2 0M94.4 123.4a2.6 2.6 0 1 0 5.2 0a2.6 2.6 0 1 0-5.2 0M218.8 134.7a2.6 2.6 0 1 0 5.2 0a2.6 2.6 0 1 0-5.2 0M116.4 212.2a2.6 2.6 0 1 0 5.2 0a2.6 2.6 0 1 0-5.2 0M182.9 4.4a2.6 2.6 0 1 0 5.2 0a2.6 2.6 0 1 0-5.2 0M115.2 220.9a2.6 2.6 0 1 0 5.2 0a2.6 2.6 0 1 0-5.2 0M64.4 80.5a2.6 2.6 0 1 0 5.2 0a2.6 2.6 0 1 0-5.2 0M135.4 214.1a2.6 2.6 0 1 0 5.2 0a2.6 2.6 0 1 0-5.2 0M74.1 93.8a2.6 2.6 0 1 0 5.2 0a2.6 2.6 0 1 0-5.2 0M111.3 80.6a2.6 2.6 0 1 0 5.2 0a2.6 2.6 0 1 0-5.2 0M208.7 154.3a2.6 2.6 0 1 0 5.2 0a2.6 2.6 0 1 0-5.2 0M177.5 38.3a2.6 2.6 0 1 0 5.2 0a2.6 2.6 0 1 0-5.2 0M228.2 145.3a2.6 2.6 0 1 0 5.2 0a2.6 2.6 0 1 0-5.2 0M222.6 128.4a2.6 2.6 0 1 0 5.2 0a2.6 2.6 0 1 0-5.2 0M136.6 62.2a2.6 2.6 0 1 0 5.2 0a2.6 2.6 0 1 0-5.2 0M175.9 224.2a2.6 2.6 0 1 0 5.2 0a2.6 2.6 0 1 0-5.2 0M76.5 28.8a2.6 2.6 0 1 0 5.2 0a2.6 2.6 0 1 0-5.2 0M204.9 248.9a2.6 2.6 0 1 0 5.2 0a2.6 2.6 0 1 0-5.2 0M159.4 194.2a2.6 2.6 0 1 0 5.2 0a2.6 2.6 0 1 0-5.2 0M94.6 218.4a2.6 2.6 0 1 0 5.2 0a2.6 2.6 0 1 0-5.2 0M204.1 222.1a2.6 2.6 0 1 0 5.2 0a2.6 2.6 0 1 0-5.2 0M191 9.5a2.6 2.6 0 1 0 5.2 0a2.6 2.6 0 1 0-5.2 0M104.1 101.5a2.6 2.6 0 1 0 5.2 0a2.6 2.6 0 1 0-5.2 0M189.2 23.4a2.6 2.6 0 1 0 5.2 0a2.6 2.6 0 1 0-5.2 0M181.8 198.5a2.6 2.6 0 1 0 5.2 0a2.6 2.6 0 1 0-5.2 0M150.8 218.7a2.6 2.6 0 1 0 5.2 0a2.6 2.6 0 1 0-5.2 0M179.5 164.9a2.6 2.6 0 1 0 5.2 0a2.6 2.6 0 1 0-5.2 0M126.8 209.3a2.6 2.6 0 1 0 5.2 0a2.6 2.6 0 1 0-5.2 0M97.7 85.8a2.6 2.6 0 1 0 5.2 0a2.6 2.6 0 1 0-5.2 0M132.1 101.6a2.6 2.6 0 1 0 5.2 0a2.6 2.6 0 1 0-5.2 0M166.7 -3.1a2.6 2.6 0 1 0 5.2 0a2.6 2.6 0 1 0-5.2 0M89.1 96.4a2.6 2.6 0 1 0 5.2 0a2.6 2.6 0 1 0-5.2 0M174 77a2.6 2.6 0 1 0 5.2 0a2.6 2.6 0 1 0-5.2 0M174.3 119.2a2.6 2.6 0 1 0 5.2 0a2.6 2.6 0 1 0-5.2 0M151.1 134.2a2.6 2.6 0 1 0 5.2 0a2.6 2.6 0 1 0-5.2 0M203.5 218.5a2.6 2.6 0 1 0 5.2 0a2.6 2.6 0 1 0-5.2 0M135.9 28.5a2.6 2.6 0 1 0 5.2 0a2.6 2.6 0 1 0-5.2 0M218.1 223.3a2.6 2.6 0 1 0 5.2 0a2.6 2.6 0 1 0-5.2 0M215.2 133.7a2.6 2.6 0 1 0 5.2 0a2.6 2.6 0 1 0-5.2 0M165.2 233.6a2.6 2.6 0 1 0 5.2 0a2.6 2.6 0 1 0-5.2 0M200 84.9a2.6 2.6 0 1 0 5.2 0a2.6 2.6 0 1 0-5.2 0M225.9 244.5a2.6 2.6 0 1 0 5.2 0a2.6 2.6 0 1 0-5.2 0M197.7 178.4a2.6 2.6 0 1 0 5.2 0a2.6 2.6 0 1 0-5.2 0M176.7 107.6a2.6 2.6 0 1 0 5.2 0a2.6 2.6 0 1 0-5.2 0M175.5 140.9a2.6 2.6 0 1 0 5.2 0a2.6 2.6 0 1 0-5.2 0M162.9 46.2a2.6 2.6 0 1 0 5.2 0a2.6 2.6 0 1 0-5.2 0M228.7 192.5a2.6 2.6 0 1 0 5.2 0a2.6 2.6 0 1 0-5.2 0M227.2 203.1a2.6 2.6 0 1 0 5.2 0a2.6 2.6 0 1 0-5.2 0M227.3 191.1a2.6 2.6 0 1 0 5.2 0a2.6 2.6 0 1 0-5.2 0M223.2 137.4a2.6 2.6 0 1 0 5.2 0a2.6 2.6 0 1 0-5.2 0M181 32a2.6 2.6 0 1 0 5.2 0a2.6 2.6 0 1 0-5.2 0M209.2 156.1a2.6 2.6 0 1 0 5.2 0a2.6 2.6 0 1 0-5.2 0M187.1 3.9a2.6 2.6 0 1 0 5.2 0a2.6 2.6 0 1 0-5.2 0M181 69.6a2.6 2.6 0 1 0 5.2 0a2.6 2.6 0 1 0-5.2 0M208.4 206.7a2.6 2.6 0 1 0 5.2 0a2.6 2.6 0 1 0-5.2 0M168.6 217.1a2.6 2.6 0 1 0 5.2 0a2.6 2.6 0 1 0-5.2 0M216.3 155.4a2.6 2.6 0 1 0 5.2 0a2.6 2.6 0 1 0-5.2 0M157.6 160.9a2.6 2.6 0 1 0 5.2 0a2.6 2.6 0 1 0-5.2 0M66.7 80.9a2.6 2.6 0 1 0 5.2 0a2.6 2.6 0 1 0-5.2 0M190.6 84.3a2.6 2.6 0 1 0 5.2 0a2.6 2.6 0 1 0-5.2 0M186.8 98.1a2.6 2.6 0 1 0 5.2 0a2.6 2.6 0 1 0-5.2 0M137.9 178a2.6 2.6 0 1 0 5.2 0a2.6 2.6 0 1 0-5.2 0M171.6 2.1a2.6 2.6 0 1 0 5.2 0a2.6 2.6 0 1 0-5.2 0M127.1 26.9a2.6 2.6 0 1 0 5.2 0a2.6 2.6 0 1 0-5.2 0M98.7 258.3a2.6 2.6 0 1 0 5.2 0a2.6 2.6 0 1 0-5.2 0M131.1 14a2.6 2.6 0 1 0 5.2 0a2.6 2.6 0 1 0-5.2 0M140.7 202.7a2.6 2.6 0 1 0 5.2 0a2.6 2.6 0 1 0-5.2 0M158.4 43.4a2.6 2.6 0 1 0 5.2 0a2.6 2.6 0 1 0-5.2 0M185.3 252.8a2.6 2.6 0 1 0 5.2 0a2.6 2.6 0 1 0-5.2 0M166.3 155.5a2.6 2.6 0 1 0 5.2 0a2.6 2.6 0 1 0-5.2 0M130.2 8.6a2.6 2.6 0 1 0 5.2 0a2.6 2.6 0 1 0-5.2 0M137.8 51.4a2.6 2.6 0 1 0 5.2 0a2.6 2.6 0 1 0-5.2 0M132.4 94.1a2.6 2.6 0 1 0 5.2 0a2.6 2.6 0 1 0-5.2 0M190.3 2.7a2.6 2.6 0 1 0 5.2 0a2.6 2.6 0 1 0-5.2 0M191.4 180a2.6 2.6 0 1 0 5.2 0a2.6 2.6 0 1 0-5.2 0M118.6 19.5a2.6 2.6 0 1 0 5.2 0a2.6 2.6 0 1 0-5.2 0M197.1 28.9a2.6 2.6 0 1 0 5.2 0a2.6 2.6 0 1 0-5.2 0M165.6 72.2a2.6 2.6 0 1 0 5.2 0a2.6 2.6 0 1 0-5.2 0M141 144.8a2.6 2.6 0 1 0 5.2 0a2.6 2.6 0 1 0-5.2 0M180 100a2.6 2.6 0 1 0 5.2 0a2.6 2.6 0 1 0-5.2 0M203 181.3a2.6 2.6 0 1 0 5.2 0a2.6 2.6 0 1 0-5.2 0M220.5 130.9a2.6 2.6 0 1 0 5.2 0a2.6 2.6 0 1 0-5.2 0M215.4 123.4a2.6 2.6 0 1 0 5.2 0a2.6 2.6 0 1 0-5.2 0M201.8 190.5a2.6 2.6 0 1 0 5.2 0a2.6 2.6 0 1 0-5.2 0M143.9 71.4a2.6 2.6 0 1 0 5.2 0a2.6 2.6 0 1 0-5.2 0M173.6 119.8a2.6 2.6 0 1 0 5.2 0a2.6 2.6 0 1 0-5.2 0M234.6 244.5a2.6 2.6 0 1 0 5.2 0a2.6 2.6 0 1 0-5.2 0M149.9 14.2a2.6 2.6 0 1 0 5.2 0a2.6 2.6 0 1 0-5.2 0M126.5 57.8a2.6 2.6 0 1 0 5.2 0a2.6 2.6 0 1 0-5.2 0M168.8 127.1a2.6 2.6 0 1 0 5.2 0a2.6 2.6 0 1 0-5.2 0M78.9 105.8a2.6 2.6 0 1 0 5.2 0a2.6 2.6 0 1 0-5.2 0M168.2 109.5a2.6 2.6 0 1 0 5.2 0a2.6 2.6 0 1 0-5.2 0M223.3 201.7a2.6 2.6 0 1 0 5.2 0a2.6 2.6 0 1 0-5.2 0M67.2 90.6a2.6 2.6 0 1 0 5.2 0a2.6 2.6 0 1 0-5.2 0M150.8 101.7a2.6 2.6 0 1 0 5.2 0a2.6 2.6 0 1 0-5.2 0M219.9 237.6a2.6 2.6 0 1 0 5.2 0a2.6 2.6 0 1 0-5.2 0M67.7 67.4a2.6 2.6 0 1 0 5.2 0a2.6 2.6 0 1 0-5.2 0M174.2 34.7a2.6 2.6 0 1 0 5.2 0a2.6 2.6 0 1 0-5.2 0M130.4 249.5a2.6 2.6 0 1 0 5.2 0a2.6 2.6 0 1 0-5.2 0M122.3 61.1a2.6 2.6 0 1 0 5.2 0a2.6 2.6 0 1 0-5.2 0M194 20.7a2.6 2.6 0 1 0 5.2 0a2.6 2.6 0 1 0-5.2 0M181.8 91.4a2.6 2.6 0 1 0 5.2 0a2.6 2.6 0 1 0-5.2 0M199.9 196.6a2.6 2.6 0 1 0 5.2 0a2.6 2.6 0 1 0-5.2 0M170.2 172.7a2.6 2.6 0 1 0 5.2 0a2.6 2.6 0 1 0-5.2 0M181.1 138.1a2.6 2.6 0 1 0 5.2 0a2.6 2.6 0 1 0-5.2 0M132.9 57.6a2.6 2.6 0 1 0 5.2 0a2.6 2.6 0 1 0-5.2 0M119.6 59.5a2.6 2.6 0 1 0 5.2 0a2.6 2.6 0 1 0-5.2 0M166.1 90.3a2.6 2.6 0 1 0 5.2 0a2.6 2.6 0 1 0-5.2 0M233.2 236.6a2.6 2.6 0 1 0 5.2 0a2.6 2.6 0 1 0-5.2 0M207.8 142.6a2.6 2.6 0 1 0 5.2 0a2.6 2.6 0 1 0-5.2 0M140 256.6a2.6 2.6 0 1 0 5.2 0a2.6 2.6 0 1 0-5.2 0M194.4 22.5a2.6 2.6 0 1 0 5.2 0a2.6 2.6 0 1 0-5.2 0M164.6 4.8a2.6 2.6 0 1 0 5.2 0a2.6 2.6 0 1 0-5.2 0M175.7 106.8a2.6 2.6 0 1 0 5.2 0a2.6 2.6 0 1 0-5.2 0M100.2 0.1a2.6 2.6 0 1 0 5.2 0a2.6 2.6 0 1 0-5.2 0M67.8 35.8a2.6 2.6 0 1 0 5.2 0a2.6 2.6 0 1 0-5.2 0M173.7 12.3a2.6 2.6 0 1 0 5.2 0a2.6 2.6 0 1 0-5.2 0M198 234.5a2.6 2.6 0 1 0 5.2 0a2.6 2.6 0 1 0-5.2 0M158.3 38.5a2.6 2.6 0 1 0 5.2 0a2.6 2.6 0 1 0-5.2 0M161.1 196.7a2.6 2.6 0 1 0 5.2 0a2.6 2.6 0 1 0-5.2 0M211.4 86.4a2.6 2.6 0 1 0 5.2 0a2.6 2.6 0 1 0-5.2 0M247.4 126a2.6 2.6 0 1 0 5.2 0a2.6 2.6 0 1 0-5.2 0M138.3 135.3a2.6 2.6 0 1 0 5.2 0a2.6 2.6 0 1 0-5.2 0M111.8 87.1a2.6 2.6 0 1 0 5.2 0a2.6 2.6 0 1 0-5.2 0M201.5 142.1a2.6 2.6 0 1 0 5.2 0a2.6 2.6 0 1 0-5.2 0M94.7 110.8a2.6 2.6 0 1 0 5.2 0a2.6 2.6 0 1 0-5.2 0M225.9 222.1a2.6 2.6 0 1 0 5.2 0a2.6 2.6 0 1 0-5.2 0M130.9 10.7a2.6 2.6 0 1 0 5.2 0a2.6 2.6 0 1 0-5.2 0M229.5 213a2.6 2.6 0 1 0 5.2 0a2.6 2.6 0 1 0-5.2 0M57.6 75.7a2.6 2.6 0 1 0 5.2 0a2.6 2.6 0 1 0-5.2 0M208.5 152.7a2.6 2.6 0 1 0 5.2 0a2.6 2.6 0 1 0-5.2 0M221.7 125.6a2.6 2.6 0 1 0 5.2 0a2.6 2.6 0 1 0-5.2 0M238.3 131.5a2.6 2.6 0 1 0 5.2 0a2.6 2.6 0 1 0-5.2 0M61.1 115a2.6 2.6 0 1 0 5.2 0a2.6 2.6 0 1 0-5.2 0M160.4 203.8a2.6 2.6 0 1 0 5.2 0a2.6 2.6 0 1 0-5.2 0M194.6 107.5a2.6 2.6 0 1 0 5.2 0a2.6 2.6 0 1 0-5.2 0M192.4 188.2a2.6 2.6 0 1 0 5.2 0a2.6 2.6 0 1 0-5.2 0M129.5 82.9a2.6 2.6 0 1 0 5.2 0a2.6 2.6 0 1 0-5.2 0M138.5 259a2.6 2.6 0 1 0 5.2 0a2.6 2.6 0 1 0-5.2 0M102.6 250.5a2.6 2.6 0 1 0 5.2 0a2.6 2.6 0 1 0-5.2 0M186.5 86.8a2.6 2.6 0 1 0 5.2 0a2.6 2.6 0 1 0-5.2 0M202.9 212.6a2.6 2.6 0 1 0 5.2 0a2.6 2.6 0 1 0-5.2 0M211 132.6a2.6 2.6 0 1 0 5.2 0a2.6 2.6 0 1 0-5.2 0M141.1 113a2.6 2.6 0 1 0 5.2 0a2.6 2.6 0 1 0-5.2 0M71.1 36.3a2.6 2.6 0 1 0 5.2 0a2.6 2.6 0 1 0-5.2 0M143.2 -1a2.6 2.6 0 1 0 5.2 0a2.6 2.6 0 1 0-5.2 0M167.7 41.1a2.6 2.6 0 1 0 5.2 0a2.6 2.6 0 1 0-5.2 0M215.2 211.3a2.6 2.6 0 1 0 5.2 0a2.6 2.6 0 1 0-5.2 0M141.7 230.8a2.6 2.6 0 1 0 5.2 0a2.6 2.6 0 1 0-5.2 0M152.2 44.7a2.6 2.6 0 1 0 5.2 0a2.6 2.6 0 1 0-5.2 0M191.2 67.4a2.6 2.6 0 1 0 5.2 0a2.6 2.6 0 1 0-5.2 0M121.6 43.4a2.6 2.6 0 1 0 5.2 0a2.6 2.6 0 1 0-5.2 0M231.6 246.2a2.6 2.6 0 1 0 5.2 0a2.6 2.6 0 1 0-5.2 0M179.8 146.1a2.6 2.6 0 1 0 5.2 0a2.6 2.6 0 1 0-5.2 0M163.2 140.2a2.6 2.6 0 1 0 5.2 0a2.6 2.6 0 1 0-5.2 0M159.2 156.7a2.6 2.6 0 1 0 5.2 0a2.6 2.6 0 1 0-5.2 0M133.4 184.3a2.6 2.6 0 1 0 5.2 0a2.6 2.6 0 1 0-5.2 0M151.4 230.4a2.6 2.6 0 1 0 5.2 0a2.6 2.6 0 1 0-5.2 0M225.9 156.2a2.6 2.6 0 1 0 5.2 0a2.6 2.6 0 1 0-5.2 0M207.3 193.9a2.6 2.6 0 1 0 5.2 0a2.6 2.6 0 1 0-5.2 0M169.4 11.4a2.6 2.6 0 1 0 5.2 0a2.6 2.6 0 1 0-5.2 0M120.6 98.8a2.6 2.6 0 1 0 5.2 0a2.6 2.6 0 1 0-5.2 0M108.5 112.4a2.6 2.6 0 1 0 5.2 0a2.6 2.6 0 1 0-5.2 0M128.7 148.4a2.6 2.6 0 1 0 5.2 0a2.6 2.6 0 1 0-5.2 0M226.7 154.8a2.6 2.6 0 1 0 5.2 0a2.6 2.6 0 1 0-5.2 0M75 34.8a2.6 2.6 0 1 0 5.2 0a2.6 2.6 0 1 0-5.2 0M120.5 241.2a2.6 2.6 0 1 0 5.2 0a2.6 2.6 0 1 0-5.2 0M162.3 174.5a2.6 2.6 0 1 0 5.2 0a2.6 2.6 0 1 0-5.2 0M139.4 222.3a2.6 2.6 0 1 0 5.2 0a2.6 2.6 0 1 0-5.2 0M132.6 261.1a2.6 2.6 0 1 0 5.2 0a2.6 2.6 0 1 0-5.2 0M123.3 14a2.6 2.6 0 1 0 5.2 0a2.6 2.6 0 1 0-5.2 0M129.4 76a2.6 2.6 0 1 0 5.2 0a2.6 2.6 0 1 0-5.2 0M155.6 257.1a2.6 2.6 0 1 0 5.2 0a2.6 2.6 0 1 0-5.2 0M127.6 193.1a2.6 2.6 0 1 0 5.2 0a2.6 2.6 0 1 0-5.2 0M186.5 17.8a2.6 2.6 0 1 0 5.2 0a2.6 2.6 0 1 0-5.2 0M203.2 257.7a2.6 2.6 0 1 0 5.2 0a2.6 2.6 0 1 0-5.2 0M223.5 126.9a2.6 2.6 0 1 0 5.2 0a2.6 2.6 0 1 0-5.2 0M190.4 193.4a2.6 2.6 0 1 0 5.2 0a2.6 2.6 0 1 0-5.2 0M127.6 200a2.6 2.6 0 1 0 5.2 0a2.6 2.6 0 1 0-5.2 0M111.1 120.5a2.6 2.6 0 1 0 5.2 0a2.6 2.6 0 1 0-5.2 0M106 121.1a2.6 2.6 0 1 0 5.2 0a2.6 2.6 0 1 0-5.2 0M211.2 148.7a2.6 2.6 0 1 0 5.2 0a2.6 2.6 0 1 0-5.2 0M55.8 109.8a2.6 2.6 0 1 0 5.2 0a2.6 2.6 0 1 0-5.2 0M96.9 250.5a2.6 2.6 0 1 0 5.2 0a2.6 2.6 0 1 0-5.2 0M128.8 -4.4a2.6 2.6 0 1 0 5.2 0a2.6 2.6 0 1 0-5.2 0M165.4 220.1a2.6 2.6 0 1 0 5.2 0a2.6 2.6 0 1 0-5.2 0M166.4 47.6a2.6 2.6 0 1 0 5.2 0a2.6 2.6 0 1 0-5.2 0M132.5 105.8a2.6 2.6 0 1 0 5.2 0a2.6 2.6 0 1 0-5.2 0M144.6 1.1a2.6 2.6 0 1 0 5.2 0a2.6 2.6 0 1 0-5.2 0M122.4 40.8a2.6 2.6 0 1 0 5.2 0a2.6 2.6 0 1 0-5.2 0M220.8 189.4a2.6 2.6 0 1 0 5.2 0a2.6 2.6 0 1 0-5.2 0M214.6 215.1a2.6 2.6 0 1 0 5.2 0a2.6 2.6 0 1 0-5.2 0M195.2 52.1a2.6 2.6 0 1 0 5.2 0a2.6 2.6 0 1 0-5.2 0M130.8 126.9a2.6 2.6 0 1 0 5.2 0a2.6 2.6 0 1 0-5.2 0M203.8 90.4a2.6 2.6 0 1 0 5.2 0a2.6 2.6 0 1 0-5.2 0M144.1 18.7a2.6 2.6 0 1 0 5.2 0a2.6 2.6 0 1 0-5.2 0M151.8 238.9a2.6 2.6 0 1 0 5.2 0a2.6 2.6 0 1 0-5.2 0M175.1 224.3a2.6 2.6 0 1 0 5.2 0a2.6 2.6 0 1 0-5.2 0M91.5 95.3a2.6 2.6 0 1 0 5.2 0a2.6 2.6 0 1 0-5.2 0M147.1 56.7a2.6 2.6 0 1 0 5.2 0a2.6 2.6 0 1 0-5.2 0M61 82.6a2.6 2.6 0 1 0 5.2 0a2.6 2.6 0 1 0-5.2 0M196.3 98.5a2.6 2.6 0 1 0 5.2 0a2.6 2.6 0 1 0-5.2 0M229 113.3a2.6 2.6 0 1 0 5.2 0a2.6 2.6 0 1 0-5.2 0M169.4 232.8a2.6 2.6 0 1 0 5.2 0a2.6 2.6 0 1 0-5.2 0M178.7 25a2.6 2.6 0 1 0 5.2 0a2.6 2.6 0 1 0-5.2 0M189.9 103.3a2.6 2.6 0 1 0 5.2 0a2.6 2.6 0 1 0-5.2 0M172.8 243.3a2.6 2.6 0 1 0 5.2 0a2.6 2.6 0 1 0-5.2 0M180.1 144.4a2.6 2.6 0 1 0 5.2 0a2.6 2.6 0 1 0-5.2 0M116.6 70.1a2.6 2.6 0 1 0 5.2 0a2.6 2.6 0 1 0-5.2 0M192.2 248.8a2.6 2.6 0 1 0 5.2 0a2.6 2.6 0 1 0-5.2 0M108.1 229a2.6 2.6 0 1 0 5.2 0a2.6 2.6 0 1 0-5.2 0M187 31.5a2.6 2.6 0 1 0 5.2 0a2.6 2.6 0 1 0-5.2 0M128.3 256.7a2.6 2.6 0 1 0 5.2 0a2.6 2.6 0 1 0-5.2 0M72.7 47.4a2.6 2.6 0 1 0 5.2 0a2.6 2.6 0 1 0-5.2 0M145.6 39.7a2.6 2.6 0 1 0 5.2 0a2.6 2.6 0 1 0-5.2 0M146.2 250.9a2.6 2.6 0 1 0 5.2 0a2.6 2.6 0 1 0-5.2 0M230.9 128.3a2.6 2.6 0 1 0 5.2 0a2.6 2.6 0 1 0-5.2 0M101.9 -2.9a2.6 2.6 0 1 0 5.2 0a2.6 2.6 0 1 0-5.2 0M218.2 224.1a2.6 2.6 0 1 0 5.2 0a2.6 2.6 0 1 0-5.2 0M64.5 87.6a2.6 2.6 0 1 0 5.2 0a2.6 2.6 0 1 0-5.2 0M110.7 125.7a2.6 2.6 0 1 0 5.2 0a2.6 2.6 0 1 0-5.2 0M194.5 5.8a2.6 2.6 0 1 0 5.2 0a2.6 2.6 0 1 0-5.2 0M154.3 223.4a2.6 2.6 0 1 0 5.2 0a2.6 2.6 0 1 0-5.2 0M221.3 215.9a2.6 2.6 0 1 0 5.2 0a2.6 2.6 0 1 0-5.2 0M132.1 36.7a2.6 2.6 0 1 0 5.2 0a2.6 2.6 0 1 0-5.2 0M163.2 149.1a2.6 2.6 0 1 0 5.2 0a2.6 2.6 0 1 0-5.2 0M132.8 141.8a2.6 2.6 0 1 0 5.2 0a2.6 2.6 0 1 0-5.2 0M153.9 199.2a2.6 2.6 0 1 0 5.2 0a2.6 2.6 0 1 0-5.2 0M165.9 62.6a2.6 2.6 0 1 0 5.2 0a2.6 2.6 0 1 0-5.2 0M179.7 27.2a2.6 2.6 0 1 0 5.2 0a2.6 2.6 0 1 0-5.2 0M139.7 245.9a2.6 2.6 0 1 0 5.2 0a2.6 2.6 0 1 0-5.2 0M154.6 49.5a2.6 2.6 0 1 0 5.2 0a2.6 2.6 0 1 0-5.2 0M140.2 32.7a2.6 2.6 0 1 0 5.2 0a2.6 2.6 0 1 0-5.2 0M215.8 107.2a2.6 2.6 0 1 0 5.2 0a2.6 2.6 0 1 0-5.2 0M176.4 29.4a2.6 2.6 0 1 0 5.2 0a2.6 2.6 0 1 0-5.2 0M230.3 221.7a2.6 2.6 0 1 0 5.2 0a2.6 2.6 0 1 0-5.2 0M113 260.7a2.6 2.6 0 1 0 5.2 0a2.6 2.6 0 1 0-5.2 0M155.3 208a2.6 2.6 0 1 0 5.2 0a2.6 2.6 0 1 0-5.2 0M197.1 106.6a2.6 2.6 0 1 0 5.2 0a2.6 2.6 0 1 0-5.2 0M169.8 28.7a2.6 2.6 0 1 0 5.2 0a2.6 2.6 0 1 0-5.2 0M168.5 130.2a2.6 2.6 0 1 0 5.2 0a2.6 2.6 0 1 0-5.2 0M151.1 97.7a2.6 2.6 0 1 0 5.2 0a2.6 2.6 0 1 0-5.2 0M162.6 0.7a2.6 2.6 0 1 0 5.2 0a2.6 2.6 0 1 0-5.2 0M199.1 140.1a2.6 2.6 0 1 0 5.2 0a2.6 2.6 0 1 0-5.2 0M170.2 144.9a2.6 2.6 0 1 0 5.2 0a2.6 2.6 0 1 0-5.2 0M94.4 -1.2a2.6 2.6 0 1 0 5.2 0a2.6 2.6 0 1 0-5.2 0M165.4 181.9a2.6 2.6 0 1 0 5.2 0a2.6 2.6 0 1 0-5.2 0M156.8 230.7a2.6 2.6 0 1 0 5.2 0a2.6 2.6 0 1 0-5.2 0M173 37.6a2.6 2.6 0 1 0 5.2 0a2.6 2.6 0 1 0-5.2 0M120.7 27.3a2.6 2.6 0 1 0 5.2 0a2.6 2.6 0 1 0-5.2 0M108.5 2a2.6 2.6 0 1 0 5.2 0a2.6 2.6 0 1 0-5.2 0M217.6 149.8a2.6 2.6 0 1 0 5.2 0a2.6 2.6 0 1 0-5.2 0M237 248.3a2.6 2.6 0 1 0 5.2 0a2.6 2.6 0 1 0-5.2 0M187.4 146.9a2.6 2.6 0 1 0 5.2 0a2.6 2.6 0 1 0-5.2 0M169.3 18.7a2.6 2.6 0 1 0 5.2 0a2.6 2.6 0 1 0-5.2 0M188.5 34.6a2.6 2.6 0 1 0 5.2 0a2.6 2.6 0 1 0-5.2 0M102.8 250.9a2.6 2.6 0 1 0 5.2 0a2.6 2.6 0 1 0-5.2 0M103.5 33.3a2.6 2.6 0 1 0 5.2 0a2.6 2.6 0 1 0-5.2 0" fill="none" stroke="#e3a8bc" stroke-width="0.8"/>
<path d="M139 226.2h0M122.8 68h0M192.3 207.9h0M66.3 41.3h0M162 144.9h0M63.5 33.5h0M161.6 173.7h0M221.1 161.2h0M178.7 158.6h0M230.4 239.5h0M143.3 131.6h0M221.8 158.8h0M224.2 234.7h0M126.4 90.5h0M134.8 111.8h0M90.3 28.9h0M186.9 52.1h0M200.6 152.2h0M132.5 91.7h0M63.2 76h0M173.3 119.7h0M231.2 181.1h0M118.2 101.6h0M138.8 130.4h0M170.5 152.7h0M98 240.4h0M115.5 220h0M174.7 239.4h0M144.5 187.5h0M90.2 258.1h0M99.4 -3.9h0M148.2 230h0M206.6 143.8h0M144.3 14.2h0M143 133.9h0M171.9 120.6h0M213.5 79.6h0M131.8 43.8h0M174.6 201.7h0M169.2 73.6h0M183.1 102.8h0M214 119.4h0M223.1 157.3h0M148.5 244.3h0M135.9 94.1h0M115.4 119.8h0M159.4 92.9h0M173 83.7h0M141 116.2h0M181.7 267.4h0M146.9 116.9h0M118.7 120.2h0M173.3 129.5h0M150.7 267.7h0M133.2 88.7h0M218.7 213.1h0M224.6 134.5h0M133.9 138.8h0M225.6 227h0M138.4 206.3h0M124.4 17.1h0M236.1 230.9h0M181.1 -2.7h0M216.6 186h0M181.1 9.5h0M143.3 123h0M141.5 130.2h0M212.6 112.4h0M169.7 49.4h0M206.4 155.8h0M164.9 183.6h0M135.5 79.2h0M138 105.6h0M230.1 139h0M148.7 251.1h0M226.4 230.2h0M148.2 221.1h0M226 190.7h0M132.3 247h0M169.2 70.7h0M189.7 75.6h0M76.4 32.2h0M153.3 157.8h0M119.5 44.9h0M152.4 96.4h0M74.6 109h0M62.1 61h0M207 140.6h0M80.6 90.1h0M206 238.3h0M140.3 122.8h0M57.3 109.2h0M121.4 224.8h0M229.1 231.4h0M173 -1.5h0M161.8 58.9h0M133.8 211.8h0M91.1 102.7h0M187.8 207.4h0M65.6 49.8h0M122.7 67.3h0M182.9 168.7h0M107.8 260.1h0M228.6 261.1h0M194.5 260.9h0M200.9 190.7h0M97.5 33.6h0M130.2 75.8h0M199.8 97.3h0M160.3 28.7h0M203 121.4h0M159.3 203.4h0M156.1 157.7h0M188.1 17.3h0M145.6 258.5h0M133.4 46.9h0M175.4 261.9h0M149.6 25.8h0M167 132.6h0M76.1 32.8h0M119.4 223.2h0M131.9 52.3h0M115.8 226.3h0M73.2 89.8h0M68.4 73h0M219.6 260.1h0M198.5 180.9h0M166.9 100.9h0M146.7 97h0M108.2 230.1h0M136 176.8h0M113.7 225.7h0M219.7 260.7h0M167.7 93.4h0M128.5 91.8h0M127.1 99h0M135.1 183.3h0M133.3 234.4h0" stroke="#f1dbe0" stroke-width="5" stroke-linecap="round" opacity="0.8"/>
<path d="M22.6 170.4C21.5 162.6 25.8 151.8 31.1 144.7C36.4 137.6 45.7 130.9 54.6 127.7C63.5 124.5 74.9 124.4 84.5 125.5C94.1 126.6 105.2 129.5 112.3 134.1C119.4 138.7 124.7 145.7 127.3 153.3C129.9 161 129.6 172.2 128 180C126.5 187.8 122.7 194.7 118 200C113.3 205.3 104.9 209.5 100 212C95.1 214.5 94.9 215.4 88.8 215.2C82.7 215 71.8 214.9 63.2 211C54.7 207.1 44.3 198.5 37.5 191.7C30.7 184.9 23.7 178.2 22.6 170.4Z" fill="none" stroke="#f3b5c3" stroke-width="15" stroke-linejoin="round"/>
<path d="M22.6 170.4C21.5 162.6 25.8 151.8 31.1 144.7C36.4 137.6 45.7 130.9 54.6 127.7C63.5 124.5 74.9 124.4 84.5 125.5C94.1 126.6 105.2 129.5 112.3 134.1C119.4 138.7 124.7 145.7 127.3 153.3C129.9 161 129.6 172.2 128 180C126.5 187.8 122.7 194.7 118 200C113.3 205.3 104.9 209.5 100 212C95.1 214.5 94.9 215.4 88.8 215.2C82.7 215 71.8 214.9 63.2 211C54.7 207.1 44.3 198.5 37.5 191.7C30.7 184.9 23.7 178.2 22.6 170.4Z" fill="none" stroke="#e6a0b4" stroke-width="11.2" stroke-dasharray="1.2 2.8" opacity="0.5"/>
<path d="M22.6 170.4C21.5 162.6 25.8 151.8 31.1 144.7C36.4 137.6 45.7 130.9 54.6 127.7C63.5 124.5 74.9 124.4 84.5 125.5C94.1 126.6 105.2 129.5 112.3 134.1C119.4 138.7 124.7 145.7 127.3 153.3C129.9 161 129.6 172.2 128 180C126.5 187.8 122.7 194.7 118 200C113.3 205.3 104.9 209.5 100 212C95.1 214.5 94.9 215.4 88.8 215.2C82.7 215 71.8 214.9 63.2 211C54.7 207.1 44.3 198.5 37.5 191.7C30.7 184.9 23.7 178.2 22.6 170.4Z" fill="none" stroke="#f5ccd5" stroke-width="3.0" opacity="0.6"/>
<path d="M188.9 5C191.4 14.8 198.5 47.4 203.8 63.6C209.1 79.8 214.5 92.8 220.9 102C227.3 111.2 236.2 117.7 242.3 119.1C248.4 120.5 254.7 112 257.2 110.6" fill="none" stroke="#f3b5c3" stroke-width="16" stroke-linejoin="round"/>
<path d="M188.9 5C191.4 14.8 198.5 47.4 203.8 63.6C209.1 79.8 214.5 92.8 220.9 102C227.3 111.2 236.2 117.7 242.3 119.1C248.4 120.5 254.7 112 257.2 110.6" fill="none" stroke="#e6a0b4" stroke-width="12.0" stroke-dasharray="1.2 2.8" opacity="0.5"/>
<path d="M188.9 5C191.4 14.8 198.5 47.4 203.8 63.6C209.1 79.8 214.5 92.8 220.9 102C227.3 111.2 236.2 117.7 242.3 119.1C248.4 120.5 254.7 112 257.2 110.6" fill="none" stroke="#f5ccd5" stroke-width="3.2" opacity="0.6"/>
<path d="M250.8 -5C251.9 4.7 255.4 36.1 257.2 52.9C259 69.7 260.8 88.5 261.5 95.6" fill="none" stroke="#f3b5c3" stroke-width="9" stroke-linejoin="round"/>
<path d="M250.8 -5C251.9 4.7 255.4 36.1 257.2 52.9C259 69.7 260.8 88.5 261.5 95.6" fill="none" stroke="#e6a0b4" stroke-width="6.8" stroke-dasharray="1.2 2.8" opacity="0.5"/>
<path d="M250.8 -5C251.9 4.7 255.4 36.1 257.2 52.9C259 69.7 260.8 88.5 261.5 95.6" fill="none" stroke="#f5ccd5" stroke-width="1.8" opacity="0.6"/>
<path d="M-2.4 237.8h0M5 247.3h0M42 230.3h0M48.6 238.5h0M62 205.5h0M70.5 211h0M82.7 209.7h0M51.9 201.3h0M60.4 241.8h0M70.1 214.9h0M119 189h0M120.1 199.3h0M57.2 190.1h0M35.9 174.8h0M34.5 175.1h0M34 172.2h0M109.6 145.2h0M129 180.7h0M124.6 183.9h0M130.6 174.2h0M130 170.8h0M40.9 103.6h0M39.1 133.1h0M7.9 146.6h0M5.6 140.4h0M-0.8 133h0M33.3 -2.7h0M123.7 145.1h0M4.4 14.8h0M-2 6.5h0M34.6 7.8h0M17 25.5h0M19.1 50.9h0M13.1 41.9h0M12.2 42.6h0M23.8 56.1h0M25.1 57.4h0M57.3 37.6h0M286.2 95.8h0M285.4 106.2h0M306.2 125h0M262.4 1.9h0M266.5 29.1h0M250.9 34.7h0M333 49.5h0M332.5 50.7h0M310.1 56.7h0M96.4 129.9h0M267.1 64.6h0M270.8 66.6h0M280.8 88.4h0M275.4 80.8h0M273.9 78.8h0M260.6 142.8h0M256 108.4h0M259.8 111.8h0M237.2 110.3h0M277.2 121.7h0M273.6 88.8h0M317.4 150.8h0M319.9 150.5h0M330.7 182.6h0M314.9 168.7h0M48.9 80.3h0M67.6 125.1h0M64.2 134.2h0M72.6 6h0M107.7 18h0M274.7 244.9h0M309.5 193.1h0M324.1 243h0M320.7 240.2h0M266.7 148.2h0M254.4 158h0M254.8 158.5h0M290.2 195.8h0M236.9 170.5h0M49.3 246.2h0M66.6 237.2h0M32.2 172h0M262.4 1.1h0M15.7 164.9h0M40.9 103.8h0M9.9 35.9h0M305.1 49.4h0M270 23.2h0M293.3 19.5h0M298 14.8h0M301.5 18.5h0M271 127.5h0M252.2 104.4h0M332.9 219.4h0M273.5 245.5h0M271.1 243.2h0M302 248.9h0M125.2 140.6h0M121.2 146.6h0M99.8 215.3h0M118.2 198.3h0M100.1 133.5h0M121.9 160.9h0M126.7 158h0M28.5 173.1h0M29.1 182.1h0M37.1 185.3h0M108.2 201.3h0M96.8 215h0M22.7 168.8h0M50.5 135.8h0M90.7 219.2h0M81.9 123.1h0M134.5 157.1h0M134.2 173.8h0M64.9 215.8h0M123.5 201.8h0M116.8 211.5h0M96.7 218.5h0M196 36.1h0M189.2 22.4h0M202.9 86.7h0M188.8 32.8h0M249.2 116h0M207.9 81.5h0M232.8 106.9h0M190.4 45.3h0M211.5 77.3h0M198.1 32h0M201.6 49.2h0M207 71.1h0M190.8 27.6h0M193.9 46.9h0M249 9.5h0M256 56.4h0M256.8 87.7h0M251.4 5.6h0M259.7 53h0M254.1 34.3h0M252.7 5h0" stroke="#9e5a8e" stroke-width="2.0" stroke-linecap="round" opacity="0.72"/>
<path d="M178.2 149.3h0M140.4 214.7h0M191.7 138.7h0M231.1 212.4h0M107.3 233.8h0M127.8 244.9h0M192 247.5h0M152.8 134.3h0M165.4 184.2h0M169.1 231.5h0M216.8 249.8h0M149.5 175.2h0M147.9 56.8h0M155.1 19.7h0M188.7 113.8h0M130.1 107.9h0M114.7 214.7h0M239.1 236.6h0M181.1 209.6h0M149.1 234.7h0M212.7 164.7h0M145 170.3h0M211.1 171.1h0M212.8 196.7h0M180 244.6h0M163.3 179.9h0M218.2 146.2h0M161.2 152.1h0M115.3 233.2h0M173.6 45.8h0M220.3 98.9h0M133.7 177.4h0M72.7 94h0M70.3 114.9h0M61.5 94.1h0M201.5 178.8h0M103.3 236.5h0M139.9 176.3h0M217.3 169.1h0M124.6 137.6h0M199.9 145.5h0M160.5 27.7h0M211.2 112.4h0M201.7 38.8h0M92 219.8h0M138.2 156h0M147.2 195h0M80.7 96.2h0M216.3 230.7h0M237.2 205h0M121.6 134.4h0M139.3 15.5h0M177.2 155.1h0M167.5 32.6h0M169.9 115.9h0M231.9 240.8h0M168.9 148h0M105.5 220h0M172.8 208.7h0M194 94.4h0M99.2 217.1h0M216.8 195.9h0M198.3 77h0M254.3 123.7h0M155.4 225.7h0M131.8 154.7h0M166.9 6h0M237.5 127.3h0M208.5 166.5h0M164.7 84h0M115.4 220.3h0M126.3 44.4h0M124.8 252.1h0M225.5 231.1h0M69.4 105.3h0M215.4 101h0M216.8 162.2h0M218.9 142.8h0M150.9 110h0M218.3 91.1h0M158.5 84h0M192.4 231.1h0M62.7 105.9h0M213 175h0M150.9 219.7h0M152.8 212.9h0M200.5 59.3h0M116.7 122.6h0M228.2 251.3h0M125.5 251.8h0M186.6 117.2h0M226.7 229.7h0M127 217.6h0M112.9 5.4h0M159.4 81.6h0M194 180h0M134.4 93.1h0M139.6 99h0M192.6 203.9h0M177.3 98.6h0M92.3 114.7h0M124.6 22.6h0M227.4 170.5h0M96.4 222.2h0M149.6 206.4h0M99.1 220.1h0M192.1 24h0M174.4 6.8h0M164.7 -2.9h0M183.9 108.2h0M62.6 103h0M197.9 164.7h0M160.2 120.4h0M223.8 170.1h0M174.8 129.7h0M203.7 86.2h0M186.1 170h0M219.6 140.1h0M205.3 246.3h0M181.5 191.4h0M237.7 248.6h0M125.1 73.6h0M209 245.9h0M160 6.6h0M131 94.5h0M162.2 117.7h0M150.8 210.4h0M117.5 96.9h0M129.9 44.4h0M165.8 62.1h0M134.4 207.1h0M117.4 225.9h0M151.4 102.1h0M155 233.3h0M163.6 133.6h0M78.7 109.4h0M135.1 160.4h0M101.4 252.1h0M199.6 95.2h0M167.4 45h0M114 94.3h0M184.6 74.5h0M207.5 177.5h0M95.3 100h0M172 166.9h0M78.1 104.7h0M146.8 126.1h0M201.7 34.8h0M158 56.7h0M183.3 163.1h0M65.5 96h0M167.8 90.4h0M114.6 122.1h0M143.8 194h0M184.7 57.7h0M131.4 225.2h0M186.5 56.8h0M218 198.4h0M220.1 223.2h0M183.4 170.9h0M145.3 81.6h0M134.8 223.3h0M159.5 42.3h0M232.2 176.8h0M166.4 1.2h0M206.8 164.5h0M104.7 226h0M146.1 27.4h0M144.7 155.4h0M238.9 239h0M179.1 15.3h0M217.7 253.5h0M187.6 237.2h0M161.7 141.7h0M215.8 170.5h0M124.3 23.4h0M115.1 99.6h0M150.4 8.5h0M201.3 203.8h0M131.8 252.5h0M201.7 49.9h0M201.4 214.2h0M207.8 156.4h0M174.4 -2.8h0M203.7 227.5h0M227.8 205h0M137.3 118.3h0M172.4 197.3h0M112.3 244.6h0M163.8 37.1h0M190.9 61.6h0M149.9 58.6h0M210.2 196.7h0M196.4 20.4h0M143.2 155.8h0M137 29.4h0M208.7 139.6h0M200.4 152.7h0M195.1 111.6h0M143.1 103.7h0M214.7 97.1h0M95.5 116.3h0M181.4 91.2h0M250.9 124.8h0M95.9 230.1h0M179.9 118h0M153.9 205.3h0M225.8 164.8h0M168.6 131.9h0M139.4 104.1h0M149.8 147h0M139 34.3h0M176.3 54.4h0M188 181.9h0M140.9 66.4h0M180.9 128.1h0M161.6 66.8h0M133.7 177.8h0M130.5 82.5h0M198.4 42h0M167.6 52.8h0M135.4 148.8h0M159.2 221.8h0M105.1 109.8h0M223.8 136.5h0M208.5 148.4h0M120.6 221.4h0M172.2 218.3h0M188.1 231.2h0M207 122.8h0M154.7 130.8h0M196.2 11.8h0M236.4 132.9h0M154.7 167h0M223.4 235.6h0M141.5 103.7h0M150 117.1h0M138.1 244.4h0M186.5 83.4h0M153 65.3h0M187.4 68.5h0M206.8 82.9h0M87.8 101h0M134.4 57.4h0M116.5 103.1h0M226.8 221.7h0M95.6 223.8h0M126.5 210.1h0M202.9 78.7h0M161.6 151.3h0M79 114.7h0M96 242.6h0M105.3 4h0M176.9 144.4h0M170.7 161.7h0M173.1 26.8h0M122.2 220.1h0M85.1 109.7h0M157.3 165.9h0M90.2 98.9h0M161.7 27.7h0M68.4 98.5h0M146.7 201.2h0M184.1 60.8h0M145.7 58.8h0M218.8 246.8h0M87.7 98.2h0M162.2 13.7h0M94.5 114h0M198.4 223.7h0M143.5 226.9h0M113.1 103.5h0M190.6 67.6h0M231.7 148.5h0M156.5 127.5h0M190.5 236.9h0M122.7 100.2h0M168.8 18.7h0M166.3 249.4h0M217.2 151.2h0M190.5 88.4h0M142.9 116.4h0M146.6 159.6h0M205.3 94.4h0M226.2 250.1h0M195.8 4.9h0M213.3 76.5h0M224.3 182.3h0M171.6 217.8h0M114.5 88.8h0M159.1 38.9h0M131.8 153.5h0M105.4 106h0M62.4 101.3h0M219.1 215.9h0M136.1 92.3h0M160.4 191.9h0M159.3 81.2h0M194.9 22.4h0M164.8 48.9h0M134.9 147.8h0M113.7 111.9h0M144.8 126.9h0M211.3 201.8h0M217.4 166.3h0M166.8 2.9h0M167.5 201.3h0M147.4 53.2h0M203.4 161.9h0M211.7 225h0M117.7 108h0M132.9 99.3h0M166.6 109.1h0M197 210.4h0M148.6 23.7h0M150.7 24.4h0M194.1 239.9h0M188.2 100.6h0M132.5 19.3h0M188.7 196.6h0M203.4 36.2h0M141.3 49.7h0M107.3 243.1h0M213.5 134.6h0M166.4 82.2h0M165.8 139.6h0M106.8 249h0M220.2 113.9h0M209.8 246.8h0M182.8 211.4h0M145.2 85.1h0M133.6 39.5h0M243.8 141.6h0M142.2 16.7h0M199.9 210.7h0M77.3 117h0M105.6 240.1h0M143.9 165.8h0M208.3 184.7h0M181.4 246h0M181.9 248.6h0M197.4 82.2h0M193.6 33.7h0M203.8 37.1h0M165 168h0M188 231.5h0M186.4 40.3h0M85.6 250.6h0M190.1 191.5h0M200.7 182.9h0M203.3 90.3h0M178.6 56.2h0M151.3 110.7h0M148 122.7h0M120.5 52.8h0M79.7 41.1h0M70.1 82.7h0M60.2 65.8h0M112.4 50.6h0M121.8 71.1h0M79.6 82.8h0M67.7 59h0M111.4 32.8h0M97.6 93.4h0M58.7 68.4h0M83 102.8h0M119.8 47.1h0M95.3 33.5h0M95.4 88.9h0M72.6 97.2h0M91 40.4h0M121.3 81.6h0" stroke="#a8689e" stroke-width="2.0" stroke-linecap="round" opacity="0.45"/>
<path d="M5.3 237.4h0M20.7 252.8h0M27.3 252.8h0M52.2 250.1h0M43.4 236.5h0M57.9 204.8h0M87.3 207h0M87.5 206.4h0M57 192.8h0M37.9 210.9h0M64.1 239h0M69.2 218.2h0M92.6 212.3h0M20.6 186.8h0M14.9 195.5h0M16.9 193.8h0M26.5 172.4h0M113.9 148.4h0M126.2 161.7h0M127.6 163.5h0M262.8 -1.8h0M40.2 102.7h0M37.3 124.6h0M39.5 106.8h0M17.3 132.2h0M5.8 133.3h0M8.8 149.5h0M8 152.9h0M45.4 1.1h0M73.9 237.6h0M119.3 147.4h0M7.4 20.5h0M2.3 40.1h0M6.8 39.7h0M0.4 0.5h0M22.5 23.2h0M56.3 39.6h0M36.3 59.2h0M-1.9 92.1h0M283.3 104.3h0M284.5 105.8h0M293.2 122.2h0M299 125.6h0M333.5 108.3h0M328.8 74.8h0M302.4 87.5h0M302.4 51.6h0M303.9 26.6h0M303.4 34.2h0M300.6 18.3h0M292.5 8.4h0M264.5 10.1h0M250.3 36.4h0M327.9 1.3h0M324.4 6.8h0M327.3 13.2h0M326.3 13.7h0M322.7 -1h0M316.6 14.3h0M322.3 11.6h0M330.3 52.5h0M313.5 56.9h0M97.2 131.7h0M274.4 63.4h0M268.8 66.5h0M259.5 144.7h0M253.9 102.9h0M264.7 95.7h0M262 96.6h0M329.2 149.7h0M311.9 163.1h0M316.2 171.4h0M45.8 99.6h0M47.4 83.7h0M56.4 75h0M62.2 135.9h0M39.1 65.5h0M48.1 72.3h0M38.6 63.2h0M72.1 7.5h0M97.2 22.9h0M89.2 24.9h0M96.5 21.5h0M77.2 -2.8h0M74.6 -2.8h0M310.6 224.5h0M298.7 218.1h0M295.8 217.1h0M297.3 216.8h0M294.4 211.9h0M281.9 249.6h0M311 239.2h0M306.8 243.9h0M265.6 247h0M253.8 253h0M320.2 232.2h0M325 226h0M295.8 198.4h0M311.8 190.3h0M311.4 190.8h0M290.8 198.9h0M280.1 176.9h0M254.3 159.8h0M247.5 163.3h0M244.7 169.4h0M7.4 247.7h0M70.6 239.7h0M34 171.8h0M69.7 214h0M56.7 191.2h0M56.6 190.7h0M53.1 203h0M57.4 202.3h0M53.7 203.5h0M261.2 1.5h0M15.7 166.8h0M43 99.3h0M42.9 103.3h0M7 136.4h0M68.5 31.8h0M317.1 61.4h0M320.8 61.4h0M9.9 35.5h0M299.8 127.8h0M302.7 48.9h0M262.9 33.6h0M301.2 21.3h0M300.1 17.6h0M243.9 253.5h0M258.1 141.7h0M270.1 126.5h0M254.4 103.9h0M250.4 97.8h0M42.2 99.5h0M51 75.7h0M50.7 73.7h0M276.5 248h0M306.1 251.9h0M302.4 253.3h0M318 233.6h0M248.5 169.3h0M23.5 149h0M75.2 213.5h0M132.7 151.3h0M37.2 135.9h0M123.7 172.6h0M99.4 130.6h0M24.3 162.5h0M78.7 210.3h0M116.1 129.3h0M117.3 140.2h0M133 173.6h0M110.5 137.2h0M79.7 217.8h0M34.3 183.6h0M98.3 219.5h0M109 130.4h0M130 142.2h0M95.1 133.6h0M127.8 185.6h0M65.7 211.1h0M98.9 209h0M120.2 195.7h0M229.9 111.4h0M213.4 82.9h0M220.1 100.7h0M232 113.9h0M210.4 81.2h0M209.2 71.7h0M201 47.1h0M260.2 83.4h0M255.2 60.6h0M248.8 -0.7h0M250.3 6.8h0M256.3 30.3h0M256.6 25.2h0M254.6 30.7h0" stroke="#9e5a8e" stroke-width="2.5" stroke-linecap="round" opacity="0.72"/>
<path d="M179.8 132.6h0M168.9 12.9h0M160.6 11.6h0M156.6 194.9h0M164.8 158.3h0M194.2 86.6h0M147.6 56.5h0M136.9 110.2h0M237.1 222.2h0M187.6 10.6h0M142.1 178.4h0M165.1 206.6h0M141.7 127.5h0M160.7 132h0M223.8 178h0M118.4 236.8h0M124.8 60.7h0M162.8 92.2h0M139.8 115.9h0M234.5 168.9h0M134.8 118.7h0M217.6 132.3h0M160.4 136.6h0M195.2 131.7h0M199.6 24.4h0M177.8 96.9h0M144.9 129.6h0M141.5 66.7h0M71.4 111.5h0M156.2 203.1h0M182.4 72.2h0M163.1 41h0M235.1 146.8h0M147.7 70.4h0M200.5 147.1h0M201.8 225.8h0M147.3 163.7h0M223.4 122.5h0M171.9 142.2h0M144.8 215h0M196.3 207.4h0M176.1 113.3h0M184.9 164.9h0M239.2 238h0M132.7 170h0M190.8 59.3h0M226.3 215.5h0M186.4 50h0M171.2 230.7h0M157.9 253.1h0M174.7 102.8h0M235.4 243.3h0M87.3 116.1h0M145.7 69.8h0M139.9 95.5h0M180.6 78h0M118.7 13.1h0M180.9 81.3h0M166.1 164.5h0M111.3 102.4h0M114.7 244.8h0M240.5 133.6h0M167 190h0M133.9 207.5h0M165.4 178.4h0M86.7 246h0M234.4 172.7h0M189 166.9h0M150.4 251.2h0M225.6 145.8h0M170.9 136.4h0M122.4 11.9h0M171.8 157h0M219.3 162h0M131.6 37.5h0M130.8 199.1h0M221.3 240.1h0M152.3 67.7h0M109.3 126.5h0M159 92.6h0M128.9 96h0M203.3 98.3h0M179.3 239.8h0M157.8 248.1h0M238.8 242.7h0M129.3 99.2h0M186.3 203h0M178.6 90.9h0M146.5 110.6h0M194.1 97.8h0M160.4 107.9h0M198.5 153h0M172.7 97.7h0M184.6 190.3h0M225.5 179.8h0M164.2 102.2h0M150.8 252.7h0M200.4 179.2h0M133.7 141h0M156.4 181.8h0M185 130.9h0M131.8 1.1h0M230.2 106.5h0M219 241.1h0M215.9 176.8h0M156.3 243.1h0M134.5 46.5h0M207.9 227.8h0M127 217.9h0M168 53.4h0M134.5 42.2h0M166.8 89.8h0M191.1 239.6h0M171.8 46.7h0M194.3 41.7h0M183 161.7h0M119.3 -0.8h0M161.8 42.4h0M173.3 51h0M143.4 103.5h0M204.4 194.1h0M169.4 176.9h0M171.3 72.7h0M188.5 23.3h0M152.6 166.9h0M186.7 149.9h0M150.1 81.3h0M143.5 65.3h0M139.4 225.8h0M189.5 60.3h0M116.7 126.7h0M215.7 211h0M182.7 3.3h0M88.4 97.1h0M204.8 118.5h0M135.8 110.3h0M183.7 103.1h0M188.7 48.9h0M184 133.4h0M209.1 120.9h0M233.4 145.5h0M159.1 252.2h0M155.4 209.6h0M130.1 35.2h0M122.3 5.1h0M177.4 12.3h0M139.1 37.4h0M65.5 104.6h0M168.5 217.4h0M166.2 242.9h0M141.6 214.7h0M206.1 60.3h0M173.9 169.5h0M179.2 158.3h0M200.6 100h0M241.2 238h0M63.4 102.2h0M115.3 126.5h0M132.6 144.8h0M156.3 -2.6h0M223.6 235.1h0M146.1 47.3h0M179.5 42.3h0M176.9 7h0M230.4 181.7h0M131.6 230.3h0M127.1 54.2h0M133.2 128.9h0M179.3 111.9h0M115.2 90.7h0M207.1 201.7h0M133.2 60h0M100.2 -0.1h0M215.6 101.4h0M134.5 87.9h0M217.6 96.3h0M194 172.2h0M228.4 106.4h0M145 142.7h0M191.4 4.6h0M212.6 175.1h0M134.1 175.2h0M166.3 67.3h0M165.6 92.5h0M160.9 57.4h0M185.4 162h0M224.6 245h0M111.3 124.6h0M193.7 29.5h0M184 192h0M125.4 135.9h0M214.5 185.9h0M105.2 98.6h0M134.5 53.9h0M206.3 181.5h0M231.1 200.1h0M207.9 162.8h0M163.7 179.3h0M183.1 17.8h0M199.2 92.6h0M142 126.5h0M144.2 131.2h0M92.9 111.9h0M104 237.7h0M112.8 105.8h0M150 249h0M124.3 212.5h0M144.3 129.7h0M163.6 204.4h0M222.8 148h0M198.8 134h0M141.5 10.1h0M196.6 170.9h0M148.7 61.7h0M203.5 140h0M220.8 116.2h0M157.9 74.1h0M222.7 97.6h0M223.1 135.2h0M106.8 217.6h0M141 135.3h0M139.2 88.3h0M126 233.6h0M136.6 6.3h0M141.1 196.6h0M176.8 87.1h0M203.1 160.8h0M112.4 5.5h0M133.3 236.2h0M215.1 190.3h0M231.3 187.7h0M136.2 46.3h0M117.5 97.8h0M183.6 170.5h0M129.3 209.1h0M69.9 96h0M148.7 161.2h0M143.5 215h0M126.4 253.2h0M248.2 125.5h0M149.2 83.9h0M170.9 121h0M167.1 209.2h0M242.9 143.3h0M180.3 155.5h0M205.2 157.8h0M126 118.4h0M181.9 1.2h0M204.9 237h0M167.5 154.4h0M213.6 232.4h0M111.8 249.3h0M232.7 195.1h0M190 -0.1h0M156.8 247.4h0M185.2 5.1h0M158.9 222.8h0M223.6 161h0M150.4 151.7h0M89.8 112.3h0M192.1 143.2h0M122.2 112.6h0M128.8 138h0M190.6 110.7h0M135 91.9h0M91.3 243.6h0M139.3 112.1h0M193.6 105.1h0M233.4 134.7h0M220.1 124.3h0M193.3 153.6h0M172.5 85.1h0M188.1 180.3h0M201.3 95.1h0M111.7 -2.2h0M164.2 34.8h0M171.2 33.4h0M137.8 251.5h0M117 241.7h0M201.3 83.5h0M147.4 199.8h0M226.2 222.6h0M184.9 61.6h0M164.1 30.7h0M178.8 47.5h0M136.7 47.7h0M164.9 148.4h0M177.9 204.4h0M150 133.5h0M227.6 110.5h0M138.8 226.5h0M217 235.5h0M220.8 144.9h0M220.2 235.1h0M89.1 104.7h0M163.3 91.1h0M238.3 118.9h0M150.1 141.1h0M193.7 35.8h0M138.1 162.8h0M199.2 250.4h0M107.8 225.7h0M206.6 176.6h0M141.4 96.5h0M82.5 96h0M163.8 39.8h0M235.2 197.9h0M179.4 238.5h0M146.3 26.2h0M228.4 162.2h0M197.2 48.9h0M166.4 94.4h0M206.8 91.1h0M140.9 215.6h0M135.8 212h0M126.9 40.3h0M166 63.6h0M131.1 20.7h0M146.5 11.3h0M238.1 120.8h0M253.8 136.6h0M178.3 119.8h0M231.4 236.1h0M160 134h0M172.6 203.9h0M91 246h0M127.1 202.7h0M200.2 103.6h0M198.3 66.7h0M108.1 110.1h0M158.5 152.2h0M234 188.7h0M176.9 14.8h0M187.5 217.3h0M152.6 97.4h0M207.6 251.9h0M192.5 189.2h0M208.4 141.2h0M134.3 16.9h0M165.3 141.5h0M130.9 193h0M197 14.9h0M182.2 216.4h0M225.4 229h0M193.9 36.9h0M134.2 103.6h0M156 11.5h0M99.2 236.6h0M223.7 195.9h0M138.6 199.8h0M200.2 197.6h0M179.1 104.7h0M138.3 183.1h0M223 184.1h0M202.8 115.8h0M167.5 231.3h0M195.2 114h0M170.2 214.1h0M207.1 108.9h0M68.3 115.7h0M228.3 173.8h0M235.4 231.5h0M135.9 172h0M141.4 212h0M162.5 5h0M186.8 45.5h0M205.9 219.4h0M144.7 193.4h0M238 241h0M160.8 248.1h0M150.4 72.9h0M196.5 162.9h0M138.2 115.8h0M237.9 241.4h0M172.6 140.4h0M133.4 52.4h0M106.4 102.5h0M155.6 83.3h0M199.4 178h0M146.6 70.8h0M188.3 51.1h0M146 57.5h0M183.1 231.7h0M103.5 224.3h0M155.3 39.3h0M188.7 131.7h0M190.2 36.6h0M97 218.4h0M83.5 241h0M197.9 26.6h0M154.5 238.1h0M186.4 69.3h0M131.9 248.3h0M150.5 151.7h0M194 220.6h0M217.1 246.5h0M226.7 100h0M198.9 32.9h0M169.9 128.3h0M178.3 78.9h0M197.3 219.9h0M143.2 176.6h0M127.3 95.4h0M105.5 217.4h0M206 96.4h0M168.8 105.4h0M211.3 89.4h0M180.1 156.8h0M176.5 66.6h0M172.9 18.6h0M151.1 215.5h0M200.3 181.6h0M194.6 157.5h0M203.4 102.6h0M180.5 173.2h0M122.6 227.8h0M243 124.2h0M157.2 155.2h0M180.7 117.6h0M138.3 40.6h0M169.8 207.1h0M127.6 200.5h0M229.5 252h0M174.9 -2.9h0M150.4 81.6h0M194.8 253h0M90.2 120.9h0M205.7 161.4h0M184.4 132.9h0M210.8 86.1h0M129.8 51.1h0M197.1 163.1h0M135 14.3h0M125.1 2.2h0M175.2 60.1h0M196 246.5h0M155 46.8h0M133.3 60.8h0M129.8 208.7h0M138.3 156.7h0M180 133.3h0M107.3 125.9h0M187.7 140.1h0M192.1 123.9h0M145 208.1h0M147.9 16.5h0M179.5 165.4h0M123 75.4h0M179.2 44.2h0M203.3 193.4h0M148.8 93.1h0M159.9 140.7h0M135.7 47h0M122.7 4.4h0M207.3 193.4h0M164.3 59.9h0M189.8 128.6h0M131.5 32.6h0M128.4 112.1h0M149 154.7h0M198.6 190.4h0M171.3 79.7h0M125.3 248h0M171.6 48.5h0M151.9 1.5h0M129.3 89.6h0M134.9 221.9h0M143.4 177.5h0M157.4 208.7h0M243.5 139.2h0M122.6 12.3h0M147.4 187.9h0M158.2 189.7h0M151.3 215.8h0M127.7 121.8h0M142.2 83h0M178.2 87.8h0M205.7 208.3h0M172.9 131.6h0M144.8 223h0M164 196.1h0M158.5 226.9h0M166.9 44.5h0M223.8 117h0M217.1 232.5h0M221.6 90.4h0M138.9 150.8h0M238.5 230.9h0M152.3 123.6h0M213.4 131.4h0M234.6 211.4h0M137 53.1h0M131.1 212.3h0M120.8 89.4h0M104.1 96.3h0M178.7 7.1h0M142.9 125.4h0M133 93.5h0M134.9 85.3h0M170.8 -2.6h0M112.6 95.7h0M159.9 134.1h0M133.1 1.7h0M138.1 100.1h0M169.3 172.6h0M114.9 213.9h0M146.5 184.6h0M167.8 175.6h0M112.6 9.7h0M179.5 251.6h0M139 105h0M172.5 204.7h0M130 61.2h0M134.4 53h0M174.8 59.4h0M166.9 126.9h0M129 48.6h0M180.7 33.3h0M146.7 3.3h0M166.2 41.5h0M227.8 202.7h0M190.6 89.3h0M188.9 177.7h0M209.1 80.1h0M80.6 96.4h0M122.2 12.9h0M182.8 77.8h0M161.7 6.9h0M218.5 138.3h0M165.8 212.7h0M210.7 152.6h0M163.9 90.3h0M225.3 248.6h0M137.5 170.5h0M134.7 192.2h0M100.9 229.1h0M188.2 215h0M208.1 233.3h0M191.4 63.8h0M208.1 116h0M160.6 172.9h0M172.2 222.9h0M100.7 122.6h0M132.2 164.1h0M228 250.9h0M166.1 60.8h0M76.5 104.2h0M131 96.8h0M196.9 -0.7h0M138.8 225.4h0M187.9 251h0M135.2 230.5h0M187.2 99.1h0M135.5 84.2h0M124.7 84.1h0M154.5 89.5h0M143 116h0M187.1 79h0M188.6 111.2h0M141.2 49h0M216.3 252.7h0M191.6 38.5h0M181 154.6h0M210.3 129h0M139 99.7h0M121.1 105h0M114.5 247.3h0M194.7 185.7h0M182.9 21.1h0M198.1 147.8h0M216.6 84.4h0M198.1 13.8h0M131 201.1h0M57.3 105.6h0M190.3 252.2h0M201 53h0M136 66.3h0M217.5 185.8h0M248.9 134.2h0M123.7 245.4h0M126.7 136.3h0M137 22h0M232.4 245.3h0M87.2 102.7h0M133.5 148.8h0M220.3 110.2h0M238.3 124.9h0M105.9 106.4h0M139.1 52.3h0M176.4 172.5h0M143.1 140.9h0M63.2 114.2h0M162 182.6h0M200.4 110.8h0M116.7 129.5h0M158.4 111.2h0M128.5 103.8h0M78.2 106.8h0M208.8 189.3h0M150.5 249.4h0M181.6 194.6h0M131.3 229.8h0M138.9 94.4h0M173.8 46.5h0M156.7 142h0M185.8 119.6h0M204.5 249.6h0M202.7 194.7h0M155.7 51.2h0M146.5 163.3h0M202.6 227.1h0M132 139.9h0M154 31.2h0M200.1 188.9h0M155.9 153.6h0M139.4 52.2h0M127.5 44.7h0M136.8 168.6h0M164.7 167.1h0M162.8 62.5h0M99.8 235.8h0M66.6 56h0M66.9 74.9h0M103 31.6h0M102 96.1h0M75.3 87.3h0M117.7 56.2h0M119.9 55.7h0M60.7 49.6h0M63.9 81.7h0M99.7 40.5h0M67 38.7h0M71.4 44.6h0M76.9 91.5h0M89.7 35h0M83.1 102.2h0M62.6 68.7h0M85.1 102.9h0M78.5 85.3h0M118.9 67.6h0M63.8 86.5h0M118.5 81.5h0M74.9 85.2h0M63.8 82.6h0M60.5 76.4h0M63.8 63.5h0M105.1 44h0M112.5 42.7h0M112.6 36h0M62.5 41.4h0M124.6 51.1h0M70 52h0M60.6 51.4h0M74.7 41.1h0M105.6 30.1h0M115.8 68.8h0M79 45.1h0M65.8 66.5h0M86.5 98h0M66.6 68h0M83.6 97.1h0M66.9 49.9h0M102.7 100.5h0M73.9 36.1h0M84.8 103.2h0M58.6 62.3h0M85.9 34.3h0M68.9 53h0M99.5 27.8h0M69.4 62.6h0M115.9 79.2h0M89.2 30.5h0M70.2 74.8h0M62.5 39h0M78 102.4h0M116.2 46.3h0M123.6 64.1h0M72.1 42.4h0M114.3 77h0M115.9 69.6h0M111 78.3h0M125.5 57.9h0M73.9 39.6h0M124.1 75.8h0M74.9 39.6h0M117.2 67.5h0M110 42.8h0M99.6 98h0M123.2 71.4h0M69.4 36.2h0M67.6 87.8h0M105.7 90.5h0M114.4 86.6h0" stroke="#a8689e" stroke-width="2.5" stroke-linecap="round" opacity="0.45"/>
<path d="M15.1 250.3h0M11.8 252.2h0M4.9 243.4h0M45.1 209.5h0M69 220.6h0M117.5 194.6h0M91.2 212.1h0M34.3 168.8h0M20.8 175.7h0M247.7 -2.6h0M253 -2.6h0M14.9 168.5h0M39.1 103.1h0M32.1 133.1h0M29.2 133.8h0M23.2 131.2h0M0.8 132.1h0M7.8 148.4h0M75.7 237h0M4.2 16.8h0M10.1 34.9h0M40.2 58.1h0M54.2 41.5h0M321 64.6h0M327.8 75.1h0M303.5 36.1h0M304.2 22.4h0M288.9 0.4h0M292.3 7.9h0M264.2 6.3h0M264 18.5h0M306.9 18.6h0M280.4 87.2h0M254.9 138.5h0M263.1 134.4h0M263.7 116.2h0M249.1 101.5h0M278.5 119.2h0M268.8 124.8h0M260 100.7h0M328.6 183.2h0M316.7 173h0M46.6 93.7h0M304.8 248.4h0M318.3 235.7h0M281.2 179h0M250.5 173.5h0M71.2 240.2h0M66.1 232.7h0M34.1 169.2h0M30.2 167.7h0M55 190.4h0M56.9 191.6h0M56.6 198.7h0M65.8 28.6h0M300 124.6h0M301.8 129.4h0M294.3 17h0M241.8 252.8h0M47.6 98.1h0M41.4 98.1h0M49.3 73.4h0M320.1 238.8h0M259.6 144.6h0M260.2 150h0M249.4 167.5h0" stroke="#9e5a8e" stroke-width="3.0" stroke-linecap="round" opacity="0.72"/>
<path d="M137 109.8h0M238.1 120.1h0M108.9 112.2h0M86.8 231.4h0M193.6 158.4h0M164.8 129.7h0M146.5 204.2h0M156.3 110.6h0M132.6 146.1h0M176.7 218.9h0M183 82.7h0M132.6 110.7h0M151.6 196.8h0M195.2 127.8h0M140.1 8.1h0M148.4 47.8h0M178.7 243.8h0M166 84.8h0M161 190.9h0M186.1 120.7h0M72.6 102.2h0M144.1 32.4h0M140.9 68.9h0M168.5 229.8h0M208.6 244.1h0M234.6 120.6h0M99.4 234.8h0M228 177.1h0M187.8 168.1h0M199.1 242.1h0M154 206.7h0M187.5 170.4h0M244.9 141.6h0M197.3 28.9h0M130.4 49.6h0M200 209.4h0M148.8 19.2h0M216.1 117.5h0M175.4 63.7h0M113 96.7h0M171.3 90.6h0M62.5 108h0M186.5 187.3h0M164.9 81.4h0M157.9 156.6h0M172.2 226.6h0M223.2 194.3h0M135.1 211h0M212.3 208.4h0M135.6 42.1h0M150.8 220.7h0M131.8 160.7h0M216.8 102.9h0M113.9 249.1h0M187.2 124.8h0M108.2 248.3h0M181.8 115.4h0M210.4 149.4h0M184.4 206.2h0M136.5 106.9h0M133.4 83.2h0M157.4 220.5h0M190.7 120h0M202.9 178.8h0M185.1 177.5h0M161.1 3.2h0M149.4 212.4h0M149.3 115.2h0M186.8 194.7h0M219.5 132.1h0M169.4 198.6h0M119.8 5.8h0M148.5 140.9h0M110.6 107.2h0M128.3 106.9h0M212.7 91.5h0M148.6 199.6h0M155.9 102.1h0M188.9 93h0M67.3 96.4h0M213.6 132.4h0M199.1 87.8h0M144.1 211.6h0M180.8 224.7h0M184.7 158.4h0M230.2 147.1h0M124.5 45.5h0M140 175h0M204.7 246.2h0M214 122.6h0M237 119.1h0M131.5 168.6h0M202.4 49.8h0M161.4 230.8h0M227.6 193.3h0M177.3 55.5h0M219.9 140.5h0M166.2 248.2h0M133.3 207h0M78.4 111.9h0M188 24.2h0M144.4 7.5h0M143.5 121.2h0M134.7 130.7h0M188.9 239.1h0M166.7 182.8h0M166.4 188.8h0M183.7 109.8h0M186.4 170.7h0M169.1 104.8h0M226.4 104.6h0M76 106h0M221.3 170h0M122.7 109.1h0M225.5 229h0M157.2 49.6h0M185.5 33.2h0M134.5 135.3h0M122.8 31.9h0M220.1 209.8h0M252.2 125.1h0M134.7 177.9h0M210 221.4h0M164.7 244.3h0M168.6 117.2h0M174.2 137.7h0M138.4 66h0M218.5 119.1h0M182.5 101.1h0M119 230.5h0M193.7 228.3h0M137.6 108h0M204.8 181.1h0M202.4 176.9h0M132.3 186.4h0M231.2 229.3h0M110.7 234.4h0M158.7 130.6h0M112.1 127.5h0M127.6 112.9h0M207.3 212.6h0M202.5 75.2h0M202.2 241.5h0M134.9 103.1h0M253.9 127.2h0M171.9 78.5h0M225.5 194.3h0M216.3 130.9h0M142.2 245.7h0M164.3 51.1h0M218.3 241.3h0M124.5 41.7h0M189.5 103.2h0M113.2 223.5h0M201.4 83.2h0M135.9 202.3h0M130.1 64.5h0M142.1 2.4h0M212.8 93.4h0M171.5 6h0M205.7 116.1h0M206.8 173.3h0M152.1 241.7h0M188.3 121h0M183.2 8.2h0M206.6 162.7h0M185 133.8h0M122 237h0M196.4 -2.2h0M162.1 41h0M161 153.9h0M229 134.2h0M203.5 88.5h0M187 176.3h0M175.1 161.1h0M186.4 188.6h0M236.2 195.2h0M182.5 142.6h0M147.3 8h0M61.6 100.3h0M138.4 27.6h0M137.3 20.4h0M183.9 85.1h0M189.3 201.2h0M166.6 129.4h0M162.6 17.6h0M193.3 252.2h0M109 213.5h0M170.9 66.3h0M153.4 64.8h0M139.5 74.2h0M113.1 108.8h0M91.1 245h0M237 240.9h0M137.1 240.6h0M232.6 172.3h0M95.3 233.3h0M225.7 196h0M150.3 132.7h0M135.2 117.5h0M159.9 78.6h0M236.3 124.1h0M198.2 202.8h0M166.6 27.8h0M149.6 9.4h0M91.7 247.8h0M180.8 253.2h0M172.2 34.1h0M193.6 14.1h0M165.1 146.2h0M231.4 181.9h0M169 243.6h0M150.6 60.1h0M102.8 238.7h0M130.7 239.5h0M178 164.1h0M106.9 234.7h0M88 228.7h0M78 93.7h0M172.1 43.8h0M181.1 17.1h0M219.6 157.1h0M171.3 33.5h0M224.5 234.9h0M129.8 47.8h0M150.4 183.4h0M168.7 253.3h0M157.1 181.8h0M135.2 30.3h0M199.1 177.2h0M105.2 -2.3h0M234 215.2h0M169.5 44.6h0M229.4 244.9h0M119.6 235.8h0M153 231h0M203.8 129.9h0M221.5 244.6h0M210.4 120.7h0M127.1 121h0M200.8 53.5h0M96.7 252.1h0M158.2 93.2h0M200 87.6h0M173.3 160.1h0M144.2 130.9h0M136.9 67h0M91.1 228.7h0M155.2 240h0M172.5 222.1h0M117 238.5h0M143.3 88.8h0M123.1 89.9h0M130.8 181.6h0M185 115.8h0M212.8 234.5h0M215.9 253.4h0M176.5 154.7h0M180.5 6h0M156.2 110.1h0M184.1 251.3h0M177.6 155.2h0M88.5 119.8h0M203.5 67.1h0M197.4 43.7h0M196.9 222.7h0M154.4 99.6h0M185.3 248.9h0M227 178.9h0M149.7 78.2h0M156.8 28.6h0M106 5.4h0M215.2 171.8h0M165.7 137.3h0M172.1 88h0M178.7 127.7h0M125.4 42.3h0M221.6 113.8h0M192.3 209.8h0M200.7 238.8h0M134.5 40.7h0M173.2 6.3h0M192.4 173.2h0M113.3 231.9h0M170.4 73.1h0M209.1 163.5h0M198.8 128.8h0M193.8 238.6h0M124 99h0M201.4 75.1h0M158.1 206.9h0M89.4 234h0M209.5 78.4h0M168.2 126h0M155.8 200.1h0M164.3 73.1h0M222.9 177.8h0M198.5 188.2h0M228.1 158.5h0M182.5 162.8h0M185.5 131.6h0M176 145.4h0M137.1 110.3h0M188.2 78.8h0M137.1 11.6h0M170.5 61.8h0M134.7 206.4h0M145.3 188.1h0M192 193h0M228.4 230.3h0M213.9 243.4h0M165.1 219.6h0M158.8 111.5h0M225.6 213.1h0M141.7 169.7h0M197.4 194.2h0M153.5 13.9h0M142.3 102.2h0M136.9 141.4h0M237.5 136.5h0M162.3 84.5h0M139.8 187.3h0M156.7 228.6h0M201.1 113.9h0M203.7 251.1h0M173.8 104.3h0M181.1 32.6h0M158 208.9h0M183.8 -2.4h0M190.6 178.3h0M101.8 118.8h0M197.6 83.7h0M114.6 122.5h0M125.3 80.3h0M155.8 93.6h0M164.2 133.1h0M132.7 173h0M224.5 167.7h0M225.6 148.1h0M146.3 207.6h0M204.1 239.8h0M156.4 166.4h0M221.1 109.8h0M201.2 200.5h0M201 187.8h0M127.6 110.7h0M156.6 36.1h0M184.6 93.2h0M111.5 242.5h0M96.2 215.5h0M183.6 245.6h0M71.7 95h0M150.6 209.7h0M173.2 35.4h0M211.4 165.9h0M217 242.2h0M200.1 143.9h0M126.7 7.6h0M203.1 191.6h0M108.8 241.2h0M142.5 74.7h0M163.2 33.8h0M143.6 193.8h0M122.2 134.4h0M135.7 29.4h0M115.1 242.7h0M136.4 105.4h0M143.3 211.5h0M234.9 116.3h0M113.7 92.3h0M159 69.1h0M227.5 189.8h0M198.3 32.7h0M188.6 95.6h0M169.7 222.3h0M191.9 53.5h0M133.5 249.5h0M179.9 194.6h0M90.6 104.9h0M146.7 225.7h0M138.6 192.5h0M175.2 221.9h0M205.4 161.6h0M174.8 251.5h0M119.4 89.7h0M87.8 238.8h0M103.8 221.4h0M218.5 93h0M241 230.3h0M194.1 128.8h0M216.7 246.5h0M221.4 114.8h0M201.9 248.2h0M174.1 21.7h0M160 68.7h0M125.5 112.3h0M132.8 96.6h0M129.8 130.5h0M220.4 120h0M116.5 119.9h0M159.9 191.4h0M153.1 127.2h0M205.9 63.9h0M147.5 29.7h0M134.7 145.9h0M81.8 103.9h0M125.6 1.4h0M229.9 218.8h0M186.7 100.9h0M216.8 164.1h0M183.7 234.8h0M207.6 250.2h0M178.9 223.8h0M153.4 58.8h0M188.3 107.7h0M165.9 29.6h0M128.6 41.2h0M142.9 145.2h0M136.2 69.6h0M144.9 18.9h0M119.9 14.1h0M67.5 113.7h0M239.3 246.4h0M186.4 62.5h0M135 147.7h0M204.5 245.6h0M103.3 1.6h0M167.9 72.7h0M119.8 103.6h0M135.7 31.1h0M117.4 234.1h0M220.3 107.2h0M129.8 200.9h0M132.7 241.6h0M130.9 56.4h0M159.3 237.7h0M107.3 3.4h0M176.7 2.3h0M201.5 190.3h0M158.3 102.3h0M134.2 36.4h0M164.7 124.5h0M158.2 173.9h0M108.8 247.8h0M126 102.4h0M69.8 92.8h0M177.6 215.8h0M98.3 -2.8h0M102.1 123.7h0M65.9 115.1h0M187.9 19.4h0M245.3 127.3h0M163.2 119.3h0M146.5 139.5h0M112.9 238.7h0M176.9 13.9h0M128.9 74.5h0M221.6 182h0M128.8 129.9h0M227.3 138.1h0M100.9 221.5h0M183.4 127.3h0M120.7 103.4h0M165.7 22.7h0M207.3 227.9h0M229.8 142.2h0M141.1 51.5h0M230.9 185.7h0M154 213.9h0M114.2 129.5h0M132 47.2h0M188.2 -1.2h0M179.5 110.4h0M210.4 251h0M176 210.9h0M150.1 194.4h0M150.9 23.7h0M121.6 126h0M122.1 115.8h0M172.7 236.9h0M210.5 74.1h0M131.6 150.3h0M230.1 144.3h0M188.5 184.3h0M120.9 78.7h0M234.7 242.5h0M209.5 250.9h0M173.1 40h0M191.4 7.7h0M204 170.1h0M211.6 196.4h0M60.1 93.8h0M223.8 133.8h0M229.8 188.6h0M210.9 80.5h0M142.1 184.3h0M212.5 83.2h0M196.7 129.5h0M204.4 251.6h0M145.3 125.3h0M144.5 146.6h0M165.1 168.8h0M184.5 128.6h0M223.4 120.3h0M157.1 209.5h0M175.9 133.2h0M228.1 105.4h0M166.4 72.3h0M181.7 77.1h0M100.1 231.5h0M144.2 40.9h0M189.7 122.6h0M168.6 113.7h0M89 236.9h0M201.7 68.7h0M233.7 232.2h0M203 125.9h0M191.5 185.9h0M194.8 81.9h0M170.9 207.3h0M182.6 223h0M148.9 7.3h0M216.3 120.4h0M204.3 226.7h0M89.7 223.3h0M141.6 53.7h0M163.1 12.5h0M165.1 118.2h0M153.8 168.3h0M91.7 231.5h0M119.2 73.7h0M120.2 41.8h0M76.8 47.3h0M77.1 31.1h0M82.1 90.3h0M75.8 92.9h0M81.9 86.6h0M73.7 37.9h0M111.7 31.1h0M125.4 55.8h0M119.9 65.9h0M104 36.9h0M65.5 79h0M123.2 76.8h0M76.3 44.2h0M89.4 31.8h0M120.3 76.8h0M61.4 69.1h0M83 35.4h0M111.2 93.8h0M90.2 97h0M94.2 93.6h0M69.9 48h0M120.1 58.1h0M63.7 44.2h0M62 83.1h0M88.3 101h0M101.1 94.2h0M75.9 85h0M99.6 93.7h0M75.1 42.6h0M62.8 53.4h0M88.6 35.1h0M67.3 60.7h0M115.2 89h0M95.4 100.8h0M94.9 32.8h0M96 92.3h0M108.2 87.7h0M119.6 78.4h0M81.8 93.7h0M84.9 93h0M66.5 68.5h0M112.4 84.4h0M85 38.4h0M70.7 37.4h0M118 87.7h0M121.6 80.6h0M109 46.4h0M59.6 74.5h0" stroke="#a8689e" stroke-width="3.0" stroke-linecap="round" opacity="0.45"/>
</g>
<rect x="289.2" y="239.8" width="39.6" height="8.5" fill="#fff" stroke="#555" stroke-width="1.2"/>
<text x="309" y="246.1" font-family="Liberation Sans, Arial, sans-serif" font-size="5.5" text-anchor="middle" fill="#333">50 μm</text>
</g>
<g transform="translate(1314,927)" clip-path="url(#hc5)"><g filter="url(#soft)">
<clipPath id="hc5"><rect width="326.6" height="251"/></clipPath>
<rect width="326.6" height="251" fill="#f1e9e3"/>
<path d="M116 -5C125.5 -10 162.2 -12.5 172 -5C181.8 2.5 175.3 28.2 175 40C174.7 51.8 173.3 60 170 66C166.7 72 161 74.7 155 76C149 77.3 139.7 77.2 134 74C128.3 70.8 124.2 65.2 121 57C117.8 48.8 115.8 35.3 115 25C114.2 14.7 106.5 0 116 -5Z" fill="#f1e9e3"/>
<path d="M324.3 -2.4L330.2 7.7M3 241.8L7.7 243.8M0.3 145.2L-4 145.4M324.3 -2.4L316.6 -2.6L308.9 -2.3M12.6 -4L15.2 1.5M330.2 7.7L327 13.4L325.4 19.7M325.9 74.7L319.6 64.8M329.8 35.8L324.9 42.6M329.2 54.6L327.9 48.3L324.9 42.6M45.9 253.3L37.3 247M-1.5 220L3.7 212.1M-3.4 206.7L3.7 212.1M1.6 144.4L7.9 146M7.9 146L13.3 144.2M293.9 200.4L293.9 207.2L293.7 214L295.1 220.8M287 194.2L283.6 201.4L278.3 207.4L274.8 214.5M87.1 154.1L82.4 159.8L76.1 163.9L70.9 169.1M87.1 154.1L80.9 150.6L75.4 146L68.9 143M68.9 143L64.3 145.7M64.3 145.7L65.7 152.6L65.5 159.7L66.8 166.7M66.8 166.7L69 169.1M187.3 249.1L188.4 255M208.9 248.3L203 245.6L196.9 243.5M330.6 100.6L328.5 98.3M329.8 125.6L323.2 121.3L317.6 115.8M328.5 98.3L325.2 98.2M330.6 96.7L328.5 98.3M86.1 180.9L89.6 174.2L95 168.7L98.6 162M93.3 153.5L98.6 162M267.3 193.7L276 192.3L284.8 192.3M267.3 193.7L262.9 200.1M274.8 214.5L265.8 213.6M286.9 193.9L284.8 192.3M262.9 200.1L263.7 207L265.8 213.6M257.3 225.3L259.1 219.1M283.1 229.3L285 224.1M259.1 219.1L265.8 213.6M290 248.5L288.5 241.8L285.5 235.7L283.1 229.3M263.6 238.5L262.9 243.1M262.9 243.1L267.9 248.6L272.3 254.4M290 248.5L293.5 249.8M248.3 255L247.2 253.2M239.8 255L240.6 254.7L247.2 253.2M310.8 63.5L310.6 56.4L310.2 49.3L310 42.2M288.3 52L292.2 44.3M164.9 118.3L160.7 113.8L156.1 109.7L151.6 105.6M141.6 121.3L142.6 118.4L147.3 112.2L150.8 105.5M288.3 52L285.8 51.5M7.7 243.8L12.9 239.4L18.7 235.7L23.3 230.5M37.3 247L36.3 240.1M36.3 240.1L29.8 235.3L23.3 230.5M-3.4 206.7L-4 204.6M0.3 145.2L-3.7 151.6L-4 153.3M313.3 255L316.4 252.2L319.3 246.3L324.1 242M324.1 242L327.7 247.1L328.8 253.4L330 255M330.6 181L328.5 181.1L322.2 180.1L315.9 181.4M315.9 181.4L316.4 190.9M330.6 213.3L328.3 211.4M330.3 203.4L328.3 211.4M302.1 223L304.7 228.4L306.1 234.3M306.1 234.3L312 237.2L318.4 238.6L324.2 241.4M326.1 239.6L324.2 241.4M295.1 220.8L302.1 223M308 200.5L311.1 207.8L312.4 215.6M293.5 249.8L297.8 244.7L301.2 238.9L306.1 234.3M316.4 190.9L312.3 195.8L308 200.5M330.6 238.3L326.1 239.6M326.7 147.1L323.2 153.6M306.4 176.9L301.7 181.4L297.1 185.9L291.8 189.7L286.9 193.9M306.4 176.9L309.3 176.7M330.6 163.4L327 163.3M171.1 224.9L179.2 233.5M169.5 247.1L176.8 243.8M158.4 229.2L156.1 236.1M183.3 210.8L189.5 215.7L195.3 221.1M183.3 210.8L174.5 210.8M172 255L171.9 253L169.5 247.1M146.8 193.5L140.1 199L134.5 205.7M153 216.8L157.7 209.4M137.5 217.8L136.1 211.7L134.5 205.7M121.2 192L121.8 190.9L125.7 185.5L128.9 179.7M139.5 179.2L142.6 186.6L146.8 193.5M139.5 179.2L128.9 179.7M170.3 207.6L164.2 209.6L157.7 209.4M133.2 224.9L127.2 222.5L121.5 219.3L120.4 219.2M133.2 224.9L137.5 217.8M120.5 158.3L119.1 149.7L117 141.3M93.3 153.5L96.4 147.5L98.1 141M98.1 141L104.7 139.1L111.2 136.7M111.2 136.7L117 141.3M140.2 178.3L139.8 170.5L138.9 162.7L139.3 158.1M135.4 123.9L134.1 123.4L128.8 120L123.9 115.9M123.9 115.9L115.3 120.9M195.3 221.1L200.1 217.3L204.9 213.5L208.9 208.8M257.3 225.3L248.6 227.1L240.1 229.6M249.5 248.5L245.9 243.5L241.2 239.6L237.2 234.9M240.1 229.6L237.2 234.9M212.1 247.2L212.8 240.2L215.1 233.5M225.6 254.9L229.1 248.8L230.7 241.8L234.6 235.9M215.1 233.5L219 230.6M195.3 223.7L202.1 226.7L209 229.3L215.1 233.5M237.2 234.9L234.6 235.9M226 132.7L235.9 131.3M235.9 131.3L241.9 141.4M236.2 157.3L224.7 157.3M224.7 157.3L217.9 151.5M260.7 144.1L254.4 143.3L248.2 142.1L241.9 141.4M265.1 125.1L258.7 124.9L252.4 124.6L246 124.3L239.7 123.9M239.7 123.9L235.9 131.3M238.2 174.6L241 163M238.2 174.6L242.4 180M249.3 184.3L254.3 182.2L260.4 178.5M255 163.2L258.9 168.1L263.1 172.9M236.2 157.3L241 163M280.2 177.5L274.1 174.5L267.9 171.8M267.9 171.8L271.9 165.3L275.1 158.3L279.3 152M284.8 192.3L282.7 184.8L280.2 177.5M267.3 193.7L263.3 186.4L260.4 178.5M261.2 145L267.3 147L273.5 149L279.3 152M287 131.1L280.9 129.5L273.4 126.4L265.4 125.6M196.1 136.5L193.8 148.2M196.1 136.5L187.3 129.9M193.8 148.2L186.2 150.6L178.7 153M176.6 133.7L175 139.8M172.7 148.4L178.7 153M164.9 118.3L171.6 113.3M187.3 117.9L186.1 123.9L187.3 129.9M301.5 25.4L309.7 30.1M301.5 25.4L302.3 19.3L301.2 13.2M309.7 30.1L315.8 24.1L323.1 19.7M323.1 19.7L318.2 15.6L312.9 11.9L307.9 8M307.9 8L301.2 13.2M310.6 41.7L309.7 30.1M325.4 19.7L323.1 19.7M308.8 -2.2L307.9 8M285.8 -4L288.1 2.9L290.2 11.3M165.3 85.6L171.2 83.8L176.7 81.1L181.8 77.7M184.8 97.9L186.3 91.6L186.3 85.1L188.1 79M181.8 77.7L187.5 78.5M171.6 113.3L171.7 107L172.6 100.7M190.4 113.7L187.3 117.9M190.6 105.1L189.1 103.7L184.8 97.9M202.5 88.5L201.8 86.2L199.2 79.4M151.6 105.6L159.4 101.3L166.9 96.4M156.6 75.6L155 79.8M143.3 97.5L146 91L150 85.4L154.3 79.9M143.3 97.5L150.8 105.5M3.7 74.2L2 82.9M-4 104.3L-3.1 106.6M256.4 101.7L251.2 103.3M232.4 92.2L234.4 92.9M234.4 92.9L235 95.1M239.5 122.6L237.8 120.1M251.2 103.3L243.7 100L236.9 98.1M218.8 79.7L212.6 79.7L206.5 78.9L200.3 78.8M218.8 79.7L220.8 85.7M224.1 72.1L235 70.8M224.1 72.1L218.8 79.7M235 70.8L241.3 76.4M312.6 116.5L303.9 110.7M303.9 110.7L296.9 113.8L290.2 117.5M288.7 31.4L281.1 26.3M290.2 11.3L285.1 17.2L279.8 22.8M281.1 26.3L279.8 22.8M280.9 -4L278.1 -3.2L270.9 -0.6M269.2 -4L270.9 -0.6M12 202.6L11.6 196L11.8 189.3M7.9 146L9.4 152.9L10.3 160L11.3 167M2.2 172.8L11.3 167M55.4 121.9L50.2 118.4L46.2 113.5M54.3 98.3L47.5 94.9L40.6 91.6M62.9 95.4L62.2 86.8M62.2 86.8L57.8 81.4L52.3 77M52.3 77L43.2 79.7M133.2 224.9L134 235.9M86.1 180.9L86.8 184M69 169.1L66.3 176L61.9 182L58.1 188.3M58.1 188.3L66 189.6L73.9 190.7L78.7 192.2M97.5 108.9L89 106.2M99 111.9L95.5 118.1L92.8 124.7L89.2 130.9M89 106.2L83.3 108.6L77.9 111.7L72.4 114.6M74.9 127.9L70.8 120.3M72.4 114.6L70.8 120.3M115.3 120.9L109.5 118.5L104.3 115L99 111.9M84 90.8L76.9 91.4L70.2 93.6L63.5 95.8M84 90.8L85.8 98.7L89 106.2M63.5 95.8L66.6 102L68.4 108.8L72.4 114.6M55.4 121.9L62.9 119.9L70.8 120.3M201.3 160.1L204.1 167.1L208.9 173M212.3 186.5L211.3 185.6L206.2 181.9M208.9 173L206.2 181.9M196 195.5L197.6 189.4L200.7 183.9M180.7 188.9L182.1 181.6L185.2 174.8M180.7 188.9L170.5 192.6M164.8 172.2L172.2 169.9L179.9 169.6M179.9 169.6L184.3 172.3M184.3 172.3L185.2 174.8M200.7 183.9L193.1 179.1L185.2 174.8M170.3 207.6L169.8 200.1L170.5 192.6M201.3 160.1L195.7 164.3L190.6 169.2L184.3 172.3M240.1 229.6L236.6 222.5L236.3 221.6M23.6 74.9L23.8 77.6M23.6 74.9L30.8 69.7M52.3 77L55 66.3M55 66.3L50.6 61.5M30.8 69.7L33.3 61.6M33.3 61.6L42 60.8L50.6 61.5M9.7 51.6L18.1 49.1M33.3 61.6L31.1 55.5M9.5 25.1L17.5 24.4M18.1 49.1L19.5 42.5L20.2 35.7L22.8 29.3M28.4 -4L27.9 -2.4L28.6 3.9M91.4 22.2L84.3 27.3L77.7 30.6M74 27.7L74.4 22.9L73.4 16.1L73.1 9.3M73.1 9.3L79.6 6.6L85.1 2.3M90.9 7.5L86.4 2.3M103.6 29.4L108 24.9M108 24.9L108.9 17.4L108.1 9.8M108.1 9.8L99.4 9.3L90.9 7.5M79.1 -4L80.6 -2.6L85.1 2.3M243.3 40.3L240.5 38M237.3 57.3L232.7 50.4M232.7 50.4L235.1 44.2L238.5 38.5M195.1 40.2L196.3 50.2M196.3 50.2L202.3 52.3L207.8 55.6M207.8 55.6L214.7 54.6M214.7 54.6L216.6 52.4M238.5 38.5L231.4 33.5L224.1 28.8M224.1 28.8L217.2 31.6M179.7 19.5L188.2 16.7M200.3 78.8L201.1 72.7L205.1 67.5L204.9 61.1L207.8 55.6M290.6 83.5L292.6 89.3L293.5 95.4M290.6 83.5L283.6 83.3L278 82.9M293.5 95.4L288.3 101.9L282 107.4M267.4 105.7L274.8 105.8L282 107.4M298.4 75.3L290.6 83.5M302.2 100.8L293.5 95.4M290.2 117.5L286.2 112.3L282 107.4M237.9 -0.4L234.6 -4M237.9 -0.4L235.9 7.3L233.4 14.9M228.7 17L233.4 14.9M228.7 17L221.1 12.1L215.1 5.4M223.3 -4L219.7 1L215.1 5.4M237.9 -0.4L248.4 -1.8M249.2 -4L248.4 -1.8M192.4 7.9L201.2 7L210.1 6.6M192.4 7.9L189.3 -0.1M189.3 -0.1L191.7 -4M207.5 -4L209.7 -1L211.2 5.6M188.2 16.7L192.4 7.9M207.2 27.8L207.1 20.6L209.8 13.8L210.1 6.6M179.7 19.5L177.2 17.9M174.8 -4L181 -1.8L189.3 -0.1M21.9 224.1L27.9 220.1L33.4 215.4L38.3 210M52.9 224.5L50.5 218.5M12 202.6L17.9 201.2L24 200.4L30.1 200.5L36.1 199.5M38.3 210L36.1 199.5M75.5 209.6L72.4 208.9L66.6 206.6L60.9 203.8M80.5 239.7L82.9 233.1L87.3 227.7M61.2 251.8L64.3 246.1L67.2 240.2M90.1 227.8L87.3 227.7M145.2 255L140.3 254.8M50.6 61.5L52.4 54.9M36.7 6.1L40.2 12.2L42.3 19M46.9 -1.6L52.9 -0.5L58.8 1.1M51.7 22.7L42.3 19M51.7 22.7L56 17.8L58.2 11.6L61.8 6.2M61.8 6.2L58.8 1.1M29.2 29.7L35.6 24.3L42.3 19M61.1 -4L58.8 1.1M73.1 9.3L61.8 6.2M103.6 29.4L103.3 41.1M86.9 65.2L80.5 73.8M64.4 65L66.1 58.6L68.7 54.6M95.9 63L86.9 65.2M55 66.3L64.4 65M84 90.8L86.1 86.7M86.1 86.7L83.3 80.3L80.5 73.8M129.9 77.8L128.8 84L130.3 90.3L128.9 96.4M108.2 92.7L104.3 85.1M143.3 97.5L136.2 96.5L128.9 96.4M123.9 115.9L125.8 107.1L126.6 98.2M118.8 49.8L116.7 45.8M116.7 45.8L110.3 42.7L103.3 41.1M252.5 22.5L252.4 16.2L255.1 10.3L254.7 4M274.4 19.5L267.6 21.6L260.3 21.5L253.5 23.5M254.7 4L262.8 2.8L270.4 0.1M240.5 38L245.2 33.6L248.6 28.1L252.8 23.2M233.4 14.9L239.9 17L246.1 20L252.5 22.5M38 194.4L31.7 188L26.1 181M26.1 181L26.1 170M29.9 166.3L26.1 170M46.7 163.8L43.8 166.3M11.3 167L18.9 167.4L26.1 170M27.6 151.2L28.7 158.8L29.9 166.3M108 24.9L115 25.4" fill="none" stroke="#e8c2ce" stroke-width="0.8"/>
<path d="M-2.2 169.6L1.4 176L7 181.3L8.9 188.7M-4 119.7L-4 119.7L1.2 115.3M1.6 154.7L8.6 151.8L14.5 147.1M30.6 153.6L35.9 150.5L40.5 146.4L46.4 144.2L50.9 139.9M50.9 139.9L49.2 134L47.6 128L42.7 123.7L40.3 120.6M2.2 92.6L3.1 96.5M2.2 92.6L5.7 86.9L9.1 81.1L11.4 74.7L16.7 70.1M45.6 101.5L42.4 95.3L38.2 89.9L35.2 87.7M20.3 69.3L16.7 70.1M0.7 3.4L6.6 7.9L9.6 15.2L16 19.2M0.7 3.4L-4 4M2.2 92.6L-3.5 90.1L-4 90.1M16.7 70.1L10.9 67.2L6.7 61.8L1 58.8L-4 56.5M42.7 30.2L42.4 30.2L36.9 26.8L30.6 27.4L24.7 26M59.2 24.1L62.1 20.9L66 15.7M64 -1.6L57.9 -2.3L51.8 -2.9L45.7 -1.9L39.6 -1.6M20 20.1L24.7 26M26.2 63L24.3 56.9L25.7 50.6L26.8 44.4L24.3 38.4L25.6 32.2L24.7 26M26.2 63L33.4 63.1L40.3 61.2L47.4 61.1L54 57.4L61.2 57.8M37.2 -4L39.6 -1.6M16 19.2L20 20.1M101.6 -1.1L102.1 5.9L107.6 11.2L108.3 18.2M101.6 -1.1L102.2 -4M113.6 17L110.4 18.8M92.1 30.8L87.2 27.2L80.7 26.4L75.9 22.7L71.8 17.8L66 15.7M114.5 21.6L110.4 18.8M8.9 188.7L20.2 189M30.6 153.6L32.5 160L33.5 166.6L35.7 172.9M53.8 177.7L47.7 176.1L41.8 174.1L35.7 172.9M20.2 189L25 194.7L30.2 200.1L33.9 206.8L38.6 212.5M18.4 236.7L23.9 233L27.4 227L34.3 224.9L38.1 219.2M38.1 219.2L38.6 212.5M298.7 9L302.4 14L303.1 20.6L306.6 25.7L310.6 30.5M312.1 -4L310.2 -3.4L306.9 2.7L300.6 4.5M330.6 27.1L325.7 30.8M162 90.3L163.6 82.8L160.2 75.4L160.8 74.2M88.4 50.9L95 51.7L101.1 55.3L107.5 56.8L114.7 55.1L120.7 56.1M97.6 93.9L95.3 87.8L89.3 84L86.1 78.5L85.8 71.2L82.3 65.9L78.2 60.9M52.9 99.4L53.1 92.2L57.9 86.7L61.3 80.7L62.1 73.8L64.5 67.4L66.2 60.8M130.4 127.5L125.2 127.3L118.9 126.9L113.4 131.4L107.1 130.4M45.6 101.5L52.9 99.4M98.6 147.6L93 145.3L87.6 142.7L80.9 143.3L75.6 140.3L70.4 137.2M98.6 147.6L100.3 154M61 142.4L70.4 137.2M91.2 181.7L91.6 180L88.4 173.6M75.1 203.9L74.1 203.8L68.5 201.1L63.8 196.2L57.4 195.8M77.2 108.4L74.2 115.3L74 122.9L72.5 130.1L70.4 137.2M98.8 245L94 240.1L86.7 239.3L80.7 236.6L76 231.6M76 231.6L66.8 234.5M79.1 218.5L77.3 224.7L76 231.6M105 244.2L109.6 237.6L110.5 229.4L112.3 226.6M127.4 255L130.3 254.3L138 251.1M105 244.2L111.1 247.7L117.5 250.8L121 255M260.2 3.7L255.6 -0.4L249.9 -2.8L247.1 -4M300.6 4.5L298.9 -1.7L297.2 -4M263.6 10.9L260.2 3.7M187 6.4L188.1 13.2L188.5 20L187.8 26.8L187.2 33.6L187.8 40.4L187.5 47.2M195.5 50.8L200.1 49.3M232.6 57.4L225.6 57.6L219.6 53.9L212.7 54.1L206.9 49.5L200.1 49.3M232.6 57.4L237.2 52.8L239.3 46.7L240.3 45.3M247.9 29.9L242.5 27L237 24.5L230.1 25.8L225 22L219.3 20M257 26L247.9 29.9M215.5 -4L213.2 0.9M176.4 2.4L180.7 4.4L187 6.4M176.4 47.8L187.5 47.2M196.9 73L198.5 65.5L194 58.3L195.5 50.8M320.7 73.5L330.6 72.4M330.6 114.7L325.2 113.7L318.8 113.2L312.4 112.9M312.4 112.9L307.2 105.9L303.7 97.9M286 92.2L286.3 86.1L285.7 80.1L283.7 74.5M286 92.2L280.3 96.7L273.4 99.1L267.5 103.4L260.2 104.9M260.2 104.9L256.5 98.8L252.6 93L248.6 87.1L246.8 83.7M301.2 48L293.8 49.4L287.2 52.4L286.3 53M303.7 97.9L298.3 94.7L291.8 94.7L286 92.2M257.2 111.9L260.2 104.9M291.1 255L288.6 253.2M312.4 112.9L309.3 119.4L307.4 126.6L307.2 126.8M272 141L278.1 139.5L282.5 138.1M288.6 253.2L292.7 248.3L293.5 242L296.4 236.6M296.4 236.6L303.2 237.8L310 234.8L316.7 236.8L323.5 236L330.3 237.5M330.6 222.7L330 224L330.6 225.4M250.9 228.9L256.8 225.2L261.2 219.8L266.1 215M265 255L258.9 253.3L255.6 247.5L249.6 245.4M296.4 236.6L295.6 228.1L291 220.9M266.1 215L272 217.9L278.9 216.2L284.3 221.3L291 220.9M266.6 151.8L266.3 158.1L266.2 164.4L265.4 170.7L266.1 177L264.8 183.3L264 189.5M266.6 151.8L259.7 151.7L253.6 156L246.7 155.7L240 156.4M264 189.5L256.9 190.1L254.2 190M226.5 132.1L226 133.8L220.8 138.5M220.8 138.5L225.9 142.6L231.4 146.4L236.7 150.3L240 156.4M269.6 148.8L266.6 151.8M100.3 154L107.2 156.1L114.2 158.2L120.8 161.5M120.8 161.5L127.9 158.7L133.9 155.3M119.9 220L121.5 219.2L129.1 219L136.4 217.5M136.4 217.5L137.1 210.9L140.7 204.8L138.5 197.6L141.8 191.5M138 251.1L140.9 243.9L145.8 237.8L148.4 230.6M136.4 217.5L142.9 223.6L148.4 230.6M153.2 163.8L151.7 169.8L152.2 176.1L150.7 182.1L150.4 188.3M150.4 188.3L141.8 191.5M180.9 252.8L176.8 247.6L172.9 242.2L168.1 237.7L162.6 233.8L157.6 229.5M190.5 105.4L187.3 104.5L183.5 98.3L176.8 96.8M237.3 255L239.8 250.5M192.4 249L197.4 244.3L200.2 238.2M249.6 245.4L239.8 250.5M216.2 217L214.8 218L210.1 223.1L205.5 228.3L200.4 233M208.2 193.7L205 193.8L198.7 191.8L192.6 193L186.5 195.6L180.3 194.8M177 203.1L176.6 198.3M180.3 194.8L176.6 198.3M157.6 229.5L162.1 224.7L166.2 219.6L169.8 214.1L174.7 209.5L177 203.1M150.4 188.3L157.6 189.2L163.1 194.4L170.2 195.3L176.6 198.3M178.1 138.3L183.1 134.3L188.4 131.2L195.6 131.7L198.8 128.9M178.1 138.3L179.2 146.1L178.8 154M178.8 154L184.4 157.8L187.4 163.8M187.4 163.8L195.9 163.3L204.4 162.4M204.4 162.4L210.1 157.5L212.2 150.4L217.9 145.5L220.3 138.5M174.4 136L178.1 138.3M153.2 163.8L160.1 162.5L166.2 159.5L172.7 157.1L178.8 154M221.1 180.2L218.9 176.4L211.5 173.9L209.1 167.2L204.4 162.4M325.9 201.6L327.4 194.8L328.8 188.1M269.6 148.8L276.3 151.8L280.6 155.9M264.3 189.9L270.9 189.9L277 186.7L283.4 185.5L290.1 186.8M330.6 208.4L325.9 201.6" fill="none" stroke="#ebc2ce" stroke-width="4" stroke-linejoin="round" stroke-linecap="round"/>
<path d="M-4 205.9L-1.9 203.8L1.5 198.7L4.3 193L8.9 188.7M25.4 255L23.6 249.5L20 244.4L18.1 238.4M-4 211.5L-2.6 213.4L1.5 218.1L5.8 222.7L10.4 227L15.1 231.2L18.4 236.7M-4 153.1L1.6 154.7M-2.2 169.6L1.3 162.6L1.6 154.7M30.6 153.6L22.6 150.2L14.5 147.1M45.6 101.5L40.8 106.3L40.6 106.5M27.4 79.1L24 75L20.3 69.3M16 19.2L11.8 23.9L6.3 27.3L2.3 32.3L-1.7 37.3L-4 38.7M2.8 -4L2.6 -2.6L0.7 3.4M64 -1.6L66.4 6.9L66 15.7M39.6 -1.6L36 5.1L30.4 9.9L23.3 13.2L20 20.1M26.2 63L20.3 69.3M110.4 18.8L108.3 18.2M92.1 30.8L96.5 25.4L103.8 23.5L108.3 18.2M65.8 -4L64 -1.6M35.7 172.9L30.6 178.3L25.8 184.1L20.2 189M53.8 177.7L53.9 183.9L56.6 189.7L57.4 195.8M57.4 195.8L53.3 200.6L47.5 203.6L44 209.1L38.6 212.5M298.7 9L300.6 4.5M310.6 30.5L318.2 29.4L325.7 30.8M122.9 87.1L129.7 92L136 97.5M122.9 87.1L125.9 80.4L123.9 72.9L124.4 65.8L124.8 64.8M136 97.5L142.4 95.3L148.5 92.1L155.8 93.2L162 90.3M88.4 50.9L90.9 44.4L90.9 37.5L92.1 30.8M176.4 47.8L174.8 45M176.4 47.8L174.3 50.9M97.6 93.9L92.4 102.5M92.4 102.5L84.2 103.8L77.2 108.4M77.2 108.4L71.1 106L64.7 104.8L59.6 99.9L52.9 99.4M107.1 130.4L103.5 125.1L100 119.8L97.5 114L95.2 108.1L92.4 102.5M88.4 50.9L83.6 56.2L78.2 60.9M61.2 57.8L66.2 60.8M88.4 173.6L92.5 167.2L98.1 161.6L100.3 154M88.4 173.6L80.2 173.3L72.8 169.8L65.1 167.8M65.1 167.8L66.1 161.1L63 155.1L61.1 148.9L61 142.4M53.8 177.7L60 173.3L65.1 167.8M50.9 139.9L61 142.4M107.1 130.4L105 136.5L99.9 141.1L98.6 147.6M98.8 245L97.6 251.2L93.6 255M66.8 234.5L63.5 239.9L62.2 246.2L57.5 250.9L56.4 255M105 244.2L98.8 245M38.1 219.2L43.8 222.3L50.1 224.3L54.6 229.8L61.8 230.1L66.8 234.5M144.8 255L144.2 254.2L138 251.1M260.2 3.7L264.7 -1.4L264.9 -4M298.7 9L291.6 9.3L284.7 10.5L277.6 10.1L270.7 12.6L263.6 10.9M219.3 20L214.3 25.2L210.1 30.8L208.2 37.9L203.4 43.1L200.1 49.3M219.3 20L216.4 13.9L215.2 7.3L213.2 0.9M213.2 0.9L206.7 2.6L199.6 1.5L194 7.1L187 6.4M187.5 47.2L195.5 50.8M243.5 40L244.7 35.3L247.9 29.9M257 26L260.7 18.6L263.6 10.9M196.9 73L203.2 75.5L205.6 82.6L211.1 85.4M221.9 86.1L222.7 85.6L227.6 79.7L234.2 76.3L239.4 72.7M310.6 30.5L306.3 35.7L305 42.5L301.2 48M325.7 30.8L328.2 37.2L330.6 39.5M320.7 73.5L318.2 80.8L312 85.5L309.4 92.8L303.7 97.9M257.2 111.9L250.3 112.3L244.1 115.7L239.1 116.4M257 26L259.7 30.3M288.6 253.2L282.2 255M257.2 111.9L260.3 117.6L261.7 124.2L265.4 129.7L268 135.7L272 141M250.9 228.9L248.3 237L249.6 245.4M240 156.4L238.6 162.6L236.6 168.7L234.4 174.6L232.1 178M272 141L269.6 148.8M119.1 189L120.4 188.8L126.2 185.9M126.2 185.9L126.5 179.5L123 173.8L123.2 167.4L120.8 161.5M126.2 185.9L133.8 189.2L141.8 191.5M153.2 163.8L148.6 159.9M180.9 252.8L179.8 255M157.6 229.5L148.4 230.6M162 90.3L167.8 95L175.1 97.1M168.6 126.8L170.7 123.1L168.5 115.8L169.9 109.4L174 103.6L175.1 97.1M196.9 73L193.9 78.7L187.3 81.2L184.9 87.3L180 91.3L176.8 96.8M197.6 255L197.6 253.3L192.4 249M239.8 250.5L233.5 247.4L226.1 247.8L219.5 245.9L213.8 240.9L207.2 238.8L200.2 238.2M180.9 252.8L187.4 252.9L192.4 249M330.6 151L327 152.1L320.6 153.4L319.7 153.1M200.4 233L195.4 228.9L192.4 223.2L188.8 218L185 212.9L179.6 209.1L177 203.1M200.2 238.2L200.4 233M266.1 215L266 208.7L265.9 202.4L262.6 196.3L264.3 189.9M180.3 194.8L179.6 188.1L182.2 182.2L182.5 175.7L187.2 170.3L187.4 163.8M296.3 174.5L294.9 179.5L290.1 186.8M302.5 205.3L310.6 205.5L318.2 203.3L325.9 201.6M330.6 186.5L328.8 188.1M291 220.9L293.6 214.7L298.9 210.6L302.5 205.3M-2.2 169.6L1.4 176L7 181.3L8.9 188.7M-4 119.7L-4 119.7L1.2 115.3M1.6 154.7L8.6 151.8L14.5 147.1M30.6 153.6L35.9 150.5L40.5 146.4L46.4 144.2L50.9 139.9M50.9 139.9L49.2 134L47.6 128L42.7 123.7L40.3 120.6M2.2 92.6L3.1 96.5M2.2 92.6L5.7 86.9L9.1 81.1L11.4 74.7L16.7 70.1M45.6 101.5L42.4 95.3L38.2 89.9L35.2 87.7M20.3 69.3L16.7 70.1M0.7 3.4L6.6 7.9L9.6 15.2L16 19.2M0.7 3.4L-4 4M2.2 92.6L-3.5 90.1L-4 90.1M16.7 70.1L10.9 67.2L6.7 61.8L1 58.8L-4 56.5M42.7 30.2L42.4 30.2L36.9 26.8L30.6 27.4L24.7 26M59.2 24.1L62.1 20.9L66 15.7M64 -1.6L57.9 -2.3L51.8 -2.9L45.7 -1.9L39.6 -1.6M20 20.1L24.7 26M26.2 63L24.3 56.9L25.7 50.6L26.8 44.4L24.3 38.4L25.6 32.2L24.7 26M26.2 63L33.4 63.1L40.3 61.2L47.4 61.1L54 57.4L61.2 57.8M37.2 -4L39.6 -1.6M16 19.2L20 20.1M101.6 -1.1L102.1 5.9L107.6 11.2L108.3 18.2M101.6 -1.1L102.2 -4M113.6 17L110.4 18.8M92.1 30.8L87.2 27.2L80.7 26.4L75.9 22.7L71.8 17.8L66 15.7M114.5 21.6L110.4 18.8M8.9 188.7L20.2 189M30.6 153.6L32.5 160L33.5 166.6L35.7 172.9M53.8 177.7L47.7 176.1L41.8 174.1L35.7 172.9M20.2 189L25 194.7L30.2 200.1L33.9 206.8L38.6 212.5M18.4 236.7L23.9 233L27.4 227L34.3 224.9L38.1 219.2M38.1 219.2L38.6 212.5M298.7 9L302.4 14L303.1 20.6L306.6 25.7L310.6 30.5M312.1 -4L310.2 -3.4L306.9 2.7L300.6 4.5M330.6 27.1L325.7 30.8M162 90.3L163.6 82.8L160.2 75.4L160.8 74.2M88.4 50.9L95 51.7L101.1 55.3L107.5 56.8L114.7 55.1L120.7 56.1M97.6 93.9L95.3 87.8L89.3 84L86.1 78.5L85.8 71.2L82.3 65.9L78.2 60.9M52.9 99.4L53.1 92.2L57.9 86.7L61.3 80.7L62.1 73.8L64.5 67.4L66.2 60.8M130.4 127.5L125.2 127.3L118.9 126.9L113.4 131.4L107.1 130.4M45.6 101.5L52.9 99.4M98.6 147.6L93 145.3L87.6 142.7L80.9 143.3L75.6 140.3L70.4 137.2M98.6 147.6L100.3 154M61 142.4L70.4 137.2M91.2 181.7L91.6 180L88.4 173.6M75.1 203.9L74.1 203.8L68.5 201.1L63.8 196.2L57.4 195.8M77.2 108.4L74.2 115.3L74 122.9L72.5 130.1L70.4 137.2M98.8 245L94 240.1L86.7 239.3L80.7 236.6L76 231.6M76 231.6L66.8 234.5M79.1 218.5L77.3 224.7L76 231.6M105 244.2L109.6 237.6L110.5 229.4L112.3 226.6M127.4 255L130.3 254.3L138 251.1M105 244.2L111.1 247.7L117.5 250.8L121 255M260.2 3.7L255.6 -0.4L249.9 -2.8L247.1 -4M300.6 4.5L298.9 -1.7L297.2 -4M263.6 10.9L260.2 3.7M187 6.4L188.1 13.2L188.5 20L187.8 26.8L187.2 33.6L187.8 40.4L187.5 47.2M195.5 50.8L200.1 49.3M232.6 57.4L225.6 57.6L219.6 53.9L212.7 54.1L206.9 49.5L200.1 49.3M232.6 57.4L237.2 52.8L239.3 46.7L240.3 45.3M247.9 29.9L242.5 27L237 24.5L230.1 25.8L225 22L219.3 20M257 26L247.9 29.9M215.5 -4L213.2 0.9M176.4 2.4L180.7 4.4L187 6.4M176.4 47.8L187.5 47.2M196.9 73L198.5 65.5L194 58.3L195.5 50.8M320.7 73.5L330.6 72.4M330.6 114.7L325.2 113.7L318.8 113.2L312.4 112.9M312.4 112.9L307.2 105.9L303.7 97.9M286 92.2L286.3 86.1L285.7 80.1L283.7 74.5M286 92.2L280.3 96.7L273.4 99.1L267.5 103.4L260.2 104.9M260.2 104.9L256.5 98.8L252.6 93L248.6 87.1L246.8 83.7M301.2 48L293.8 49.4L287.2 52.4L286.3 53M303.7 97.9L298.3 94.7L291.8 94.7L286 92.2M257.2 111.9L260.2 104.9M291.1 255L288.6 253.2M312.4 112.9L309.3 119.4L307.4 126.6L307.2 126.8M272 141L278.1 139.5L282.5 138.1M288.6 253.2L292.7 248.3L293.5 242L296.4 236.6M296.4 236.6L303.2 237.8L310 234.8L316.7 236.8L323.5 236L330.3 237.5M330.6 222.7L330 224L330.6 225.4M250.9 228.9L256.8 225.2L261.2 219.8L266.1 215M265 255L258.9 253.3L255.6 247.5L249.6 245.4M296.4 236.6L295.6 228.1L291 220.9M266.1 215L272 217.9L278.9 216.2L284.3 221.3L291 220.9M266.6 151.8L266.3 158.1L266.2 164.4L265.4 170.7L266.1 177L264.8 183.3L264 189.5M266.6 151.8L259.7 151.7L253.6 156L246.7 155.7L240 156.4M264 189.5L256.9 190.1L254.2 190M226.5 132.1L226 133.8L220.8 138.5M220.8 138.5L225.9 142.6L231.4 146.4L236.7 150.3L240 156.4M269.6 148.8L266.6 151.8M100.3 154L107.2 156.1L114.2 158.2L120.8 161.5M120.8 161.5L127.9 158.7L133.9 155.3M119.9 220L121.5 219.2L129.1 219L136.4 217.5M136.4 217.5L137.1 210.9L140.7 204.8L138.5 197.6L141.8 191.5M138 251.1L140.9 243.9L145.8 237.8L148.4 230.6M136.4 217.5L142.9 223.6L148.4 230.6M153.2 163.8L151.7 169.8L152.2 176.1L150.7 182.1L150.4 188.3M150.4 188.3L141.8 191.5M180.9 252.8L176.8 247.6L172.9 242.2L168.1 237.7L162.6 233.8L157.6 229.5M190.5 105.4L187.3 104.5L183.5 98.3L176.8 96.8M237.3 255L239.8 250.5M192.4 249L197.4 244.3L200.2 238.2M249.6 245.4L239.8 250.5M216.2 217L214.8 218L210.1 223.1L205.5 228.3L200.4 233M208.2 193.7L205 193.8L198.7 191.8L192.6 193L186.5 195.6L180.3 194.8M177 203.1L176.6 198.3M180.3 194.8L176.6 198.3M157.6 229.5L162.1 224.7L166.2 219.6L169.8 214.1L174.7 209.5L177 203.1M150.4 188.3L157.6 189.2L163.1 194.4L170.2 195.3L176.6 198.3M178.1 138.3L183.1 134.3L188.4 131.2L195.6 131.7L198.8 128.9M178.1 138.3L179.2 146.1L178.8 154M178.8 154L184.4 157.8L187.4 163.8M187.4 163.8L195.9 163.3L204.4 162.4M204.4 162.4L210.1 157.5L212.2 150.4L217.9 145.5L220.3 138.5M174.4 136L178.1 138.3M153.2 163.8L160.1 162.5L166.2 159.5L172.7 157.1L178.8 154M221.1 180.2L218.9 176.4L211.5 173.9L209.1 167.2L204.4 162.4M325.9 201.6L327.4 194.8L328.8 188.1M269.6 148.8L276.3 151.8L280.6 155.9M264.3 189.9L270.9 189.9L277 186.7L283.4 185.5L290.1 186.8M330.6 208.4L325.9 201.6" fill="none" stroke="#e2adc0" stroke-width="1" stroke-linejoin="round"/>
<path d="M298.7 9h0M-2.2 169.6h0M30.6 153.6h0M26.2 63h0M92.1 30.8h0M18.1 238.4h0M300.6 4.5h0M263.6 10.9h0M176.4 47.8h0M2.2 92.6h0M45.6 101.5h0M20.3 69.3h0M16.7 70.1h0M1.6 154.7h0M14.5 147.1h0M16 19.2h0M64 -1.6h0M66 15.7h0M39.6 -1.6h0M20 20.1h0M24.7 26h0M101.6 -1.1h0M110.4 18.8h0M108.3 18.2h0M107.1 130.4h0M53.8 177.7h0M20.2 189h0M57.4 195.8h0M38.1 219.2h0M105 244.2h0M232.6 57.4h0M301.2 48h0M320.7 73.5h0M325.7 30.8h0M257.2 111.9h0M136 97.5h0M250.9 228.9h0M97.6 93.9h0M92.4 102.5h0M77.2 108.4h0M52.9 99.4h0M98.6 147.6h0M61 142.4h0M70.4 137.2h0M98.8 245h0M76 231.6h0M66.8 234.5h0M138 251.1h0M260.2 3.7h0M213.2 0.9h0M187.5 47.2h0M220.8 138.5h0M286 92.2h0M260.2 104.9h0M249.6 245.4h0M272 141h0M269.6 148.8h0M296.4 236.6h0M266.1 215h0M291 220.9h0M266.6 151.8h0M264 189.5h0M126.2 185.9h0M136.4 217.5h0M150.4 188.3h0M141.8 191.5h0M157.6 229.5h0M148.4 230.6h0M239.8 250.5h0M192.4 249h0M200.4 233h0M177 203.1h0M180.3 194.8h0M176.6 198.3h0M178.1 138.3h0M178.8 154h0M187.4 163.8h0M204.4 162.4h0M220.3 138.5h0M302.5 205.3h0M325.9 201.6h0" stroke="#ebc2ce" stroke-width="8" stroke-linecap="round"/>
<path d="M108 -5C107.8 1.2 106.3 21.2 107 32C107.7 42.8 109.3 52.3 112 60C114.7 67.7 118.3 73.3 123 78C127.7 82.7 134.3 86 140 88C145.7 90 151.8 90.5 157 90C162.2 89.5 167.2 88.3 171 85C174.8 81.7 177.8 77.2 180 70C182.2 62.8 183.8 54.5 184 42C184.2 29.5 181.5 2.8 181 -5" fill="none" stroke="#f3b5c3" stroke-width="18" stroke-linejoin="round"/>
<path d="M108 -5C107.8 1.2 106.3 21.2 107 32C107.7 42.8 109.3 52.3 112 60C114.7 67.7 118.3 73.3 123 78C127.7 82.7 134.3 86 140 88C145.7 90 151.8 90.5 157 90C162.2 89.5 167.2 88.3 171 85C174.8 81.7 177.8 77.2 180 70C182.2 62.8 183.8 54.5 184 42C184.2 29.5 181.5 2.8 181 -5" fill="none" stroke="#e6a0b4" stroke-width="13.5" stroke-dasharray="1.2 2.8" opacity="0.5"/>
<path d="M108 -5C107.8 1.2 106.3 21.2 107 32C107.7 42.8 109.3 52.3 112 60C114.7 67.7 118.3 73.3 123 78C127.7 82.7 134.3 86 140 88C145.7 90 151.8 90.5 157 90C162.2 89.5 167.2 88.3 171 85C174.8 81.7 177.8 77.2 180 70C182.2 62.8 183.8 54.5 184 42C184.2 29.5 181.5 2.8 181 -5" fill="none" stroke="#f5ccd5" stroke-width="3.6" opacity="0.6"/>
<path d="M186 -5C186.5 2.5 189.5 27.5 189 40C188.5 52.5 186.5 62.2 183 70C179.5 77.8 170.5 84.2 168 87" fill="none" stroke="#f3b5c3" stroke-width="14" stroke-linejoin="round"/>
<path d="M186 -5C186.5 2.5 189.5 27.5 189 40C188.5 52.5 186.5 62.2 183 70C179.5 77.8 170.5 84.2 168 87" fill="none" stroke="#e6a0b4" stroke-width="10.5" stroke-dasharray="1.2 2.8" opacity="0.5"/>
<path d="M186 -5C186.5 2.5 189.5 27.5 189 40C188.5 52.5 186.5 62.2 183 70C179.5 77.8 170.5 84.2 168 87" fill="none" stroke="#f5ccd5" stroke-width="2.8" opacity="0.6"/>
<ellipse cx="210" cy="27.7" rx="15" ry="21" fill="#f1e9e3" stroke="#f3b5c3" stroke-width="6"/>
<ellipse cx="210" cy="27.7" rx="22" ry="28" fill="none" stroke="#e2adc0" stroke-width="1"/>
<path d="M4.1 191.6h0M1.8 199h0M6.7 180h0M9 185.4h0M-0.5 170.5h0M-1 173h0M4.9 180.7h0M11.6 228.5h0M2.9 221.1h0M13.2 148.2h0M-1.2 168.8h0M25.8 152.7h0M38.5 148.4h0M36.6 148.6h0M36.6 150.6h0M51 138.4h0M48.7 133.9h0M1.6 94.4h0M9.4 75.9h0M38 90.2h0M41.8 96.4h0M22.6 74.1h0M27.2 77.1h0M8.6 12.8h0M15 17.4h0M10.7 24.7h0M3.4 30.6h0M7.6 27.3h0M-0.8 35.9h0M7.3 62.7h0M6.4 61.1h0M35.4 26.4h0M37.7 27.1h0M66.6 5.5h0M51.3 -3h0M21.7 18.6h0M19.7 18.3h0M33.9 7.1h0M24.3 52.8h0M25 35.7h0M24.1 40.4h0M27 42.7h0M36.4 62h0M42.6 60.6h0M105.5 10.5h0M101.2 5.5h0M108.9 18.6h0M81.4 26.8h0M84.4 27.7h0M89 29.3h0M70.9 17.2h0M103.3 22.3h0M94.4 27.1h0M94.8 29.5h0M64.5 -2.8h0M14.9 189.2h0M15 187.7h0M34.2 164.9h0M24.6 186.4h0M54.9 183.1h0M57.6 196.3h0M26.1 196.5h0M30.3 200.7h0M21.9 191h0M47.3 204.7h0M48.5 203.9h0M25.6 231.1h0M39.1 215.4h0M299.6 7.2h0M303.8 17.6h0M310.2 -0.8h0M324.7 29.7h0M326.9 30.7h0M125.2 87.9h0M127.2 89.7h0M133.4 96h0M123.3 72.6h0M151.8 93.4h0M144.6 94.5h0M161.1 78.1h0M163.6 81.1h0M91.2 46.4h0M91.1 45.6h0M95.4 98.6h0M92.5 100.1h0M95.6 92.6h0M93.5 87.6h0M90.9 86.2h0M94 86.2h0M86.6 79h0M83.3 105h0M91.7 101.5h0M60.5 100h0M58.4 100.2h0M63.2 103.6h0M56.3 99.9h0M54.9 88.3h0M64.5 64.2h0M56.9 89.1h0M64 65.6h0M62 78.3h0M55.4 89.8h0M54.3 90.7h0M113.2 132.5h0M116.5 128.6h0M120.5 126.3h0M102.3 122.3h0M97.9 117h0M102 123.3h0M82.8 57.2h0M80.9 59.5h0M94.5 165.6h0M91.5 168.6h0M99.9 156.4h0M84.1 174.3h0M80.8 174.4h0M62.8 152.2h0M80.7 143.8h0M94.1 145.7h0M66.1 139.1h0M58.5 176h0M66.1 168.8h0M63.1 168.6h0M56.5 195.4h0M69.2 200.8h0M61.9 196.6h0M105.3 137.8h0M99.6 147.1h0M74 116.7h0M97 250.4h0M86.3 238.3h0M77.6 232.5h0M91.6 240.7h0M75.3 232.3h0M64.2 238.6h0M64.1 239.6h0M78 223.4h0M76.9 228.8h0M101.2 243.7h0M101.6 245.5h0M57.2 229.2h0M138.9 252.3h0M134.1 253.7h0M130.1 253.5h0M106.7 246.1h0M255 0.1h0M264.6 -1.8h0M281 10.2h0M293 10.1h0M281.3 10.7h0M299.4 1.1h0M261.7 5.9h0M209 35.3h0M202.4 45.9h0M219.2 19.6h0M218.5 19.5h0M197.9 3.4h0M188.5 44h0M188 23.6h0M194.9 51.2h0M191.3 48.3h0M199.4 49.8h0M214.3 53.8h0M223.5 56.6h0M223.6 55.6h0M209.7 50.5h0M229.8 58.2h0M224.5 56.6h0M236.4 53.7h0M236.6 52.9h0M246 30.8h0M232.5 25.2h0M227.3 23h0M222.3 21.2h0M247.1 30h0M243.4 28.8h0M263.2 13.7h0M214.2 -1.8h0M186 7h0M204.8 81.5h0M204.3 78.3h0M195 57.2h0M238.4 74.3h0M223.7 82.3h0M309 34h0M322.9 73.5h0M328.1 37.4h0M320.9 114.3h0M315.1 113.8h0M304.8 98.6h0M303.4 98.5h0M310.1 108.8h0M311.4 109.3h0M309.5 90.3h0M319.1 75.9h0M319.2 77.8h0M287.2 87.4h0M285.2 92.1h0M274.3 100h0M282.5 93.3h0M271.7 99.2h0M250.6 88.4h0M247.4 86.6h0M253.8 92.9h0M293.3 48.3h0M292 50.5h0M297.6 94.8h0M293.3 95.3h0M249.5 111.9h0M250 112.5h0M242.8 115.5h0M256.4 25.9h0M312 115.5h0M269 136.1h0M266.3 130.6h0M261.8 125.9h0M290.7 248.8h0M327.3 236.5h0M318 236.7h0M255.2 227.1h0M254.3 246.8h0M257.3 252h0M293.5 222.9h0M291.7 222.3h0M284.3 220.8h0M268.6 216.9h0M286.3 220.3h0M265.5 172.5h0M265.8 174.1h0M264.8 178.8h0M265.7 160.5h0M267 160.9h0M263.6 151.4h0M245.4 154.9h0M255.7 189.7h0M260.2 188.8h0M223.3 136h0M238.9 154.7h0M238 153.6h0M119.7 161.4h0M106 155.2h0M125.7 184.4h0M122.1 171.4h0M124.9 174.6h0M136 216.6h0M141.6 191.7h0M139.4 207.6h0M140 207.1h0M141.4 244h0M138.7 248.3h0M140.5 221h0M142.3 223.3h0M150.4 185.1h0M153 168.5h0M151.3 182.8h0M142.2 191.6h0M179.1 250.2h0M160.2 233.7h0M149.6 230h0M169.2 127.3h0M174.7 98.6h0M169.5 110.1h0M168.1 127.3h0M181.8 90.1h0M178.4 93.8h0M182.2 90.8h0M177.4 96.7h0M181.1 89.3h0M189.6 105.6h0M195.3 252.4h0M214.2 241.7h0M238.6 249.2h0M207.4 237.7h0M186.6 253.8h0M321.9 154.1h0M205.7 226.8h0M197.8 191.2h0M201.9 193.2h0M181.6 195.8h0M184.1 196h0M184 211.1h0M177.6 206.1h0M266 214.2h0M265.1 198.2h0M264.5 199.9h0M174.8 208.3h0M171.8 212.4h0M171.3 214.7h0M180.3 146.3h0M182.3 155.2h0M181.7 154.6h0M199 163.1h0M214.2 148.8h0M157.9 163.4h0M153.8 164.4h0M183.4 175.8h0M207.8 166.7h0M295.4 175.4h0M314 205.7h0M325.4 200.8h0M326.8 201.6h0M267.9 190.1h0M287.2 186.2h0M274.9 186.9h0M291.2 218.9h0M297.6 210.8h0M300.3 6.1h0M0.2 172h0M29 151.8h0M23.6 65h0M94.4 29.1h0M18.5 241.9h0M299.7 2.4h0M43.1 97.1h0M21.4 68.1h0M20.7 69.6h0M17.5 72.1h0M17.4 146.4h0M61.6 2.5h0M19.3 20.1h0M20.5 23.3h0M108 17.6h0M110.3 20.2h0M111.4 19.9h0M299.3 50.4h0M320.9 72.8h0M137 95.4h0M98.1 93.8h0M50.7 100.6h0M49.7 96.6h0M99 147.1h0M61.6 142.9h0M69 137.8h0M79.2 227.7h0M214.3 3.1h0M216 -1.4h0M258.1 106.8h0M252.4 249.1h0M293.6 236.3h0M293.9 218.6h0M123 189.7h0M140 217.5h0M154.3 191.3h0M142.5 193.2h0M237.3 251.7h0M191.1 248.1h0M175.1 202.6h0M179 154.4h0M185.5 161.7h0M186.2 165.2h0M204 161.7h0M105.2 10.9h0M179 33.1h0M182 45.4h0M106.4 44.2h0M104.8 33.4h0M142.9 77h0M179 35h0M113.3 55h0M183.5 48.1h0M184.1 16h0M133.3 82.7h0M122.2 73.2h0M188.9 40h0M187.1 37.3h0M181.5 60.9h0M187.3 53.2h0M180 -0.3h0M178.6 64.3h0M182.8 34.2h0" stroke="#9e5a8e" stroke-width="2.0" stroke-linecap="round" opacity="0.72"/>
<path d="M-2.4 205.1h0M7 181.2h0M21.9 246.5h0M23.5 249.8h0M26.2 253.3h0M19.7 244.8h0M10.6 226.3h0M14.8 232.4h0M8.8 224.5h0M7.9 223.1h0M5.7 152.8h0M0.7 160.9h0M20.8 150h0M16.5 146.8h0M31.2 152.4h0M41.2 145.4h0M47.8 126.3h0M50.6 136h0M42.5 122.4h0M6 84.7h0M6.2 85.4h0M9.3 77.6h0M44.4 102.8h0M40.4 106.5h0M44.2 98.9h0M20.9 71.8h0M-0.5 3.1h0M11.5 23.9h0M3.7 30.2h0M7.8 26.7h0M1.7 -1.1h0M-0.1 90.8h0M-1 90h0M5.9 62.2h0M4.8 59.8h0M9.9 64.1h0M38.4 28.4h0M29.2 26.4h0M41.4 28.1h0M65.6 18h0M60.7 20.9h0M62.5 20.1h0M66.4 13.9h0M67.1 15.7h0M65.2 -1.3h0M64.9 -2.7h0M45.2 -2.7h0M26.4 10.8h0M36.8 5.8h0M35.6 6.8h0M36 6.2h0M23.2 16.5h0M19.4 21h0M24 57.1h0M24.7 56.6h0M25.2 27.2h0M42.8 62.4h0M52.8 58.6h0M57.8 58.4h0M34.2 63.5h0M17 19.6h0M23 67.1h0M23 67.5h0M107.2 17.8h0M101.3 6.5h0M108.5 17.2h0M102.4 0h0M110.6 18.6h0M91.5 29.4h0M89.2 29.1h0M87 28.7h0M107.9 17.9h0M15.2 187.9h0M36.3 172.7h0M33.5 168.9h0M31.3 157.5h0M29.9 178.8h0M25.1 185.2h0M20.9 187.7h0M32.2 176.6h0M56.6 195.2h0M48.5 177.1h0M43.1 173.3h0M43.3 175.9h0M44.9 174.8h0M36.3 211h0M24 192.9h0M44.4 208.6h0M55 197.2h0M21.4 236.6h0M33.3 225.5h0M27.5 227.2h0M36.4 222.5h0M304 21.1h0M302.7 21h0M304.5 21.8h0M300.7 12.3h0M307.1 2h0M322.9 31.1h0M328.2 29.9h0M132.3 93.9h0M123.8 66.3h0M124.2 81.6h0M124.6 85h0M143 94.4h0M145.3 93.9h0M139.6 95.8h0M149 92.6h0M162.8 89.8h0M162.1 87.8h0M161.6 90h0M91.7 31.4h0M92.2 32.8h0M91.9 43.4h0M93.2 51h0M107.2 57.6h0M106.8 57.3h0M100.7 55.4h0M87.4 79.6h0M87 74h0M88.3 104h0M62.6 100.9h0M60.8 100.2h0M74.3 106.9h0M54.6 88.8h0M53.7 89.3h0M60.3 83.9h0M62.9 72.4h0M122.7 126.5h0M103.8 124.5h0M106.5 126.9h0M95.1 105.3h0M82.9 58.6h0M50.2 100.7h0M99.6 160.8h0M90.3 171.9h0M92.1 167.6h0M70.6 170h0M78.3 173.1h0M65.1 167.1h0M63.3 156.1h0M62.8 155.2h0M89.6 142.5h0M89.2 143.8h0M77.8 139.8h0M69.2 137.9h0M63.8 142.2h0M89.3 173.4h0M61.6 195.8h0M64.1 197.3h0M57.9 140.9h0M99.1 146.3h0M72.2 127.3h0M74.8 123.5h0M69.5 136h0M71.1 133.2h0M97 250.9h0M86.6 239.1h0M90.4 240.2h0M70.8 232.8h0M58.8 251.2h0M63 238.3h0M60.4 247.9h0M62.9 246.1h0M77.8 223.4h0M110.7 228.4h0M111.5 230.4h0M110.6 235.7h0M111.4 227.4h0M111.5 228h0M47.9 224.5h0M46.7 222.6h0M46.7 222.8h0M50.5 224.5h0M50 224.8h0M48.6 223h0M108 247.1h0M281.2 10.2h0M279.6 11.3h0M277.6 8.9h0M263.2 10.7h0M262.8 7.5h0M205.4 42.2h0M201.7 47.4h0M215.5 24.3h0M201.4 47.9h0M203.5 44.6h0M210.3 31.7h0M220 18.2h0M218.5 18.3h0M217.9 17.7h0M208 1.6h0M196.7 3.1h0M188 6.1h0M208.3 1.2h0M206.9 1.7h0M206.3 2.9h0M187.7 39.7h0M189.3 21.1h0M188.4 32.1h0M187.2 38.4h0M185.8 7.4h0M187.5 13.2h0M218.4 54h0M215.2 55.2h0M239.8 44.5h0M237.5 53.2h0M238.7 25.9h0M245.8 28.9h0M232.5 24.3h0M259.9 18.9h0M250.5 29.4h0M248.4 29.5h0M254.9 26.5h0M182.6 5.5h0M178.8 48.7h0M197.2 73.5h0M199.7 75.2h0M195.2 51.2h0M194 53.8h0M227.7 81.3h0M226.9 82.7h0M226.8 79h0M305.1 41.5h0M305.4 41.1h0M325.5 73.5h0M317.5 114.2h0M305 102.1h0M311.3 85.4h0M310 90.5h0M318.7 80.2h0M316.6 83.2h0M286.8 90.8h0M284.9 76.6h0M278.4 96.1h0M286.3 93.5h0M284.3 94.1h0M281.8 94.8h0M249.8 88h0M292.3 50.9h0M285.1 91.8h0M258.4 111.5h0M308.9 124.1h0M306.7 125.8h0M308.6 125h0M267.9 137.1h0M263.2 127.8h0M270.6 137.8h0M261.8 120.5h0M273.3 139.5h0M272.4 141.5h0M293.8 243.6h0M294.4 238.6h0M291.6 250.3h0M321.6 235.1h0M315.6 237.3h0M311.8 233.9h0M328.9 237.6h0M318.5 236h0M321.8 235.7h0M249.1 232.6h0M249 244.9h0M259.9 219.9h0M256.9 248.5h0M291.9 223.3h0M282 220.7h0M269.1 216h0M278.5 215.6h0M264.8 178.4h0M266.4 160.6h0M264.8 189.7h0M256.3 154.4h0M245 155.6h0M244.7 155.8h0M265.8 151.3h0M237.8 166.2h0M236.6 169.6h0M238.3 162h0M224.4 136h0M228.1 143.6h0M269.5 146.6h0M269.8 146.3h0M269.1 149.3h0M116.2 157.8h0M112.6 158.2h0M111.2 157.6h0M116.5 158.8h0M126.1 185.4h0M125.5 182.2h0M120.9 161.1h0M125.8 180.7h0M127.6 158.6h0M125.6 160.4h0M123.5 160.5h0M129.4 156.7h0M126.7 218h0M133.4 219.3h0M122.4 218h0M138.3 189.8h0M131.9 188.6h0M136.8 213.4h0M139.1 206h0M141 202.9h0M140.6 204.1h0M147.1 233.2h0M141.5 241.2h0M140.8 241.8h0M139.4 220.5h0M152.1 162.3h0M151.3 176.8h0M152.1 180.9h0M147.7 189.3h0M161.5 233.1h0M177.7 248.1h0M174.9 243.6h0M168.4 238.7h0M158.4 232.1h0M177.1 250.1h0M157.4 229.1h0M172.7 96.5h0M167 92.9h0M165.6 92.4h0M169.6 127.1h0M168.3 112.1h0M168.5 127.1h0M167.9 114.3h0M187.2 82.4h0M193.5 79.1h0M192.8 80.5h0M184.8 85h0M185.4 100h0M186.3 103.4h0M237.7 252.9h0M196.6 252.4h0M225.3 247.9h0M220.1 245.6h0M208.8 240.2h0M219.8 246.4h0M208.1 239.4h0M199.6 240.1h0M198.9 241.6h0M246.3 248.6h0M242 250.5h0M191.5 248.5h0M181.9 253.8h0M201.1 232.7h0M210.1 223.9h0M209.8 222.5h0M200.4 232.2h0M204.1 229.5h0M187.7 195.1h0M191.5 192.4h0M189.3 220.2h0M180 210h0M197.2 230.4h0M195.5 226.8h0M183.5 211.1h0M177.3 197.5h0M265.9 207h0M266.3 205.9h0M162.6 224.1h0M164.5 222.8h0M170.4 214.2h0M173.5 209.7h0M175.6 204.9h0M151.9 187.9h0M174 197.4h0M170.4 195.4h0M149.9 189.4h0M184.6 133.8h0M178.6 138h0M186.9 132.2h0M186.6 131.3h0M177.5 139.3h0M178.3 144.8h0M177.6 154.3h0M188.8 164.5h0M192 164.1h0M207.2 160.6h0M204.8 162.1h0M208.2 159.2h0M206.8 161.5h0M214 147.2h0M162.8 160.5h0M154.1 163.8h0M179.3 187.7h0M184.2 173.5h0M181.1 182.5h0M179.5 185.8h0M186.7 168.3h0M182.4 174.4h0M183 178.4h0M204.3 162h0M211.7 174.3h0M214.1 175.5h0M209.5 167.7h0M292.6 181.3h0M325.5 201.7h0M321.3 202.3h0M319.3 202.5h0M327.3 194.6h0M326.6 194.4h0M326.6 198.2h0M274.9 150.5h0M272.9 150.5h0M279.4 187.2h0M280.6 187.3h0M328.4 187.3h0M328 207.2h0M31.1 151h0M92.2 30.3h0M89.3 32.3h0M302 7.4h0M300.3 5.5h0M262.5 7.8h0M175.2 46.3h0M2.4 89.1h0M-0.4 95.3h0M3 152.7h0M2.1 159.5h0M17.1 147.5h0M21.5 24.8h0M25 27.5h0M56.6 177.2h0M56.3 175.5h0M23.9 185.8h0M54.1 194.3h0M59.2 193.2h0M40 215.9h0M228.8 59.2h0M301.1 46.1h0M319.9 71.4h0M137.8 95.4h0M247.1 230.3h0M96.2 90.9h0M93.1 98.9h0M93.1 102.1h0M79.2 108.1h0M73.5 112.1h0M75.8 109.6h0M78.4 109.1h0M50.1 97.6h0M99 150.3h0M61.3 141.6h0M68.9 140.2h0M70.2 138h0M70.6 138.9h0M136.4 246.7h0M213.5 2.8h0M214.3 3.7h0M187.3 49.1h0M221.2 140.1h0M285.4 90.9h0M261.5 104.9h0M253.6 243.4h0M275.7 143.8h0M269.9 148.1h0M271.3 145.5h0M292.6 237.1h0M288.5 222.8h0M289.6 223.5h0M267.8 153.2h0M266.6 191.9h0M265.6 190.8h0M263.9 185.6h0M126.3 186.1h0M126.2 187.7h0M125.3 182.3h0M152.4 190.9h0M149.3 186.4h0M146 192.1h0M141 187.2h0M160.4 229.3h0M151.5 230.4h0M146.6 228.4h0M236.5 252.5h0M238.1 251.2h0M181.2 196.4h0M175.1 199.5h0M177.3 197.4h0M174.2 141.5h0M182.2 141.7h0M176.4 136.4h0M183.2 153h0M189.4 164.8h0M186.1 165.6h0M218.1 140.8h0M219 137.3h0M303.8 202.9h0M327.2 201.5h0M322.8 204.4h0M109.5 49.6h0M114.8 56.6h0M118.9 80.9h0M145 85.2h0M166.8 81.2h0M177.3 76.7h0M188.6 27.3h0M103.5 56.5h0M180.9 47.1h0M100.1 6.4h0M129.5 78.8h0M116.2 43.2h0M164.7 79.4h0M172.5 88.8h0M162.5 83.2h0M104.9 49.7h0M184.5 58.7h0M103.7 45.6h0M176.1 59.3h0M192.4 17.2h0M182.9 68.9h0M187.6 13.4h0M190.1 -1.7h0M180.9 79.8h0M186.5 2.6h0M192.2 40.9h0M216.8 46.4h0M198.4 41h0M196.9 17.4h0M208.6 6.8h0M225 26.4h0M197.6 39.5h0M223.2 37.6h0M206.5 48.1h0M208.3 6.8h0M224.4 33.7h0M224.9 30.7h0M204.7 8h0M212.1 48.5h0M224.9 25.8h0M214.8 7.8h0M197.1 38.4h0M205.6 7.6h0M220.6 42.6h0M205.6 47.8h0M195.5 33.3h0M220.5 42.7h0M215.3 8.1h0M212.5 7h0M223.3 37.4h0M217.6 9.6h0M224.7 31.8h0" stroke="#9e5a8e" stroke-width="2.5" stroke-linecap="round" opacity="0.72"/>
<path d="M-1.2 202.8h0M12.6 227h0M12.1 228.9h0M-1.9 153.9h0M13 148.7h0M0.8 164.4h0M0.8 159h0M27.9 152.9h0M31.3 152h0M47.2 143.8h0M42.5 124h0M11.1 76.2h0M11.4 74.1h0M5.6 89.3h0M43.7 97h0M37.7 90h0M17.9 69.5h0M2.4 4.5h0M8.3 13.2h0M9.9 16.4h0M8.1 11.8h0M0.9 -0.3h0M3.8 59.8h0M12.4 68.2h0M66.4 9.8h0M55.8 -1.9h0M23.1 24.5h0M25 53.9h0M25.3 47.7h0M56.5 57.8h0M26.3 62.2h0M30.7 63.9h0M90 27.9h0M94 29.1h0M93 28.8h0M113.9 20.9h0M34.5 171.6h0M25.4 185.7h0M55 188.4h0M55.4 187h0M41 172.9h0M37.4 211.5h0M31.8 203.6h0M21.7 188.6h0M50.7 201.8h0M49.3 202.1h0M22.1 234.7h0M29.5 225.3h0M299.5 8.7h0M304.4 4.7h0M307.1 2.6h0M313.7 29.4h0M314.6 29.4h0M125.1 84.2h0M146.3 91.8h0M113.4 54.8h0M107.7 57.4h0M113 56h0M108 57.1h0M175.6 45.4h0M97.6 95.8h0M86.6 73.4h0M90.7 85.4h0M94.9 89.3h0M77.1 107.2h0M121.2 127h0M126.2 126.3h0M122 128h0M104.2 124.1h0M94.4 107h0M88.2 50.5h0M63.1 60h0M52.9 100h0M64.9 168.3h0M65.1 159.8h0M63.6 154.9h0M61.4 151.2h0M82.6 142.7h0M96.9 147.1h0M99.6 150.5h0M100.1 152.2h0M87.7 175.1h0M90.8 180.5h0M60.8 171.4h0M61.4 142.7h0M100.7 143.4h0M106.8 134.1h0M72.4 128.5h0M73.6 122.2h0M96.3 252.4h0M76.4 230.9h0M87 239.8h0M70.1 233.1h0M75.9 231.7h0M53.4 227.1h0M62.6 230.1h0M133.3 253.8h0M106 245.7h0M117.6 250.9h0M256 0.5h0M262.6 3.1h0M280.7 11.2h0M273.7 11h0M298.7 1.4h0M210.5 31.8h0M187.3 22.9h0M187.6 16.6h0M212.6 54.7h0M244.1 37.4h0M245.7 32.6h0M258.9 20.1h0M261.6 15.5h0M178.2 2.1h0M181.6 47.4h0M182.9 46.6h0M199.1 73.5h0M199.3 67h0M199.4 65.7h0M195.5 61h0M306.2 41.2h0M304.5 42.9h0M325.6 73.8h0M328 35.9h0M327.5 114.9h0M310.3 90.1h0M283.9 77.2h0M247.6 83h0M252.8 93.4h0M292.6 49h0M291.3 94.8h0M285.9 93.4h0M260.6 106.8h0M241.2 115.2h0M244.9 114.4h0M271.4 139.3h0M289.9 252.8h0M315.7 235.6h0M248.8 236h0M250.1 240.7h0M250.7 227.6h0M256.9 224.3h0M265.8 217.1h0M255.6 246.5h0M292.7 222.3h0M272.8 218h0M265.2 155.5h0M248.9 155.2h0M232.2 176.9h0M233.4 176.4h0M238.1 164.9h0M235.7 149h0M225 141.9h0M227.9 143.7h0M238.5 154.1h0M120.1 188.9h0M135.3 190.3h0M141.4 193.3h0M139.3 200.3h0M148.1 229.8h0M138.3 217.5h0M150 160h0M151.4 179.8h0M165.6 92.1h0M184.8 99.6h0M210.9 240.9h0M209.2 238.5h0M215.1 241.2h0M193.1 248.4h0M245.6 247.7h0M183.4 253.8h0M325.1 153.7h0M202.2 192.9h0M198.5 233.3h0M193 225.2h0M182.2 210h0M177.2 199.6h0M201 234.5h0M200.8 236h0M264.7 202.1h0M167.1 215.9h0M176 197.9h0M171.3 195.1h0M152.9 188.9h0M181.6 135.5h0M197.5 130.9h0M185.2 160h0M202.2 162.1h0M192.5 163.6h0M213.9 147.2h0M215.4 148h0M177.4 137.3h0M174.8 155.3h0M170.3 159h0M170.8 156.7h0M185.8 173.4h0M214.5 175.8h0M294.9 178.6h0M295.9 179.2h0M329.1 189.7h0M279.4 155.8h0M288.6 185.4h0M300.1 207.4h0M299 208.4h0M291.3 218h0M328.8 206.5h0M301.7 6.9h0M296.4 10.1h0M92.5 33.9h0M178.6 44.5h0M175.2 48.2h0M3 90.3h0M3.3 91.7h0M49.7 105.4h0M50.1 104.5h0M49.4 104h0M21.6 70h0M19.4 73.4h0M15.7 70.9h0M-1.6 155.3h0M3.3 155.9h0M18 146.7h0M17.1 144.6h0M15.6 19.3h0M16.4 17.2h0M19.2 21.6h0M63.3 0.8h0M67.2 11.9h0M65.3 17.4h0M27.9 22.2h0M98.7 2.2h0M100.3 -2.8h0M105.1 -1.4h0M108 20.8h0M110.5 21h0M105.2 134.3h0M54.6 175h0M55.2 174.3h0M54.6 196.4h0M106.1 242.5h0M235 57.3h0M230.9 60.5h0M300 48.9h0M323.8 30.1h0M256 112.2h0M134.7 101.4h0M247 226.9h0M98.6 93.3h0M97.3 96.4h0M92.5 98.9h0M58 144.4h0M62.5 141.2h0M100.1 243.3h0M63.4 230.8h0M257.1 4.8h0M185.3 44.2h0M186.6 46.4h0M223 136.1h0M283.9 93.7h0M288.3 91.5h0M283 92.5h0M261 104.6h0M260.6 107h0M268.7 137.8h0M294 235.2h0M264 217.3h0M264.4 217.6h0M265.2 214.8h0M289.6 222.4h0M262.4 186.7h0M139.8 217.2h0M143.8 188.7h0M157.2 227.5h0M238.4 252.8h0M195.7 234.2h0M178.9 200.1h0M177.9 195.7h0M181 138.8h0M205.7 160.9h0M218.7 137.4h0M221 141.6h0M323.8 199.1h0" stroke="#9e5a8e" stroke-width="3.0" stroke-linecap="round" opacity="0.72"/>
</g>
<rect x="284.7" y="241.5" width="40.3" height="8.5" fill="#fff" stroke="#555" stroke-width="1.2"/>
<text x="304.8" y="247.8" font-family="Liberation Sans, Arial, sans-serif" font-size="5.5" text-anchor="middle" fill="#333">50 μm</text>
</g>
</svg></body></html>
